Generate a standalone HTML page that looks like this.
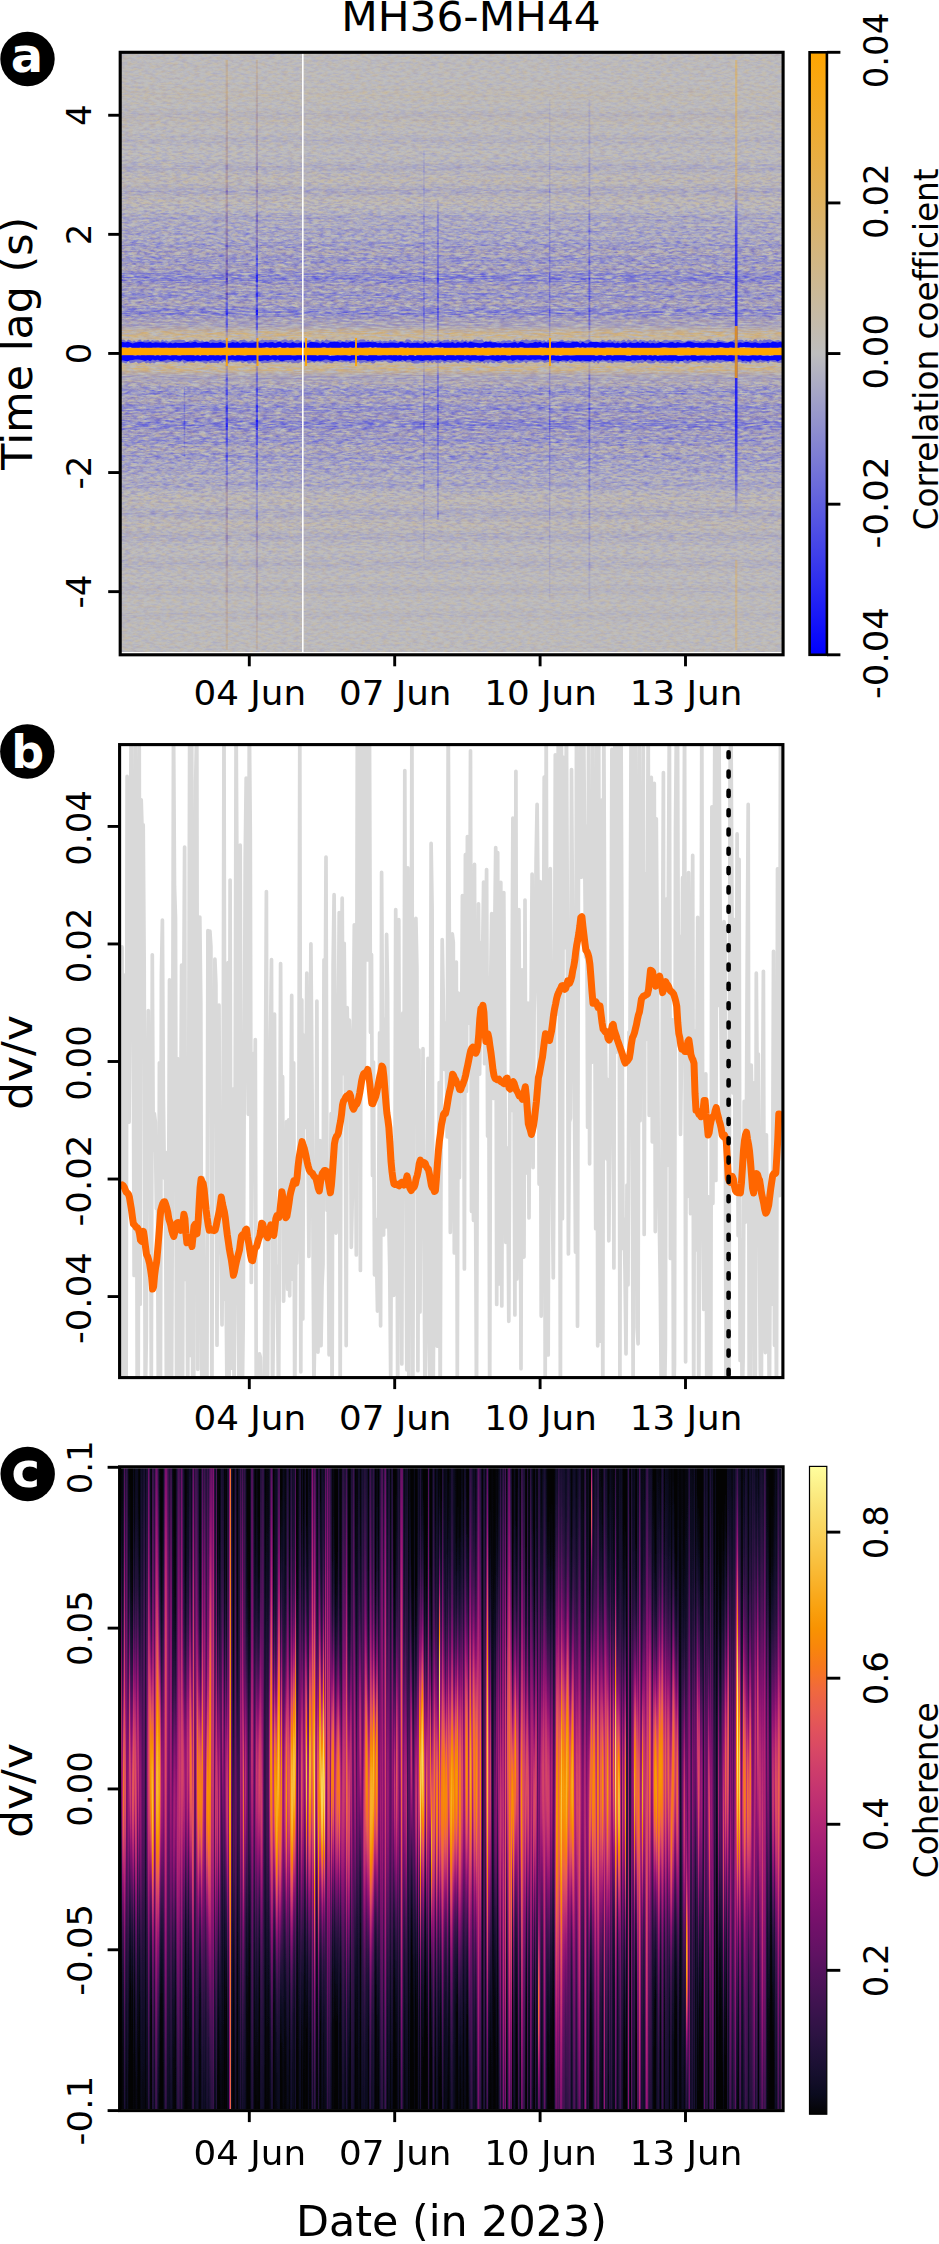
<!DOCTYPE html>
<html><head><meta charset="utf-8"><title>MH36-MH44</title>
<style>html,body{margin:0;padding:0;background:#fff;} svg{display:block;}</style>
</head><body>
<svg width="939" height="2244" viewBox="0 0 939 2244" font-family="'DejaVu Sans', Verdana, 'Liberation Sans', sans-serif" style="font-variant-ligatures:none">
<defs><linearGradient id="gRowA" x1="0" y1="52.3" x2="0" y2="652.2" gradientUnits="userSpaceOnUse"><stop offset="0.0000" stop-color="#fff" stop-opacity="0.250"/><stop offset="0.0033" stop-color="#fff" stop-opacity="0.250"/><stop offset="0.0067" stop-color="#fff" stop-opacity="0.250"/><stop offset="0.0100" stop-color="#fff" stop-opacity="0.250"/><stop offset="0.0133" stop-color="#fff" stop-opacity="0.250"/><stop offset="0.0167" stop-color="#fff" stop-opacity="0.250"/><stop offset="0.0200" stop-color="#fff" stop-opacity="0.250"/><stop offset="0.0233" stop-color="#fff" stop-opacity="0.250"/><stop offset="0.0267" stop-color="#fff" stop-opacity="0.250"/><stop offset="0.0300" stop-color="#fff" stop-opacity="0.250"/><stop offset="0.0333" stop-color="#fff" stop-opacity="0.250"/><stop offset="0.0367" stop-color="#fff" stop-opacity="0.250"/><stop offset="0.0400" stop-color="#fff" stop-opacity="0.250"/><stop offset="0.0433" stop-color="#fff" stop-opacity="0.250"/><stop offset="0.0467" stop-color="#fff" stop-opacity="0.250"/><stop offset="0.0500" stop-color="#fff" stop-opacity="0.250"/><stop offset="0.0533" stop-color="#fff" stop-opacity="0.250"/><stop offset="0.0567" stop-color="#fff" stop-opacity="0.250"/><stop offset="0.0600" stop-color="#fff" stop-opacity="0.250"/><stop offset="0.0633" stop-color="#fff" stop-opacity="0.250"/><stop offset="0.0667" stop-color="#fff" stop-opacity="0.250"/><stop offset="0.0700" stop-color="#fff" stop-opacity="0.250"/><stop offset="0.0733" stop-color="#fff" stop-opacity="0.250"/><stop offset="0.0767" stop-color="#fff" stop-opacity="0.250"/><stop offset="0.0800" stop-color="#fff" stop-opacity="0.250"/><stop offset="0.0833" stop-color="#fff" stop-opacity="0.252"/><stop offset="0.0867" stop-color="#fff" stop-opacity="0.257"/><stop offset="0.0900" stop-color="#fff" stop-opacity="0.262"/><stop offset="0.0933" stop-color="#fff" stop-opacity="0.267"/><stop offset="0.0967" stop-color="#fff" stop-opacity="0.272"/><stop offset="0.1000" stop-color="#fff" stop-opacity="0.277"/><stop offset="0.1033" stop-color="#fff" stop-opacity="0.282"/><stop offset="0.1067" stop-color="#fff" stop-opacity="0.287"/><stop offset="0.1100" stop-color="#fff" stop-opacity="0.292"/><stop offset="0.1133" stop-color="#fff" stop-opacity="0.297"/><stop offset="0.1167" stop-color="#fff" stop-opacity="0.302"/><stop offset="0.1200" stop-color="#fff" stop-opacity="0.307"/><stop offset="0.1233" stop-color="#fff" stop-opacity="0.312"/><stop offset="0.1267" stop-color="#fff" stop-opacity="0.317"/><stop offset="0.1300" stop-color="#fff" stop-opacity="0.322"/><stop offset="0.1333" stop-color="#fff" stop-opacity="0.327"/><stop offset="0.1367" stop-color="#fff" stop-opacity="0.332"/><stop offset="0.1400" stop-color="#fff" stop-opacity="0.337"/><stop offset="0.1433" stop-color="#fff" stop-opacity="0.342"/><stop offset="0.1467" stop-color="#fff" stop-opacity="0.347"/><stop offset="0.1500" stop-color="#fff" stop-opacity="0.352"/><stop offset="0.1533" stop-color="#fff" stop-opacity="0.357"/><stop offset="0.1567" stop-color="#fff" stop-opacity="0.362"/><stop offset="0.1600" stop-color="#fff" stop-opacity="0.367"/><stop offset="0.1633" stop-color="#fff" stop-opacity="0.372"/><stop offset="0.1667" stop-color="#fff" stop-opacity="0.377"/><stop offset="0.1700" stop-color="#fff" stop-opacity="0.382"/><stop offset="0.1733" stop-color="#fff" stop-opacity="0.387"/><stop offset="0.1767" stop-color="#fff" stop-opacity="0.392"/><stop offset="0.1800" stop-color="#fff" stop-opacity="0.397"/><stop offset="0.1833" stop-color="#fff" stop-opacity="0.402"/><stop offset="0.1867" stop-color="#fff" stop-opacity="0.407"/><stop offset="0.1900" stop-color="#fff" stop-opacity="0.412"/><stop offset="0.1933" stop-color="#fff" stop-opacity="0.417"/><stop offset="0.1967" stop-color="#fff" stop-opacity="0.422"/><stop offset="0.2000" stop-color="#fff" stop-opacity="0.427"/><stop offset="0.2033" stop-color="#fff" stop-opacity="0.432"/><stop offset="0.2067" stop-color="#fff" stop-opacity="0.437"/><stop offset="0.2100" stop-color="#fff" stop-opacity="0.442"/><stop offset="0.2133" stop-color="#fff" stop-opacity="0.447"/><stop offset="0.2167" stop-color="#fff" stop-opacity="0.452"/><stop offset="0.2200" stop-color="#fff" stop-opacity="0.457"/><stop offset="0.2233" stop-color="#fff" stop-opacity="0.462"/><stop offset="0.2267" stop-color="#fff" stop-opacity="0.467"/><stop offset="0.2300" stop-color="#fff" stop-opacity="0.472"/><stop offset="0.2333" stop-color="#fff" stop-opacity="0.477"/><stop offset="0.2367" stop-color="#fff" stop-opacity="0.482"/><stop offset="0.2400" stop-color="#fff" stop-opacity="0.487"/><stop offset="0.2433" stop-color="#fff" stop-opacity="0.492"/><stop offset="0.2467" stop-color="#fff" stop-opacity="0.497"/><stop offset="0.2500" stop-color="#fff" stop-opacity="0.508"/><stop offset="0.2533" stop-color="#fff" stop-opacity="0.528"/><stop offset="0.2567" stop-color="#fff" stop-opacity="0.548"/><stop offset="0.2600" stop-color="#fff" stop-opacity="0.568"/><stop offset="0.2633" stop-color="#fff" stop-opacity="0.588"/><stop offset="0.2667" stop-color="#fff" stop-opacity="0.608"/><stop offset="0.2700" stop-color="#fff" stop-opacity="0.628"/><stop offset="0.2733" stop-color="#fff" stop-opacity="0.648"/><stop offset="0.2767" stop-color="#fff" stop-opacity="0.668"/><stop offset="0.2800" stop-color="#fff" stop-opacity="0.688"/><stop offset="0.2833" stop-color="#fff" stop-opacity="0.708"/><stop offset="0.2867" stop-color="#fff" stop-opacity="0.728"/><stop offset="0.2900" stop-color="#fff" stop-opacity="0.748"/><stop offset="0.2933" stop-color="#fff" stop-opacity="0.768"/><stop offset="0.2967" stop-color="#fff" stop-opacity="0.788"/><stop offset="0.3000" stop-color="#fff" stop-opacity="0.808"/><stop offset="0.3033" stop-color="#fff" stop-opacity="0.828"/><stop offset="0.3067" stop-color="#fff" stop-opacity="0.848"/><stop offset="0.3100" stop-color="#fff" stop-opacity="0.868"/><stop offset="0.3133" stop-color="#fff" stop-opacity="0.888"/><stop offset="0.3167" stop-color="#fff" stop-opacity="0.908"/><stop offset="0.3200" stop-color="#fff" stop-opacity="0.928"/><stop offset="0.3233" stop-color="#fff" stop-opacity="0.948"/><stop offset="0.3267" stop-color="#fff" stop-opacity="0.968"/><stop offset="0.3300" stop-color="#fff" stop-opacity="0.988"/><stop offset="0.3333" stop-color="#fff" stop-opacity="1.000"/><stop offset="0.3367" stop-color="#fff" stop-opacity="1.000"/><stop offset="0.3400" stop-color="#fff" stop-opacity="1.000"/><stop offset="0.3433" stop-color="#fff" stop-opacity="1.000"/><stop offset="0.3467" stop-color="#fff" stop-opacity="1.000"/><stop offset="0.3500" stop-color="#fff" stop-opacity="1.000"/><stop offset="0.3533" stop-color="#fff" stop-opacity="1.000"/><stop offset="0.3567" stop-color="#fff" stop-opacity="1.000"/><stop offset="0.3600" stop-color="#fff" stop-opacity="1.000"/><stop offset="0.3633" stop-color="#fff" stop-opacity="1.000"/><stop offset="0.3667" stop-color="#fff" stop-opacity="1.000"/><stop offset="0.3700" stop-color="#fff" stop-opacity="1.000"/><stop offset="0.3733" stop-color="#fff" stop-opacity="1.000"/><stop offset="0.3767" stop-color="#fff" stop-opacity="1.000"/><stop offset="0.3800" stop-color="#fff" stop-opacity="1.000"/><stop offset="0.3833" stop-color="#fff" stop-opacity="1.000"/><stop offset="0.3867" stop-color="#fff" stop-opacity="1.000"/><stop offset="0.3900" stop-color="#fff" stop-opacity="1.000"/><stop offset="0.3933" stop-color="#fff" stop-opacity="1.000"/><stop offset="0.3967" stop-color="#fff" stop-opacity="1.000"/><stop offset="0.4000" stop-color="#fff" stop-opacity="1.000"/><stop offset="0.4033" stop-color="#fff" stop-opacity="1.000"/><stop offset="0.4067" stop-color="#fff" stop-opacity="1.000"/><stop offset="0.4100" stop-color="#fff" stop-opacity="1.000"/><stop offset="0.4133" stop-color="#fff" stop-opacity="1.000"/><stop offset="0.4167" stop-color="#fff" stop-opacity="1.000"/><stop offset="0.4200" stop-color="#fff" stop-opacity="1.000"/><stop offset="0.4233" stop-color="#fff" stop-opacity="1.000"/><stop offset="0.4267" stop-color="#fff" stop-opacity="1.000"/><stop offset="0.4300" stop-color="#fff" stop-opacity="1.000"/><stop offset="0.4333" stop-color="#fff" stop-opacity="1.000"/><stop offset="0.4367" stop-color="#fff" stop-opacity="1.000"/><stop offset="0.4400" stop-color="#fff" stop-opacity="0.952"/><stop offset="0.4433" stop-color="#fff" stop-opacity="0.825"/><stop offset="0.4467" stop-color="#fff" stop-opacity="0.697"/><stop offset="0.4500" stop-color="#fff" stop-opacity="0.570"/><stop offset="0.4533" stop-color="#fff" stop-opacity="0.443"/><stop offset="0.4567" stop-color="#fff" stop-opacity="0.316"/><stop offset="0.4600" stop-color="#fff" stop-opacity="0.300"/><stop offset="0.4633" stop-color="#fff" stop-opacity="0.300"/><stop offset="0.4667" stop-color="#fff" stop-opacity="0.300"/><stop offset="0.4700" stop-color="#fff" stop-opacity="0.300"/><stop offset="0.4733" stop-color="#fff" stop-opacity="0.300"/><stop offset="0.4767" stop-color="#fff" stop-opacity="0.300"/><stop offset="0.4800" stop-color="#fff" stop-opacity="0.300"/><stop offset="0.4833" stop-color="#fff" stop-opacity="0.300"/><stop offset="0.4867" stop-color="#fff" stop-opacity="0.300"/><stop offset="0.4900" stop-color="#fff" stop-opacity="0.300"/><stop offset="0.4933" stop-color="#fff" stop-opacity="0.300"/><stop offset="0.4967" stop-color="#fff" stop-opacity="0.300"/><stop offset="0.5000" stop-color="#fff" stop-opacity="0.300"/><stop offset="0.5033" stop-color="#fff" stop-opacity="0.300"/><stop offset="0.5067" stop-color="#fff" stop-opacity="0.300"/><stop offset="0.5100" stop-color="#fff" stop-opacity="0.300"/><stop offset="0.5133" stop-color="#fff" stop-opacity="0.300"/><stop offset="0.5167" stop-color="#fff" stop-opacity="0.300"/><stop offset="0.5200" stop-color="#fff" stop-opacity="0.300"/><stop offset="0.5233" stop-color="#fff" stop-opacity="0.300"/><stop offset="0.5267" stop-color="#fff" stop-opacity="0.300"/><stop offset="0.5300" stop-color="#fff" stop-opacity="0.300"/><stop offset="0.5333" stop-color="#fff" stop-opacity="0.300"/><stop offset="0.5367" stop-color="#fff" stop-opacity="0.300"/><stop offset="0.5400" stop-color="#fff" stop-opacity="0.300"/><stop offset="0.5433" stop-color="#fff" stop-opacity="0.411"/><stop offset="0.5467" stop-color="#fff" stop-opacity="0.538"/><stop offset="0.5500" stop-color="#fff" stop-opacity="0.666"/><stop offset="0.5533" stop-color="#fff" stop-opacity="0.793"/><stop offset="0.5567" stop-color="#fff" stop-opacity="0.920"/><stop offset="0.5600" stop-color="#fff" stop-opacity="1.000"/><stop offset="0.5633" stop-color="#fff" stop-opacity="1.000"/><stop offset="0.5667" stop-color="#fff" stop-opacity="1.000"/><stop offset="0.5700" stop-color="#fff" stop-opacity="1.000"/><stop offset="0.5733" stop-color="#fff" stop-opacity="1.000"/><stop offset="0.5767" stop-color="#fff" stop-opacity="1.000"/><stop offset="0.5800" stop-color="#fff" stop-opacity="1.000"/><stop offset="0.5833" stop-color="#fff" stop-opacity="1.000"/><stop offset="0.5867" stop-color="#fff" stop-opacity="1.000"/><stop offset="0.5900" stop-color="#fff" stop-opacity="1.000"/><stop offset="0.5933" stop-color="#fff" stop-opacity="1.000"/><stop offset="0.5967" stop-color="#fff" stop-opacity="1.000"/><stop offset="0.6000" stop-color="#fff" stop-opacity="1.000"/><stop offset="0.6033" stop-color="#fff" stop-opacity="1.000"/><stop offset="0.6067" stop-color="#fff" stop-opacity="1.000"/><stop offset="0.6100" stop-color="#fff" stop-opacity="1.000"/><stop offset="0.6133" stop-color="#fff" stop-opacity="1.000"/><stop offset="0.6167" stop-color="#fff" stop-opacity="1.000"/><stop offset="0.6200" stop-color="#fff" stop-opacity="1.000"/><stop offset="0.6233" stop-color="#fff" stop-opacity="1.000"/><stop offset="0.6267" stop-color="#fff" stop-opacity="1.000"/><stop offset="0.6300" stop-color="#fff" stop-opacity="1.000"/><stop offset="0.6333" stop-color="#fff" stop-opacity="1.000"/><stop offset="0.6367" stop-color="#fff" stop-opacity="1.000"/><stop offset="0.6400" stop-color="#fff" stop-opacity="1.000"/><stop offset="0.6433" stop-color="#fff" stop-opacity="1.000"/><stop offset="0.6467" stop-color="#fff" stop-opacity="1.000"/><stop offset="0.6500" stop-color="#fff" stop-opacity="1.000"/><stop offset="0.6533" stop-color="#fff" stop-opacity="1.000"/><stop offset="0.6567" stop-color="#fff" stop-opacity="1.000"/><stop offset="0.6600" stop-color="#fff" stop-opacity="1.000"/><stop offset="0.6633" stop-color="#fff" stop-opacity="1.000"/><stop offset="0.6667" stop-color="#fff" stop-opacity="0.993"/><stop offset="0.6700" stop-color="#fff" stop-opacity="0.973"/><stop offset="0.6733" stop-color="#fff" stop-opacity="0.953"/><stop offset="0.6767" stop-color="#fff" stop-opacity="0.933"/><stop offset="0.6800" stop-color="#fff" stop-opacity="0.913"/><stop offset="0.6833" stop-color="#fff" stop-opacity="0.893"/><stop offset="0.6867" stop-color="#fff" stop-opacity="0.873"/><stop offset="0.6900" stop-color="#fff" stop-opacity="0.853"/><stop offset="0.6933" stop-color="#fff" stop-opacity="0.833"/><stop offset="0.6967" stop-color="#fff" stop-opacity="0.813"/><stop offset="0.7000" stop-color="#fff" stop-opacity="0.793"/><stop offset="0.7033" stop-color="#fff" stop-opacity="0.773"/><stop offset="0.7067" stop-color="#fff" stop-opacity="0.753"/><stop offset="0.7100" stop-color="#fff" stop-opacity="0.733"/><stop offset="0.7133" stop-color="#fff" stop-opacity="0.713"/><stop offset="0.7167" stop-color="#fff" stop-opacity="0.693"/><stop offset="0.7200" stop-color="#fff" stop-opacity="0.673"/><stop offset="0.7233" stop-color="#fff" stop-opacity="0.653"/><stop offset="0.7267" stop-color="#fff" stop-opacity="0.633"/><stop offset="0.7300" stop-color="#fff" stop-opacity="0.613"/><stop offset="0.7333" stop-color="#fff" stop-opacity="0.593"/><stop offset="0.7367" stop-color="#fff" stop-opacity="0.573"/><stop offset="0.7400" stop-color="#fff" stop-opacity="0.553"/><stop offset="0.7433" stop-color="#fff" stop-opacity="0.533"/><stop offset="0.7467" stop-color="#fff" stop-opacity="0.513"/><stop offset="0.7500" stop-color="#fff" stop-opacity="0.498"/><stop offset="0.7533" stop-color="#fff" stop-opacity="0.493"/><stop offset="0.7567" stop-color="#fff" stop-opacity="0.488"/><stop offset="0.7600" stop-color="#fff" stop-opacity="0.483"/><stop offset="0.7633" stop-color="#fff" stop-opacity="0.478"/><stop offset="0.7667" stop-color="#fff" stop-opacity="0.473"/><stop offset="0.7700" stop-color="#fff" stop-opacity="0.468"/><stop offset="0.7733" stop-color="#fff" stop-opacity="0.463"/><stop offset="0.7767" stop-color="#fff" stop-opacity="0.458"/><stop offset="0.7800" stop-color="#fff" stop-opacity="0.453"/><stop offset="0.7833" stop-color="#fff" stop-opacity="0.448"/><stop offset="0.7867" stop-color="#fff" stop-opacity="0.443"/><stop offset="0.7900" stop-color="#fff" stop-opacity="0.438"/><stop offset="0.7933" stop-color="#fff" stop-opacity="0.433"/><stop offset="0.7967" stop-color="#fff" stop-opacity="0.428"/><stop offset="0.8000" stop-color="#fff" stop-opacity="0.423"/><stop offset="0.8033" stop-color="#fff" stop-opacity="0.418"/><stop offset="0.8067" stop-color="#fff" stop-opacity="0.413"/><stop offset="0.8100" stop-color="#fff" stop-opacity="0.408"/><stop offset="0.8133" stop-color="#fff" stop-opacity="0.403"/><stop offset="0.8167" stop-color="#fff" stop-opacity="0.398"/><stop offset="0.8200" stop-color="#fff" stop-opacity="0.393"/><stop offset="0.8233" stop-color="#fff" stop-opacity="0.388"/><stop offset="0.8267" stop-color="#fff" stop-opacity="0.383"/><stop offset="0.8300" stop-color="#fff" stop-opacity="0.378"/><stop offset="0.8333" stop-color="#fff" stop-opacity="0.373"/><stop offset="0.8367" stop-color="#fff" stop-opacity="0.368"/><stop offset="0.8400" stop-color="#fff" stop-opacity="0.363"/><stop offset="0.8433" stop-color="#fff" stop-opacity="0.358"/><stop offset="0.8467" stop-color="#fff" stop-opacity="0.353"/><stop offset="0.8500" stop-color="#fff" stop-opacity="0.348"/><stop offset="0.8533" stop-color="#fff" stop-opacity="0.343"/><stop offset="0.8567" stop-color="#fff" stop-opacity="0.338"/><stop offset="0.8600" stop-color="#fff" stop-opacity="0.333"/><stop offset="0.8633" stop-color="#fff" stop-opacity="0.328"/><stop offset="0.8667" stop-color="#fff" stop-opacity="0.323"/><stop offset="0.8700" stop-color="#fff" stop-opacity="0.318"/><stop offset="0.8733" stop-color="#fff" stop-opacity="0.313"/><stop offset="0.8767" stop-color="#fff" stop-opacity="0.308"/><stop offset="0.8800" stop-color="#fff" stop-opacity="0.303"/><stop offset="0.8833" stop-color="#fff" stop-opacity="0.298"/><stop offset="0.8867" stop-color="#fff" stop-opacity="0.293"/><stop offset="0.8900" stop-color="#fff" stop-opacity="0.288"/><stop offset="0.8933" stop-color="#fff" stop-opacity="0.283"/><stop offset="0.8967" stop-color="#fff" stop-opacity="0.278"/><stop offset="0.9000" stop-color="#fff" stop-opacity="0.273"/><stop offset="0.9033" stop-color="#fff" stop-opacity="0.268"/><stop offset="0.9067" stop-color="#fff" stop-opacity="0.263"/><stop offset="0.9100" stop-color="#fff" stop-opacity="0.258"/><stop offset="0.9133" stop-color="#fff" stop-opacity="0.253"/><stop offset="0.9167" stop-color="#fff" stop-opacity="0.250"/><stop offset="0.9200" stop-color="#fff" stop-opacity="0.250"/><stop offset="0.9233" stop-color="#fff" stop-opacity="0.250"/><stop offset="0.9267" stop-color="#fff" stop-opacity="0.250"/><stop offset="0.9300" stop-color="#fff" stop-opacity="0.250"/><stop offset="0.9333" stop-color="#fff" stop-opacity="0.250"/><stop offset="0.9367" stop-color="#fff" stop-opacity="0.250"/><stop offset="0.9400" stop-color="#fff" stop-opacity="0.250"/><stop offset="0.9433" stop-color="#fff" stop-opacity="0.250"/><stop offset="0.9467" stop-color="#fff" stop-opacity="0.250"/><stop offset="0.9500" stop-color="#fff" stop-opacity="0.250"/><stop offset="0.9533" stop-color="#fff" stop-opacity="0.250"/><stop offset="0.9567" stop-color="#fff" stop-opacity="0.250"/><stop offset="0.9600" stop-color="#fff" stop-opacity="0.250"/><stop offset="0.9633" stop-color="#fff" stop-opacity="0.250"/><stop offset="0.9667" stop-color="#fff" stop-opacity="0.250"/><stop offset="0.9700" stop-color="#fff" stop-opacity="0.250"/><stop offset="0.9733" stop-color="#fff" stop-opacity="0.250"/><stop offset="0.9767" stop-color="#fff" stop-opacity="0.250"/><stop offset="0.9800" stop-color="#fff" stop-opacity="0.250"/><stop offset="0.9833" stop-color="#fff" stop-opacity="0.250"/><stop offset="0.9867" stop-color="#fff" stop-opacity="0.250"/><stop offset="0.9900" stop-color="#fff" stop-opacity="0.250"/><stop offset="0.9933" stop-color="#fff" stop-opacity="0.250"/><stop offset="0.9967" stop-color="#fff" stop-opacity="0.250"/><stop offset="1.0000" stop-color="#fff" stop-opacity="0.250"/></linearGradient>
<linearGradient id="gBandB" x1="0" y1="52.3" x2="0" y2="652.2" gradientUnits="userSpaceOnUse"><stop offset="0.0000" stop-color="#0000ff" stop-opacity="0.000"/><stop offset="0.0033" stop-color="#0000ff" stop-opacity="0.000"/><stop offset="0.0067" stop-color="#0000ff" stop-opacity="0.000"/><stop offset="0.0100" stop-color="#0000ff" stop-opacity="0.000"/><stop offset="0.0133" stop-color="#0000ff" stop-opacity="0.000"/><stop offset="0.0167" stop-color="#0000ff" stop-opacity="0.000"/><stop offset="0.0200" stop-color="#0000ff" stop-opacity="0.000"/><stop offset="0.0233" stop-color="#0000ff" stop-opacity="0.000"/><stop offset="0.0267" stop-color="#0000ff" stop-opacity="0.000"/><stop offset="0.0300" stop-color="#0000ff" stop-opacity="0.000"/><stop offset="0.0333" stop-color="#0000ff" stop-opacity="0.000"/><stop offset="0.0367" stop-color="#0000ff" stop-opacity="0.000"/><stop offset="0.0400" stop-color="#0000ff" stop-opacity="0.000"/><stop offset="0.0433" stop-color="#0000ff" stop-opacity="0.000"/><stop offset="0.0467" stop-color="#0000ff" stop-opacity="0.000"/><stop offset="0.0500" stop-color="#0000ff" stop-opacity="0.000"/><stop offset="0.0533" stop-color="#0000ff" stop-opacity="0.000"/><stop offset="0.0567" stop-color="#0000ff" stop-opacity="0.000"/><stop offset="0.0600" stop-color="#0000ff" stop-opacity="0.000"/><stop offset="0.0633" stop-color="#0000ff" stop-opacity="0.000"/><stop offset="0.0667" stop-color="#0000ff" stop-opacity="0.000"/><stop offset="0.0700" stop-color="#0000ff" stop-opacity="0.000"/><stop offset="0.0733" stop-color="#0000ff" stop-opacity="0.000"/><stop offset="0.0767" stop-color="#0000ff" stop-opacity="0.000"/><stop offset="0.0800" stop-color="#0000ff" stop-opacity="0.000"/><stop offset="0.0833" stop-color="#0000ff" stop-opacity="0.000"/><stop offset="0.0867" stop-color="#0000ff" stop-opacity="0.000"/><stop offset="0.0900" stop-color="#0000ff" stop-opacity="0.001"/><stop offset="0.0933" stop-color="#0000ff" stop-opacity="0.004"/><stop offset="0.0967" stop-color="#0000ff" stop-opacity="0.015"/><stop offset="0.1000" stop-color="#0000ff" stop-opacity="0.033"/><stop offset="0.1033" stop-color="#0000ff" stop-opacity="0.049"/><stop offset="0.1067" stop-color="#0000ff" stop-opacity="0.046"/><stop offset="0.1100" stop-color="#0000ff" stop-opacity="0.027"/><stop offset="0.1133" stop-color="#0000ff" stop-opacity="0.011"/><stop offset="0.1167" stop-color="#0000ff" stop-opacity="0.003"/><stop offset="0.1200" stop-color="#0000ff" stop-opacity="0.000"/><stop offset="0.1233" stop-color="#0000ff" stop-opacity="0.000"/><stop offset="0.1267" stop-color="#0000ff" stop-opacity="0.000"/><stop offset="0.1300" stop-color="#0000ff" stop-opacity="0.000"/><stop offset="0.1333" stop-color="#0000ff" stop-opacity="0.002"/><stop offset="0.1367" stop-color="#0000ff" stop-opacity="0.010"/><stop offset="0.1400" stop-color="#0000ff" stop-opacity="0.028"/><stop offset="0.1433" stop-color="#0000ff" stop-opacity="0.051"/><stop offset="0.1467" stop-color="#0000ff" stop-opacity="0.060"/><stop offset="0.1500" stop-color="#0000ff" stop-opacity="0.045"/><stop offset="0.1533" stop-color="#0000ff" stop-opacity="0.022"/><stop offset="0.1567" stop-color="#0000ff" stop-opacity="0.007"/><stop offset="0.1600" stop-color="#0000ff" stop-opacity="0.001"/><stop offset="0.1633" stop-color="#0000ff" stop-opacity="0.000"/><stop offset="0.1667" stop-color="#0000ff" stop-opacity="0.000"/><stop offset="0.1700" stop-color="#0000ff" stop-opacity="0.000"/><stop offset="0.1733" stop-color="#0000ff" stop-opacity="0.000"/><stop offset="0.1767" stop-color="#0000ff" stop-opacity="0.001"/><stop offset="0.1800" stop-color="#0000ff" stop-opacity="0.005"/><stop offset="0.1833" stop-color="#0000ff" stop-opacity="0.020"/><stop offset="0.1867" stop-color="#0000ff" stop-opacity="0.052"/><stop offset="0.1900" stop-color="#0000ff" stop-opacity="0.089"/><stop offset="0.1933" stop-color="#0000ff" stop-opacity="0.098"/><stop offset="0.1967" stop-color="#0000ff" stop-opacity="0.069"/><stop offset="0.2000" stop-color="#0000ff" stop-opacity="0.031"/><stop offset="0.2033" stop-color="#0000ff" stop-opacity="0.009"/><stop offset="0.2067" stop-color="#0000ff" stop-opacity="0.002"/><stop offset="0.2100" stop-color="#0000ff" stop-opacity="0.000"/><stop offset="0.2133" stop-color="#0000ff" stop-opacity="0.000"/><stop offset="0.2167" stop-color="#0000ff" stop-opacity="0.002"/><stop offset="0.2200" stop-color="#0000ff" stop-opacity="0.010"/><stop offset="0.2233" stop-color="#0000ff" stop-opacity="0.035"/><stop offset="0.2267" stop-color="#0000ff" stop-opacity="0.079"/><stop offset="0.2300" stop-color="#0000ff" stop-opacity="0.117"/><stop offset="0.2333" stop-color="#0000ff" stop-opacity="0.110"/><stop offset="0.2367" stop-color="#0000ff" stop-opacity="0.066"/><stop offset="0.2400" stop-color="#0000ff" stop-opacity="0.026"/><stop offset="0.2433" stop-color="#0000ff" stop-opacity="0.006"/><stop offset="0.2467" stop-color="#0000ff" stop-opacity="0.001"/><stop offset="0.2500" stop-color="#0000ff" stop-opacity="0.000"/><stop offset="0.2533" stop-color="#0000ff" stop-opacity="0.000"/><stop offset="0.2567" stop-color="#0000ff" stop-opacity="0.000"/><stop offset="0.2600" stop-color="#0000ff" stop-opacity="0.002"/><stop offset="0.2633" stop-color="#0000ff" stop-opacity="0.009"/><stop offset="0.2667" stop-color="#0000ff" stop-opacity="0.028"/><stop offset="0.2700" stop-color="#0000ff" stop-opacity="0.065"/><stop offset="0.2733" stop-color="#0000ff" stop-opacity="0.108"/><stop offset="0.2767" stop-color="#0000ff" stop-opacity="0.130"/><stop offset="0.2800" stop-color="#0000ff" stop-opacity="0.114"/><stop offset="0.2833" stop-color="#0000ff" stop-opacity="0.077"/><stop offset="0.2867" stop-color="#0000ff" stop-opacity="0.053"/><stop offset="0.2900" stop-color="#0000ff" stop-opacity="0.063"/><stop offset="0.2933" stop-color="#0000ff" stop-opacity="0.099"/><stop offset="0.2967" stop-color="#0000ff" stop-opacity="0.129"/><stop offset="0.3000" stop-color="#0000ff" stop-opacity="0.124"/><stop offset="0.3033" stop-color="#0000ff" stop-opacity="0.089"/><stop offset="0.3067" stop-color="#0000ff" stop-opacity="0.056"/><stop offset="0.3100" stop-color="#0000ff" stop-opacity="0.051"/><stop offset="0.3133" stop-color="#0000ff" stop-opacity="0.080"/><stop offset="0.3167" stop-color="#0000ff" stop-opacity="0.128"/><stop offset="0.3200" stop-color="#0000ff" stop-opacity="0.168"/><stop offset="0.3233" stop-color="#0000ff" stop-opacity="0.175"/><stop offset="0.3267" stop-color="#0000ff" stop-opacity="0.146"/><stop offset="0.3300" stop-color="#0000ff" stop-opacity="0.104"/><stop offset="0.3333" stop-color="#0000ff" stop-opacity="0.082"/><stop offset="0.3367" stop-color="#0000ff" stop-opacity="0.097"/><stop offset="0.3400" stop-color="#0000ff" stop-opacity="0.141"/><stop offset="0.3433" stop-color="#0000ff" stop-opacity="0.188"/><stop offset="0.3467" stop-color="#0000ff" stop-opacity="0.207"/><stop offset="0.3500" stop-color="#0000ff" stop-opacity="0.186"/><stop offset="0.3533" stop-color="#0000ff" stop-opacity="0.144"/><stop offset="0.3567" stop-color="#0000ff" stop-opacity="0.111"/><stop offset="0.3600" stop-color="#0000ff" stop-opacity="0.109"/><stop offset="0.3633" stop-color="#0000ff" stop-opacity="0.144"/><stop offset="0.3667" stop-color="#0000ff" stop-opacity="0.207"/><stop offset="0.3700" stop-color="#0000ff" stop-opacity="0.281"/><stop offset="0.3733" stop-color="#0000ff" stop-opacity="0.338"/><stop offset="0.3767" stop-color="#0000ff" stop-opacity="0.358"/><stop offset="0.3800" stop-color="#0000ff" stop-opacity="0.330"/><stop offset="0.3833" stop-color="#0000ff" stop-opacity="0.269"/><stop offset="0.3867" stop-color="#0000ff" stop-opacity="0.200"/><stop offset="0.3900" stop-color="#0000ff" stop-opacity="0.146"/><stop offset="0.3933" stop-color="#0000ff" stop-opacity="0.125"/><stop offset="0.3967" stop-color="#0000ff" stop-opacity="0.142"/><stop offset="0.4000" stop-color="#0000ff" stop-opacity="0.187"/><stop offset="0.4033" stop-color="#0000ff" stop-opacity="0.233"/><stop offset="0.4067" stop-color="#0000ff" stop-opacity="0.246"/><stop offset="0.4100" stop-color="#0000ff" stop-opacity="0.215"/><stop offset="0.4133" stop-color="#0000ff" stop-opacity="0.159"/><stop offset="0.4167" stop-color="#0000ff" stop-opacity="0.117"/><stop offset="0.4200" stop-color="#0000ff" stop-opacity="0.113"/><stop offset="0.4233" stop-color="#0000ff" stop-opacity="0.156"/><stop offset="0.4267" stop-color="#0000ff" stop-opacity="0.229"/><stop offset="0.4300" stop-color="#0000ff" stop-opacity="0.302"/><stop offset="0.4333" stop-color="#0000ff" stop-opacity="0.336"/><stop offset="0.4367" stop-color="#0000ff" stop-opacity="0.311"/><stop offset="0.4400" stop-color="#0000ff" stop-opacity="0.245"/><stop offset="0.4433" stop-color="#0000ff" stop-opacity="0.178"/><stop offset="0.4467" stop-color="#0000ff" stop-opacity="0.151"/><stop offset="0.4500" stop-color="#0000ff" stop-opacity="0.168"/><stop offset="0.4533" stop-color="#0000ff" stop-opacity="0.191"/><stop offset="0.4567" stop-color="#0000ff" stop-opacity="0.175"/><stop offset="0.4600" stop-color="#0000ff" stop-opacity="0.120"/><stop offset="0.4633" stop-color="#0000ff" stop-opacity="0.060"/><stop offset="0.4667" stop-color="#0000ff" stop-opacity="0.022"/><stop offset="0.4700" stop-color="#0000ff" stop-opacity="0.007"/><stop offset="0.4733" stop-color="#0000ff" stop-opacity="0.002"/><stop offset="0.4767" stop-color="#0000ff" stop-opacity="0.001"/><stop offset="0.4800" stop-color="#0000ff" stop-opacity="0.000"/><stop offset="0.4833" stop-color="#0000ff" stop-opacity="0.000"/><stop offset="0.4867" stop-color="#0000ff" stop-opacity="0.000"/><stop offset="0.4900" stop-color="#0000ff" stop-opacity="0.000"/><stop offset="0.4933" stop-color="#0000ff" stop-opacity="0.000"/><stop offset="0.4967" stop-color="#0000ff" stop-opacity="0.000"/><stop offset="0.5000" stop-color="#0000ff" stop-opacity="0.000"/><stop offset="0.5033" stop-color="#0000ff" stop-opacity="0.000"/><stop offset="0.5067" stop-color="#0000ff" stop-opacity="0.000"/><stop offset="0.5100" stop-color="#0000ff" stop-opacity="0.000"/><stop offset="0.5133" stop-color="#0000ff" stop-opacity="0.000"/><stop offset="0.5167" stop-color="#0000ff" stop-opacity="0.000"/><stop offset="0.5200" stop-color="#0000ff" stop-opacity="0.000"/><stop offset="0.5233" stop-color="#0000ff" stop-opacity="0.001"/><stop offset="0.5267" stop-color="#0000ff" stop-opacity="0.005"/><stop offset="0.5300" stop-color="#0000ff" stop-opacity="0.019"/><stop offset="0.5333" stop-color="#0000ff" stop-opacity="0.054"/><stop offset="0.5367" stop-color="#0000ff" stop-opacity="0.112"/><stop offset="0.5400" stop-color="#0000ff" stop-opacity="0.167"/><stop offset="0.5433" stop-color="#0000ff" stop-opacity="0.181"/><stop offset="0.5467" stop-color="#0000ff" stop-opacity="0.145"/><stop offset="0.5500" stop-color="#0000ff" stop-opacity="0.094"/><stop offset="0.5533" stop-color="#0000ff" stop-opacity="0.071"/><stop offset="0.5567" stop-color="#0000ff" stop-opacity="0.096"/><stop offset="0.5600" stop-color="#0000ff" stop-opacity="0.154"/><stop offset="0.5633" stop-color="#0000ff" stop-opacity="0.213"/><stop offset="0.5667" stop-color="#0000ff" stop-opacity="0.236"/><stop offset="0.5700" stop-color="#0000ff" stop-opacity="0.208"/><stop offset="0.5733" stop-color="#0000ff" stop-opacity="0.151"/><stop offset="0.5767" stop-color="#0000ff" stop-opacity="0.102"/><stop offset="0.5800" stop-color="#0000ff" stop-opacity="0.086"/><stop offset="0.5833" stop-color="#0000ff" stop-opacity="0.113"/><stop offset="0.5867" stop-color="#0000ff" stop-opacity="0.172"/><stop offset="0.5900" stop-color="#0000ff" stop-opacity="0.237"/><stop offset="0.5933" stop-color="#0000ff" stop-opacity="0.271"/><stop offset="0.5967" stop-color="#0000ff" stop-opacity="0.256"/><stop offset="0.6000" stop-color="#0000ff" stop-opacity="0.208"/><stop offset="0.6033" stop-color="#0000ff" stop-opacity="0.168"/><stop offset="0.6067" stop-color="#0000ff" stop-opacity="0.164"/><stop offset="0.6100" stop-color="#0000ff" stop-opacity="0.201"/><stop offset="0.6133" stop-color="#0000ff" stop-opacity="0.264"/><stop offset="0.6167" stop-color="#0000ff" stop-opacity="0.324"/><stop offset="0.6200" stop-color="#0000ff" stop-opacity="0.354"/><stop offset="0.6233" stop-color="#0000ff" stop-opacity="0.339"/><stop offset="0.6267" stop-color="#0000ff" stop-opacity="0.284"/><stop offset="0.6300" stop-color="#0000ff" stop-opacity="0.213"/><stop offset="0.6333" stop-color="#0000ff" stop-opacity="0.155"/><stop offset="0.6367" stop-color="#0000ff" stop-opacity="0.132"/><stop offset="0.6400" stop-color="#0000ff" stop-opacity="0.151"/><stop offset="0.6433" stop-color="#0000ff" stop-opacity="0.192"/><stop offset="0.6467" stop-color="#0000ff" stop-opacity="0.222"/><stop offset="0.6500" stop-color="#0000ff" stop-opacity="0.211"/><stop offset="0.6533" stop-color="#0000ff" stop-opacity="0.161"/><stop offset="0.6567" stop-color="#0000ff" stop-opacity="0.102"/><stop offset="0.6600" stop-color="#0000ff" stop-opacity="0.063"/><stop offset="0.6633" stop-color="#0000ff" stop-opacity="0.060"/><stop offset="0.6667" stop-color="#0000ff" stop-opacity="0.091"/><stop offset="0.6700" stop-color="#0000ff" stop-opacity="0.140"/><stop offset="0.6733" stop-color="#0000ff" stop-opacity="0.177"/><stop offset="0.6767" stop-color="#0000ff" stop-opacity="0.178"/><stop offset="0.6800" stop-color="#0000ff" stop-opacity="0.142"/><stop offset="0.6833" stop-color="#0000ff" stop-opacity="0.097"/><stop offset="0.6867" stop-color="#0000ff" stop-opacity="0.077"/><stop offset="0.6900" stop-color="#0000ff" stop-opacity="0.094"/><stop offset="0.6933" stop-color="#0000ff" stop-opacity="0.128"/><stop offset="0.6967" stop-color="#0000ff" stop-opacity="0.141"/><stop offset="0.7000" stop-color="#0000ff" stop-opacity="0.115"/><stop offset="0.7033" stop-color="#0000ff" stop-opacity="0.069"/><stop offset="0.7067" stop-color="#0000ff" stop-opacity="0.037"/><stop offset="0.7100" stop-color="#0000ff" stop-opacity="0.037"/><stop offset="0.7133" stop-color="#0000ff" stop-opacity="0.068"/><stop offset="0.7167" stop-color="#0000ff" stop-opacity="0.114"/><stop offset="0.7200" stop-color="#0000ff" stop-opacity="0.140"/><stop offset="0.7233" stop-color="#0000ff" stop-opacity="0.124"/><stop offset="0.7267" stop-color="#0000ff" stop-opacity="0.079"/><stop offset="0.7300" stop-color="#0000ff" stop-opacity="0.037"/><stop offset="0.7333" stop-color="#0000ff" stop-opacity="0.012"/><stop offset="0.7367" stop-color="#0000ff" stop-opacity="0.003"/><stop offset="0.7400" stop-color="#0000ff" stop-opacity="0.001"/><stop offset="0.7433" stop-color="#0000ff" stop-opacity="0.000"/><stop offset="0.7467" stop-color="#0000ff" stop-opacity="0.000"/><stop offset="0.7500" stop-color="#0000ff" stop-opacity="0.001"/><stop offset="0.7533" stop-color="#0000ff" stop-opacity="0.004"/><stop offset="0.7567" stop-color="#0000ff" stop-opacity="0.013"/><stop offset="0.7600" stop-color="#0000ff" stop-opacity="0.037"/><stop offset="0.7633" stop-color="#0000ff" stop-opacity="0.073"/><stop offset="0.7667" stop-color="#0000ff" stop-opacity="0.104"/><stop offset="0.7700" stop-color="#0000ff" stop-opacity="0.107"/><stop offset="0.7733" stop-color="#0000ff" stop-opacity="0.079"/><stop offset="0.7767" stop-color="#0000ff" stop-opacity="0.043"/><stop offset="0.7800" stop-color="#0000ff" stop-opacity="0.016"/><stop offset="0.7833" stop-color="#0000ff" stop-opacity="0.005"/><stop offset="0.7867" stop-color="#0000ff" stop-opacity="0.001"/><stop offset="0.7900" stop-color="#0000ff" stop-opacity="0.001"/><stop offset="0.7933" stop-color="#0000ff" stop-opacity="0.004"/><stop offset="0.7967" stop-color="#0000ff" stop-opacity="0.014"/><stop offset="0.8000" stop-color="#0000ff" stop-opacity="0.035"/><stop offset="0.8033" stop-color="#0000ff" stop-opacity="0.066"/><stop offset="0.8067" stop-color="#0000ff" stop-opacity="0.088"/><stop offset="0.8100" stop-color="#0000ff" stop-opacity="0.085"/><stop offset="0.8133" stop-color="#0000ff" stop-opacity="0.059"/><stop offset="0.8167" stop-color="#0000ff" stop-opacity="0.030"/><stop offset="0.8200" stop-color="#0000ff" stop-opacity="0.011"/><stop offset="0.8233" stop-color="#0000ff" stop-opacity="0.003"/><stop offset="0.8267" stop-color="#0000ff" stop-opacity="0.001"/><stop offset="0.8300" stop-color="#0000ff" stop-opacity="0.000"/><stop offset="0.8333" stop-color="#0000ff" stop-opacity="0.000"/><stop offset="0.8367" stop-color="#0000ff" stop-opacity="0.001"/><stop offset="0.8400" stop-color="#0000ff" stop-opacity="0.006"/><stop offset="0.8433" stop-color="#0000ff" stop-opacity="0.018"/><stop offset="0.8467" stop-color="#0000ff" stop-opacity="0.039"/><stop offset="0.8500" stop-color="#0000ff" stop-opacity="0.061"/><stop offset="0.8533" stop-color="#0000ff" stop-opacity="0.070"/><stop offset="0.8567" stop-color="#0000ff" stop-opacity="0.057"/><stop offset="0.8600" stop-color="#0000ff" stop-opacity="0.034"/><stop offset="0.8633" stop-color="#0000ff" stop-opacity="0.014"/><stop offset="0.8667" stop-color="#0000ff" stop-opacity="0.004"/><stop offset="0.8700" stop-color="#0000ff" stop-opacity="0.001"/><stop offset="0.8733" stop-color="#0000ff" stop-opacity="0.000"/><stop offset="0.8767" stop-color="#0000ff" stop-opacity="0.000"/><stop offset="0.8800" stop-color="#0000ff" stop-opacity="0.000"/><stop offset="0.8833" stop-color="#0000ff" stop-opacity="0.002"/><stop offset="0.8867" stop-color="#0000ff" stop-opacity="0.008"/><stop offset="0.8900" stop-color="#0000ff" stop-opacity="0.023"/><stop offset="0.8933" stop-color="#0000ff" stop-opacity="0.042"/><stop offset="0.8967" stop-color="#0000ff" stop-opacity="0.050"/><stop offset="0.9000" stop-color="#0000ff" stop-opacity="0.038"/><stop offset="0.9033" stop-color="#0000ff" stop-opacity="0.019"/><stop offset="0.9067" stop-color="#0000ff" stop-opacity="0.006"/><stop offset="0.9100" stop-color="#0000ff" stop-opacity="0.001"/><stop offset="0.9133" stop-color="#0000ff" stop-opacity="0.000"/><stop offset="0.9167" stop-color="#0000ff" stop-opacity="0.000"/><stop offset="0.9200" stop-color="#0000ff" stop-opacity="0.000"/><stop offset="0.9233" stop-color="#0000ff" stop-opacity="0.001"/><stop offset="0.9267" stop-color="#0000ff" stop-opacity="0.003"/><stop offset="0.9300" stop-color="#0000ff" stop-opacity="0.011"/><stop offset="0.9333" stop-color="#0000ff" stop-opacity="0.026"/><stop offset="0.9367" stop-color="#0000ff" stop-opacity="0.039"/><stop offset="0.9400" stop-color="#0000ff" stop-opacity="0.037"/><stop offset="0.9433" stop-color="#0000ff" stop-opacity="0.023"/><stop offset="0.9467" stop-color="#0000ff" stop-opacity="0.009"/><stop offset="0.9500" stop-color="#0000ff" stop-opacity="0.002"/><stop offset="0.9533" stop-color="#0000ff" stop-opacity="0.000"/><stop offset="0.9567" stop-color="#0000ff" stop-opacity="0.000"/><stop offset="0.9600" stop-color="#0000ff" stop-opacity="0.000"/><stop offset="0.9633" stop-color="#0000ff" stop-opacity="0.000"/><stop offset="0.9667" stop-color="#0000ff" stop-opacity="0.000"/><stop offset="0.9700" stop-color="#0000ff" stop-opacity="0.000"/><stop offset="0.9733" stop-color="#0000ff" stop-opacity="0.000"/><stop offset="0.9767" stop-color="#0000ff" stop-opacity="0.000"/><stop offset="0.9800" stop-color="#0000ff" stop-opacity="0.000"/><stop offset="0.9833" stop-color="#0000ff" stop-opacity="0.000"/><stop offset="0.9867" stop-color="#0000ff" stop-opacity="0.000"/><stop offset="0.9900" stop-color="#0000ff" stop-opacity="0.000"/><stop offset="0.9933" stop-color="#0000ff" stop-opacity="0.000"/><stop offset="0.9967" stop-color="#0000ff" stop-opacity="0.000"/><stop offset="1.0000" stop-color="#0000ff" stop-opacity="0.000"/></linearGradient>
<linearGradient id="gBandO" x1="0" y1="52.3" x2="0" y2="652.2" gradientUnits="userSpaceOnUse"><stop offset="0.0000" stop-color="#ffa500" stop-opacity="0.000"/><stop offset="0.0033" stop-color="#ffa500" stop-opacity="0.000"/><stop offset="0.0067" stop-color="#ffa500" stop-opacity="0.000"/><stop offset="0.0100" stop-color="#ffa500" stop-opacity="0.000"/><stop offset="0.0133" stop-color="#ffa500" stop-opacity="0.000"/><stop offset="0.0167" stop-color="#ffa500" stop-opacity="0.000"/><stop offset="0.0200" stop-color="#ffa500" stop-opacity="0.000"/><stop offset="0.0233" stop-color="#ffa500" stop-opacity="0.000"/><stop offset="0.0267" stop-color="#ffa500" stop-opacity="0.000"/><stop offset="0.0300" stop-color="#ffa500" stop-opacity="0.000"/><stop offset="0.0333" stop-color="#ffa500" stop-opacity="0.000"/><stop offset="0.0367" stop-color="#ffa500" stop-opacity="0.000"/><stop offset="0.0400" stop-color="#ffa500" stop-opacity="0.000"/><stop offset="0.0433" stop-color="#ffa500" stop-opacity="0.000"/><stop offset="0.0467" stop-color="#ffa500" stop-opacity="0.000"/><stop offset="0.0500" stop-color="#ffa500" stop-opacity="0.000"/><stop offset="0.0533" stop-color="#ffa500" stop-opacity="0.002"/><stop offset="0.0567" stop-color="#ffa500" stop-opacity="0.006"/><stop offset="0.0600" stop-color="#ffa500" stop-opacity="0.015"/><stop offset="0.0633" stop-color="#ffa500" stop-opacity="0.030"/><stop offset="0.0667" stop-color="#ffa500" stop-opacity="0.048"/><stop offset="0.0700" stop-color="#ffa500" stop-opacity="0.059"/><stop offset="0.0733" stop-color="#ffa500" stop-opacity="0.057"/><stop offset="0.0767" stop-color="#ffa500" stop-opacity="0.043"/><stop offset="0.0800" stop-color="#ffa500" stop-opacity="0.025"/><stop offset="0.0833" stop-color="#ffa500" stop-opacity="0.011"/><stop offset="0.0867" stop-color="#ffa500" stop-opacity="0.004"/><stop offset="0.0900" stop-color="#ffa500" stop-opacity="0.001"/><stop offset="0.0933" stop-color="#ffa500" stop-opacity="0.001"/><stop offset="0.0967" stop-color="#ffa500" stop-opacity="0.003"/><stop offset="0.1000" stop-color="#ffa500" stop-opacity="0.008"/><stop offset="0.1033" stop-color="#ffa500" stop-opacity="0.018"/><stop offset="0.1067" stop-color="#ffa500" stop-opacity="0.033"/><stop offset="0.1100" stop-color="#ffa500" stop-opacity="0.046"/><stop offset="0.1133" stop-color="#ffa500" stop-opacity="0.050"/><stop offset="0.1167" stop-color="#ffa500" stop-opacity="0.042"/><stop offset="0.1200" stop-color="#ffa500" stop-opacity="0.028"/><stop offset="0.1233" stop-color="#ffa500" stop-opacity="0.015"/><stop offset="0.1267" stop-color="#ffa500" stop-opacity="0.006"/><stop offset="0.1300" stop-color="#ffa500" stop-opacity="0.002"/><stop offset="0.1333" stop-color="#ffa500" stop-opacity="0.000"/><stop offset="0.1367" stop-color="#ffa500" stop-opacity="0.000"/><stop offset="0.1400" stop-color="#ffa500" stop-opacity="0.000"/><stop offset="0.1433" stop-color="#ffa500" stop-opacity="0.000"/><stop offset="0.1467" stop-color="#ffa500" stop-opacity="0.000"/><stop offset="0.1500" stop-color="#ffa500" stop-opacity="0.000"/><stop offset="0.1533" stop-color="#ffa500" stop-opacity="0.000"/><stop offset="0.1567" stop-color="#ffa500" stop-opacity="0.000"/><stop offset="0.1600" stop-color="#ffa500" stop-opacity="0.000"/><stop offset="0.1633" stop-color="#ffa500" stop-opacity="0.000"/><stop offset="0.1667" stop-color="#ffa500" stop-opacity="0.000"/><stop offset="0.1700" stop-color="#ffa500" stop-opacity="0.000"/><stop offset="0.1733" stop-color="#ffa500" stop-opacity="0.000"/><stop offset="0.1767" stop-color="#ffa500" stop-opacity="0.000"/><stop offset="0.1800" stop-color="#ffa500" stop-opacity="0.000"/><stop offset="0.1833" stop-color="#ffa500" stop-opacity="0.000"/><stop offset="0.1867" stop-color="#ffa500" stop-opacity="0.000"/><stop offset="0.1900" stop-color="#ffa500" stop-opacity="0.000"/><stop offset="0.1933" stop-color="#ffa500" stop-opacity="0.001"/><stop offset="0.1967" stop-color="#ffa500" stop-opacity="0.003"/><stop offset="0.2000" stop-color="#ffa500" stop-opacity="0.009"/><stop offset="0.2033" stop-color="#ffa500" stop-opacity="0.022"/><stop offset="0.2067" stop-color="#ffa500" stop-opacity="0.039"/><stop offset="0.2100" stop-color="#ffa500" stop-opacity="0.055"/><stop offset="0.2133" stop-color="#ffa500" stop-opacity="0.060"/><stop offset="0.2167" stop-color="#ffa500" stop-opacity="0.051"/><stop offset="0.2200" stop-color="#ffa500" stop-opacity="0.034"/><stop offset="0.2233" stop-color="#ffa500" stop-opacity="0.018"/><stop offset="0.2267" stop-color="#ffa500" stop-opacity="0.008"/><stop offset="0.2300" stop-color="#ffa500" stop-opacity="0.005"/><stop offset="0.2333" stop-color="#ffa500" stop-opacity="0.010"/><stop offset="0.2367" stop-color="#ffa500" stop-opacity="0.022"/><stop offset="0.2400" stop-color="#ffa500" stop-opacity="0.039"/><stop offset="0.2433" stop-color="#ffa500" stop-opacity="0.055"/><stop offset="0.2467" stop-color="#ffa500" stop-opacity="0.060"/><stop offset="0.2500" stop-color="#ffa500" stop-opacity="0.051"/><stop offset="0.2533" stop-color="#ffa500" stop-opacity="0.034"/><stop offset="0.2567" stop-color="#ffa500" stop-opacity="0.018"/><stop offset="0.2600" stop-color="#ffa500" stop-opacity="0.007"/><stop offset="0.2633" stop-color="#ffa500" stop-opacity="0.002"/><stop offset="0.2667" stop-color="#ffa500" stop-opacity="0.001"/><stop offset="0.2700" stop-color="#ffa500" stop-opacity="0.000"/><stop offset="0.2733" stop-color="#ffa500" stop-opacity="0.000"/><stop offset="0.2767" stop-color="#ffa500" stop-opacity="0.000"/><stop offset="0.2800" stop-color="#ffa500" stop-opacity="0.000"/><stop offset="0.2833" stop-color="#ffa500" stop-opacity="0.000"/><stop offset="0.2867" stop-color="#ffa500" stop-opacity="0.000"/><stop offset="0.2900" stop-color="#ffa500" stop-opacity="0.000"/><stop offset="0.2933" stop-color="#ffa500" stop-opacity="0.000"/><stop offset="0.2967" stop-color="#ffa500" stop-opacity="0.000"/><stop offset="0.3000" stop-color="#ffa500" stop-opacity="0.000"/><stop offset="0.3033" stop-color="#ffa500" stop-opacity="0.000"/><stop offset="0.3067" stop-color="#ffa500" stop-opacity="0.000"/><stop offset="0.3100" stop-color="#ffa500" stop-opacity="0.000"/><stop offset="0.3133" stop-color="#ffa500" stop-opacity="0.000"/><stop offset="0.3167" stop-color="#ffa500" stop-opacity="0.000"/><stop offset="0.3200" stop-color="#ffa500" stop-opacity="0.003"/><stop offset="0.3233" stop-color="#ffa500" stop-opacity="0.013"/><stop offset="0.3267" stop-color="#ffa500" stop-opacity="0.037"/><stop offset="0.3300" stop-color="#ffa500" stop-opacity="0.068"/><stop offset="0.3333" stop-color="#ffa500" stop-opacity="0.080"/><stop offset="0.3367" stop-color="#ffa500" stop-opacity="0.060"/><stop offset="0.3400" stop-color="#ffa500" stop-opacity="0.029"/><stop offset="0.3433" stop-color="#ffa500" stop-opacity="0.009"/><stop offset="0.3467" stop-color="#ffa500" stop-opacity="0.005"/><stop offset="0.3500" stop-color="#ffa500" stop-opacity="0.013"/><stop offset="0.3533" stop-color="#ffa500" stop-opacity="0.037"/><stop offset="0.3567" stop-color="#ffa500" stop-opacity="0.068"/><stop offset="0.3600" stop-color="#ffa500" stop-opacity="0.080"/><stop offset="0.3633" stop-color="#ffa500" stop-opacity="0.060"/><stop offset="0.3667" stop-color="#ffa500" stop-opacity="0.029"/><stop offset="0.3700" stop-color="#ffa500" stop-opacity="0.009"/><stop offset="0.3733" stop-color="#ffa500" stop-opacity="0.002"/><stop offset="0.3767" stop-color="#ffa500" stop-opacity="0.002"/><stop offset="0.3800" stop-color="#ffa500" stop-opacity="0.008"/><stop offset="0.3833" stop-color="#ffa500" stop-opacity="0.029"/><stop offset="0.3867" stop-color="#ffa500" stop-opacity="0.066"/><stop offset="0.3900" stop-color="#ffa500" stop-opacity="0.097"/><stop offset="0.3933" stop-color="#ffa500" stop-opacity="0.092"/><stop offset="0.3967" stop-color="#ffa500" stop-opacity="0.055"/><stop offset="0.4000" stop-color="#ffa500" stop-opacity="0.022"/><stop offset="0.4033" stop-color="#ffa500" stop-opacity="0.007"/><stop offset="0.4067" stop-color="#ffa500" stop-opacity="0.009"/><stop offset="0.4100" stop-color="#ffa500" stop-opacity="0.029"/><stop offset="0.4133" stop-color="#ffa500" stop-opacity="0.066"/><stop offset="0.4167" stop-color="#ffa500" stop-opacity="0.097"/><stop offset="0.4200" stop-color="#ffa500" stop-opacity="0.092"/><stop offset="0.4233" stop-color="#ffa500" stop-opacity="0.055"/><stop offset="0.4267" stop-color="#ffa500" stop-opacity="0.022"/><stop offset="0.4300" stop-color="#ffa500" stop-opacity="0.006"/><stop offset="0.4333" stop-color="#ffa500" stop-opacity="0.004"/><stop offset="0.4367" stop-color="#ffa500" stop-opacity="0.016"/><stop offset="0.4400" stop-color="#ffa500" stop-opacity="0.046"/><stop offset="0.4433" stop-color="#ffa500" stop-opacity="0.085"/><stop offset="0.4467" stop-color="#ffa500" stop-opacity="0.103"/><stop offset="0.4500" stop-color="#ffa500" stop-opacity="0.087"/><stop offset="0.4533" stop-color="#ffa500" stop-opacity="0.070"/><stop offset="0.4567" stop-color="#ffa500" stop-opacity="0.091"/><stop offset="0.4600" stop-color="#ffa500" stop-opacity="0.157"/><stop offset="0.4633" stop-color="#ffa500" stop-opacity="0.248"/><stop offset="0.4667" stop-color="#ffa500" stop-opacity="0.325"/><stop offset="0.4700" stop-color="#ffa500" stop-opacity="0.349"/><stop offset="0.4733" stop-color="#ffa500" stop-opacity="0.309"/><stop offset="0.4767" stop-color="#ffa500" stop-opacity="0.224"/><stop offset="0.4800" stop-color="#ffa500" stop-opacity="0.133"/><stop offset="0.4833" stop-color="#ffa500" stop-opacity="0.065"/><stop offset="0.4867" stop-color="#ffa500" stop-opacity="0.026"/><stop offset="0.4900" stop-color="#ffa500" stop-opacity="0.009"/><stop offset="0.4933" stop-color="#ffa500" stop-opacity="0.002"/><stop offset="0.4967" stop-color="#ffa500" stop-opacity="0.001"/><stop offset="0.5000" stop-color="#ffa500" stop-opacity="0.001"/><stop offset="0.5033" stop-color="#ffa500" stop-opacity="0.002"/><stop offset="0.5067" stop-color="#ffa500" stop-opacity="0.009"/><stop offset="0.5100" stop-color="#ffa500" stop-opacity="0.026"/><stop offset="0.5133" stop-color="#ffa500" stop-opacity="0.065"/><stop offset="0.5167" stop-color="#ffa500" stop-opacity="0.133"/><stop offset="0.5200" stop-color="#ffa500" stop-opacity="0.224"/><stop offset="0.5233" stop-color="#ffa500" stop-opacity="0.309"/><stop offset="0.5267" stop-color="#ffa500" stop-opacity="0.349"/><stop offset="0.5300" stop-color="#ffa500" stop-opacity="0.325"/><stop offset="0.5333" stop-color="#ffa500" stop-opacity="0.248"/><stop offset="0.5367" stop-color="#ffa500" stop-opacity="0.156"/><stop offset="0.5400" stop-color="#ffa500" stop-opacity="0.087"/><stop offset="0.5433" stop-color="#ffa500" stop-opacity="0.062"/><stop offset="0.5467" stop-color="#ffa500" stop-opacity="0.077"/><stop offset="0.5500" stop-color="#ffa500" stop-opacity="0.100"/><stop offset="0.5533" stop-color="#ffa500" stop-opacity="0.093"/><stop offset="0.5567" stop-color="#ffa500" stop-opacity="0.056"/><stop offset="0.5600" stop-color="#ffa500" stop-opacity="0.022"/><stop offset="0.5633" stop-color="#ffa500" stop-opacity="0.006"/><stop offset="0.5667" stop-color="#ffa500" stop-opacity="0.004"/><stop offset="0.5700" stop-color="#ffa500" stop-opacity="0.016"/><stop offset="0.5733" stop-color="#ffa500" stop-opacity="0.046"/><stop offset="0.5767" stop-color="#ffa500" stop-opacity="0.084"/><stop offset="0.5800" stop-color="#ffa500" stop-opacity="0.100"/><stop offset="0.5833" stop-color="#ffa500" stop-opacity="0.076"/><stop offset="0.5867" stop-color="#ffa500" stop-opacity="0.037"/><stop offset="0.5900" stop-color="#ffa500" stop-opacity="0.012"/><stop offset="0.5933" stop-color="#ffa500" stop-opacity="0.006"/><stop offset="0.5967" stop-color="#ffa500" stop-opacity="0.016"/><stop offset="0.6000" stop-color="#ffa500" stop-opacity="0.046"/><stop offset="0.6033" stop-color="#ffa500" stop-opacity="0.084"/><stop offset="0.6067" stop-color="#ffa500" stop-opacity="0.100"/><stop offset="0.6100" stop-color="#ffa500" stop-opacity="0.076"/><stop offset="0.6133" stop-color="#ffa500" stop-opacity="0.037"/><stop offset="0.6167" stop-color="#ffa500" stop-opacity="0.012"/><stop offset="0.6200" stop-color="#ffa500" stop-opacity="0.003"/><stop offset="0.6233" stop-color="#ffa500" stop-opacity="0.007"/><stop offset="0.6267" stop-color="#ffa500" stop-opacity="0.023"/><stop offset="0.6300" stop-color="#ffa500" stop-opacity="0.052"/><stop offset="0.6333" stop-color="#ffa500" stop-opacity="0.077"/><stop offset="0.6367" stop-color="#ffa500" stop-opacity="0.073"/><stop offset="0.6400" stop-color="#ffa500" stop-opacity="0.045"/><stop offset="0.6433" stop-color="#ffa500" stop-opacity="0.018"/><stop offset="0.6467" stop-color="#ffa500" stop-opacity="0.005"/><stop offset="0.6500" stop-color="#ffa500" stop-opacity="0.007"/><stop offset="0.6533" stop-color="#ffa500" stop-opacity="0.023"/><stop offset="0.6567" stop-color="#ffa500" stop-opacity="0.052"/><stop offset="0.6600" stop-color="#ffa500" stop-opacity="0.077"/><stop offset="0.6633" stop-color="#ffa500" stop-opacity="0.074"/><stop offset="0.6667" stop-color="#ffa500" stop-opacity="0.045"/><stop offset="0.6700" stop-color="#ffa500" stop-opacity="0.017"/><stop offset="0.6733" stop-color="#ffa500" stop-opacity="0.004"/><stop offset="0.6767" stop-color="#ffa500" stop-opacity="0.001"/><stop offset="0.6800" stop-color="#ffa500" stop-opacity="0.000"/><stop offset="0.6833" stop-color="#ffa500" stop-opacity="0.000"/><stop offset="0.6867" stop-color="#ffa500" stop-opacity="0.000"/><stop offset="0.6900" stop-color="#ffa500" stop-opacity="0.000"/><stop offset="0.6933" stop-color="#ffa500" stop-opacity="0.000"/><stop offset="0.6967" stop-color="#ffa500" stop-opacity="0.000"/><stop offset="0.7000" stop-color="#ffa500" stop-opacity="0.000"/><stop offset="0.7033" stop-color="#ffa500" stop-opacity="0.000"/><stop offset="0.7067" stop-color="#ffa500" stop-opacity="0.000"/><stop offset="0.7100" stop-color="#ffa500" stop-opacity="0.000"/><stop offset="0.7133" stop-color="#ffa500" stop-opacity="0.000"/><stop offset="0.7167" stop-color="#ffa500" stop-opacity="0.000"/><stop offset="0.7200" stop-color="#ffa500" stop-opacity="0.000"/><stop offset="0.7233" stop-color="#ffa500" stop-opacity="0.000"/><stop offset="0.7267" stop-color="#ffa500" stop-opacity="0.001"/><stop offset="0.7300" stop-color="#ffa500" stop-opacity="0.003"/><stop offset="0.7333" stop-color="#ffa500" stop-opacity="0.009"/><stop offset="0.7367" stop-color="#ffa500" stop-opacity="0.021"/><stop offset="0.7400" stop-color="#ffa500" stop-opacity="0.038"/><stop offset="0.7433" stop-color="#ffa500" stop-opacity="0.054"/><stop offset="0.7467" stop-color="#ffa500" stop-opacity="0.060"/><stop offset="0.7500" stop-color="#ffa500" stop-opacity="0.051"/><stop offset="0.7533" stop-color="#ffa500" stop-opacity="0.034"/><stop offset="0.7567" stop-color="#ffa500" stop-opacity="0.018"/><stop offset="0.7600" stop-color="#ffa500" stop-opacity="0.007"/><stop offset="0.7633" stop-color="#ffa500" stop-opacity="0.002"/><stop offset="0.7667" stop-color="#ffa500" stop-opacity="0.001"/><stop offset="0.7700" stop-color="#ffa500" stop-opacity="0.002"/><stop offset="0.7733" stop-color="#ffa500" stop-opacity="0.005"/><stop offset="0.7767" stop-color="#ffa500" stop-opacity="0.014"/><stop offset="0.7800" stop-color="#ffa500" stop-opacity="0.029"/><stop offset="0.7833" stop-color="#ffa500" stop-opacity="0.047"/><stop offset="0.7867" stop-color="#ffa500" stop-opacity="0.059"/><stop offset="0.7900" stop-color="#ffa500" stop-opacity="0.057"/><stop offset="0.7933" stop-color="#ffa500" stop-opacity="0.043"/><stop offset="0.7967" stop-color="#ffa500" stop-opacity="0.026"/><stop offset="0.8000" stop-color="#ffa500" stop-opacity="0.012"/><stop offset="0.8033" stop-color="#ffa500" stop-opacity="0.004"/><stop offset="0.8067" stop-color="#ffa500" stop-opacity="0.001"/><stop offset="0.8100" stop-color="#ffa500" stop-opacity="0.000"/><stop offset="0.8133" stop-color="#ffa500" stop-opacity="0.000"/><stop offset="0.8167" stop-color="#ffa500" stop-opacity="0.000"/><stop offset="0.8200" stop-color="#ffa500" stop-opacity="0.000"/><stop offset="0.8233" stop-color="#ffa500" stop-opacity="0.000"/><stop offset="0.8267" stop-color="#ffa500" stop-opacity="0.000"/><stop offset="0.8300" stop-color="#ffa500" stop-opacity="0.000"/><stop offset="0.8333" stop-color="#ffa500" stop-opacity="0.000"/><stop offset="0.8367" stop-color="#ffa500" stop-opacity="0.000"/><stop offset="0.8400" stop-color="#ffa500" stop-opacity="0.000"/><stop offset="0.8433" stop-color="#ffa500" stop-opacity="0.000"/><stop offset="0.8467" stop-color="#ffa500" stop-opacity="0.000"/><stop offset="0.8500" stop-color="#ffa500" stop-opacity="0.000"/><stop offset="0.8533" stop-color="#ffa500" stop-opacity="0.000"/><stop offset="0.8567" stop-color="#ffa500" stop-opacity="0.000"/><stop offset="0.8600" stop-color="#ffa500" stop-opacity="0.000"/><stop offset="0.8633" stop-color="#ffa500" stop-opacity="0.000"/><stop offset="0.8667" stop-color="#ffa500" stop-opacity="0.000"/><stop offset="0.8700" stop-color="#ffa500" stop-opacity="0.000"/><stop offset="0.8733" stop-color="#ffa500" stop-opacity="0.000"/><stop offset="0.8767" stop-color="#ffa500" stop-opacity="0.000"/><stop offset="0.8800" stop-color="#ffa500" stop-opacity="0.000"/><stop offset="0.8833" stop-color="#ffa500" stop-opacity="0.000"/><stop offset="0.8867" stop-color="#ffa500" stop-opacity="0.000"/><stop offset="0.8900" stop-color="#ffa500" stop-opacity="0.000"/><stop offset="0.8933" stop-color="#ffa500" stop-opacity="0.000"/><stop offset="0.8967" stop-color="#ffa500" stop-opacity="0.000"/><stop offset="0.9000" stop-color="#ffa500" stop-opacity="0.000"/><stop offset="0.9033" stop-color="#ffa500" stop-opacity="0.000"/><stop offset="0.9067" stop-color="#ffa500" stop-opacity="0.000"/><stop offset="0.9100" stop-color="#ffa500" stop-opacity="0.000"/><stop offset="0.9133" stop-color="#ffa500" stop-opacity="0.000"/><stop offset="0.9167" stop-color="#ffa500" stop-opacity="0.000"/><stop offset="0.9200" stop-color="#ffa500" stop-opacity="0.000"/><stop offset="0.9233" stop-color="#ffa500" stop-opacity="0.000"/><stop offset="0.9267" stop-color="#ffa500" stop-opacity="0.000"/><stop offset="0.9300" stop-color="#ffa500" stop-opacity="0.000"/><stop offset="0.9333" stop-color="#ffa500" stop-opacity="0.000"/><stop offset="0.9367" stop-color="#ffa500" stop-opacity="0.000"/><stop offset="0.9400" stop-color="#ffa500" stop-opacity="0.000"/><stop offset="0.9433" stop-color="#ffa500" stop-opacity="0.000"/><stop offset="0.9467" stop-color="#ffa500" stop-opacity="0.000"/><stop offset="0.9500" stop-color="#ffa500" stop-opacity="0.000"/><stop offset="0.9533" stop-color="#ffa500" stop-opacity="0.000"/><stop offset="0.9567" stop-color="#ffa500" stop-opacity="0.000"/><stop offset="0.9600" stop-color="#ffa500" stop-opacity="0.000"/><stop offset="0.9633" stop-color="#ffa500" stop-opacity="0.000"/><stop offset="0.9667" stop-color="#ffa500" stop-opacity="0.000"/><stop offset="0.9700" stop-color="#ffa500" stop-opacity="0.000"/><stop offset="0.9733" stop-color="#ffa500" stop-opacity="0.000"/><stop offset="0.9767" stop-color="#ffa500" stop-opacity="0.000"/><stop offset="0.9800" stop-color="#ffa500" stop-opacity="0.000"/><stop offset="0.9833" stop-color="#ffa500" stop-opacity="0.000"/><stop offset="0.9867" stop-color="#ffa500" stop-opacity="0.000"/><stop offset="0.9900" stop-color="#ffa500" stop-opacity="0.000"/><stop offset="0.9933" stop-color="#ffa500" stop-opacity="0.000"/><stop offset="0.9967" stop-color="#ffa500" stop-opacity="0.000"/><stop offset="1.0000" stop-color="#ffa500" stop-opacity="0.000"/></linearGradient>
<mask id="mRowA" maskUnits="userSpaceOnUse" x="120.2" y="52.3" width="662.9" height="599.9000000000001"><rect x="120.2" y="52.3" width="662.9" height="599.9000000000001" fill="url(#gRowA)"/></mask>
<filter id="fBandN" x="0" y="0" width="1" height="1" color-interpolation-filters="sRGB"><feTurbulence type="fractalNoise" baseFrequency="0.08 0.6" numOctaves="2" seed="3" result="n"/><feColorMatrix in="n" type="matrix" values="0 0 0 0 1  0 0 0 0 1  0 0 0 0 1  2.6 0 0 0 -0.75" result="m"/><feComposite in="SourceGraphic" in2="m" operator="in"/></filter>
<filter id="fBlue" x="0" y="0" width="1" height="1" color-interpolation-filters="sRGB"><feTurbulence type="fractalNoise" baseFrequency="0.16 0.45" numOctaves="3" seed="7" result="n"/><feColorMatrix in="n" type="matrix" values="0 0 0 0 0  0 0 0 0 0  0 0 0 0 1  1.7 0 0 0 -0.64"/></filter>
<filter id="fOrg" x="0" y="0" width="1" height="1" color-interpolation-filters="sRGB"><feTurbulence type="fractalNoise" baseFrequency="0.18 0.35" numOctaves="3" seed="23" result="n"/><feColorMatrix in="n" type="matrix" values="0 0 0 0 1  0 0 0 0 0.647  0 0 0 0 0  0 1.6 0 0 -0.62"/></filter>
<linearGradient id="gVL" x1="0" y1="0" x2="0" y2="1"><stop offset="0" stop-color="#0000ff" stop-opacity="0"/><stop offset="0.12" stop-color="#0000ff" stop-opacity="0.55"/><stop offset="0.3" stop-color="#0000ff" stop-opacity="0.75"/><stop offset="0.7" stop-color="#0000ff" stop-opacity="0.75"/><stop offset="0.88" stop-color="#0000ff" stop-opacity="0.55"/><stop offset="1" stop-color="#0000ff" stop-opacity="0"/></linearGradient>
<linearGradient id="gCbA" x1="0" y1="52.3" x2="0" y2="654.8" gradientUnits="userSpaceOnUse"><stop offset="0" stop-color="#ffa500"/><stop offset="0.5" stop-color="#bebebe"/><stop offset="1" stop-color="#0000ff"/></linearGradient>
<clipPath id="clipB"><rect x="119.6" y="744.6" width="663.30" height="633.00"/></clipPath>
<filter id="fInf" x="0" y="0" width="1" height="1" color-interpolation-filters="sRGB">
<feComponentTransfer><feFuncR type="table" tableValues="0.014 0.043 0.086 0.129 0.176 0.225 0.275 0.327 0.379 0.431 0.483 0.534 0.584 0.633 0.679 0.724 0.767 0.807 0.845 0.881 0.913 0.943 0.967 0.971 0.973 0.975 0.976 0.976 0.977 0.979 0.982 0.988 1.000"/><feFuncG type="table" tableValues="0.014 0.044 0.060 0.068 0.073 0.075 0.074 0.072 0.069 0.067 0.068 0.075 0.089 0.110 0.136 0.168 0.203 0.241 0.281 0.323 0.368 0.414 0.462 0.521 0.577 0.632 0.684 0.736 0.787 0.837 0.888 0.940 0.997"/><feFuncB type="table" tableValues="0.014 0.122 0.181 0.223 0.261 0.297 0.330 0.360 0.386 0.409 0.428 0.442 0.452 0.457 0.457 0.451 0.440 0.421 0.395 0.359 0.309 0.238 0.120 0.048 0.007 0.058 0.140 0.220 0.299 0.378 0.457 0.536 0.619"/></feComponentTransfer></filter>
<linearGradient id="gG" x1="0" y1="0" x2="0" y2="1"><stop offset="0.0000" stop-color="#fff" stop-opacity="0.0111"/><stop offset="0.0417" stop-color="#fff" stop-opacity="0.0228"/><stop offset="0.0833" stop-color="#fff" stop-opacity="0.0439"/><stop offset="0.1250" stop-color="#fff" stop-opacity="0.0796"/><stop offset="0.1667" stop-color="#fff" stop-opacity="0.1353"/><stop offset="0.2083" stop-color="#fff" stop-opacity="0.2163"/><stop offset="0.2500" stop-color="#fff" stop-opacity="0.3247"/><stop offset="0.2917" stop-color="#fff" stop-opacity="0.4578"/><stop offset="0.3333" stop-color="#fff" stop-opacity="0.6065"/><stop offset="0.3750" stop-color="#fff" stop-opacity="0.7548"/><stop offset="0.4167" stop-color="#fff" stop-opacity="0.8825"/><stop offset="0.4583" stop-color="#fff" stop-opacity="0.9692"/><stop offset="0.5000" stop-color="#fff" stop-opacity="1.0000"/><stop offset="0.5417" stop-color="#fff" stop-opacity="0.9692"/><stop offset="0.5833" stop-color="#fff" stop-opacity="0.8825"/><stop offset="0.6250" stop-color="#fff" stop-opacity="0.7548"/><stop offset="0.6667" stop-color="#fff" stop-opacity="0.6065"/><stop offset="0.7083" stop-color="#fff" stop-opacity="0.4578"/><stop offset="0.7500" stop-color="#fff" stop-opacity="0.3247"/><stop offset="0.7917" stop-color="#fff" stop-opacity="0.2163"/><stop offset="0.8333" stop-color="#fff" stop-opacity="0.1353"/><stop offset="0.8750" stop-color="#fff" stop-opacity="0.0796"/><stop offset="0.9167" stop-color="#fff" stop-opacity="0.0439"/><stop offset="0.9583" stop-color="#fff" stop-opacity="0.0228"/><stop offset="1.0000" stop-color="#fff" stop-opacity="0.0111"/></linearGradient>
<linearGradient id="gL" x1="0" y1="0" x2="0" y2="1"><stop offset="0.0000" stop-color="#fff" stop-opacity="0.0183"/><stop offset="0.0312" stop-color="#fff" stop-opacity="0.0235"/><stop offset="0.0625" stop-color="#fff" stop-opacity="0.0302"/><stop offset="0.0938" stop-color="#fff" stop-opacity="0.0388"/><stop offset="0.1250" stop-color="#fff" stop-opacity="0.0498"/><stop offset="0.1562" stop-color="#fff" stop-opacity="0.0639"/><stop offset="0.1875" stop-color="#fff" stop-opacity="0.0821"/><stop offset="0.2188" stop-color="#fff" stop-opacity="0.1054"/><stop offset="0.2500" stop-color="#fff" stop-opacity="0.1353"/><stop offset="0.2812" stop-color="#fff" stop-opacity="0.1738"/><stop offset="0.3125" stop-color="#fff" stop-opacity="0.2231"/><stop offset="0.3438" stop-color="#fff" stop-opacity="0.2865"/><stop offset="0.3750" stop-color="#fff" stop-opacity="0.3679"/><stop offset="0.4062" stop-color="#fff" stop-opacity="0.4724"/><stop offset="0.4375" stop-color="#fff" stop-opacity="0.6065"/><stop offset="0.4688" stop-color="#fff" stop-opacity="0.7788"/><stop offset="0.5000" stop-color="#fff" stop-opacity="1.0000"/><stop offset="0.5312" stop-color="#fff" stop-opacity="0.7788"/><stop offset="0.5625" stop-color="#fff" stop-opacity="0.6065"/><stop offset="0.5938" stop-color="#fff" stop-opacity="0.4724"/><stop offset="0.6250" stop-color="#fff" stop-opacity="0.3679"/><stop offset="0.6562" stop-color="#fff" stop-opacity="0.2865"/><stop offset="0.6875" stop-color="#fff" stop-opacity="0.2231"/><stop offset="0.7188" stop-color="#fff" stop-opacity="0.1738"/><stop offset="0.7500" stop-color="#fff" stop-opacity="0.1353"/><stop offset="0.7812" stop-color="#fff" stop-opacity="0.1054"/><stop offset="0.8125" stop-color="#fff" stop-opacity="0.0821"/><stop offset="0.8438" stop-color="#fff" stop-opacity="0.0639"/><stop offset="0.8750" stop-color="#fff" stop-opacity="0.0498"/><stop offset="0.9062" stop-color="#fff" stop-opacity="0.0388"/><stop offset="0.9375" stop-color="#fff" stop-opacity="0.0302"/><stop offset="0.9688" stop-color="#fff" stop-opacity="0.0235"/><stop offset="1.0000" stop-color="#fff" stop-opacity="0.0183"/></linearGradient>
<clipPath id="clipC"><rect x="121.0" y="1468.3" width="660.6" height="640.9"/></clipPath>
<linearGradient id="gCbC" x1="0" y1="1466.4" x2="0" y2="2114.2" gradientUnits="userSpaceOnUse"><stop offset="0.0000" stop-color="#fffe9e"/><stop offset="0.0312" stop-color="#fcf089"/><stop offset="0.0625" stop-color="#fae274"/><stop offset="0.0938" stop-color="#fad660"/><stop offset="0.1250" stop-color="#f9c94c"/><stop offset="0.1562" stop-color="#f9bc38"/><stop offset="0.1875" stop-color="#f9ae24"/><stop offset="0.2188" stop-color="#f9a10f"/><stop offset="0.2500" stop-color="#f89302"/><stop offset="0.2812" stop-color="#f8850c"/><stop offset="0.3125" stop-color="#f7761f"/><stop offset="0.3438" stop-color="#f0693d"/><stop offset="0.3750" stop-color="#e95e4f"/><stop offset="0.4062" stop-color="#e1525c"/><stop offset="0.4375" stop-color="#d84865"/><stop offset="0.4688" stop-color="#ce3d6b"/><stop offset="0.5000" stop-color="#c43470"/><stop offset="0.5312" stop-color="#b92b73"/><stop offset="0.5625" stop-color="#ad2375"/><stop offset="0.5938" stop-color="#a11c75"/><stop offset="0.6250" stop-color="#951773"/><stop offset="0.6562" stop-color="#881371"/><stop offset="0.6875" stop-color="#7b116d"/><stop offset="0.7188" stop-color="#6e1168"/><stop offset="0.7500" stop-color="#611263"/><stop offset="0.7812" stop-color="#53125c"/><stop offset="0.8125" stop-color="#461354"/><stop offset="0.8438" stop-color="#39134c"/><stop offset="0.8750" stop-color="#2d1343"/><stop offset="0.9062" stop-color="#211139"/><stop offset="0.9375" stop-color="#160f2e"/><stop offset="0.9688" stop-color="#0b0b1f"/><stop offset="1.0000" stop-color="#040404"/></linearGradient></defs>
<rect width="939" height="2244" fill="#fff"/>
<text x="471.00" y="31.10" font-size="41" text-anchor="middle" textLength="259.5" lengthAdjust="spacingAndGlyphs">MH36-MH44</text>
<rect x="120.2" y="52.3" width="662.90" height="599.90" fill="#bebebe"/>
<g opacity="0.16"><rect x="120.2" y="52.3" width="662.90" height="599.90" fill="#000" filter="url(#fOrg)"/></g>
<g mask="url(#mRowA)" opacity="0.42"><rect x="120.2" y="52.3" width="662.90" height="599.90" fill="#000" filter="url(#fBlue)"/></g>
<rect x="120.2" y="52.3" width="662.90" height="599.90" fill="url(#gBandO)" filter="url(#fBandN)"/>
<rect x="120.2" y="52.3" width="662.90" height="599.90" fill="url(#gBandB)" filter="url(#fBandN)"/>
<rect x="183.7" y="387.0" width="1.5" height="2.5" fill="#0000ff" opacity="0.17"/>
<rect x="183.7" y="389.5" width="1.5" height="2.5" fill="#0000ff" opacity="0.22"/>
<rect x="183.7" y="392.0" width="1.5" height="2.5" fill="#0000ff" opacity="0.27"/>
<rect x="183.7" y="394.5" width="1.5" height="2.5" fill="#0000ff" opacity="0.18"/>
<rect x="183.7" y="397.0" width="1.5" height="2.5" fill="#0000ff" opacity="0.14"/>
<rect x="183.7" y="399.5" width="1.5" height="2.5" fill="#0000ff" opacity="0.14"/>
<rect x="183.7" y="402.0" width="1.5" height="2.5" fill="#0000ff" opacity="0.13"/>
<rect x="183.7" y="404.5" width="1.5" height="2.5" fill="#0000ff" opacity="0.22"/>
<rect x="183.7" y="407.0" width="1.5" height="2.5" fill="#0000ff" opacity="0.27"/>
<rect x="183.7" y="409.5" width="1.5" height="2.5" fill="#0000ff" opacity="0.27"/>
<rect x="183.7" y="412.0" width="1.5" height="2.5" fill="#0000ff" opacity="0.15"/>
<rect x="183.7" y="414.5" width="1.5" height="2.5" fill="#0000ff" opacity="0.16"/>
<rect x="183.7" y="417.0" width="1.5" height="2.5" fill="#0000ff" opacity="0.15"/>
<rect x="183.7" y="419.5" width="1.5" height="2.5" fill="#0000ff" opacity="0.30"/>
<rect x="183.7" y="422.0" width="1.5" height="2.5" fill="#0000ff" opacity="0.33"/>
<rect x="183.7" y="424.5" width="1.5" height="2.5" fill="#0000ff" opacity="0.22"/>
<rect x="183.7" y="427.0" width="1.5" height="2.5" fill="#0000ff" opacity="0.33"/>
<rect x="183.7" y="429.5" width="1.5" height="2.5" fill="#0000ff" opacity="0.25"/>
<rect x="183.7" y="432.0" width="1.5" height="2.5" fill="#0000ff" opacity="0.18"/>
<rect x="183.7" y="434.5" width="1.5" height="2.5" fill="#0000ff" opacity="0.18"/>
<rect x="183.7" y="437.0" width="1.5" height="2.5" fill="#0000ff" opacity="0.16"/>
<rect x="183.7" y="439.5" width="1.5" height="2.5" fill="#0000ff" opacity="0.15"/>
<rect x="183.7" y="442.0" width="1.5" height="2.5" fill="#0000ff" opacity="0.20"/>
<rect x="183.7" y="444.5" width="1.5" height="2.5" fill="#0000ff" opacity="0.11"/>
<rect x="183.7" y="447.0" width="1.5" height="2.5" fill="#0000ff" opacity="0.09"/>
<rect x="183.7" y="449.5" width="1.5" height="2.5" fill="#0000ff" opacity="0.10"/>
<rect x="183.7" y="452.0" width="1.5" height="2.5" fill="#0000ff" opacity="0.11"/>
<rect x="183.7" y="454.5" width="1.5" height="2.5" fill="#0000ff" opacity="0.18"/>
<rect x="225.7" y="60.0" width="2.2" height="2.5" fill="#0000ff" opacity="0.05"/>
<rect x="225.7" y="62.5" width="2.2" height="2.5" fill="#0000ff" opacity="0.06"/>
<rect x="225.7" y="65.0" width="2.2" height="2.5" fill="#0000ff" opacity="0.05"/>
<rect x="225.7" y="67.5" width="2.2" height="2.5" fill="#0000ff" opacity="0.06"/>
<rect x="225.7" y="70.0" width="2.2" height="2.5" fill="#0000ff" opacity="0.06"/>
<rect x="225.7" y="72.5" width="2.2" height="2.5" fill="#0000ff" opacity="0.06"/>
<rect x="225.7" y="75.0" width="2.2" height="2.5" fill="#0000ff" opacity="0.06"/>
<rect x="225.7" y="77.5" width="2.2" height="2.5" fill="#0000ff" opacity="0.05"/>
<rect x="225.7" y="80.0" width="2.2" height="2.5" fill="#0000ff" opacity="0.08"/>
<rect x="225.7" y="82.5" width="2.2" height="2.5" fill="#0000ff" opacity="0.09"/>
<rect x="225.7" y="85.0" width="2.2" height="2.5" fill="#0000ff" opacity="0.08"/>
<rect x="225.7" y="87.5" width="2.2" height="2.5" fill="#0000ff" opacity="0.08"/>
<rect x="225.7" y="90.0" width="2.2" height="2.5" fill="#0000ff" opacity="0.06"/>
<rect x="225.7" y="92.5" width="2.2" height="2.5" fill="#0000ff" opacity="0.06"/>
<rect x="225.7" y="95.0" width="2.2" height="2.5" fill="#0000ff" opacity="0.07"/>
<rect x="225.7" y="97.5" width="2.2" height="2.5" fill="#0000ff" opacity="0.06"/>
<rect x="225.7" y="100.0" width="2.2" height="2.5" fill="#0000ff" opacity="0.09"/>
<rect x="225.7" y="102.5" width="2.2" height="2.5" fill="#0000ff" opacity="0.08"/>
<rect x="225.7" y="105.0" width="2.2" height="2.5" fill="#0000ff" opacity="0.10"/>
<rect x="225.7" y="107.5" width="2.2" height="2.5" fill="#0000ff" opacity="0.08"/>
<rect x="225.7" y="110.0" width="2.2" height="2.5" fill="#0000ff" opacity="0.13"/>
<rect x="225.7" y="112.5" width="2.2" height="2.5" fill="#0000ff" opacity="0.15"/>
<rect x="225.7" y="115.0" width="2.2" height="2.5" fill="#0000ff" opacity="0.09"/>
<rect x="225.7" y="117.5" width="2.2" height="2.5" fill="#0000ff" opacity="0.09"/>
<rect x="225.7" y="120.0" width="2.2" height="2.5" fill="#0000ff" opacity="0.13"/>
<rect x="225.7" y="122.5" width="2.2" height="2.5" fill="#0000ff" opacity="0.10"/>
<rect x="225.7" y="125.0" width="2.2" height="2.5" fill="#0000ff" opacity="0.13"/>
<rect x="225.7" y="127.5" width="2.2" height="2.5" fill="#0000ff" opacity="0.10"/>
<rect x="225.7" y="130.0" width="2.2" height="2.5" fill="#0000ff" opacity="0.08"/>
<rect x="225.7" y="132.5" width="2.2" height="2.5" fill="#0000ff" opacity="0.12"/>
<rect x="225.7" y="135.0" width="2.2" height="2.5" fill="#0000ff" opacity="0.16"/>
<rect x="225.7" y="137.5" width="2.2" height="2.5" fill="#0000ff" opacity="0.14"/>
<rect x="225.7" y="140.0" width="2.2" height="2.5" fill="#0000ff" opacity="0.13"/>
<rect x="225.7" y="142.5" width="2.2" height="2.5" fill="#0000ff" opacity="0.13"/>
<rect x="225.7" y="145.0" width="2.2" height="2.5" fill="#0000ff" opacity="0.16"/>
<rect x="225.7" y="147.5" width="2.2" height="2.5" fill="#0000ff" opacity="0.14"/>
<rect x="225.7" y="150.0" width="2.2" height="2.5" fill="#0000ff" opacity="0.09"/>
<rect x="225.7" y="152.5" width="2.2" height="2.5" fill="#0000ff" opacity="0.11"/>
<rect x="225.7" y="155.0" width="2.2" height="2.5" fill="#0000ff" opacity="0.10"/>
<rect x="225.7" y="157.5" width="2.2" height="2.5" fill="#0000ff" opacity="0.10"/>
<rect x="225.7" y="160.0" width="2.2" height="2.5" fill="#0000ff" opacity="0.17"/>
<rect x="225.7" y="162.5" width="2.2" height="2.5" fill="#0000ff" opacity="0.15"/>
<rect x="225.7" y="165.0" width="2.2" height="2.5" fill="#0000ff" opacity="0.24"/>
<rect x="225.7" y="167.5" width="2.2" height="2.5" fill="#0000ff" opacity="0.24"/>
<rect x="225.7" y="170.0" width="2.2" height="2.5" fill="#0000ff" opacity="0.16"/>
<rect x="225.7" y="172.5" width="2.2" height="2.5" fill="#0000ff" opacity="0.18"/>
<rect x="225.7" y="175.0" width="2.2" height="2.5" fill="#0000ff" opacity="0.11"/>
<rect x="225.7" y="177.5" width="2.2" height="2.5" fill="#0000ff" opacity="0.16"/>
<rect x="225.7" y="180.0" width="2.2" height="2.5" fill="#0000ff" opacity="0.11"/>
<rect x="225.7" y="182.5" width="2.2" height="2.5" fill="#0000ff" opacity="0.15"/>
<rect x="225.7" y="185.0" width="2.2" height="2.5" fill="#0000ff" opacity="0.16"/>
<rect x="225.7" y="187.5" width="2.2" height="2.5" fill="#0000ff" opacity="0.23"/>
<rect x="225.7" y="190.0" width="2.2" height="2.5" fill="#0000ff" opacity="0.40"/>
<rect x="225.7" y="192.5" width="2.2" height="2.5" fill="#0000ff" opacity="0.31"/>
<rect x="225.7" y="195.0" width="2.2" height="2.5" fill="#0000ff" opacity="0.17"/>
<rect x="225.7" y="197.5" width="2.2" height="2.5" fill="#0000ff" opacity="0.20"/>
<rect x="225.7" y="200.0" width="2.2" height="2.5" fill="#0000ff" opacity="0.14"/>
<rect x="225.7" y="202.5" width="2.2" height="2.5" fill="#0000ff" opacity="0.15"/>
<rect x="225.7" y="205.0" width="2.2" height="2.5" fill="#0000ff" opacity="0.20"/>
<rect x="225.7" y="207.5" width="2.2" height="2.5" fill="#0000ff" opacity="0.18"/>
<rect x="225.7" y="210.0" width="2.2" height="2.5" fill="#0000ff" opacity="0.14"/>
<rect x="225.7" y="212.5" width="2.2" height="2.5" fill="#0000ff" opacity="0.31"/>
<rect x="225.7" y="215.0" width="2.2" height="2.5" fill="#0000ff" opacity="0.26"/>
<rect x="225.7" y="217.5" width="2.2" height="2.5" fill="#0000ff" opacity="0.30"/>
<rect x="225.7" y="220.0" width="2.2" height="2.5" fill="#0000ff" opacity="0.35"/>
<rect x="225.7" y="222.5" width="2.2" height="2.5" fill="#0000ff" opacity="0.22"/>
<rect x="225.7" y="225.0" width="2.2" height="2.5" fill="#0000ff" opacity="0.22"/>
<rect x="225.7" y="227.5" width="2.2" height="2.5" fill="#0000ff" opacity="0.24"/>
<rect x="225.7" y="230.0" width="2.2" height="2.5" fill="#0000ff" opacity="0.26"/>
<rect x="225.7" y="232.5" width="2.2" height="2.5" fill="#0000ff" opacity="0.32"/>
<rect x="225.7" y="235.0" width="2.2" height="2.5" fill="#0000ff" opacity="0.21"/>
<rect x="225.7" y="237.5" width="2.2" height="2.5" fill="#0000ff" opacity="0.26"/>
<rect x="225.7" y="240.0" width="2.2" height="2.5" fill="#0000ff" opacity="0.28"/>
<rect x="225.7" y="242.5" width="2.2" height="2.5" fill="#0000ff" opacity="0.38"/>
<rect x="225.7" y="245.0" width="2.2" height="2.5" fill="#0000ff" opacity="0.52"/>
<rect x="225.7" y="247.5" width="2.2" height="2.5" fill="#0000ff" opacity="0.35"/>
<rect x="225.7" y="250.0" width="2.2" height="2.5" fill="#0000ff" opacity="0.30"/>
<rect x="225.7" y="252.5" width="2.2" height="2.5" fill="#0000ff" opacity="0.35"/>
<rect x="225.7" y="255.0" width="2.2" height="2.5" fill="#0000ff" opacity="0.29"/>
<rect x="225.7" y="257.5" width="2.2" height="2.5" fill="#0000ff" opacity="0.35"/>
<rect x="225.7" y="260.0" width="2.2" height="2.5" fill="#0000ff" opacity="0.55"/>
<rect x="225.7" y="262.5" width="2.2" height="2.5" fill="#0000ff" opacity="0.45"/>
<rect x="225.7" y="265.0" width="2.2" height="2.5" fill="#0000ff" opacity="0.27"/>
<rect x="225.7" y="267.5" width="2.2" height="2.5" fill="#0000ff" opacity="0.27"/>
<rect x="225.7" y="270.0" width="2.2" height="2.5" fill="#0000ff" opacity="0.46"/>
<rect x="225.7" y="272.5" width="2.2" height="2.5" fill="#0000ff" opacity="0.67"/>
<rect x="225.7" y="275.0" width="2.2" height="2.5" fill="#0000ff" opacity="0.52"/>
<rect x="225.7" y="277.5" width="2.2" height="2.5" fill="#0000ff" opacity="0.84"/>
<rect x="225.7" y="280.0" width="2.2" height="2.5" fill="#0000ff" opacity="0.72"/>
<rect x="225.7" y="282.5" width="2.2" height="2.5" fill="#0000ff" opacity="0.50"/>
<rect x="225.7" y="285.0" width="2.2" height="2.5" fill="#0000ff" opacity="0.35"/>
<rect x="225.7" y="287.5" width="2.2" height="2.5" fill="#0000ff" opacity="0.26"/>
<rect x="225.7" y="290.0" width="2.2" height="2.5" fill="#0000ff" opacity="0.28"/>
<rect x="225.7" y="292.5" width="2.2" height="2.5" fill="#0000ff" opacity="0.61"/>
<rect x="225.7" y="295.0" width="2.2" height="2.5" fill="#0000ff" opacity="0.43"/>
<rect x="225.7" y="297.5" width="2.2" height="2.5" fill="#0000ff" opacity="0.50"/>
<rect x="225.7" y="300.0" width="2.2" height="2.5" fill="#0000ff" opacity="0.30"/>
<rect x="225.7" y="302.5" width="2.2" height="2.5" fill="#0000ff" opacity="0.38"/>
<rect x="225.7" y="305.0" width="2.2" height="2.5" fill="#0000ff" opacity="0.40"/>
<rect x="225.7" y="307.5" width="2.2" height="2.5" fill="#0000ff" opacity="0.45"/>
<rect x="225.7" y="310.0" width="2.2" height="2.5" fill="#0000ff" opacity="0.50"/>
<rect x="225.7" y="312.5" width="2.2" height="2.5" fill="#0000ff" opacity="0.70"/>
<rect x="225.7" y="315.0" width="2.2" height="2.5" fill="#0000ff" opacity="0.38"/>
<rect x="225.7" y="317.5" width="2.2" height="2.5" fill="#0000ff" opacity="0.33"/>
<rect x="225.7" y="320.0" width="2.2" height="2.5" fill="#0000ff" opacity="0.40"/>
<rect x="225.7" y="322.5" width="2.2" height="2.5" fill="#0000ff" opacity="0.52"/>
<rect x="225.7" y="325.0" width="2.2" height="2.5" fill="#0000ff" opacity="0.44"/>
<rect x="225.7" y="327.5" width="2.2" height="2.5" fill="#0000ff" opacity="0.27"/>
<rect x="225.7" y="330.0" width="2.2" height="2.5" fill="#0000ff" opacity="0.27"/>
<rect x="225.7" y="332.5" width="2.2" height="2.5" fill="#0000ff" opacity="0.15"/>
<rect x="225.7" y="335.0" width="2.2" height="2.5" fill="#0000ff" opacity="0.12"/>
<rect x="225.7" y="337.5" width="2.2" height="2.5" fill="#0000ff" opacity="0.14"/>
<rect x="225.7" y="340.0" width="2.2" height="2.5" fill="#0000ff" opacity="0.16"/>
<rect x="225.7" y="342.5" width="2.2" height="2.5" fill="#0000ff" opacity="0.12"/>
<rect x="225.7" y="345.0" width="2.2" height="2.5" fill="#0000ff" opacity="0.13"/>
<rect x="225.7" y="347.5" width="2.2" height="2.5" fill="#0000ff" opacity="0.15"/>
<rect x="225.7" y="350.0" width="2.2" height="2.5" fill="#0000ff" opacity="0.17"/>
<rect x="225.7" y="352.5" width="2.2" height="2.5" fill="#0000ff" opacity="0.13"/>
<rect x="225.7" y="355.0" width="2.2" height="2.5" fill="#0000ff" opacity="0.15"/>
<rect x="225.7" y="357.5" width="2.2" height="2.5" fill="#0000ff" opacity="0.20"/>
<rect x="225.7" y="360.0" width="2.2" height="2.5" fill="#0000ff" opacity="0.21"/>
<rect x="225.7" y="362.5" width="2.2" height="2.5" fill="#0000ff" opacity="0.18"/>
<rect x="225.7" y="365.0" width="2.2" height="2.5" fill="#0000ff" opacity="0.18"/>
<rect x="225.7" y="367.5" width="2.2" height="2.5" fill="#0000ff" opacity="0.18"/>
<rect x="225.7" y="370.0" width="2.2" height="2.5" fill="#0000ff" opacity="0.17"/>
<rect x="225.7" y="372.5" width="2.2" height="2.5" fill="#0000ff" opacity="0.22"/>
<rect x="225.7" y="375.0" width="2.2" height="2.5" fill="#0000ff" opacity="0.29"/>
<rect x="225.7" y="377.5" width="2.2" height="2.5" fill="#0000ff" opacity="0.51"/>
<rect x="225.7" y="380.0" width="2.2" height="2.5" fill="#0000ff" opacity="0.37"/>
<rect x="225.7" y="382.5" width="2.2" height="2.5" fill="#0000ff" opacity="0.34"/>
<rect x="225.7" y="385.0" width="2.2" height="2.5" fill="#0000ff" opacity="0.21"/>
<rect x="225.7" y="387.5" width="2.2" height="2.5" fill="#0000ff" opacity="0.44"/>
<rect x="225.7" y="390.0" width="2.2" height="2.5" fill="#0000ff" opacity="0.48"/>
<rect x="225.7" y="392.5" width="2.2" height="2.5" fill="#0000ff" opacity="0.53"/>
<rect x="225.7" y="395.0" width="2.2" height="2.5" fill="#0000ff" opacity="0.34"/>
<rect x="225.7" y="397.5" width="2.2" height="2.5" fill="#0000ff" opacity="0.38"/>
<rect x="225.7" y="400.0" width="2.2" height="2.5" fill="#0000ff" opacity="0.22"/>
<rect x="225.7" y="402.5" width="2.2" height="2.5" fill="#0000ff" opacity="0.39"/>
<rect x="225.7" y="405.0" width="2.2" height="2.5" fill="#0000ff" opacity="0.57"/>
<rect x="225.7" y="407.5" width="2.2" height="2.5" fill="#0000ff" opacity="0.67"/>
<rect x="225.7" y="410.0" width="2.2" height="2.5" fill="#0000ff" opacity="0.56"/>
<rect x="225.7" y="412.5" width="2.2" height="2.5" fill="#0000ff" opacity="0.46"/>
<rect x="225.7" y="415.0" width="2.2" height="2.5" fill="#0000ff" opacity="0.46"/>
<rect x="225.7" y="417.5" width="2.2" height="2.5" fill="#0000ff" opacity="0.58"/>
<rect x="225.7" y="420.0" width="2.2" height="2.5" fill="#0000ff" opacity="0.53"/>
<rect x="225.7" y="422.5" width="2.2" height="2.5" fill="#0000ff" opacity="0.73"/>
<rect x="225.7" y="425.0" width="2.2" height="2.5" fill="#0000ff" opacity="0.79"/>
<rect x="225.7" y="427.5" width="2.2" height="2.5" fill="#0000ff" opacity="0.65"/>
<rect x="225.7" y="430.0" width="2.2" height="2.5" fill="#0000ff" opacity="0.40"/>
<rect x="225.7" y="432.5" width="2.2" height="2.5" fill="#0000ff" opacity="0.41"/>
<rect x="225.7" y="435.0" width="2.2" height="2.5" fill="#0000ff" opacity="0.46"/>
<rect x="225.7" y="437.5" width="2.2" height="2.5" fill="#0000ff" opacity="0.47"/>
<rect x="225.7" y="440.0" width="2.2" height="2.5" fill="#0000ff" opacity="0.51"/>
<rect x="225.7" y="442.5" width="2.2" height="2.5" fill="#0000ff" opacity="0.38"/>
<rect x="225.7" y="445.0" width="2.2" height="2.5" fill="#0000ff" opacity="0.32"/>
<rect x="225.7" y="447.5" width="2.2" height="2.5" fill="#0000ff" opacity="0.26"/>
<rect x="225.7" y="450.0" width="2.2" height="2.5" fill="#0000ff" opacity="0.20"/>
<rect x="225.7" y="452.5" width="2.2" height="2.5" fill="#0000ff" opacity="0.37"/>
<rect x="225.7" y="455.0" width="2.2" height="2.5" fill="#0000ff" opacity="0.53"/>
<rect x="225.7" y="457.5" width="2.2" height="2.5" fill="#0000ff" opacity="0.49"/>
<rect x="225.7" y="460.0" width="2.2" height="2.5" fill="#0000ff" opacity="0.37"/>
<rect x="225.7" y="462.5" width="2.2" height="2.5" fill="#0000ff" opacity="0.26"/>
<rect x="225.7" y="465.0" width="2.2" height="2.5" fill="#0000ff" opacity="0.34"/>
<rect x="225.7" y="467.5" width="2.2" height="2.5" fill="#0000ff" opacity="0.37"/>
<rect x="225.7" y="470.0" width="2.2" height="2.5" fill="#0000ff" opacity="0.34"/>
<rect x="225.7" y="472.5" width="2.2" height="2.5" fill="#0000ff" opacity="0.33"/>
<rect x="225.7" y="475.0" width="2.2" height="2.5" fill="#0000ff" opacity="0.16"/>
<rect x="225.7" y="477.5" width="2.2" height="2.5" fill="#0000ff" opacity="0.26"/>
<rect x="225.7" y="480.0" width="2.2" height="2.5" fill="#0000ff" opacity="0.21"/>
<rect x="225.7" y="482.5" width="2.2" height="2.5" fill="#0000ff" opacity="0.38"/>
<rect x="225.7" y="485.0" width="2.2" height="2.5" fill="#0000ff" opacity="0.33"/>
<rect x="225.7" y="487.5" width="2.2" height="2.5" fill="#0000ff" opacity="0.22"/>
<rect x="225.7" y="490.0" width="2.2" height="2.5" fill="#0000ff" opacity="0.22"/>
<rect x="225.7" y="492.5" width="2.2" height="2.5" fill="#0000ff" opacity="0.17"/>
<rect x="225.7" y="495.0" width="2.2" height="2.5" fill="#0000ff" opacity="0.18"/>
<rect x="225.7" y="497.5" width="2.2" height="2.5" fill="#0000ff" opacity="0.20"/>
<rect x="225.7" y="500.0" width="2.2" height="2.5" fill="#0000ff" opacity="0.14"/>
<rect x="225.7" y="502.5" width="2.2" height="2.5" fill="#0000ff" opacity="0.12"/>
<rect x="225.7" y="505.0" width="2.2" height="2.5" fill="#0000ff" opacity="0.16"/>
<rect x="225.7" y="507.5" width="2.2" height="2.5" fill="#0000ff" opacity="0.24"/>
<rect x="225.7" y="510.0" width="2.2" height="2.5" fill="#0000ff" opacity="0.23"/>
<rect x="225.7" y="512.5" width="2.2" height="2.5" fill="#0000ff" opacity="0.24"/>
<rect x="225.7" y="515.0" width="2.2" height="2.5" fill="#0000ff" opacity="0.32"/>
<rect x="225.7" y="517.5" width="2.2" height="2.5" fill="#0000ff" opacity="0.21"/>
<rect x="225.7" y="520.0" width="2.2" height="2.5" fill="#0000ff" opacity="0.15"/>
<rect x="225.7" y="522.5" width="2.2" height="2.5" fill="#0000ff" opacity="0.18"/>
<rect x="225.7" y="525.0" width="2.2" height="2.5" fill="#0000ff" opacity="0.13"/>
<rect x="225.7" y="527.5" width="2.2" height="2.5" fill="#0000ff" opacity="0.16"/>
<rect x="225.7" y="530.0" width="2.2" height="2.5" fill="#0000ff" opacity="0.14"/>
<rect x="225.7" y="532.5" width="2.2" height="2.5" fill="#0000ff" opacity="0.20"/>
<rect x="225.7" y="535.0" width="2.2" height="2.5" fill="#0000ff" opacity="0.28"/>
<rect x="225.7" y="537.5" width="2.2" height="2.5" fill="#0000ff" opacity="0.28"/>
<rect x="225.7" y="540.0" width="2.2" height="2.5" fill="#0000ff" opacity="0.22"/>
<rect x="225.7" y="542.5" width="2.2" height="2.5" fill="#0000ff" opacity="0.14"/>
<rect x="225.7" y="545.0" width="2.2" height="2.5" fill="#0000ff" opacity="0.14"/>
<rect x="225.7" y="547.5" width="2.2" height="2.5" fill="#0000ff" opacity="0.11"/>
<rect x="225.7" y="550.0" width="2.2" height="2.5" fill="#0000ff" opacity="0.10"/>
<rect x="225.7" y="552.5" width="2.2" height="2.5" fill="#0000ff" opacity="0.12"/>
<rect x="225.7" y="555.0" width="2.2" height="2.5" fill="#0000ff" opacity="0.15"/>
<rect x="225.7" y="557.5" width="2.2" height="2.5" fill="#0000ff" opacity="0.17"/>
<rect x="225.7" y="560.0" width="2.2" height="2.5" fill="#0000ff" opacity="0.19"/>
<rect x="225.7" y="562.5" width="2.2" height="2.5" fill="#0000ff" opacity="0.23"/>
<rect x="225.7" y="565.0" width="2.2" height="2.5" fill="#0000ff" opacity="0.14"/>
<rect x="225.7" y="567.5" width="2.2" height="2.5" fill="#0000ff" opacity="0.11"/>
<rect x="225.7" y="570.0" width="2.2" height="2.5" fill="#0000ff" opacity="0.11"/>
<rect x="225.7" y="572.5" width="2.2" height="2.5" fill="#0000ff" opacity="0.09"/>
<rect x="225.7" y="575.0" width="2.2" height="2.5" fill="#0000ff" opacity="0.09"/>
<rect x="225.7" y="577.5" width="2.2" height="2.5" fill="#0000ff" opacity="0.10"/>
<rect x="225.7" y="580.0" width="2.2" height="2.5" fill="#0000ff" opacity="0.11"/>
<rect x="225.7" y="582.5" width="2.2" height="2.5" fill="#0000ff" opacity="0.10"/>
<rect x="225.7" y="585.0" width="2.2" height="2.5" fill="#0000ff" opacity="0.10"/>
<rect x="225.7" y="587.5" width="2.2" height="2.5" fill="#0000ff" opacity="0.16"/>
<rect x="225.7" y="590.0" width="2.2" height="2.5" fill="#0000ff" opacity="0.16"/>
<rect x="225.7" y="592.5" width="2.2" height="2.5" fill="#0000ff" opacity="0.10"/>
<rect x="225.7" y="595.0" width="2.2" height="2.5" fill="#0000ff" opacity="0.07"/>
<rect x="225.7" y="597.5" width="2.2" height="2.5" fill="#0000ff" opacity="0.06"/>
<rect x="225.7" y="600.0" width="2.2" height="2.5" fill="#0000ff" opacity="0.10"/>
<rect x="225.7" y="602.5" width="2.2" height="2.5" fill="#0000ff" opacity="0.06"/>
<rect x="225.7" y="605.0" width="2.2" height="2.5" fill="#0000ff" opacity="0.09"/>
<rect x="225.7" y="607.5" width="2.2" height="2.5" fill="#0000ff" opacity="0.08"/>
<rect x="225.7" y="610.0" width="2.2" height="2.5" fill="#0000ff" opacity="0.08"/>
<rect x="225.7" y="612.5" width="2.2" height="2.5" fill="#0000ff" opacity="0.11"/>
<rect x="225.7" y="615.0" width="2.2" height="2.5" fill="#0000ff" opacity="0.07"/>
<rect x="225.7" y="617.5" width="2.2" height="2.5" fill="#0000ff" opacity="0.06"/>
<rect x="225.7" y="620.0" width="2.2" height="2.5" fill="#0000ff" opacity="0.07"/>
<rect x="225.7" y="622.5" width="2.2" height="2.5" fill="#0000ff" opacity="0.05"/>
<rect x="225.7" y="625.0" width="2.2" height="2.5" fill="#0000ff" opacity="0.07"/>
<rect x="225.7" y="627.5" width="2.2" height="2.5" fill="#0000ff" opacity="0.05"/>
<rect x="225.7" y="630.0" width="2.2" height="2.5" fill="#0000ff" opacity="0.05"/>
<rect x="225.7" y="632.5" width="2.2" height="2.5" fill="#0000ff" opacity="0.04"/>
<rect x="225.7" y="635.0" width="2.2" height="2.5" fill="#0000ff" opacity="0.06"/>
<rect x="225.7" y="637.5" width="2.2" height="2.5" fill="#0000ff" opacity="0.05"/>
<rect x="225.7" y="640.0" width="2.2" height="2.5" fill="#0000ff" opacity="0.05"/>
<rect x="225.7" y="642.5" width="2.2" height="2.5" fill="#0000ff" opacity="0.05"/>
<rect x="225.7" y="645.0" width="2.2" height="2.5" fill="#0000ff" opacity="0.05"/>
<rect x="225.7" y="647.5" width="2.2" height="2.5" fill="#0000ff" opacity="0.06"/>
<rect x="255.8" y="60.0" width="2.2" height="2.5" fill="#0000ff" opacity="0.06"/>
<rect x="255.8" y="62.5" width="2.2" height="2.5" fill="#0000ff" opacity="0.04"/>
<rect x="255.8" y="65.0" width="2.2" height="2.5" fill="#0000ff" opacity="0.06"/>
<rect x="255.8" y="67.5" width="2.2" height="2.5" fill="#0000ff" opacity="0.05"/>
<rect x="255.8" y="70.0" width="2.2" height="2.5" fill="#0000ff" opacity="0.04"/>
<rect x="255.8" y="72.5" width="2.2" height="2.5" fill="#0000ff" opacity="0.06"/>
<rect x="255.8" y="75.0" width="2.2" height="2.5" fill="#0000ff" opacity="0.07"/>
<rect x="255.8" y="77.5" width="2.2" height="2.5" fill="#0000ff" opacity="0.06"/>
<rect x="255.8" y="80.0" width="2.2" height="2.5" fill="#0000ff" opacity="0.06"/>
<rect x="255.8" y="82.5" width="2.2" height="2.5" fill="#0000ff" opacity="0.07"/>
<rect x="255.8" y="85.0" width="2.2" height="2.5" fill="#0000ff" opacity="0.08"/>
<rect x="255.8" y="87.5" width="2.2" height="2.5" fill="#0000ff" opacity="0.08"/>
<rect x="255.8" y="90.0" width="2.2" height="2.5" fill="#0000ff" opacity="0.08"/>
<rect x="255.8" y="92.5" width="2.2" height="2.5" fill="#0000ff" opacity="0.09"/>
<rect x="255.8" y="95.0" width="2.2" height="2.5" fill="#0000ff" opacity="0.08"/>
<rect x="255.8" y="97.5" width="2.2" height="2.5" fill="#0000ff" opacity="0.10"/>
<rect x="255.8" y="100.0" width="2.2" height="2.5" fill="#0000ff" opacity="0.11"/>
<rect x="255.8" y="102.5" width="2.2" height="2.5" fill="#0000ff" opacity="0.07"/>
<rect x="255.8" y="105.0" width="2.2" height="2.5" fill="#0000ff" opacity="0.12"/>
<rect x="255.8" y="107.5" width="2.2" height="2.5" fill="#0000ff" opacity="0.11"/>
<rect x="255.8" y="110.0" width="2.2" height="2.5" fill="#0000ff" opacity="0.09"/>
<rect x="255.8" y="112.5" width="2.2" height="2.5" fill="#0000ff" opacity="0.13"/>
<rect x="255.8" y="115.0" width="2.2" height="2.5" fill="#0000ff" opacity="0.15"/>
<rect x="255.8" y="117.5" width="2.2" height="2.5" fill="#0000ff" opacity="0.15"/>
<rect x="255.8" y="120.0" width="2.2" height="2.5" fill="#0000ff" opacity="0.10"/>
<rect x="255.8" y="122.5" width="2.2" height="2.5" fill="#0000ff" opacity="0.11"/>
<rect x="255.8" y="125.0" width="2.2" height="2.5" fill="#0000ff" opacity="0.13"/>
<rect x="255.8" y="127.5" width="2.2" height="2.5" fill="#0000ff" opacity="0.13"/>
<rect x="255.8" y="130.0" width="2.2" height="2.5" fill="#0000ff" opacity="0.15"/>
<rect x="255.8" y="132.5" width="2.2" height="2.5" fill="#0000ff" opacity="0.12"/>
<rect x="255.8" y="135.0" width="2.2" height="2.5" fill="#0000ff" opacity="0.16"/>
<rect x="255.8" y="137.5" width="2.2" height="2.5" fill="#0000ff" opacity="0.15"/>
<rect x="255.8" y="140.0" width="2.2" height="2.5" fill="#0000ff" opacity="0.21"/>
<rect x="255.8" y="142.5" width="2.2" height="2.5" fill="#0000ff" opacity="0.18"/>
<rect x="255.8" y="145.0" width="2.2" height="2.5" fill="#0000ff" opacity="0.15"/>
<rect x="255.8" y="147.5" width="2.2" height="2.5" fill="#0000ff" opacity="0.15"/>
<rect x="255.8" y="150.0" width="2.2" height="2.5" fill="#0000ff" opacity="0.11"/>
<rect x="255.8" y="152.5" width="2.2" height="2.5" fill="#0000ff" opacity="0.17"/>
<rect x="255.8" y="155.0" width="2.2" height="2.5" fill="#0000ff" opacity="0.18"/>
<rect x="255.8" y="157.5" width="2.2" height="2.5" fill="#0000ff" opacity="0.18"/>
<rect x="255.8" y="160.0" width="2.2" height="2.5" fill="#0000ff" opacity="0.16"/>
<rect x="255.8" y="162.5" width="2.2" height="2.5" fill="#0000ff" opacity="0.23"/>
<rect x="255.8" y="165.0" width="2.2" height="2.5" fill="#0000ff" opacity="0.23"/>
<rect x="255.8" y="167.5" width="2.2" height="2.5" fill="#0000ff" opacity="0.33"/>
<rect x="255.8" y="170.0" width="2.2" height="2.5" fill="#0000ff" opacity="0.26"/>
<rect x="255.8" y="172.5" width="2.2" height="2.5" fill="#0000ff" opacity="0.15"/>
<rect x="255.8" y="175.0" width="2.2" height="2.5" fill="#0000ff" opacity="0.12"/>
<rect x="255.8" y="177.5" width="2.2" height="2.5" fill="#0000ff" opacity="0.15"/>
<rect x="255.8" y="180.0" width="2.2" height="2.5" fill="#0000ff" opacity="0.16"/>
<rect x="255.8" y="182.5" width="2.2" height="2.5" fill="#0000ff" opacity="0.20"/>
<rect x="255.8" y="185.0" width="2.2" height="2.5" fill="#0000ff" opacity="0.21"/>
<rect x="255.8" y="187.5" width="2.2" height="2.5" fill="#0000ff" opacity="0.21"/>
<rect x="255.8" y="190.0" width="2.2" height="2.5" fill="#0000ff" opacity="0.40"/>
<rect x="255.8" y="192.5" width="2.2" height="2.5" fill="#0000ff" opacity="0.21"/>
<rect x="255.8" y="195.0" width="2.2" height="2.5" fill="#0000ff" opacity="0.25"/>
<rect x="255.8" y="197.5" width="2.2" height="2.5" fill="#0000ff" opacity="0.15"/>
<rect x="255.8" y="200.0" width="2.2" height="2.5" fill="#0000ff" opacity="0.16"/>
<rect x="255.8" y="202.5" width="2.2" height="2.5" fill="#0000ff" opacity="0.21"/>
<rect x="255.8" y="205.0" width="2.2" height="2.5" fill="#0000ff" opacity="0.14"/>
<rect x="255.8" y="207.5" width="2.2" height="2.5" fill="#0000ff" opacity="0.15"/>
<rect x="255.8" y="210.0" width="2.2" height="2.5" fill="#0000ff" opacity="0.21"/>
<rect x="255.8" y="212.5" width="2.2" height="2.5" fill="#0000ff" opacity="0.30"/>
<rect x="255.8" y="215.0" width="2.2" height="2.5" fill="#0000ff" opacity="0.41"/>
<rect x="255.8" y="217.5" width="2.2" height="2.5" fill="#0000ff" opacity="0.42"/>
<rect x="255.8" y="220.0" width="2.2" height="2.5" fill="#0000ff" opacity="0.41"/>
<rect x="255.8" y="222.5" width="2.2" height="2.5" fill="#0000ff" opacity="0.26"/>
<rect x="255.8" y="225.0" width="2.2" height="2.5" fill="#0000ff" opacity="0.35"/>
<rect x="255.8" y="227.5" width="2.2" height="2.5" fill="#0000ff" opacity="0.26"/>
<rect x="255.8" y="230.0" width="2.2" height="2.5" fill="#0000ff" opacity="0.32"/>
<rect x="255.8" y="232.5" width="2.2" height="2.5" fill="#0000ff" opacity="0.34"/>
<rect x="255.8" y="235.0" width="2.2" height="2.5" fill="#0000ff" opacity="0.23"/>
<rect x="255.8" y="237.5" width="2.2" height="2.5" fill="#0000ff" opacity="0.30"/>
<rect x="255.8" y="240.0" width="2.2" height="2.5" fill="#0000ff" opacity="0.36"/>
<rect x="255.8" y="242.5" width="2.2" height="2.5" fill="#0000ff" opacity="0.43"/>
<rect x="255.8" y="245.0" width="2.2" height="2.5" fill="#0000ff" opacity="0.54"/>
<rect x="255.8" y="247.5" width="2.2" height="2.5" fill="#0000ff" opacity="0.40"/>
<rect x="255.8" y="250.0" width="2.2" height="2.5" fill="#0000ff" opacity="0.28"/>
<rect x="255.8" y="252.5" width="2.2" height="2.5" fill="#0000ff" opacity="0.29"/>
<rect x="255.8" y="255.0" width="2.2" height="2.5" fill="#0000ff" opacity="0.47"/>
<rect x="255.8" y="257.5" width="2.2" height="2.5" fill="#0000ff" opacity="0.59"/>
<rect x="255.8" y="260.0" width="2.2" height="2.5" fill="#0000ff" opacity="0.40"/>
<rect x="255.8" y="262.5" width="2.2" height="2.5" fill="#0000ff" opacity="0.50"/>
<rect x="255.8" y="265.0" width="2.2" height="2.5" fill="#0000ff" opacity="0.44"/>
<rect x="255.8" y="267.5" width="2.2" height="2.5" fill="#0000ff" opacity="0.36"/>
<rect x="255.8" y="270.0" width="2.2" height="2.5" fill="#0000ff" opacity="0.46"/>
<rect x="255.8" y="272.5" width="2.2" height="2.5" fill="#0000ff" opacity="0.48"/>
<rect x="255.8" y="275.0" width="2.2" height="2.5" fill="#0000ff" opacity="0.71"/>
<rect x="255.8" y="277.5" width="2.2" height="2.5" fill="#0000ff" opacity="0.72"/>
<rect x="255.8" y="280.0" width="2.2" height="2.5" fill="#0000ff" opacity="0.68"/>
<rect x="255.8" y="282.5" width="2.2" height="2.5" fill="#0000ff" opacity="0.37"/>
<rect x="255.8" y="285.0" width="2.2" height="2.5" fill="#0000ff" opacity="0.51"/>
<rect x="255.8" y="287.5" width="2.2" height="2.5" fill="#0000ff" opacity="0.37"/>
<rect x="255.8" y="290.0" width="2.2" height="2.5" fill="#0000ff" opacity="0.40"/>
<rect x="255.8" y="292.5" width="2.2" height="2.5" fill="#0000ff" opacity="0.61"/>
<rect x="255.8" y="295.0" width="2.2" height="2.5" fill="#0000ff" opacity="0.58"/>
<rect x="255.8" y="297.5" width="2.2" height="2.5" fill="#0000ff" opacity="0.48"/>
<rect x="255.8" y="300.0" width="2.2" height="2.5" fill="#0000ff" opacity="0.43"/>
<rect x="255.8" y="302.5" width="2.2" height="2.5" fill="#0000ff" opacity="0.26"/>
<rect x="255.8" y="305.0" width="2.2" height="2.5" fill="#0000ff" opacity="0.43"/>
<rect x="255.8" y="307.5" width="2.2" height="2.5" fill="#0000ff" opacity="0.53"/>
<rect x="255.8" y="310.0" width="2.2" height="2.5" fill="#0000ff" opacity="0.86"/>
<rect x="255.8" y="312.5" width="2.2" height="2.5" fill="#0000ff" opacity="0.84"/>
<rect x="255.8" y="315.0" width="2.2" height="2.5" fill="#0000ff" opacity="0.48"/>
<rect x="255.8" y="317.5" width="2.2" height="2.5" fill="#0000ff" opacity="0.43"/>
<rect x="255.8" y="320.0" width="2.2" height="2.5" fill="#0000ff" opacity="0.33"/>
<rect x="255.8" y="322.5" width="2.2" height="2.5" fill="#0000ff" opacity="0.45"/>
<rect x="255.8" y="325.0" width="2.2" height="2.5" fill="#0000ff" opacity="0.53"/>
<rect x="255.8" y="327.5" width="2.2" height="2.5" fill="#0000ff" opacity="0.42"/>
<rect x="255.8" y="330.0" width="2.2" height="2.5" fill="#0000ff" opacity="0.23"/>
<rect x="255.8" y="332.5" width="2.2" height="2.5" fill="#0000ff" opacity="0.17"/>
<rect x="255.8" y="335.0" width="2.2" height="2.5" fill="#0000ff" opacity="0.15"/>
<rect x="255.8" y="337.5" width="2.2" height="2.5" fill="#0000ff" opacity="0.19"/>
<rect x="255.8" y="340.0" width="2.2" height="2.5" fill="#0000ff" opacity="0.22"/>
<rect x="255.8" y="342.5" width="2.2" height="2.5" fill="#0000ff" opacity="0.14"/>
<rect x="255.8" y="345.0" width="2.2" height="2.5" fill="#0000ff" opacity="0.21"/>
<rect x="255.8" y="347.5" width="2.2" height="2.5" fill="#0000ff" opacity="0.13"/>
<rect x="255.8" y="350.0" width="2.2" height="2.5" fill="#0000ff" opacity="0.15"/>
<rect x="255.8" y="352.5" width="2.2" height="2.5" fill="#0000ff" opacity="0.15"/>
<rect x="255.8" y="355.0" width="2.2" height="2.5" fill="#0000ff" opacity="0.20"/>
<rect x="255.8" y="357.5" width="2.2" height="2.5" fill="#0000ff" opacity="0.16"/>
<rect x="255.8" y="360.0" width="2.2" height="2.5" fill="#0000ff" opacity="0.16"/>
<rect x="255.8" y="362.5" width="2.2" height="2.5" fill="#0000ff" opacity="0.19"/>
<rect x="255.8" y="365.0" width="2.2" height="2.5" fill="#0000ff" opacity="0.14"/>
<rect x="255.8" y="367.5" width="2.2" height="2.5" fill="#0000ff" opacity="0.22"/>
<rect x="255.8" y="370.0" width="2.2" height="2.5" fill="#0000ff" opacity="0.18"/>
<rect x="255.8" y="372.5" width="2.2" height="2.5" fill="#0000ff" opacity="0.33"/>
<rect x="255.8" y="375.0" width="2.2" height="2.5" fill="#0000ff" opacity="0.37"/>
<rect x="255.8" y="377.5" width="2.2" height="2.5" fill="#0000ff" opacity="0.37"/>
<rect x="255.8" y="380.0" width="2.2" height="2.5" fill="#0000ff" opacity="0.37"/>
<rect x="255.8" y="382.5" width="2.2" height="2.5" fill="#0000ff" opacity="0.28"/>
<rect x="255.8" y="385.0" width="2.2" height="2.5" fill="#0000ff" opacity="0.30"/>
<rect x="255.8" y="387.5" width="2.2" height="2.5" fill="#0000ff" opacity="0.42"/>
<rect x="255.8" y="390.0" width="2.2" height="2.5" fill="#0000ff" opacity="0.54"/>
<rect x="255.8" y="392.5" width="2.2" height="2.5" fill="#0000ff" opacity="0.41"/>
<rect x="255.8" y="395.0" width="2.2" height="2.5" fill="#0000ff" opacity="0.34"/>
<rect x="255.8" y="397.5" width="2.2" height="2.5" fill="#0000ff" opacity="0.35"/>
<rect x="255.8" y="400.0" width="2.2" height="2.5" fill="#0000ff" opacity="0.35"/>
<rect x="255.8" y="402.5" width="2.2" height="2.5" fill="#0000ff" opacity="0.42"/>
<rect x="255.8" y="405.0" width="2.2" height="2.5" fill="#0000ff" opacity="0.65"/>
<rect x="255.8" y="407.5" width="2.2" height="2.5" fill="#0000ff" opacity="0.63"/>
<rect x="255.8" y="410.0" width="2.2" height="2.5" fill="#0000ff" opacity="0.65"/>
<rect x="255.8" y="412.5" width="2.2" height="2.5" fill="#0000ff" opacity="0.38"/>
<rect x="255.8" y="415.0" width="2.2" height="2.5" fill="#0000ff" opacity="0.49"/>
<rect x="255.8" y="417.5" width="2.2" height="2.5" fill="#0000ff" opacity="0.60"/>
<rect x="255.8" y="420.0" width="2.2" height="2.5" fill="#0000ff" opacity="0.78"/>
<rect x="255.8" y="422.5" width="2.2" height="2.5" fill="#0000ff" opacity="0.64"/>
<rect x="255.8" y="425.0" width="2.2" height="2.5" fill="#0000ff" opacity="0.62"/>
<rect x="255.8" y="427.5" width="2.2" height="2.5" fill="#0000ff" opacity="0.73"/>
<rect x="255.8" y="430.0" width="2.2" height="2.5" fill="#0000ff" opacity="0.38"/>
<rect x="255.8" y="432.5" width="2.2" height="2.5" fill="#0000ff" opacity="0.50"/>
<rect x="255.8" y="435.0" width="2.2" height="2.5" fill="#0000ff" opacity="0.50"/>
<rect x="255.8" y="437.5" width="2.2" height="2.5" fill="#0000ff" opacity="0.38"/>
<rect x="255.8" y="440.0" width="2.2" height="2.5" fill="#0000ff" opacity="0.44"/>
<rect x="255.8" y="442.5" width="2.2" height="2.5" fill="#0000ff" opacity="0.51"/>
<rect x="255.8" y="445.0" width="2.2" height="2.5" fill="#0000ff" opacity="0.29"/>
<rect x="255.8" y="447.5" width="2.2" height="2.5" fill="#0000ff" opacity="0.20"/>
<rect x="255.8" y="450.0" width="2.2" height="2.5" fill="#0000ff" opacity="0.34"/>
<rect x="255.8" y="452.5" width="2.2" height="2.5" fill="#0000ff" opacity="0.36"/>
<rect x="255.8" y="455.0" width="2.2" height="2.5" fill="#0000ff" opacity="0.53"/>
<rect x="255.8" y="457.5" width="2.2" height="2.5" fill="#0000ff" opacity="0.34"/>
<rect x="255.8" y="460.0" width="2.2" height="2.5" fill="#0000ff" opacity="0.34"/>
<rect x="255.8" y="462.5" width="2.2" height="2.5" fill="#0000ff" opacity="0.33"/>
<rect x="255.8" y="465.0" width="2.2" height="2.5" fill="#0000ff" opacity="0.23"/>
<rect x="255.8" y="467.5" width="2.2" height="2.5" fill="#0000ff" opacity="0.32"/>
<rect x="255.8" y="470.0" width="2.2" height="2.5" fill="#0000ff" opacity="0.42"/>
<rect x="255.8" y="472.5" width="2.2" height="2.5" fill="#0000ff" opacity="0.37"/>
<rect x="255.8" y="475.0" width="2.2" height="2.5" fill="#0000ff" opacity="0.30"/>
<rect x="255.8" y="477.5" width="2.2" height="2.5" fill="#0000ff" opacity="0.19"/>
<rect x="255.8" y="480.0" width="2.2" height="2.5" fill="#0000ff" opacity="0.32"/>
<rect x="255.8" y="482.5" width="2.2" height="2.5" fill="#0000ff" opacity="0.45"/>
<rect x="255.8" y="485.0" width="2.2" height="2.5" fill="#0000ff" opacity="0.37"/>
<rect x="255.8" y="487.5" width="2.2" height="2.5" fill="#0000ff" opacity="0.31"/>
<rect x="255.8" y="490.0" width="2.2" height="2.5" fill="#0000ff" opacity="0.17"/>
<rect x="255.8" y="492.5" width="2.2" height="2.5" fill="#0000ff" opacity="0.14"/>
<rect x="255.8" y="495.0" width="2.2" height="2.5" fill="#0000ff" opacity="0.14"/>
<rect x="255.8" y="497.5" width="2.2" height="2.5" fill="#0000ff" opacity="0.13"/>
<rect x="255.8" y="500.0" width="2.2" height="2.5" fill="#0000ff" opacity="0.18"/>
<rect x="255.8" y="502.5" width="2.2" height="2.5" fill="#0000ff" opacity="0.18"/>
<rect x="255.8" y="505.0" width="2.2" height="2.5" fill="#0000ff" opacity="0.20"/>
<rect x="255.8" y="507.5" width="2.2" height="2.5" fill="#0000ff" opacity="0.19"/>
<rect x="255.8" y="510.0" width="2.2" height="2.5" fill="#0000ff" opacity="0.25"/>
<rect x="255.8" y="512.5" width="2.2" height="2.5" fill="#0000ff" opacity="0.27"/>
<rect x="255.8" y="515.0" width="2.2" height="2.5" fill="#0000ff" opacity="0.33"/>
<rect x="255.8" y="517.5" width="2.2" height="2.5" fill="#0000ff" opacity="0.27"/>
<rect x="255.8" y="520.0" width="2.2" height="2.5" fill="#0000ff" opacity="0.22"/>
<rect x="255.8" y="522.5" width="2.2" height="2.5" fill="#0000ff" opacity="0.12"/>
<rect x="255.8" y="525.0" width="2.2" height="2.5" fill="#0000ff" opacity="0.12"/>
<rect x="255.8" y="527.5" width="2.2" height="2.5" fill="#0000ff" opacity="0.21"/>
<rect x="255.8" y="530.0" width="2.2" height="2.5" fill="#0000ff" opacity="0.18"/>
<rect x="255.8" y="532.5" width="2.2" height="2.5" fill="#0000ff" opacity="0.26"/>
<rect x="255.8" y="535.0" width="2.2" height="2.5" fill="#0000ff" opacity="0.23"/>
<rect x="255.8" y="537.5" width="2.2" height="2.5" fill="#0000ff" opacity="0.24"/>
<rect x="255.8" y="540.0" width="2.2" height="2.5" fill="#0000ff" opacity="0.20"/>
<rect x="255.8" y="542.5" width="2.2" height="2.5" fill="#0000ff" opacity="0.15"/>
<rect x="255.8" y="545.0" width="2.2" height="2.5" fill="#0000ff" opacity="0.15"/>
<rect x="255.8" y="547.5" width="2.2" height="2.5" fill="#0000ff" opacity="0.10"/>
<rect x="255.8" y="550.0" width="2.2" height="2.5" fill="#0000ff" opacity="0.15"/>
<rect x="255.8" y="552.5" width="2.2" height="2.5" fill="#0000ff" opacity="0.16"/>
<rect x="255.8" y="555.0" width="2.2" height="2.5" fill="#0000ff" opacity="0.11"/>
<rect x="255.8" y="557.5" width="2.2" height="2.5" fill="#0000ff" opacity="0.15"/>
<rect x="255.8" y="560.0" width="2.2" height="2.5" fill="#0000ff" opacity="0.21"/>
<rect x="255.8" y="562.5" width="2.2" height="2.5" fill="#0000ff" opacity="0.19"/>
<rect x="255.8" y="565.0" width="2.2" height="2.5" fill="#0000ff" opacity="0.15"/>
<rect x="255.8" y="567.5" width="2.2" height="2.5" fill="#0000ff" opacity="0.12"/>
<rect x="255.8" y="570.0" width="2.2" height="2.5" fill="#0000ff" opacity="0.13"/>
<rect x="255.8" y="572.5" width="2.2" height="2.5" fill="#0000ff" opacity="0.08"/>
<rect x="255.8" y="575.0" width="2.2" height="2.5" fill="#0000ff" opacity="0.14"/>
<rect x="255.8" y="577.5" width="2.2" height="2.5" fill="#0000ff" opacity="0.13"/>
<rect x="255.8" y="580.0" width="2.2" height="2.5" fill="#0000ff" opacity="0.12"/>
<rect x="255.8" y="582.5" width="2.2" height="2.5" fill="#0000ff" opacity="0.14"/>
<rect x="255.8" y="585.0" width="2.2" height="2.5" fill="#0000ff" opacity="0.13"/>
<rect x="255.8" y="587.5" width="2.2" height="2.5" fill="#0000ff" opacity="0.13"/>
<rect x="255.8" y="590.0" width="2.2" height="2.5" fill="#0000ff" opacity="0.15"/>
<rect x="255.8" y="592.5" width="2.2" height="2.5" fill="#0000ff" opacity="0.12"/>
<rect x="255.8" y="595.0" width="2.2" height="2.5" fill="#0000ff" opacity="0.13"/>
<rect x="255.8" y="597.5" width="2.2" height="2.5" fill="#0000ff" opacity="0.11"/>
<rect x="255.8" y="600.0" width="2.2" height="2.5" fill="#0000ff" opacity="0.08"/>
<rect x="255.8" y="602.5" width="2.2" height="2.5" fill="#0000ff" opacity="0.11"/>
<rect x="255.8" y="605.0" width="2.2" height="2.5" fill="#0000ff" opacity="0.10"/>
<rect x="255.8" y="607.5" width="2.2" height="2.5" fill="#0000ff" opacity="0.10"/>
<rect x="255.8" y="610.0" width="2.2" height="2.5" fill="#0000ff" opacity="0.11"/>
<rect x="255.8" y="612.5" width="2.2" height="2.5" fill="#0000ff" opacity="0.10"/>
<rect x="255.8" y="615.0" width="2.2" height="2.5" fill="#0000ff" opacity="0.13"/>
<rect x="255.8" y="617.5" width="2.2" height="2.5" fill="#0000ff" opacity="0.11"/>
<rect x="255.8" y="620.0" width="2.2" height="2.5" fill="#0000ff" opacity="0.08"/>
<rect x="255.8" y="622.5" width="2.2" height="2.5" fill="#0000ff" opacity="0.08"/>
<rect x="255.8" y="625.0" width="2.2" height="2.5" fill="#0000ff" opacity="0.08"/>
<rect x="255.8" y="627.5" width="2.2" height="2.5" fill="#0000ff" opacity="0.06"/>
<rect x="255.8" y="630.0" width="2.2" height="2.5" fill="#0000ff" opacity="0.07"/>
<rect x="255.8" y="632.5" width="2.2" height="2.5" fill="#0000ff" opacity="0.05"/>
<rect x="255.8" y="635.0" width="2.2" height="2.5" fill="#0000ff" opacity="0.05"/>
<rect x="255.8" y="637.5" width="2.2" height="2.5" fill="#0000ff" opacity="0.06"/>
<rect x="255.8" y="640.0" width="2.2" height="2.5" fill="#0000ff" opacity="0.04"/>
<rect x="255.8" y="642.5" width="2.2" height="2.5" fill="#0000ff" opacity="0.05"/>
<rect x="255.8" y="645.0" width="2.2" height="2.5" fill="#0000ff" opacity="0.05"/>
<rect x="255.8" y="647.5" width="2.2" height="2.5" fill="#0000ff" opacity="0.05"/>
<rect x="423.2" y="150.0" width="1.5" height="2.5" fill="#0000ff" opacity="0.06"/>
<rect x="423.2" y="152.5" width="1.5" height="2.5" fill="#0000ff" opacity="0.09"/>
<rect x="423.2" y="155.0" width="1.5" height="2.5" fill="#0000ff" opacity="0.08"/>
<rect x="423.2" y="157.5" width="1.5" height="2.5" fill="#0000ff" opacity="0.06"/>
<rect x="423.2" y="160.0" width="1.5" height="2.5" fill="#0000ff" opacity="0.08"/>
<rect x="423.2" y="162.5" width="1.5" height="2.5" fill="#0000ff" opacity="0.10"/>
<rect x="423.2" y="165.0" width="1.5" height="2.5" fill="#0000ff" opacity="0.13"/>
<rect x="423.2" y="167.5" width="1.5" height="2.5" fill="#0000ff" opacity="0.13"/>
<rect x="423.2" y="170.0" width="1.5" height="2.5" fill="#0000ff" opacity="0.14"/>
<rect x="423.2" y="172.5" width="1.5" height="2.5" fill="#0000ff" opacity="0.09"/>
<rect x="423.2" y="175.0" width="1.5" height="2.5" fill="#0000ff" opacity="0.09"/>
<rect x="423.2" y="177.5" width="1.5" height="2.5" fill="#0000ff" opacity="0.09"/>
<rect x="423.2" y="180.0" width="1.5" height="2.5" fill="#0000ff" opacity="0.10"/>
<rect x="423.2" y="182.5" width="1.5" height="2.5" fill="#0000ff" opacity="0.06"/>
<rect x="423.2" y="185.0" width="1.5" height="2.5" fill="#0000ff" opacity="0.11"/>
<rect x="423.2" y="187.5" width="1.5" height="2.5" fill="#0000ff" opacity="0.17"/>
<rect x="423.2" y="190.0" width="1.5" height="2.5" fill="#0000ff" opacity="0.15"/>
<rect x="423.2" y="192.5" width="1.5" height="2.5" fill="#0000ff" opacity="0.13"/>
<rect x="423.2" y="195.0" width="1.5" height="2.5" fill="#0000ff" opacity="0.08"/>
<rect x="423.2" y="197.5" width="1.5" height="2.5" fill="#0000ff" opacity="0.07"/>
<rect x="423.2" y="200.0" width="1.5" height="2.5" fill="#0000ff" opacity="0.08"/>
<rect x="423.2" y="202.5" width="1.5" height="2.5" fill="#0000ff" opacity="0.07"/>
<rect x="423.2" y="205.0" width="1.5" height="2.5" fill="#0000ff" opacity="0.08"/>
<rect x="423.2" y="207.5" width="1.5" height="2.5" fill="#0000ff" opacity="0.11"/>
<rect x="423.2" y="210.0" width="1.5" height="2.5" fill="#0000ff" opacity="0.10"/>
<rect x="423.2" y="212.5" width="1.5" height="2.5" fill="#0000ff" opacity="0.13"/>
<rect x="423.2" y="215.0" width="1.5" height="2.5" fill="#0000ff" opacity="0.22"/>
<rect x="423.2" y="217.5" width="1.5" height="2.5" fill="#0000ff" opacity="0.20"/>
<rect x="423.2" y="220.0" width="1.5" height="2.5" fill="#0000ff" opacity="0.21"/>
<rect x="423.2" y="222.5" width="1.5" height="2.5" fill="#0000ff" opacity="0.14"/>
<rect x="423.2" y="225.0" width="1.5" height="2.5" fill="#0000ff" opacity="0.16"/>
<rect x="423.2" y="227.5" width="1.5" height="2.5" fill="#0000ff" opacity="0.13"/>
<rect x="423.2" y="230.0" width="1.5" height="2.5" fill="#0000ff" opacity="0.20"/>
<rect x="423.2" y="232.5" width="1.5" height="2.5" fill="#0000ff" opacity="0.19"/>
<rect x="423.2" y="235.0" width="1.5" height="2.5" fill="#0000ff" opacity="0.10"/>
<rect x="423.2" y="237.5" width="1.5" height="2.5" fill="#0000ff" opacity="0.16"/>
<rect x="423.2" y="240.0" width="1.5" height="2.5" fill="#0000ff" opacity="0.13"/>
<rect x="423.2" y="242.5" width="1.5" height="2.5" fill="#0000ff" opacity="0.21"/>
<rect x="423.2" y="245.0" width="1.5" height="2.5" fill="#0000ff" opacity="0.18"/>
<rect x="423.2" y="247.5" width="1.5" height="2.5" fill="#0000ff" opacity="0.19"/>
<rect x="423.2" y="250.0" width="1.5" height="2.5" fill="#0000ff" opacity="0.17"/>
<rect x="423.2" y="252.5" width="1.5" height="2.5" fill="#0000ff" opacity="0.12"/>
<rect x="423.2" y="255.0" width="1.5" height="2.5" fill="#0000ff" opacity="0.25"/>
<rect x="423.2" y="257.5" width="1.5" height="2.5" fill="#0000ff" opacity="0.23"/>
<rect x="423.2" y="260.0" width="1.5" height="2.5" fill="#0000ff" opacity="0.25"/>
<rect x="423.2" y="262.5" width="1.5" height="2.5" fill="#0000ff" opacity="0.22"/>
<rect x="423.2" y="265.0" width="1.5" height="2.5" fill="#0000ff" opacity="0.16"/>
<rect x="423.2" y="267.5" width="1.5" height="2.5" fill="#0000ff" opacity="0.15"/>
<rect x="423.2" y="270.0" width="1.5" height="2.5" fill="#0000ff" opacity="0.24"/>
<rect x="423.2" y="272.5" width="1.5" height="2.5" fill="#0000ff" opacity="0.30"/>
<rect x="423.2" y="275.0" width="1.5" height="2.5" fill="#0000ff" opacity="0.30"/>
<rect x="423.2" y="277.5" width="1.5" height="2.5" fill="#0000ff" opacity="0.41"/>
<rect x="423.2" y="280.0" width="1.5" height="2.5" fill="#0000ff" opacity="0.28"/>
<rect x="423.2" y="282.5" width="1.5" height="2.5" fill="#0000ff" opacity="0.18"/>
<rect x="423.2" y="285.0" width="1.5" height="2.5" fill="#0000ff" opacity="0.17"/>
<rect x="423.2" y="287.5" width="1.5" height="2.5" fill="#0000ff" opacity="0.14"/>
<rect x="423.2" y="290.0" width="1.5" height="2.5" fill="#0000ff" opacity="0.17"/>
<rect x="423.2" y="292.5" width="1.5" height="2.5" fill="#0000ff" opacity="0.30"/>
<rect x="423.2" y="295.0" width="1.5" height="2.5" fill="#0000ff" opacity="0.26"/>
<rect x="423.2" y="297.5" width="1.5" height="2.5" fill="#0000ff" opacity="0.30"/>
<rect x="423.2" y="300.0" width="1.5" height="2.5" fill="#0000ff" opacity="0.22"/>
<rect x="423.2" y="302.5" width="1.5" height="2.5" fill="#0000ff" opacity="0.13"/>
<rect x="423.2" y="305.0" width="1.5" height="2.5" fill="#0000ff" opacity="0.27"/>
<rect x="423.2" y="307.5" width="1.5" height="2.5" fill="#0000ff" opacity="0.35"/>
<rect x="423.2" y="310.0" width="1.5" height="2.5" fill="#0000ff" opacity="0.25"/>
<rect x="423.2" y="312.5" width="1.5" height="2.5" fill="#0000ff" opacity="0.42"/>
<rect x="423.2" y="315.0" width="1.5" height="2.5" fill="#0000ff" opacity="0.27"/>
<rect x="423.2" y="317.5" width="1.5" height="2.5" fill="#0000ff" opacity="0.21"/>
<rect x="423.2" y="320.0" width="1.5" height="2.5" fill="#0000ff" opacity="0.27"/>
<rect x="423.2" y="322.5" width="1.5" height="2.5" fill="#0000ff" opacity="0.20"/>
<rect x="423.2" y="325.0" width="1.5" height="2.5" fill="#0000ff" opacity="0.23"/>
<rect x="423.2" y="327.5" width="1.5" height="2.5" fill="#0000ff" opacity="0.21"/>
<rect x="423.2" y="330.0" width="1.5" height="2.5" fill="#0000ff" opacity="0.13"/>
<rect x="423.2" y="332.5" width="1.5" height="2.5" fill="#0000ff" opacity="0.09"/>
<rect x="423.2" y="335.0" width="1.5" height="2.5" fill="#0000ff" opacity="0.12"/>
<rect x="423.2" y="337.5" width="1.5" height="2.5" fill="#0000ff" opacity="0.11"/>
<rect x="423.2" y="340.0" width="1.5" height="2.5" fill="#0000ff" opacity="0.09"/>
<rect x="423.2" y="342.5" width="1.5" height="2.5" fill="#0000ff" opacity="0.07"/>
<rect x="423.2" y="345.0" width="1.5" height="2.5" fill="#0000ff" opacity="0.10"/>
<rect x="423.2" y="347.5" width="1.5" height="2.5" fill="#0000ff" opacity="0.09"/>
<rect x="423.2" y="350.0" width="1.5" height="2.5" fill="#0000ff" opacity="0.07"/>
<rect x="423.2" y="352.5" width="1.5" height="2.5" fill="#0000ff" opacity="0.07"/>
<rect x="423.2" y="355.0" width="1.5" height="2.5" fill="#0000ff" opacity="0.09"/>
<rect x="423.2" y="357.5" width="1.5" height="2.5" fill="#0000ff" opacity="0.07"/>
<rect x="423.2" y="360.0" width="1.5" height="2.5" fill="#0000ff" opacity="0.09"/>
<rect x="423.2" y="362.5" width="1.5" height="2.5" fill="#0000ff" opacity="0.10"/>
<rect x="423.2" y="365.0" width="1.5" height="2.5" fill="#0000ff" opacity="0.09"/>
<rect x="423.2" y="367.5" width="1.5" height="2.5" fill="#0000ff" opacity="0.08"/>
<rect x="423.2" y="370.0" width="1.5" height="2.5" fill="#0000ff" opacity="0.12"/>
<rect x="423.2" y="372.5" width="1.5" height="2.5" fill="#0000ff" opacity="0.16"/>
<rect x="423.2" y="375.0" width="1.5" height="2.5" fill="#0000ff" opacity="0.25"/>
<rect x="423.2" y="377.5" width="1.5" height="2.5" fill="#0000ff" opacity="0.23"/>
<rect x="423.2" y="380.0" width="1.5" height="2.5" fill="#0000ff" opacity="0.23"/>
<rect x="423.2" y="382.5" width="1.5" height="2.5" fill="#0000ff" opacity="0.18"/>
<rect x="423.2" y="385.0" width="1.5" height="2.5" fill="#0000ff" opacity="0.18"/>
<rect x="423.2" y="387.5" width="1.5" height="2.5" fill="#0000ff" opacity="0.19"/>
<rect x="423.2" y="390.0" width="1.5" height="2.5" fill="#0000ff" opacity="0.21"/>
<rect x="423.2" y="392.5" width="1.5" height="2.5" fill="#0000ff" opacity="0.32"/>
<rect x="423.2" y="395.0" width="1.5" height="2.5" fill="#0000ff" opacity="0.24"/>
<rect x="423.2" y="397.5" width="1.5" height="2.5" fill="#0000ff" opacity="0.17"/>
<rect x="423.2" y="400.0" width="1.5" height="2.5" fill="#0000ff" opacity="0.15"/>
<rect x="423.2" y="402.5" width="1.5" height="2.5" fill="#0000ff" opacity="0.18"/>
<rect x="423.2" y="405.0" width="1.5" height="2.5" fill="#0000ff" opacity="0.30"/>
<rect x="423.2" y="407.5" width="1.5" height="2.5" fill="#0000ff" opacity="0.31"/>
<rect x="423.2" y="410.0" width="1.5" height="2.5" fill="#0000ff" opacity="0.28"/>
<rect x="423.2" y="412.5" width="1.5" height="2.5" fill="#0000ff" opacity="0.24"/>
<rect x="423.2" y="415.0" width="1.5" height="2.5" fill="#0000ff" opacity="0.25"/>
<rect x="423.2" y="417.5" width="1.5" height="2.5" fill="#0000ff" opacity="0.21"/>
<rect x="423.2" y="420.0" width="1.5" height="2.5" fill="#0000ff" opacity="0.27"/>
<rect x="423.2" y="422.5" width="1.5" height="2.5" fill="#0000ff" opacity="0.46"/>
<rect x="423.2" y="425.0" width="1.5" height="2.5" fill="#0000ff" opacity="0.43"/>
<rect x="423.2" y="427.5" width="1.5" height="2.5" fill="#0000ff" opacity="0.36"/>
<rect x="423.2" y="430.0" width="1.5" height="2.5" fill="#0000ff" opacity="0.17"/>
<rect x="423.2" y="432.5" width="1.5" height="2.5" fill="#0000ff" opacity="0.14"/>
<rect x="423.2" y="435.0" width="1.5" height="2.5" fill="#0000ff" opacity="0.18"/>
<rect x="423.2" y="437.5" width="1.5" height="2.5" fill="#0000ff" opacity="0.23"/>
<rect x="423.2" y="440.0" width="1.5" height="2.5" fill="#0000ff" opacity="0.28"/>
<rect x="423.2" y="442.5" width="1.5" height="2.5" fill="#0000ff" opacity="0.17"/>
<rect x="423.2" y="445.0" width="1.5" height="2.5" fill="#0000ff" opacity="0.17"/>
<rect x="423.2" y="447.5" width="1.5" height="2.5" fill="#0000ff" opacity="0.10"/>
<rect x="423.2" y="450.0" width="1.5" height="2.5" fill="#0000ff" opacity="0.11"/>
<rect x="423.2" y="452.5" width="1.5" height="2.5" fill="#0000ff" opacity="0.21"/>
<rect x="423.2" y="455.0" width="1.5" height="2.5" fill="#0000ff" opacity="0.23"/>
<rect x="423.2" y="457.5" width="1.5" height="2.5" fill="#0000ff" opacity="0.24"/>
<rect x="423.2" y="460.0" width="1.5" height="2.5" fill="#0000ff" opacity="0.17"/>
<rect x="423.2" y="462.5" width="1.5" height="2.5" fill="#0000ff" opacity="0.15"/>
<rect x="423.2" y="465.0" width="1.5" height="2.5" fill="#0000ff" opacity="0.13"/>
<rect x="423.2" y="467.5" width="1.5" height="2.5" fill="#0000ff" opacity="0.17"/>
<rect x="423.2" y="470.0" width="1.5" height="2.5" fill="#0000ff" opacity="0.22"/>
<rect x="423.2" y="472.5" width="1.5" height="2.5" fill="#0000ff" opacity="0.18"/>
<rect x="423.2" y="475.0" width="1.5" height="2.5" fill="#0000ff" opacity="0.09"/>
<rect x="423.2" y="477.5" width="1.5" height="2.5" fill="#0000ff" opacity="0.09"/>
<rect x="423.2" y="480.0" width="1.5" height="2.5" fill="#0000ff" opacity="0.19"/>
<rect x="423.2" y="482.5" width="1.5" height="2.5" fill="#0000ff" opacity="0.21"/>
<rect x="423.2" y="485.0" width="1.5" height="2.5" fill="#0000ff" opacity="0.21"/>
<rect x="423.2" y="487.5" width="1.5" height="2.5" fill="#0000ff" opacity="0.12"/>
<rect x="423.2" y="490.0" width="1.5" height="2.5" fill="#0000ff" opacity="0.10"/>
<rect x="423.2" y="492.5" width="1.5" height="2.5" fill="#0000ff" opacity="0.08"/>
<rect x="423.2" y="495.0" width="1.5" height="2.5" fill="#0000ff" opacity="0.11"/>
<rect x="423.2" y="497.5" width="1.5" height="2.5" fill="#0000ff" opacity="0.08"/>
<rect x="423.2" y="500.0" width="1.5" height="2.5" fill="#0000ff" opacity="0.10"/>
<rect x="423.2" y="502.5" width="1.5" height="2.5" fill="#0000ff" opacity="0.12"/>
<rect x="423.2" y="505.0" width="1.5" height="2.5" fill="#0000ff" opacity="0.09"/>
<rect x="423.2" y="507.5" width="1.5" height="2.5" fill="#0000ff" opacity="0.12"/>
<rect x="423.2" y="510.0" width="1.5" height="2.5" fill="#0000ff" opacity="0.17"/>
<rect x="423.2" y="512.5" width="1.5" height="2.5" fill="#0000ff" opacity="0.20"/>
<rect x="423.2" y="515.0" width="1.5" height="2.5" fill="#0000ff" opacity="0.13"/>
<rect x="423.2" y="517.5" width="1.5" height="2.5" fill="#0000ff" opacity="0.10"/>
<rect x="423.2" y="520.0" width="1.5" height="2.5" fill="#0000ff" opacity="0.07"/>
<rect x="423.2" y="522.5" width="1.5" height="2.5" fill="#0000ff" opacity="0.10"/>
<rect x="423.2" y="525.0" width="1.5" height="2.5" fill="#0000ff" opacity="0.06"/>
<rect x="423.2" y="527.5" width="1.5" height="2.5" fill="#0000ff" opacity="0.06"/>
<rect x="423.2" y="530.0" width="1.5" height="2.5" fill="#0000ff" opacity="0.10"/>
<rect x="423.2" y="532.5" width="1.5" height="2.5" fill="#0000ff" opacity="0.11"/>
<rect x="423.2" y="535.0" width="1.5" height="2.5" fill="#0000ff" opacity="0.14"/>
<rect x="423.2" y="537.5" width="1.5" height="2.5" fill="#0000ff" opacity="0.11"/>
<rect x="423.2" y="540.0" width="1.5" height="2.5" fill="#0000ff" opacity="0.11"/>
<rect x="423.2" y="542.5" width="1.5" height="2.5" fill="#0000ff" opacity="0.06"/>
<rect x="423.2" y="545.0" width="1.5" height="2.5" fill="#0000ff" opacity="0.06"/>
<rect x="423.2" y="547.5" width="1.5" height="2.5" fill="#0000ff" opacity="0.08"/>
<rect x="423.2" y="550.0" width="1.5" height="2.5" fill="#0000ff" opacity="0.05"/>
<rect x="423.2" y="552.5" width="1.5" height="2.5" fill="#0000ff" opacity="0.06"/>
<rect x="423.2" y="555.0" width="1.5" height="2.5" fill="#0000ff" opacity="0.08"/>
<rect x="423.2" y="557.5" width="1.5" height="2.5" fill="#0000ff" opacity="0.09"/>
<rect x="436.9" y="200.0" width="2" height="2.5" fill="#0000ff" opacity="0.10"/>
<rect x="436.9" y="202.5" width="2" height="2.5" fill="#0000ff" opacity="0.09"/>
<rect x="436.9" y="205.0" width="2" height="2.5" fill="#0000ff" opacity="0.11"/>
<rect x="436.9" y="207.5" width="2" height="2.5" fill="#0000ff" opacity="0.14"/>
<rect x="436.9" y="210.0" width="2" height="2.5" fill="#0000ff" opacity="0.12"/>
<rect x="436.9" y="212.5" width="2" height="2.5" fill="#0000ff" opacity="0.13"/>
<rect x="436.9" y="215.0" width="2" height="2.5" fill="#0000ff" opacity="0.26"/>
<rect x="436.9" y="217.5" width="2" height="2.5" fill="#0000ff" opacity="0.26"/>
<rect x="436.9" y="220.0" width="2" height="2.5" fill="#0000ff" opacity="0.27"/>
<rect x="436.9" y="222.5" width="2" height="2.5" fill="#0000ff" opacity="0.22"/>
<rect x="436.9" y="225.0" width="2" height="2.5" fill="#0000ff" opacity="0.23"/>
<rect x="436.9" y="227.5" width="2" height="2.5" fill="#0000ff" opacity="0.22"/>
<rect x="436.9" y="230.0" width="2" height="2.5" fill="#0000ff" opacity="0.30"/>
<rect x="436.9" y="232.5" width="2" height="2.5" fill="#0000ff" opacity="0.19"/>
<rect x="436.9" y="235.0" width="2" height="2.5" fill="#0000ff" opacity="0.16"/>
<rect x="436.9" y="237.5" width="2" height="2.5" fill="#0000ff" opacity="0.16"/>
<rect x="436.9" y="240.0" width="2" height="2.5" fill="#0000ff" opacity="0.28"/>
<rect x="436.9" y="242.5" width="2" height="2.5" fill="#0000ff" opacity="0.35"/>
<rect x="436.9" y="245.0" width="2" height="2.5" fill="#0000ff" opacity="0.25"/>
<rect x="436.9" y="247.5" width="2" height="2.5" fill="#0000ff" opacity="0.24"/>
<rect x="436.9" y="250.0" width="2" height="2.5" fill="#0000ff" opacity="0.19"/>
<rect x="436.9" y="252.5" width="2" height="2.5" fill="#0000ff" opacity="0.19"/>
<rect x="436.9" y="255.0" width="2" height="2.5" fill="#0000ff" opacity="0.25"/>
<rect x="436.9" y="257.5" width="2" height="2.5" fill="#0000ff" opacity="0.30"/>
<rect x="436.9" y="260.0" width="2" height="2.5" fill="#0000ff" opacity="0.27"/>
<rect x="436.9" y="262.5" width="2" height="2.5" fill="#0000ff" opacity="0.29"/>
<rect x="436.9" y="265.0" width="2" height="2.5" fill="#0000ff" opacity="0.27"/>
<rect x="436.9" y="267.5" width="2" height="2.5" fill="#0000ff" opacity="0.24"/>
<rect x="436.9" y="270.0" width="2" height="2.5" fill="#0000ff" opacity="0.35"/>
<rect x="436.9" y="272.5" width="2" height="2.5" fill="#0000ff" opacity="0.40"/>
<rect x="436.9" y="275.0" width="2" height="2.5" fill="#0000ff" opacity="0.38"/>
<rect x="436.9" y="277.5" width="2" height="2.5" fill="#0000ff" opacity="0.55"/>
<rect x="436.9" y="280.0" width="2" height="2.5" fill="#0000ff" opacity="0.52"/>
<rect x="436.9" y="282.5" width="2" height="2.5" fill="#0000ff" opacity="0.30"/>
<rect x="436.9" y="285.0" width="2" height="2.5" fill="#0000ff" opacity="0.19"/>
<rect x="436.9" y="287.5" width="2" height="2.5" fill="#0000ff" opacity="0.25"/>
<rect x="436.9" y="290.0" width="2" height="2.5" fill="#0000ff" opacity="0.29"/>
<rect x="436.9" y="292.5" width="2" height="2.5" fill="#0000ff" opacity="0.36"/>
<rect x="436.9" y="295.0" width="2" height="2.5" fill="#0000ff" opacity="0.47"/>
<rect x="436.9" y="297.5" width="2" height="2.5" fill="#0000ff" opacity="0.35"/>
<rect x="436.9" y="300.0" width="2" height="2.5" fill="#0000ff" opacity="0.30"/>
<rect x="436.9" y="302.5" width="2" height="2.5" fill="#0000ff" opacity="0.17"/>
<rect x="436.9" y="305.0" width="2" height="2.5" fill="#0000ff" opacity="0.29"/>
<rect x="436.9" y="307.5" width="2" height="2.5" fill="#0000ff" opacity="0.44"/>
<rect x="436.9" y="310.0" width="2" height="2.5" fill="#0000ff" opacity="0.34"/>
<rect x="436.9" y="312.5" width="2" height="2.5" fill="#0000ff" opacity="0.34"/>
<rect x="436.9" y="315.0" width="2" height="2.5" fill="#0000ff" opacity="0.42"/>
<rect x="436.9" y="317.5" width="2" height="2.5" fill="#0000ff" opacity="0.36"/>
<rect x="436.9" y="320.0" width="2" height="2.5" fill="#0000ff" opacity="0.21"/>
<rect x="436.9" y="322.5" width="2" height="2.5" fill="#0000ff" opacity="0.33"/>
<rect x="436.9" y="325.0" width="2" height="2.5" fill="#0000ff" opacity="0.24"/>
<rect x="436.9" y="327.5" width="2" height="2.5" fill="#0000ff" opacity="0.26"/>
<rect x="436.9" y="330.0" width="2" height="2.5" fill="#0000ff" opacity="0.17"/>
<rect x="436.9" y="332.5" width="2" height="2.5" fill="#0000ff" opacity="0.11"/>
<rect x="436.9" y="335.0" width="2" height="2.5" fill="#0000ff" opacity="0.10"/>
<rect x="436.9" y="337.5" width="2" height="2.5" fill="#0000ff" opacity="0.14"/>
<rect x="436.9" y="340.0" width="2" height="2.5" fill="#0000ff" opacity="0.12"/>
<rect x="436.9" y="342.5" width="2" height="2.5" fill="#0000ff" opacity="0.14"/>
<rect x="436.9" y="345.0" width="2" height="2.5" fill="#0000ff" opacity="0.11"/>
<rect x="436.9" y="347.5" width="2" height="2.5" fill="#0000ff" opacity="0.11"/>
<rect x="436.9" y="350.0" width="2" height="2.5" fill="#0000ff" opacity="0.15"/>
<rect x="436.9" y="352.5" width="2" height="2.5" fill="#0000ff" opacity="0.13"/>
<rect x="436.9" y="355.0" width="2" height="2.5" fill="#0000ff" opacity="0.12"/>
<rect x="436.9" y="357.5" width="2" height="2.5" fill="#0000ff" opacity="0.12"/>
<rect x="436.9" y="360.0" width="2" height="2.5" fill="#0000ff" opacity="0.13"/>
<rect x="436.9" y="362.5" width="2" height="2.5" fill="#0000ff" opacity="0.13"/>
<rect x="436.9" y="365.0" width="2" height="2.5" fill="#0000ff" opacity="0.15"/>
<rect x="436.9" y="367.5" width="2" height="2.5" fill="#0000ff" opacity="0.12"/>
<rect x="436.9" y="370.0" width="2" height="2.5" fill="#0000ff" opacity="0.18"/>
<rect x="436.9" y="372.5" width="2" height="2.5" fill="#0000ff" opacity="0.24"/>
<rect x="436.9" y="375.0" width="2" height="2.5" fill="#0000ff" opacity="0.35"/>
<rect x="436.9" y="377.5" width="2" height="2.5" fill="#0000ff" opacity="0.35"/>
<rect x="436.9" y="380.0" width="2" height="2.5" fill="#0000ff" opacity="0.29"/>
<rect x="436.9" y="382.5" width="2" height="2.5" fill="#0000ff" opacity="0.24"/>
<rect x="436.9" y="385.0" width="2" height="2.5" fill="#0000ff" opacity="0.28"/>
<rect x="436.9" y="387.5" width="2" height="2.5" fill="#0000ff" opacity="0.32"/>
<rect x="436.9" y="390.0" width="2" height="2.5" fill="#0000ff" opacity="0.36"/>
<rect x="436.9" y="392.5" width="2" height="2.5" fill="#0000ff" opacity="0.38"/>
<rect x="436.9" y="395.0" width="2" height="2.5" fill="#0000ff" opacity="0.32"/>
<rect x="436.9" y="397.5" width="2" height="2.5" fill="#0000ff" opacity="0.21"/>
<rect x="436.9" y="400.0" width="2" height="2.5" fill="#0000ff" opacity="0.21"/>
<rect x="436.9" y="402.5" width="2" height="2.5" fill="#0000ff" opacity="0.22"/>
<rect x="436.9" y="405.0" width="2" height="2.5" fill="#0000ff" opacity="0.41"/>
<rect x="436.9" y="407.5" width="2" height="2.5" fill="#0000ff" opacity="0.51"/>
<rect x="436.9" y="410.0" width="2" height="2.5" fill="#0000ff" opacity="0.33"/>
<rect x="436.9" y="412.5" width="2" height="2.5" fill="#0000ff" opacity="0.24"/>
<rect x="436.9" y="415.0" width="2" height="2.5" fill="#0000ff" opacity="0.24"/>
<rect x="436.9" y="417.5" width="2" height="2.5" fill="#0000ff" opacity="0.32"/>
<rect x="436.9" y="420.0" width="2" height="2.5" fill="#0000ff" opacity="0.37"/>
<rect x="436.9" y="422.5" width="2" height="2.5" fill="#0000ff" opacity="0.61"/>
<rect x="436.9" y="425.0" width="2" height="2.5" fill="#0000ff" opacity="0.34"/>
<rect x="436.9" y="427.5" width="2" height="2.5" fill="#0000ff" opacity="0.35"/>
<rect x="436.9" y="430.0" width="2" height="2.5" fill="#0000ff" opacity="0.23"/>
<rect x="436.9" y="432.5" width="2" height="2.5" fill="#0000ff" opacity="0.28"/>
<rect x="436.9" y="435.0" width="2" height="2.5" fill="#0000ff" opacity="0.32"/>
<rect x="436.9" y="437.5" width="2" height="2.5" fill="#0000ff" opacity="0.26"/>
<rect x="436.9" y="440.0" width="2" height="2.5" fill="#0000ff" opacity="0.26"/>
<rect x="436.9" y="442.5" width="2" height="2.5" fill="#0000ff" opacity="0.29"/>
<rect x="436.9" y="445.0" width="2" height="2.5" fill="#0000ff" opacity="0.23"/>
<rect x="436.9" y="447.5" width="2" height="2.5" fill="#0000ff" opacity="0.22"/>
<rect x="436.9" y="450.0" width="2" height="2.5" fill="#0000ff" opacity="0.14"/>
<rect x="436.9" y="452.5" width="2" height="2.5" fill="#0000ff" opacity="0.19"/>
<rect x="436.9" y="455.0" width="2" height="2.5" fill="#0000ff" opacity="0.24"/>
<rect x="436.9" y="457.5" width="2" height="2.5" fill="#0000ff" opacity="0.25"/>
<rect x="436.9" y="460.0" width="2" height="2.5" fill="#0000ff" opacity="0.20"/>
<rect x="436.9" y="462.5" width="2" height="2.5" fill="#0000ff" opacity="0.22"/>
<rect x="436.9" y="465.0" width="2" height="2.5" fill="#0000ff" opacity="0.23"/>
<rect x="436.9" y="467.5" width="2" height="2.5" fill="#0000ff" opacity="0.21"/>
<rect x="436.9" y="470.0" width="2" height="2.5" fill="#0000ff" opacity="0.21"/>
<rect x="436.9" y="472.5" width="2" height="2.5" fill="#0000ff" opacity="0.18"/>
<rect x="436.9" y="475.0" width="2" height="2.5" fill="#0000ff" opacity="0.13"/>
<rect x="436.9" y="477.5" width="2" height="2.5" fill="#0000ff" opacity="0.19"/>
<rect x="436.9" y="480.0" width="2" height="2.5" fill="#0000ff" opacity="0.19"/>
<rect x="436.9" y="482.5" width="2" height="2.5" fill="#0000ff" opacity="0.27"/>
<rect x="436.9" y="485.0" width="2" height="2.5" fill="#0000ff" opacity="0.29"/>
<rect x="436.9" y="487.5" width="2" height="2.5" fill="#0000ff" opacity="0.19"/>
<rect x="436.9" y="490.0" width="2" height="2.5" fill="#0000ff" opacity="0.12"/>
<rect x="436.9" y="492.5" width="2" height="2.5" fill="#0000ff" opacity="0.15"/>
<rect x="436.9" y="495.0" width="2" height="2.5" fill="#0000ff" opacity="0.15"/>
<rect x="436.9" y="497.5" width="2" height="2.5" fill="#0000ff" opacity="0.11"/>
<rect x="436.9" y="500.0" width="2" height="2.5" fill="#0000ff" opacity="0.12"/>
<rect x="436.9" y="502.5" width="2" height="2.5" fill="#0000ff" opacity="0.15"/>
<rect x="436.9" y="505.0" width="2" height="2.5" fill="#0000ff" opacity="0.13"/>
<rect x="436.9" y="507.5" width="2" height="2.5" fill="#0000ff" opacity="0.13"/>
<rect x="436.9" y="510.0" width="2" height="2.5" fill="#0000ff" opacity="0.15"/>
<rect x="436.9" y="512.5" width="2" height="2.5" fill="#0000ff" opacity="0.28"/>
<rect x="436.9" y="515.0" width="2" height="2.5" fill="#0000ff" opacity="0.22"/>
<rect x="436.9" y="517.5" width="2" height="2.5" fill="#0000ff" opacity="0.13"/>
<rect x="548.9" y="100.0" width="1.5" height="2.5" fill="#0000ff" opacity="0.04"/>
<rect x="548.9" y="102.5" width="1.5" height="2.5" fill="#0000ff" opacity="0.05"/>
<rect x="548.9" y="105.0" width="1.5" height="2.5" fill="#0000ff" opacity="0.04"/>
<rect x="548.9" y="107.5" width="1.5" height="2.5" fill="#0000ff" opacity="0.06"/>
<rect x="548.9" y="110.0" width="1.5" height="2.5" fill="#0000ff" opacity="0.06"/>
<rect x="548.9" y="112.5" width="1.5" height="2.5" fill="#0000ff" opacity="0.06"/>
<rect x="548.9" y="115.0" width="1.5" height="2.5" fill="#0000ff" opacity="0.05"/>
<rect x="548.9" y="117.5" width="1.5" height="2.5" fill="#0000ff" opacity="0.06"/>
<rect x="548.9" y="120.0" width="1.5" height="2.5" fill="#0000ff" opacity="0.05"/>
<rect x="548.9" y="122.5" width="1.5" height="2.5" fill="#0000ff" opacity="0.06"/>
<rect x="548.9" y="125.0" width="1.5" height="2.5" fill="#0000ff" opacity="0.06"/>
<rect x="548.9" y="127.5" width="1.5" height="2.5" fill="#0000ff" opacity="0.06"/>
<rect x="548.9" y="130.0" width="1.5" height="2.5" fill="#0000ff" opacity="0.05"/>
<rect x="548.9" y="132.5" width="1.5" height="2.5" fill="#0000ff" opacity="0.05"/>
<rect x="548.9" y="135.0" width="1.5" height="2.5" fill="#0000ff" opacity="0.07"/>
<rect x="548.9" y="137.5" width="1.5" height="2.5" fill="#0000ff" opacity="0.08"/>
<rect x="548.9" y="140.0" width="1.5" height="2.5" fill="#0000ff" opacity="0.11"/>
<rect x="548.9" y="142.5" width="1.5" height="2.5" fill="#0000ff" opacity="0.08"/>
<rect x="548.9" y="145.0" width="1.5" height="2.5" fill="#0000ff" opacity="0.07"/>
<rect x="548.9" y="147.5" width="1.5" height="2.5" fill="#0000ff" opacity="0.08"/>
<rect x="548.9" y="150.0" width="1.5" height="2.5" fill="#0000ff" opacity="0.06"/>
<rect x="548.9" y="152.5" width="1.5" height="2.5" fill="#0000ff" opacity="0.07"/>
<rect x="548.9" y="155.0" width="1.5" height="2.5" fill="#0000ff" opacity="0.05"/>
<rect x="548.9" y="157.5" width="1.5" height="2.5" fill="#0000ff" opacity="0.08"/>
<rect x="548.9" y="160.0" width="1.5" height="2.5" fill="#0000ff" opacity="0.05"/>
<rect x="548.9" y="162.5" width="1.5" height="2.5" fill="#0000ff" opacity="0.12"/>
<rect x="548.9" y="165.0" width="1.5" height="2.5" fill="#0000ff" opacity="0.15"/>
<rect x="548.9" y="167.5" width="1.5" height="2.5" fill="#0000ff" opacity="0.16"/>
<rect x="548.9" y="170.0" width="1.5" height="2.5" fill="#0000ff" opacity="0.08"/>
<rect x="548.9" y="172.5" width="1.5" height="2.5" fill="#0000ff" opacity="0.07"/>
<rect x="548.9" y="175.0" width="1.5" height="2.5" fill="#0000ff" opacity="0.09"/>
<rect x="548.9" y="177.5" width="1.5" height="2.5" fill="#0000ff" opacity="0.06"/>
<rect x="548.9" y="180.0" width="1.5" height="2.5" fill="#0000ff" opacity="0.08"/>
<rect x="548.9" y="182.5" width="1.5" height="2.5" fill="#0000ff" opacity="0.08"/>
<rect x="548.9" y="185.0" width="1.5" height="2.5" fill="#0000ff" opacity="0.13"/>
<rect x="548.9" y="187.5" width="1.5" height="2.5" fill="#0000ff" opacity="0.15"/>
<rect x="548.9" y="190.0" width="1.5" height="2.5" fill="#0000ff" opacity="0.21"/>
<rect x="548.9" y="192.5" width="1.5" height="2.5" fill="#0000ff" opacity="0.13"/>
<rect x="548.9" y="195.0" width="1.5" height="2.5" fill="#0000ff" opacity="0.12"/>
<rect x="548.9" y="197.5" width="1.5" height="2.5" fill="#0000ff" opacity="0.09"/>
<rect x="548.9" y="200.0" width="1.5" height="2.5" fill="#0000ff" opacity="0.11"/>
<rect x="548.9" y="202.5" width="1.5" height="2.5" fill="#0000ff" opacity="0.07"/>
<rect x="548.9" y="205.0" width="1.5" height="2.5" fill="#0000ff" opacity="0.11"/>
<rect x="548.9" y="207.5" width="1.5" height="2.5" fill="#0000ff" opacity="0.08"/>
<rect x="548.9" y="210.0" width="1.5" height="2.5" fill="#0000ff" opacity="0.10"/>
<rect x="548.9" y="212.5" width="1.5" height="2.5" fill="#0000ff" opacity="0.13"/>
<rect x="548.9" y="215.0" width="1.5" height="2.5" fill="#0000ff" opacity="0.14"/>
<rect x="548.9" y="217.5" width="1.5" height="2.5" fill="#0000ff" opacity="0.23"/>
<rect x="548.9" y="220.0" width="1.5" height="2.5" fill="#0000ff" opacity="0.14"/>
<rect x="548.9" y="222.5" width="1.5" height="2.5" fill="#0000ff" opacity="0.12"/>
<rect x="548.9" y="225.0" width="1.5" height="2.5" fill="#0000ff" opacity="0.10"/>
<rect x="548.9" y="227.5" width="1.5" height="2.5" fill="#0000ff" opacity="0.15"/>
<rect x="548.9" y="230.0" width="1.5" height="2.5" fill="#0000ff" opacity="0.19"/>
<rect x="548.9" y="232.5" width="1.5" height="2.5" fill="#0000ff" opacity="0.19"/>
<rect x="548.9" y="235.0" width="1.5" height="2.5" fill="#0000ff" opacity="0.12"/>
<rect x="548.9" y="237.5" width="1.5" height="2.5" fill="#0000ff" opacity="0.15"/>
<rect x="548.9" y="240.0" width="1.5" height="2.5" fill="#0000ff" opacity="0.13"/>
<rect x="548.9" y="242.5" width="1.5" height="2.5" fill="#0000ff" opacity="0.20"/>
<rect x="548.9" y="245.0" width="1.5" height="2.5" fill="#0000ff" opacity="0.22"/>
<rect x="548.9" y="247.5" width="1.5" height="2.5" fill="#0000ff" opacity="0.25"/>
<rect x="548.9" y="250.0" width="1.5" height="2.5" fill="#0000ff" opacity="0.19"/>
<rect x="548.9" y="252.5" width="1.5" height="2.5" fill="#0000ff" opacity="0.17"/>
<rect x="548.9" y="255.0" width="1.5" height="2.5" fill="#0000ff" opacity="0.14"/>
<rect x="548.9" y="257.5" width="1.5" height="2.5" fill="#0000ff" opacity="0.22"/>
<rect x="548.9" y="260.0" width="1.5" height="2.5" fill="#0000ff" opacity="0.27"/>
<rect x="548.9" y="262.5" width="1.5" height="2.5" fill="#0000ff" opacity="0.18"/>
<rect x="548.9" y="265.0" width="1.5" height="2.5" fill="#0000ff" opacity="0.18"/>
<rect x="548.9" y="267.5" width="1.5" height="2.5" fill="#0000ff" opacity="0.17"/>
<rect x="548.9" y="270.0" width="1.5" height="2.5" fill="#0000ff" opacity="0.16"/>
<rect x="548.9" y="272.5" width="1.5" height="2.5" fill="#0000ff" opacity="0.37"/>
<rect x="548.9" y="275.0" width="1.5" height="2.5" fill="#0000ff" opacity="0.41"/>
<rect x="548.9" y="277.5" width="1.5" height="2.5" fill="#0000ff" opacity="0.30"/>
<rect x="548.9" y="280.0" width="1.5" height="2.5" fill="#0000ff" opacity="0.34"/>
<rect x="548.9" y="282.5" width="1.5" height="2.5" fill="#0000ff" opacity="0.22"/>
<rect x="548.9" y="285.0" width="1.5" height="2.5" fill="#0000ff" opacity="0.19"/>
<rect x="548.9" y="287.5" width="1.5" height="2.5" fill="#0000ff" opacity="0.19"/>
<rect x="548.9" y="290.0" width="1.5" height="2.5" fill="#0000ff" opacity="0.19"/>
<rect x="548.9" y="292.5" width="1.5" height="2.5" fill="#0000ff" opacity="0.24"/>
<rect x="548.9" y="295.0" width="1.5" height="2.5" fill="#0000ff" opacity="0.26"/>
<rect x="548.9" y="297.5" width="1.5" height="2.5" fill="#0000ff" opacity="0.27"/>
<rect x="548.9" y="300.0" width="1.5" height="2.5" fill="#0000ff" opacity="0.16"/>
<rect x="548.9" y="302.5" width="1.5" height="2.5" fill="#0000ff" opacity="0.14"/>
<rect x="548.9" y="305.0" width="1.5" height="2.5" fill="#0000ff" opacity="0.24"/>
<rect x="548.9" y="307.5" width="1.5" height="2.5" fill="#0000ff" opacity="0.25"/>
<rect x="548.9" y="310.0" width="1.5" height="2.5" fill="#0000ff" opacity="0.43"/>
<rect x="548.9" y="312.5" width="1.5" height="2.5" fill="#0000ff" opacity="0.35"/>
<rect x="548.9" y="315.0" width="1.5" height="2.5" fill="#0000ff" opacity="0.31"/>
<rect x="548.9" y="317.5" width="1.5" height="2.5" fill="#0000ff" opacity="0.20"/>
<rect x="548.9" y="320.0" width="1.5" height="2.5" fill="#0000ff" opacity="0.25"/>
<rect x="548.9" y="322.5" width="1.5" height="2.5" fill="#0000ff" opacity="0.18"/>
<rect x="548.9" y="325.0" width="1.5" height="2.5" fill="#0000ff" opacity="0.18"/>
<rect x="548.9" y="327.5" width="1.5" height="2.5" fill="#0000ff" opacity="0.13"/>
<rect x="548.9" y="330.0" width="1.5" height="2.5" fill="#0000ff" opacity="0.13"/>
<rect x="548.9" y="332.5" width="1.5" height="2.5" fill="#0000ff" opacity="0.11"/>
<rect x="548.9" y="335.0" width="1.5" height="2.5" fill="#0000ff" opacity="0.07"/>
<rect x="548.9" y="337.5" width="1.5" height="2.5" fill="#0000ff" opacity="0.08"/>
<rect x="548.9" y="340.0" width="1.5" height="2.5" fill="#0000ff" opacity="0.11"/>
<rect x="548.9" y="342.5" width="1.5" height="2.5" fill="#0000ff" opacity="0.09"/>
<rect x="548.9" y="345.0" width="1.5" height="2.5" fill="#0000ff" opacity="0.07"/>
<rect x="548.9" y="347.5" width="1.5" height="2.5" fill="#0000ff" opacity="0.07"/>
<rect x="548.9" y="350.0" width="1.5" height="2.5" fill="#0000ff" opacity="0.07"/>
<rect x="548.9" y="352.5" width="1.5" height="2.5" fill="#0000ff" opacity="0.07"/>
<rect x="548.9" y="355.0" width="1.5" height="2.5" fill="#0000ff" opacity="0.08"/>
<rect x="548.9" y="357.5" width="1.5" height="2.5" fill="#0000ff" opacity="0.07"/>
<rect x="548.9" y="360.0" width="1.5" height="2.5" fill="#0000ff" opacity="0.11"/>
<rect x="548.9" y="362.5" width="1.5" height="2.5" fill="#0000ff" opacity="0.09"/>
<rect x="548.9" y="365.0" width="1.5" height="2.5" fill="#0000ff" opacity="0.09"/>
<rect x="548.9" y="367.5" width="1.5" height="2.5" fill="#0000ff" opacity="0.10"/>
<rect x="548.9" y="370.0" width="1.5" height="2.5" fill="#0000ff" opacity="0.13"/>
<rect x="548.9" y="372.5" width="1.5" height="2.5" fill="#0000ff" opacity="0.19"/>
<rect x="548.9" y="375.0" width="1.5" height="2.5" fill="#0000ff" opacity="0.20"/>
<rect x="548.9" y="377.5" width="1.5" height="2.5" fill="#0000ff" opacity="0.20"/>
<rect x="548.9" y="380.0" width="1.5" height="2.5" fill="#0000ff" opacity="0.17"/>
<rect x="548.9" y="382.5" width="1.5" height="2.5" fill="#0000ff" opacity="0.10"/>
<rect x="548.9" y="385.0" width="1.5" height="2.5" fill="#0000ff" opacity="0.15"/>
<rect x="548.9" y="387.5" width="1.5" height="2.5" fill="#0000ff" opacity="0.25"/>
<rect x="548.9" y="390.0" width="1.5" height="2.5" fill="#0000ff" opacity="0.34"/>
<rect x="548.9" y="392.5" width="1.5" height="2.5" fill="#0000ff" opacity="0.30"/>
<rect x="548.9" y="395.0" width="1.5" height="2.5" fill="#0000ff" opacity="0.22"/>
<rect x="548.9" y="397.5" width="1.5" height="2.5" fill="#0000ff" opacity="0.17"/>
<rect x="548.9" y="400.0" width="1.5" height="2.5" fill="#0000ff" opacity="0.12"/>
<rect x="548.9" y="402.5" width="1.5" height="2.5" fill="#0000ff" opacity="0.19"/>
<rect x="548.9" y="405.0" width="1.5" height="2.5" fill="#0000ff" opacity="0.25"/>
<rect x="548.9" y="407.5" width="1.5" height="2.5" fill="#0000ff" opacity="0.32"/>
<rect x="548.9" y="410.0" width="1.5" height="2.5" fill="#0000ff" opacity="0.21"/>
<rect x="548.9" y="412.5" width="1.5" height="2.5" fill="#0000ff" opacity="0.21"/>
<rect x="548.9" y="415.0" width="1.5" height="2.5" fill="#0000ff" opacity="0.22"/>
<rect x="548.9" y="417.5" width="1.5" height="2.5" fill="#0000ff" opacity="0.30"/>
<rect x="548.9" y="420.0" width="1.5" height="2.5" fill="#0000ff" opacity="0.38"/>
<rect x="548.9" y="422.5" width="1.5" height="2.5" fill="#0000ff" opacity="0.38"/>
<rect x="548.9" y="425.0" width="1.5" height="2.5" fill="#0000ff" opacity="0.28"/>
<rect x="548.9" y="427.5" width="1.5" height="2.5" fill="#0000ff" opacity="0.34"/>
<rect x="548.9" y="430.0" width="1.5" height="2.5" fill="#0000ff" opacity="0.28"/>
<rect x="548.9" y="432.5" width="1.5" height="2.5" fill="#0000ff" opacity="0.20"/>
<rect x="548.9" y="435.0" width="1.5" height="2.5" fill="#0000ff" opacity="0.19"/>
<rect x="548.9" y="437.5" width="1.5" height="2.5" fill="#0000ff" opacity="0.24"/>
<rect x="548.9" y="440.0" width="1.5" height="2.5" fill="#0000ff" opacity="0.20"/>
<rect x="548.9" y="442.5" width="1.5" height="2.5" fill="#0000ff" opacity="0.25"/>
<rect x="548.9" y="445.0" width="1.5" height="2.5" fill="#0000ff" opacity="0.21"/>
<rect x="548.9" y="447.5" width="1.5" height="2.5" fill="#0000ff" opacity="0.14"/>
<rect x="548.9" y="450.0" width="1.5" height="2.5" fill="#0000ff" opacity="0.16"/>
<rect x="548.9" y="452.5" width="1.5" height="2.5" fill="#0000ff" opacity="0.22"/>
<rect x="548.9" y="455.0" width="1.5" height="2.5" fill="#0000ff" opacity="0.18"/>
<rect x="548.9" y="457.5" width="1.5" height="2.5" fill="#0000ff" opacity="0.28"/>
<rect x="548.9" y="460.0" width="1.5" height="2.5" fill="#0000ff" opacity="0.19"/>
<rect x="548.9" y="462.5" width="1.5" height="2.5" fill="#0000ff" opacity="0.12"/>
<rect x="548.9" y="465.0" width="1.5" height="2.5" fill="#0000ff" opacity="0.12"/>
<rect x="548.9" y="467.5" width="1.5" height="2.5" fill="#0000ff" opacity="0.16"/>
<rect x="548.9" y="470.0" width="1.5" height="2.5" fill="#0000ff" opacity="0.20"/>
<rect x="548.9" y="472.5" width="1.5" height="2.5" fill="#0000ff" opacity="0.17"/>
<rect x="548.9" y="475.0" width="1.5" height="2.5" fill="#0000ff" opacity="0.11"/>
<rect x="548.9" y="477.5" width="1.5" height="2.5" fill="#0000ff" opacity="0.15"/>
<rect x="548.9" y="480.0" width="1.5" height="2.5" fill="#0000ff" opacity="0.15"/>
<rect x="548.9" y="482.5" width="1.5" height="2.5" fill="#0000ff" opacity="0.19"/>
<rect x="548.9" y="485.0" width="1.5" height="2.5" fill="#0000ff" opacity="0.14"/>
<rect x="548.9" y="487.5" width="1.5" height="2.5" fill="#0000ff" opacity="0.18"/>
<rect x="548.9" y="490.0" width="1.5" height="2.5" fill="#0000ff" opacity="0.08"/>
<rect x="548.9" y="492.5" width="1.5" height="2.5" fill="#0000ff" opacity="0.11"/>
<rect x="548.9" y="495.0" width="1.5" height="2.5" fill="#0000ff" opacity="0.09"/>
<rect x="548.9" y="497.5" width="1.5" height="2.5" fill="#0000ff" opacity="0.09"/>
<rect x="548.9" y="500.0" width="1.5" height="2.5" fill="#0000ff" opacity="0.09"/>
<rect x="548.9" y="502.5" width="1.5" height="2.5" fill="#0000ff" opacity="0.08"/>
<rect x="548.9" y="505.0" width="1.5" height="2.5" fill="#0000ff" opacity="0.12"/>
<rect x="548.9" y="507.5" width="1.5" height="2.5" fill="#0000ff" opacity="0.16"/>
<rect x="548.9" y="510.0" width="1.5" height="2.5" fill="#0000ff" opacity="0.18"/>
<rect x="548.9" y="512.5" width="1.5" height="2.5" fill="#0000ff" opacity="0.17"/>
<rect x="548.9" y="515.0" width="1.5" height="2.5" fill="#0000ff" opacity="0.11"/>
<rect x="548.9" y="517.5" width="1.5" height="2.5" fill="#0000ff" opacity="0.13"/>
<rect x="548.9" y="520.0" width="1.5" height="2.5" fill="#0000ff" opacity="0.08"/>
<rect x="548.9" y="522.5" width="1.5" height="2.5" fill="#0000ff" opacity="0.10"/>
<rect x="548.9" y="525.0" width="1.5" height="2.5" fill="#0000ff" opacity="0.07"/>
<rect x="548.9" y="527.5" width="1.5" height="2.5" fill="#0000ff" opacity="0.08"/>
<rect x="548.9" y="530.0" width="1.5" height="2.5" fill="#0000ff" opacity="0.11"/>
<rect x="548.9" y="532.5" width="1.5" height="2.5" fill="#0000ff" opacity="0.09"/>
<rect x="548.9" y="535.0" width="1.5" height="2.5" fill="#0000ff" opacity="0.13"/>
<rect x="548.9" y="537.5" width="1.5" height="2.5" fill="#0000ff" opacity="0.09"/>
<rect x="548.9" y="540.0" width="1.5" height="2.5" fill="#0000ff" opacity="0.07"/>
<rect x="548.9" y="542.5" width="1.5" height="2.5" fill="#0000ff" opacity="0.06"/>
<rect x="548.9" y="545.0" width="1.5" height="2.5" fill="#0000ff" opacity="0.09"/>
<rect x="548.9" y="547.5" width="1.5" height="2.5" fill="#0000ff" opacity="0.09"/>
<rect x="548.9" y="550.0" width="1.5" height="2.5" fill="#0000ff" opacity="0.07"/>
<rect x="548.9" y="552.5" width="1.5" height="2.5" fill="#0000ff" opacity="0.06"/>
<rect x="548.9" y="555.0" width="1.5" height="2.5" fill="#0000ff" opacity="0.08"/>
<rect x="548.9" y="557.5" width="1.5" height="2.5" fill="#0000ff" opacity="0.09"/>
<rect x="548.9" y="560.0" width="1.5" height="2.5" fill="#0000ff" opacity="0.08"/>
<rect x="548.9" y="562.5" width="1.5" height="2.5" fill="#0000ff" opacity="0.10"/>
<rect x="548.9" y="565.0" width="1.5" height="2.5" fill="#0000ff" opacity="0.11"/>
<rect x="548.9" y="567.5" width="1.5" height="2.5" fill="#0000ff" opacity="0.05"/>
<rect x="548.9" y="570.0" width="1.5" height="2.5" fill="#0000ff" opacity="0.05"/>
<rect x="548.9" y="572.5" width="1.5" height="2.5" fill="#0000ff" opacity="0.06"/>
<rect x="548.9" y="575.0" width="1.5" height="2.5" fill="#0000ff" opacity="0.04"/>
<rect x="548.9" y="577.5" width="1.5" height="2.5" fill="#0000ff" opacity="0.05"/>
<rect x="548.9" y="580.0" width="1.5" height="2.5" fill="#0000ff" opacity="0.06"/>
<rect x="548.9" y="582.5" width="1.5" height="2.5" fill="#0000ff" opacity="0.05"/>
<rect x="548.9" y="585.0" width="1.5" height="2.5" fill="#0000ff" opacity="0.06"/>
<rect x="548.9" y="587.5" width="1.5" height="2.5" fill="#0000ff" opacity="0.06"/>
<rect x="548.9" y="590.0" width="1.5" height="2.5" fill="#0000ff" opacity="0.07"/>
<rect x="548.9" y="592.5" width="1.5" height="2.5" fill="#0000ff" opacity="0.05"/>
<rect x="548.9" y="595.0" width="1.5" height="2.5" fill="#0000ff" opacity="0.05"/>
<rect x="548.9" y="597.5" width="1.5" height="2.5" fill="#0000ff" opacity="0.03"/>
<rect x="588.5" y="100.0" width="1.8" height="2.5" fill="#0000ff" opacity="0.06"/>
<rect x="588.5" y="102.5" width="1.8" height="2.5" fill="#0000ff" opacity="0.05"/>
<rect x="588.5" y="105.0" width="1.8" height="2.5" fill="#0000ff" opacity="0.08"/>
<rect x="588.5" y="107.5" width="1.8" height="2.5" fill="#0000ff" opacity="0.07"/>
<rect x="588.5" y="110.0" width="1.8" height="2.5" fill="#0000ff" opacity="0.08"/>
<rect x="588.5" y="112.5" width="1.8" height="2.5" fill="#0000ff" opacity="0.09"/>
<rect x="588.5" y="115.0" width="1.8" height="2.5" fill="#0000ff" opacity="0.10"/>
<rect x="588.5" y="117.5" width="1.8" height="2.5" fill="#0000ff" opacity="0.09"/>
<rect x="588.5" y="120.0" width="1.8" height="2.5" fill="#0000ff" opacity="0.09"/>
<rect x="588.5" y="122.5" width="1.8" height="2.5" fill="#0000ff" opacity="0.08"/>
<rect x="588.5" y="125.0" width="1.8" height="2.5" fill="#0000ff" opacity="0.07"/>
<rect x="588.5" y="127.5" width="1.8" height="2.5" fill="#0000ff" opacity="0.10"/>
<rect x="588.5" y="130.0" width="1.8" height="2.5" fill="#0000ff" opacity="0.09"/>
<rect x="588.5" y="132.5" width="1.8" height="2.5" fill="#0000ff" opacity="0.10"/>
<rect x="588.5" y="135.0" width="1.8" height="2.5" fill="#0000ff" opacity="0.09"/>
<rect x="588.5" y="137.5" width="1.8" height="2.5" fill="#0000ff" opacity="0.11"/>
<rect x="588.5" y="140.0" width="1.8" height="2.5" fill="#0000ff" opacity="0.13"/>
<rect x="588.5" y="142.5" width="1.8" height="2.5" fill="#0000ff" opacity="0.13"/>
<rect x="588.5" y="145.0" width="1.8" height="2.5" fill="#0000ff" opacity="0.09"/>
<rect x="588.5" y="147.5" width="1.8" height="2.5" fill="#0000ff" opacity="0.09"/>
<rect x="588.5" y="150.0" width="1.8" height="2.5" fill="#0000ff" opacity="0.08"/>
<rect x="588.5" y="152.5" width="1.8" height="2.5" fill="#0000ff" opacity="0.11"/>
<rect x="588.5" y="155.0" width="1.8" height="2.5" fill="#0000ff" opacity="0.08"/>
<rect x="588.5" y="157.5" width="1.8" height="2.5" fill="#0000ff" opacity="0.07"/>
<rect x="588.5" y="160.0" width="1.8" height="2.5" fill="#0000ff" opacity="0.12"/>
<rect x="588.5" y="162.5" width="1.8" height="2.5" fill="#0000ff" opacity="0.16"/>
<rect x="588.5" y="165.0" width="1.8" height="2.5" fill="#0000ff" opacity="0.19"/>
<rect x="588.5" y="167.5" width="1.8" height="2.5" fill="#0000ff" opacity="0.19"/>
<rect x="588.5" y="170.0" width="1.8" height="2.5" fill="#0000ff" opacity="0.16"/>
<rect x="588.5" y="172.5" width="1.8" height="2.5" fill="#0000ff" opacity="0.10"/>
<rect x="588.5" y="175.0" width="1.8" height="2.5" fill="#0000ff" opacity="0.11"/>
<rect x="588.5" y="177.5" width="1.8" height="2.5" fill="#0000ff" opacity="0.08"/>
<rect x="588.5" y="180.0" width="1.8" height="2.5" fill="#0000ff" opacity="0.08"/>
<rect x="588.5" y="182.5" width="1.8" height="2.5" fill="#0000ff" opacity="0.11"/>
<rect x="588.5" y="185.0" width="1.8" height="2.5" fill="#0000ff" opacity="0.14"/>
<rect x="588.5" y="187.5" width="1.8" height="2.5" fill="#0000ff" opacity="0.18"/>
<rect x="588.5" y="190.0" width="1.8" height="2.5" fill="#0000ff" opacity="0.17"/>
<rect x="588.5" y="192.5" width="1.8" height="2.5" fill="#0000ff" opacity="0.21"/>
<rect x="588.5" y="195.0" width="1.8" height="2.5" fill="#0000ff" opacity="0.14"/>
<rect x="588.5" y="197.5" width="1.8" height="2.5" fill="#0000ff" opacity="0.10"/>
<rect x="588.5" y="200.0" width="1.8" height="2.5" fill="#0000ff" opacity="0.10"/>
<rect x="588.5" y="202.5" width="1.8" height="2.5" fill="#0000ff" opacity="0.11"/>
<rect x="588.5" y="205.0" width="1.8" height="2.5" fill="#0000ff" opacity="0.10"/>
<rect x="588.5" y="207.5" width="1.8" height="2.5" fill="#0000ff" opacity="0.09"/>
<rect x="588.5" y="210.0" width="1.8" height="2.5" fill="#0000ff" opacity="0.17"/>
<rect x="588.5" y="212.5" width="1.8" height="2.5" fill="#0000ff" opacity="0.22"/>
<rect x="588.5" y="215.0" width="1.8" height="2.5" fill="#0000ff" opacity="0.25"/>
<rect x="588.5" y="217.5" width="1.8" height="2.5" fill="#0000ff" opacity="0.31"/>
<rect x="588.5" y="220.0" width="1.8" height="2.5" fill="#0000ff" opacity="0.21"/>
<rect x="588.5" y="222.5" width="1.8" height="2.5" fill="#0000ff" opacity="0.21"/>
<rect x="588.5" y="225.0" width="1.8" height="2.5" fill="#0000ff" opacity="0.15"/>
<rect x="588.5" y="227.5" width="1.8" height="2.5" fill="#0000ff" opacity="0.26"/>
<rect x="588.5" y="230.0" width="1.8" height="2.5" fill="#0000ff" opacity="0.26"/>
<rect x="588.5" y="232.5" width="1.8" height="2.5" fill="#0000ff" opacity="0.27"/>
<rect x="588.5" y="235.0" width="1.8" height="2.5" fill="#0000ff" opacity="0.13"/>
<rect x="588.5" y="237.5" width="1.8" height="2.5" fill="#0000ff" opacity="0.21"/>
<rect x="588.5" y="240.0" width="1.8" height="2.5" fill="#0000ff" opacity="0.17"/>
<rect x="588.5" y="242.5" width="1.8" height="2.5" fill="#0000ff" opacity="0.29"/>
<rect x="588.5" y="245.0" width="1.8" height="2.5" fill="#0000ff" opacity="0.38"/>
<rect x="588.5" y="247.5" width="1.8" height="2.5" fill="#0000ff" opacity="0.18"/>
<rect x="588.5" y="250.0" width="1.8" height="2.5" fill="#0000ff" opacity="0.18"/>
<rect x="588.5" y="252.5" width="1.8" height="2.5" fill="#0000ff" opacity="0.19"/>
<rect x="588.5" y="255.0" width="1.8" height="2.5" fill="#0000ff" opacity="0.24"/>
<rect x="588.5" y="257.5" width="1.8" height="2.5" fill="#0000ff" opacity="0.24"/>
<rect x="588.5" y="260.0" width="1.8" height="2.5" fill="#0000ff" opacity="0.40"/>
<rect x="588.5" y="262.5" width="1.8" height="2.5" fill="#0000ff" opacity="0.33"/>
<rect x="588.5" y="265.0" width="1.8" height="2.5" fill="#0000ff" opacity="0.22"/>
<rect x="588.5" y="267.5" width="1.8" height="2.5" fill="#0000ff" opacity="0.22"/>
<rect x="588.5" y="270.0" width="1.8" height="2.5" fill="#0000ff" opacity="0.31"/>
<rect x="588.5" y="272.5" width="1.8" height="2.5" fill="#0000ff" opacity="0.28"/>
<rect x="588.5" y="275.0" width="1.8" height="2.5" fill="#0000ff" opacity="0.34"/>
<rect x="588.5" y="277.5" width="1.8" height="2.5" fill="#0000ff" opacity="0.59"/>
<rect x="588.5" y="280.0" width="1.8" height="2.5" fill="#0000ff" opacity="0.38"/>
<rect x="588.5" y="282.5" width="1.8" height="2.5" fill="#0000ff" opacity="0.34"/>
<rect x="588.5" y="285.0" width="1.8" height="2.5" fill="#0000ff" opacity="0.34"/>
<rect x="588.5" y="287.5" width="1.8" height="2.5" fill="#0000ff" opacity="0.32"/>
<rect x="588.5" y="290.0" width="1.8" height="2.5" fill="#0000ff" opacity="0.28"/>
<rect x="588.5" y="292.5" width="1.8" height="2.5" fill="#0000ff" opacity="0.29"/>
<rect x="588.5" y="295.0" width="1.8" height="2.5" fill="#0000ff" opacity="0.33"/>
<rect x="588.5" y="297.5" width="1.8" height="2.5" fill="#0000ff" opacity="0.41"/>
<rect x="588.5" y="300.0" width="1.8" height="2.5" fill="#0000ff" opacity="0.32"/>
<rect x="588.5" y="302.5" width="1.8" height="2.5" fill="#0000ff" opacity="0.19"/>
<rect x="588.5" y="305.0" width="1.8" height="2.5" fill="#0000ff" opacity="0.33"/>
<rect x="588.5" y="307.5" width="1.8" height="2.5" fill="#0000ff" opacity="0.34"/>
<rect x="588.5" y="310.0" width="1.8" height="2.5" fill="#0000ff" opacity="0.44"/>
<rect x="588.5" y="312.5" width="1.8" height="2.5" fill="#0000ff" opacity="0.36"/>
<rect x="588.5" y="315.0" width="1.8" height="2.5" fill="#0000ff" opacity="0.45"/>
<rect x="588.5" y="317.5" width="1.8" height="2.5" fill="#0000ff" opacity="0.37"/>
<rect x="588.5" y="320.0" width="1.8" height="2.5" fill="#0000ff" opacity="0.23"/>
<rect x="588.5" y="322.5" width="1.8" height="2.5" fill="#0000ff" opacity="0.33"/>
<rect x="588.5" y="325.0" width="1.8" height="2.5" fill="#0000ff" opacity="0.24"/>
<rect x="588.5" y="327.5" width="1.8" height="2.5" fill="#0000ff" opacity="0.28"/>
<rect x="588.5" y="330.0" width="1.8" height="2.5" fill="#0000ff" opacity="0.12"/>
<rect x="588.5" y="332.5" width="1.8" height="2.5" fill="#0000ff" opacity="0.10"/>
<rect x="588.5" y="335.0" width="1.8" height="2.5" fill="#0000ff" opacity="0.14"/>
<rect x="588.5" y="337.5" width="1.8" height="2.5" fill="#0000ff" opacity="0.11"/>
<rect x="588.5" y="340.0" width="1.8" height="2.5" fill="#0000ff" opacity="0.15"/>
<rect x="588.5" y="342.5" width="1.8" height="2.5" fill="#0000ff" opacity="0.15"/>
<rect x="588.5" y="345.0" width="1.8" height="2.5" fill="#0000ff" opacity="0.13"/>
<rect x="588.5" y="347.5" width="1.8" height="2.5" fill="#0000ff" opacity="0.09"/>
<rect x="588.5" y="350.0" width="1.8" height="2.5" fill="#0000ff" opacity="0.13"/>
<rect x="588.5" y="352.5" width="1.8" height="2.5" fill="#0000ff" opacity="0.15"/>
<rect x="588.5" y="355.0" width="1.8" height="2.5" fill="#0000ff" opacity="0.12"/>
<rect x="588.5" y="357.5" width="1.8" height="2.5" fill="#0000ff" opacity="0.09"/>
<rect x="588.5" y="360.0" width="1.8" height="2.5" fill="#0000ff" opacity="0.10"/>
<rect x="588.5" y="362.5" width="1.8" height="2.5" fill="#0000ff" opacity="0.11"/>
<rect x="588.5" y="365.0" width="1.8" height="2.5" fill="#0000ff" opacity="0.14"/>
<rect x="588.5" y="367.5" width="1.8" height="2.5" fill="#0000ff" opacity="0.10"/>
<rect x="588.5" y="370.0" width="1.8" height="2.5" fill="#0000ff" opacity="0.12"/>
<rect x="588.5" y="372.5" width="1.8" height="2.5" fill="#0000ff" opacity="0.18"/>
<rect x="588.5" y="375.0" width="1.8" height="2.5" fill="#0000ff" opacity="0.32"/>
<rect x="588.5" y="377.5" width="1.8" height="2.5" fill="#0000ff" opacity="0.35"/>
<rect x="588.5" y="380.0" width="1.8" height="2.5" fill="#0000ff" opacity="0.22"/>
<rect x="588.5" y="382.5" width="1.8" height="2.5" fill="#0000ff" opacity="0.21"/>
<rect x="588.5" y="385.0" width="1.8" height="2.5" fill="#0000ff" opacity="0.27"/>
<rect x="588.5" y="387.5" width="1.8" height="2.5" fill="#0000ff" opacity="0.31"/>
<rect x="588.5" y="390.0" width="1.8" height="2.5" fill="#0000ff" opacity="0.30"/>
<rect x="588.5" y="392.5" width="1.8" height="2.5" fill="#0000ff" opacity="0.30"/>
<rect x="588.5" y="395.0" width="1.8" height="2.5" fill="#0000ff" opacity="0.34"/>
<rect x="588.5" y="397.5" width="1.8" height="2.5" fill="#0000ff" opacity="0.24"/>
<rect x="588.5" y="400.0" width="1.8" height="2.5" fill="#0000ff" opacity="0.19"/>
<rect x="588.5" y="402.5" width="1.8" height="2.5" fill="#0000ff" opacity="0.30"/>
<rect x="588.5" y="405.0" width="1.8" height="2.5" fill="#0000ff" opacity="0.27"/>
<rect x="588.5" y="407.5" width="1.8" height="2.5" fill="#0000ff" opacity="0.51"/>
<rect x="588.5" y="410.0" width="1.8" height="2.5" fill="#0000ff" opacity="0.34"/>
<rect x="588.5" y="412.5" width="1.8" height="2.5" fill="#0000ff" opacity="0.30"/>
<rect x="588.5" y="415.0" width="1.8" height="2.5" fill="#0000ff" opacity="0.29"/>
<rect x="588.5" y="417.5" width="1.8" height="2.5" fill="#0000ff" opacity="0.25"/>
<rect x="588.5" y="420.0" width="1.8" height="2.5" fill="#0000ff" opacity="0.45"/>
<rect x="588.5" y="422.5" width="1.8" height="2.5" fill="#0000ff" opacity="0.42"/>
<rect x="588.5" y="425.0" width="1.8" height="2.5" fill="#0000ff" opacity="0.40"/>
<rect x="588.5" y="427.5" width="1.8" height="2.5" fill="#0000ff" opacity="0.46"/>
<rect x="588.5" y="430.0" width="1.8" height="2.5" fill="#0000ff" opacity="0.23"/>
<rect x="588.5" y="432.5" width="1.8" height="2.5" fill="#0000ff" opacity="0.22"/>
<rect x="588.5" y="435.0" width="1.8" height="2.5" fill="#0000ff" opacity="0.31"/>
<rect x="588.5" y="437.5" width="1.8" height="2.5" fill="#0000ff" opacity="0.28"/>
<rect x="588.5" y="440.0" width="1.8" height="2.5" fill="#0000ff" opacity="0.30"/>
<rect x="588.5" y="442.5" width="1.8" height="2.5" fill="#0000ff" opacity="0.31"/>
<rect x="588.5" y="445.0" width="1.8" height="2.5" fill="#0000ff" opacity="0.18"/>
<rect x="588.5" y="447.5" width="1.8" height="2.5" fill="#0000ff" opacity="0.22"/>
<rect x="588.5" y="450.0" width="1.8" height="2.5" fill="#0000ff" opacity="0.25"/>
<rect x="588.5" y="452.5" width="1.8" height="2.5" fill="#0000ff" opacity="0.18"/>
<rect x="588.5" y="455.0" width="1.8" height="2.5" fill="#0000ff" opacity="0.29"/>
<rect x="588.5" y="457.5" width="1.8" height="2.5" fill="#0000ff" opacity="0.34"/>
<rect x="588.5" y="460.0" width="1.8" height="2.5" fill="#0000ff" opacity="0.22"/>
<rect x="588.5" y="462.5" width="1.8" height="2.5" fill="#0000ff" opacity="0.25"/>
<rect x="588.5" y="465.0" width="1.8" height="2.5" fill="#0000ff" opacity="0.22"/>
<rect x="588.5" y="467.5" width="1.8" height="2.5" fill="#0000ff" opacity="0.21"/>
<rect x="588.5" y="470.0" width="1.8" height="2.5" fill="#0000ff" opacity="0.26"/>
<rect x="588.5" y="472.5" width="1.8" height="2.5" fill="#0000ff" opacity="0.22"/>
<rect x="588.5" y="475.0" width="1.8" height="2.5" fill="#0000ff" opacity="0.14"/>
<rect x="588.5" y="477.5" width="1.8" height="2.5" fill="#0000ff" opacity="0.18"/>
<rect x="588.5" y="480.0" width="1.8" height="2.5" fill="#0000ff" opacity="0.25"/>
<rect x="588.5" y="482.5" width="1.8" height="2.5" fill="#0000ff" opacity="0.26"/>
<rect x="588.5" y="485.0" width="1.8" height="2.5" fill="#0000ff" opacity="0.25"/>
<rect x="588.5" y="487.5" width="1.8" height="2.5" fill="#0000ff" opacity="0.23"/>
<rect x="588.5" y="490.0" width="1.8" height="2.5" fill="#0000ff" opacity="0.16"/>
<rect x="588.5" y="492.5" width="1.8" height="2.5" fill="#0000ff" opacity="0.12"/>
<rect x="588.5" y="495.0" width="1.8" height="2.5" fill="#0000ff" opacity="0.15"/>
<rect x="588.5" y="497.5" width="1.8" height="2.5" fill="#0000ff" opacity="0.10"/>
<rect x="588.5" y="500.0" width="1.8" height="2.5" fill="#0000ff" opacity="0.14"/>
<rect x="588.5" y="502.5" width="1.8" height="2.5" fill="#0000ff" opacity="0.10"/>
<rect x="588.5" y="505.0" width="1.8" height="2.5" fill="#0000ff" opacity="0.14"/>
<rect x="588.5" y="507.5" width="1.8" height="2.5" fill="#0000ff" opacity="0.14"/>
<rect x="588.5" y="510.0" width="1.8" height="2.5" fill="#0000ff" opacity="0.20"/>
<rect x="588.5" y="512.5" width="1.8" height="2.5" fill="#0000ff" opacity="0.25"/>
<rect x="588.5" y="515.0" width="1.8" height="2.5" fill="#0000ff" opacity="0.22"/>
<rect x="588.5" y="517.5" width="1.8" height="2.5" fill="#0000ff" opacity="0.17"/>
<rect x="588.5" y="520.0" width="1.8" height="2.5" fill="#0000ff" opacity="0.10"/>
<rect x="588.5" y="522.5" width="1.8" height="2.5" fill="#0000ff" opacity="0.11"/>
<rect x="588.5" y="525.0" width="1.8" height="2.5" fill="#0000ff" opacity="0.09"/>
<rect x="588.5" y="527.5" width="1.8" height="2.5" fill="#0000ff" opacity="0.11"/>
<rect x="588.5" y="530.0" width="1.8" height="2.5" fill="#0000ff" opacity="0.12"/>
<rect x="588.5" y="532.5" width="1.8" height="2.5" fill="#0000ff" opacity="0.11"/>
<rect x="588.5" y="535.0" width="1.8" height="2.5" fill="#0000ff" opacity="0.18"/>
<rect x="588.5" y="537.5" width="1.8" height="2.5" fill="#0000ff" opacity="0.18"/>
<rect x="588.5" y="540.0" width="1.8" height="2.5" fill="#0000ff" opacity="0.14"/>
<rect x="588.5" y="542.5" width="1.8" height="2.5" fill="#0000ff" opacity="0.13"/>
<rect x="588.5" y="545.0" width="1.8" height="2.5" fill="#0000ff" opacity="0.08"/>
<rect x="588.5" y="547.5" width="1.8" height="2.5" fill="#0000ff" opacity="0.07"/>
<rect x="588.5" y="550.0" width="1.8" height="2.5" fill="#0000ff" opacity="0.06"/>
<rect x="588.5" y="552.5" width="1.8" height="2.5" fill="#0000ff" opacity="0.09"/>
<rect x="588.5" y="555.0" width="1.8" height="2.5" fill="#0000ff" opacity="0.09"/>
<rect x="588.5" y="557.5" width="1.8" height="2.5" fill="#0000ff" opacity="0.10"/>
<rect x="588.5" y="560.0" width="1.8" height="2.5" fill="#0000ff" opacity="0.10"/>
<rect x="588.5" y="562.5" width="1.8" height="2.5" fill="#0000ff" opacity="0.16"/>
<rect x="588.5" y="565.0" width="1.8" height="2.5" fill="#0000ff" opacity="0.09"/>
<rect x="588.5" y="567.5" width="1.8" height="2.5" fill="#0000ff" opacity="0.12"/>
<rect x="588.5" y="570.0" width="1.8" height="2.5" fill="#0000ff" opacity="0.09"/>
<rect x="588.5" y="572.5" width="1.8" height="2.5" fill="#0000ff" opacity="0.08"/>
<rect x="588.5" y="575.0" width="1.8" height="2.5" fill="#0000ff" opacity="0.09"/>
<rect x="588.5" y="577.5" width="1.8" height="2.5" fill="#0000ff" opacity="0.06"/>
<rect x="588.5" y="580.0" width="1.8" height="2.5" fill="#0000ff" opacity="0.06"/>
<rect x="588.5" y="582.5" width="1.8" height="2.5" fill="#0000ff" opacity="0.07"/>
<rect x="588.5" y="585.0" width="1.8" height="2.5" fill="#0000ff" opacity="0.06"/>
<rect x="588.5" y="587.5" width="1.8" height="2.5" fill="#0000ff" opacity="0.08"/>
<rect x="588.5" y="590.0" width="1.8" height="2.5" fill="#0000ff" opacity="0.10"/>
<rect x="588.5" y="592.5" width="1.8" height="2.5" fill="#0000ff" opacity="0.08"/>
<rect x="588.5" y="595.0" width="1.8" height="2.5" fill="#0000ff" opacity="0.06"/>
<rect x="588.5" y="597.5" width="1.8" height="2.5" fill="#0000ff" opacity="0.07"/>
<rect x="225.7" y="60" width="2.2" height="240" fill="#ffa500" opacity="0.18"/>
<rect x="225.7" y="480" width="2.2" height="170" fill="#ffa500" opacity="0.15"/>
<rect x="256.0" y="60" width="1.8" height="190" fill="#ffa500" opacity="0.15"/>
<rect x="256.0" y="520" width="1.8" height="130" fill="#ffa500" opacity="0.12"/>
<rect x="735.1" y="60" width="2.2" height="140" fill="#ffa500" opacity="0.3"/>
<rect x="735.1" y="560" width="2.2" height="90" fill="#ffa500" opacity="0.22"/>
<rect x="734.9" y="185" width="2.6" height="330" fill="url(#gVL)"/>
<path d="M120.2,339.5 L122.2,339.7 L124.2,339.7 L126.2,341.5 L128.2,339.5 L130.2,340.2 L132.2,341.8 L134.2,340.6 L136.2,341.9 L138.2,340.5 L140.2,339.4 L142.2,341.6 L144.2,340.3 L146.2,340.4 L148.2,339.4 L150.2,341.3 L152.2,339.9 L154.2,340.7 L156.2,340.5 L158.2,340.2 L160.2,341.9 L162.2,339.4 L164.2,341.0 L166.2,340.2 L168.2,341.5 L170.2,341.6 L172.2,340.3 L174.2,340.3 L176.2,339.9 L178.2,339.8 L180.2,339.7 L182.2,339.9 L184.2,340.1 L186.2,341.9 L188.2,341.5 L190.2,340.3 L192.2,341.1 L194.2,340.0 L196.2,339.8 L198.2,340.3 L200.2,341.2 L202.2,340.2 L204.2,341.7 L206.2,341.3 L208.2,341.7 L210.2,340.1 L212.2,339.5 L214.2,340.1 L216.2,340.7 L218.2,340.3 L220.2,339.4 L222.2,340.8 L224.2,340.1 L226.2,340.7 L228.2,341.1 L230.2,341.2 L232.2,339.7 L234.2,340.0 L236.2,340.4 L238.2,341.6 L240.2,340.1 L242.2,339.9 L244.2,339.4 L246.2,340.8 L248.2,341.8 L250.2,341.0 L252.2,339.9 L254.2,341.0 L256.2,341.6 L258.2,340.9 L260.2,340.4 L262.2,339.5 L264.2,340.2 L266.2,340.0 L268.2,340.3 L270.2,339.7 L272.2,339.9 L274.2,340.2 L276.2,339.7 L278.2,341.1 L280.2,341.1 L282.2,340.3 L284.2,339.5 L286.2,339.4 L288.2,340.8 L290.2,340.1 L292.2,339.4 L294.2,341.6 L296.2,340.0 L298.2,339.8 L300.2,340.9 L302.2,340.2 L304.2,341.8 L306.2,340.9 L308.2,340.4 L310.2,340.0 L312.2,341.6 L314.2,341.7 L316.2,339.7 L318.2,340.1 L320.2,341.8 L322.2,339.8 L324.2,341.1 L326.2,339.3 L328.2,340.3 L330.2,340.6 L332.2,340.7 L334.2,340.8 L336.2,341.8 L338.2,340.2 L340.2,340.1 L342.2,341.1 L344.2,341.8 L346.2,339.7 L348.2,340.6 L350.2,340.3 L352.2,341.2 L354.2,339.9 L356.2,340.1 L358.2,340.6 L360.2,339.5 L362.2,339.6 L364.2,339.6 L366.2,341.3 L368.2,339.7 L370.2,341.6 L372.2,340.0 L374.2,341.4 L376.2,341.2 L378.2,341.2 L380.2,340.2 L382.2,341.5 L384.2,340.8 L386.2,341.1 L388.2,341.5 L390.2,339.6 L392.2,341.0 L394.2,339.8 L396.2,340.8 L398.2,341.8 L400.2,341.1 L402.2,340.9 L404.2,341.7 L406.2,339.4 L408.2,339.6 L410.2,340.0 L412.2,341.9 L414.2,340.2 L416.2,340.7 L418.2,340.3 L420.2,341.4 L422.2,340.0 L424.2,340.9 L426.2,341.9 L428.2,341.1 L430.2,341.4 L432.2,339.8 L434.2,341.7 L436.2,340.6 L438.2,340.1 L440.2,340.8 L442.2,340.9 L444.2,339.9 L446.2,340.3 L448.2,339.4 L450.2,341.6 L452.2,339.5 L454.2,340.6 L456.2,339.8 L458.2,340.6 L460.2,341.4 L462.2,339.4 L464.2,341.0 L466.2,340.0 L468.2,341.5 L470.2,340.5 L472.2,341.2 L474.2,339.4 L476.2,339.6 L478.2,340.2 L480.2,340.1 L482.2,339.3 L484.2,341.8 L486.2,340.7 L488.2,341.4 L490.2,340.3 L492.2,341.5 L494.2,341.9 L496.2,341.8 L498.2,341.1 L500.2,341.7 L502.2,340.8 L504.2,340.3 L506.2,341.0 L508.2,340.2 L510.2,340.2 L512.2,341.7 L514.2,339.5 L516.2,341.2 L518.2,341.2 L520.2,341.1 L522.2,339.6 L524.2,340.2 L526.2,339.3 L528.2,340.3 L530.2,340.7 L532.2,339.8 L534.2,340.1 L536.2,339.6 L538.2,340.4 L540.2,339.9 L542.2,341.1 L544.2,340.0 L546.2,341.8 L548.2,339.8 L550.2,341.9 L552.2,341.0 L554.2,341.0 L556.2,340.9 L558.2,341.5 L560.2,340.6 L562.2,339.6 L564.2,341.1 L566.2,341.0 L568.2,340.3 L570.2,340.9 L572.2,340.6 L574.2,340.9 L576.2,340.8 L578.2,341.7 L580.2,340.5 L582.2,341.2 L584.2,341.2 L586.2,340.3 L588.2,339.6 L590.2,340.6 L592.2,341.5 L594.2,341.7 L596.2,341.4 L598.2,341.9 L600.2,341.6 L602.2,340.0 L604.2,340.5 L606.2,341.6 L608.2,340.0 L610.2,339.5 L612.2,341.3 L614.2,339.9 L616.2,341.5 L618.2,340.7 L620.2,341.4 L622.2,340.3 L624.2,339.4 L626.2,341.5 L628.2,339.6 L630.2,340.3 L632.2,340.9 L634.2,339.5 L636.2,339.8 L638.2,341.6 L640.2,339.8 L642.2,340.4 L644.2,340.2 L646.2,340.9 L648.2,340.9 L650.2,339.8 L652.2,341.1 L654.2,339.6 L656.2,341.7 L658.2,340.2 L660.2,341.9 L662.2,341.2 L664.2,340.1 L666.2,339.7 L668.2,340.4 L670.2,340.4 L672.2,340.6 L674.2,340.2 L676.2,339.9 L678.2,340.0 L680.2,340.0 L682.2,341.1 L684.2,341.7 L686.2,341.2 L688.2,340.5 L690.2,340.4 L692.2,340.4 L694.2,340.1 L696.2,341.0 L698.2,340.4 L700.2,341.6 L702.2,340.4 L704.2,341.4 L706.2,340.8 L708.2,339.6 L710.2,339.5 L712.2,340.3 L714.2,341.0 L716.2,341.6 L718.2,339.4 L720.2,340.5 L722.2,340.5 L724.2,341.0 L726.2,341.8 L728.2,341.9 L730.2,341.5 L732.2,341.1 L734.2,339.5 L736.2,340.3 L738.2,339.9 L740.2,339.8 L742.2,339.7 L744.2,341.2 L746.2,339.7 L748.2,340.9 L750.2,340.0 L752.2,341.2 L754.2,339.6 L756.2,339.3 L758.2,341.8 L760.2,339.4 L762.2,340.7 L764.2,339.6 L766.2,340.1 L768.2,339.6 L770.2,339.6 L772.2,340.6 L774.2,341.3 L776.2,340.4 L778.2,339.9 L780.2,340.8 L782.2,341.5 L782.2,347.0 L780.2,347.9 L778.2,347.9 L776.2,346.8 L774.2,347.3 L772.2,347.5 L770.2,346.9 L768.2,348.2 L766.2,348.0 L764.2,348.8 L762.2,348.1 L760.2,347.6 L758.2,349.0 L756.2,348.9 L754.2,347.9 L752.2,348.7 L750.2,348.8 L748.2,348.6 L746.2,348.4 L744.2,346.9 L742.2,347.7 L740.2,347.7 L738.2,349.3 L736.2,348.4 L734.2,347.9 L732.2,349.3 L730.2,348.4 L728.2,347.7 L726.2,349.2 L724.2,348.3 L722.2,347.5 L720.2,347.6 L718.2,348.3 L716.2,349.2 L714.2,347.6 L712.2,348.6 L710.2,347.6 L708.2,349.0 L706.2,348.1 L704.2,348.9 L702.2,347.6 L700.2,347.4 L698.2,347.0 L696.2,347.3 L694.2,348.5 L692.2,349.2 L690.2,347.4 L688.2,346.9 L686.2,348.3 L684.2,347.7 L682.2,347.9 L680.2,348.9 L678.2,349.0 L676.2,348.2 L674.2,348.5 L672.2,349.1 L670.2,347.9 L668.2,348.8 L666.2,348.3 L664.2,347.8 L662.2,347.6 L660.2,348.5 L658.2,347.2 L656.2,348.3 L654.2,347.0 L652.2,347.9 L650.2,347.0 L648.2,348.5 L646.2,347.4 L644.2,347.5 L642.2,346.7 L640.2,348.4 L638.2,348.6 L636.2,348.3 L634.2,349.3 L632.2,349.0 L630.2,348.9 L628.2,347.2 L626.2,348.9 L624.2,347.6 L622.2,347.0 L620.2,347.1 L618.2,349.1 L616.2,348.7 L614.2,348.8 L612.2,348.0 L610.2,348.1 L608.2,348.4 L606.2,347.2 L604.2,348.1 L602.2,348.8 L600.2,348.6 L598.2,346.9 L596.2,348.0 L594.2,348.9 L592.2,348.4 L590.2,347.3 L588.2,349.3 L586.2,349.0 L584.2,349.3 L582.2,347.5 L580.2,349.3 L578.2,347.1 L576.2,348.2 L574.2,347.9 L572.2,346.8 L570.2,348.2 L568.2,347.3 L566.2,347.8 L564.2,347.9 L562.2,348.9 L560.2,348.2 L558.2,348.3 L556.2,349.0 L554.2,347.3 L552.2,347.7 L550.2,347.1 L548.2,347.6 L546.2,347.5 L544.2,348.5 L542.2,347.2 L540.2,347.8 L538.2,349.2 L536.2,349.3 L534.2,348.7 L532.2,349.0 L530.2,349.2 L528.2,347.5 L526.2,348.0 L524.2,347.8 L522.2,347.1 L520.2,347.2 L518.2,348.1 L516.2,347.2 L514.2,347.6 L512.2,347.5 L510.2,347.4 L508.2,348.4 L506.2,348.8 L504.2,347.7 L502.2,347.3 L500.2,346.8 L498.2,347.4 L496.2,347.7 L494.2,347.0 L492.2,348.7 L490.2,348.8 L488.2,348.6 L486.2,348.8 L484.2,346.7 L482.2,347.2 L480.2,348.0 L478.2,348.7 L476.2,346.9 L474.2,347.1 L472.2,347.2 L470.2,348.9 L468.2,349.3 L466.2,349.1 L464.2,348.3 L462.2,348.1 L460.2,347.7 L458.2,347.8 L456.2,349.0 L454.2,349.3 L452.2,347.2 L450.2,347.5 L448.2,346.9 L446.2,347.4 L444.2,348.0 L442.2,347.4 L440.2,347.1 L438.2,346.8 L436.2,347.0 L434.2,347.4 L432.2,347.0 L430.2,347.1 L428.2,348.1 L426.2,347.7 L424.2,348.7 L422.2,347.7 L420.2,348.9 L418.2,347.5 L416.2,348.0 L414.2,346.8 L412.2,347.0 L410.2,348.6 L408.2,346.8 L406.2,348.6 L404.2,349.3 L402.2,347.7 L400.2,347.8 L398.2,347.0 L396.2,349.1 L394.2,346.7 L392.2,347.3 L390.2,347.7 L388.2,348.8 L386.2,348.3 L384.2,347.8 L382.2,348.9 L380.2,348.7 L378.2,347.5 L376.2,347.4 L374.2,347.7 L372.2,348.0 L370.2,346.8 L368.2,349.0 L366.2,347.9 L364.2,347.9 L362.2,348.5 L360.2,346.9 L358.2,347.0 L356.2,347.2 L354.2,347.3 L352.2,348.1 L350.2,347.4 L348.2,348.2 L346.2,348.3 L344.2,348.8 L342.2,348.5 L340.2,348.6 L338.2,349.0 L336.2,347.6 L334.2,348.9 L332.2,348.3 L330.2,348.4 L328.2,347.3 L326.2,348.1 L324.2,347.3 L322.2,347.3 L320.2,347.1 L318.2,347.6 L316.2,348.0 L314.2,346.8 L312.2,347.7 L310.2,348.9 L308.2,347.8 L306.2,348.3 L304.2,348.7 L302.2,348.2 L300.2,349.2 L298.2,347.9 L296.2,348.4 L294.2,348.2 L292.2,347.6 L290.2,347.4 L288.2,347.9 L286.2,348.0 L284.2,347.8 L282.2,347.6 L280.2,346.8 L278.2,348.1 L276.2,348.2 L274.2,347.8 L272.2,346.9 L270.2,348.4 L268.2,347.9 L266.2,347.1 L264.2,348.0 L262.2,347.7 L260.2,347.7 L258.2,346.9 L256.2,347.3 L254.2,349.2 L252.2,348.5 L250.2,349.1 L248.2,347.5 L246.2,348.8 L244.2,348.3 L242.2,346.8 L240.2,347.6 L238.2,347.3 L236.2,347.7 L234.2,348.6 L232.2,347.2 L230.2,348.4 L228.2,347.4 L226.2,347.1 L224.2,347.8 L222.2,346.8 L220.2,347.1 L218.2,347.3 L216.2,346.8 L214.2,348.7 L212.2,349.0 L210.2,347.7 L208.2,346.8 L206.2,348.6 L204.2,347.6 L202.2,347.1 L200.2,347.4 L198.2,349.1 L196.2,347.4 L194.2,346.7 L192.2,347.6 L190.2,346.9 L188.2,347.2 L186.2,348.5 L184.2,347.9 L182.2,347.9 L180.2,347.2 L178.2,348.1 L176.2,347.6 L174.2,348.7 L172.2,348.9 L170.2,347.9 L168.2,348.2 L166.2,348.5 L164.2,346.9 L162.2,347.7 L160.2,348.3 L158.2,347.6 L156.2,349.1 L154.2,347.3 L152.2,347.4 L150.2,348.6 L148.2,349.3 L146.2,346.9 L144.2,347.5 L142.2,347.1 L140.2,347.3 L138.2,348.6 L136.2,347.1 L134.2,348.7 L132.2,346.8 L130.2,347.3 L128.2,347.8 L126.2,348.7 L124.2,348.5 L122.2,347.4 L120.2,348.8Z" fill="#0000ff" opacity="0.4"/>
<path d="M120.2,355.9 L122.2,356.2 L124.2,354.8 L126.2,355.9 L128.2,354.8 L130.2,354.1 L132.2,355.6 L134.2,354.1 L136.2,353.8 L138.2,354.5 L140.2,355.4 L142.2,353.8 L144.2,353.9 L146.2,354.0 L148.2,354.6 L150.2,355.4 L152.2,356.2 L154.2,355.0 L156.2,354.7 L158.2,355.6 L160.2,354.7 L162.2,354.9 L164.2,354.8 L166.2,353.8 L168.2,353.9 L170.2,355.1 L172.2,354.3 L174.2,354.7 L176.2,355.0 L178.2,355.6 L180.2,353.7 L182.2,356.2 L184.2,355.2 L186.2,354.7 L188.2,354.7 L190.2,355.3 L192.2,354.5 L194.2,355.0 L196.2,353.8 L198.2,354.4 L200.2,355.8 L202.2,355.9 L204.2,354.4 L206.2,353.9 L208.2,355.9 L210.2,354.5 L212.2,355.7 L214.2,353.8 L216.2,353.8 L218.2,355.1 L220.2,355.4 L222.2,356.1 L224.2,355.2 L226.2,355.6 L228.2,355.5 L230.2,356.1 L232.2,355.7 L234.2,355.7 L236.2,354.9 L238.2,354.0 L240.2,355.6 L242.2,354.0 L244.2,355.4 L246.2,354.0 L248.2,354.5 L250.2,355.2 L252.2,354.2 L254.2,355.1 L256.2,354.0 L258.2,354.9 L260.2,354.8 L262.2,355.5 L264.2,355.0 L266.2,354.7 L268.2,354.0 L270.2,354.1 L272.2,354.2 L274.2,354.1 L276.2,355.2 L278.2,354.7 L280.2,355.9 L282.2,355.2 L284.2,356.2 L286.2,355.5 L288.2,354.4 L290.2,355.2 L292.2,353.9 L294.2,354.7 L296.2,354.8 L298.2,355.2 L300.2,356.1 L302.2,355.0 L304.2,355.7 L306.2,354.5 L308.2,353.8 L310.2,355.2 L312.2,354.6 L314.2,356.2 L316.2,355.8 L318.2,355.7 L320.2,354.2 L322.2,355.3 L324.2,355.7 L326.2,356.0 L328.2,355.5 L330.2,356.2 L332.2,354.5 L334.2,355.6 L336.2,354.3 L338.2,355.1 L340.2,354.5 L342.2,354.0 L344.2,354.4 L346.2,354.4 L348.2,356.0 L350.2,355.9 L352.2,355.3 L354.2,355.6 L356.2,355.4 L358.2,355.7 L360.2,353.8 L362.2,354.6 L364.2,354.3 L366.2,354.7 L368.2,356.2 L370.2,355.2 L372.2,354.3 L374.2,354.0 L376.2,355.4 L378.2,356.0 L380.2,355.2 L382.2,356.3 L384.2,356.0 L386.2,355.4 L388.2,353.8 L390.2,356.3 L392.2,355.9 L394.2,355.1 L396.2,355.1 L398.2,355.1 L400.2,355.0 L402.2,355.5 L404.2,355.0 L406.2,355.0 L408.2,356.2 L410.2,354.1 L412.2,354.6 L414.2,356.1 L416.2,356.2 L418.2,355.9 L420.2,353.8 L422.2,355.2 L424.2,355.3 L426.2,356.1 L428.2,355.1 L430.2,353.8 L432.2,356.0 L434.2,353.8 L436.2,355.9 L438.2,355.1 L440.2,355.7 L442.2,353.7 L444.2,355.8 L446.2,355.9 L448.2,354.6 L450.2,353.7 L452.2,354.4 L454.2,355.1 L456.2,355.5 L458.2,354.3 L460.2,354.2 L462.2,354.4 L464.2,355.7 L466.2,354.3 L468.2,354.4 L470.2,354.4 L472.2,354.2 L474.2,354.5 L476.2,355.6 L478.2,355.8 L480.2,353.9 L482.2,354.3 L484.2,354.8 L486.2,354.7 L488.2,356.1 L490.2,354.7 L492.2,355.8 L494.2,354.6 L496.2,354.7 L498.2,355.2 L500.2,354.9 L502.2,353.7 L504.2,354.7 L506.2,356.1 L508.2,354.2 L510.2,356.2 L512.2,354.6 L514.2,354.1 L516.2,356.2 L518.2,354.1 L520.2,356.0 L522.2,356.2 L524.2,354.7 L526.2,354.4 L528.2,353.9 L530.2,354.6 L532.2,354.5 L534.2,354.0 L536.2,355.1 L538.2,355.7 L540.2,356.2 L542.2,354.3 L544.2,354.5 L546.2,356.1 L548.2,354.1 L550.2,355.2 L552.2,355.8 L554.2,354.9 L556.2,355.9 L558.2,354.2 L560.2,356.2 L562.2,355.7 L564.2,353.8 L566.2,354.1 L568.2,354.3 L570.2,354.3 L572.2,355.0 L574.2,354.9 L576.2,353.7 L578.2,353.8 L580.2,355.3 L582.2,354.9 L584.2,354.5 L586.2,356.0 L588.2,354.8 L590.2,354.9 L592.2,356.1 L594.2,356.1 L596.2,356.0 L598.2,355.0 L600.2,354.5 L602.2,355.6 L604.2,355.2 L606.2,356.2 L608.2,354.0 L610.2,354.6 L612.2,355.0 L614.2,355.0 L616.2,353.7 L618.2,354.4 L620.2,355.3 L622.2,353.9 L624.2,355.0 L626.2,356.2 L628.2,354.9 L630.2,355.8 L632.2,355.9 L634.2,354.4 L636.2,355.0 L638.2,355.1 L640.2,355.0 L642.2,354.5 L644.2,355.0 L646.2,354.2 L648.2,355.9 L650.2,356.2 L652.2,355.5 L654.2,355.6 L656.2,355.8 L658.2,355.8 L660.2,354.3 L662.2,353.8 L664.2,354.6 L666.2,355.3 L668.2,356.1 L670.2,353.9 L672.2,354.0 L674.2,356.0 L676.2,354.2 L678.2,355.7 L680.2,355.3 L682.2,355.6 L684.2,356.0 L686.2,355.7 L688.2,355.2 L690.2,355.4 L692.2,354.7 L694.2,353.8 L696.2,355.8 L698.2,355.4 L700.2,355.5 L702.2,354.5 L704.2,354.2 L706.2,355.5 L708.2,354.6 L710.2,356.1 L712.2,356.2 L714.2,356.2 L716.2,354.6 L718.2,355.1 L720.2,353.8 L722.2,355.1 L724.2,355.6 L726.2,354.2 L728.2,354.3 L730.2,353.9 L732.2,354.6 L734.2,356.2 L736.2,354.8 L738.2,354.3 L740.2,356.2 L742.2,354.8 L744.2,355.7 L746.2,355.4 L748.2,356.0 L750.2,355.1 L752.2,355.1 L754.2,355.7 L756.2,354.1 L758.2,354.4 L760.2,355.6 L762.2,355.7 L764.2,355.5 L766.2,354.8 L768.2,354.9 L770.2,356.0 L772.2,353.9 L774.2,355.5 L776.2,354.0 L778.2,355.2 L780.2,354.7 L782.2,355.5 L782.2,362.7 L780.2,362.8 L778.2,363.0 L776.2,362.2 L774.2,362.2 L772.2,361.8 L770.2,361.2 L768.2,363.6 L766.2,361.4 L764.2,362.3 L762.2,362.8 L760.2,361.9 L758.2,363.0 L756.2,362.5 L754.2,361.2 L752.2,361.6 L750.2,363.7 L748.2,361.8 L746.2,363.5 L744.2,362.5 L742.2,362.9 L740.2,361.4 L738.2,362.3 L736.2,362.2 L734.2,362.8 L732.2,362.5 L730.2,361.2 L728.2,362.0 L726.2,362.6 L724.2,361.7 L722.2,362.3 L720.2,363.3 L718.2,362.4 L716.2,361.8 L714.2,363.1 L712.2,362.7 L710.2,361.9 L708.2,363.5 L706.2,363.5 L704.2,362.8 L702.2,361.8 L700.2,362.4 L698.2,363.1 L696.2,361.7 L694.2,361.5 L692.2,362.0 L690.2,362.4 L688.2,363.6 L686.2,363.4 L684.2,363.1 L682.2,361.3 L680.2,361.4 L678.2,363.7 L676.2,362.9 L674.2,361.9 L672.2,363.7 L670.2,362.8 L668.2,362.8 L666.2,363.5 L664.2,363.2 L662.2,362.4 L660.2,363.5 L658.2,361.9 L656.2,361.6 L654.2,363.2 L652.2,363.2 L650.2,363.5 L648.2,363.2 L646.2,361.7 L644.2,362.0 L642.2,363.3 L640.2,362.4 L638.2,363.6 L636.2,362.2 L634.2,363.4 L632.2,363.2 L630.2,361.7 L628.2,361.3 L626.2,361.8 L624.2,362.8 L622.2,362.4 L620.2,362.3 L618.2,362.6 L616.2,362.4 L614.2,362.1 L612.2,363.5 L610.2,362.6 L608.2,362.9 L606.2,361.8 L604.2,361.5 L602.2,361.7 L600.2,361.5 L598.2,363.7 L596.2,361.5 L594.2,363.3 L592.2,361.7 L590.2,362.0 L588.2,362.5 L586.2,362.6 L584.2,362.0 L582.2,362.7 L580.2,362.1 L578.2,361.8 L576.2,361.9 L574.2,361.6 L572.2,362.8 L570.2,363.2 L568.2,361.2 L566.2,363.0 L564.2,361.5 L562.2,362.1 L560.2,361.2 L558.2,363.6 L556.2,362.3 L554.2,362.7 L552.2,363.6 L550.2,361.9 L548.2,362.0 L546.2,362.4 L544.2,363.1 L542.2,361.3 L540.2,361.3 L538.2,362.5 L536.2,362.6 L534.2,362.5 L532.2,361.6 L530.2,361.2 L528.2,361.6 L526.2,363.5 L524.2,361.4 L522.2,362.3 L520.2,363.0 L518.2,362.9 L516.2,361.6 L514.2,363.0 L512.2,363.5 L510.2,363.5 L508.2,363.4 L506.2,361.5 L504.2,361.3 L502.2,362.4 L500.2,363.2 L498.2,363.0 L496.2,361.8 L494.2,363.2 L492.2,363.1 L490.2,361.5 L488.2,363.7 L486.2,362.0 L484.2,363.7 L482.2,361.7 L480.2,363.1 L478.2,362.5 L476.2,362.9 L474.2,362.0 L472.2,361.7 L470.2,363.4 L468.2,362.5 L466.2,362.8 L464.2,362.0 L462.2,362.3 L460.2,361.5 L458.2,363.4 L456.2,362.3 L454.2,362.0 L452.2,362.6 L450.2,363.1 L448.2,362.0 L446.2,362.2 L444.2,363.6 L442.2,361.3 L440.2,363.2 L438.2,362.6 L436.2,362.9 L434.2,361.2 L432.2,363.6 L430.2,361.4 L428.2,363.6 L426.2,361.3 L424.2,362.7 L422.2,362.9 L420.2,362.4 L418.2,363.5 L416.2,363.5 L414.2,363.6 L412.2,362.9 L410.2,361.9 L408.2,362.6 L406.2,362.5 L404.2,361.3 L402.2,362.2 L400.2,361.6 L398.2,362.0 L396.2,361.6 L394.2,361.3 L392.2,363.1 L390.2,362.9 L388.2,362.6 L386.2,361.3 L384.2,361.3 L382.2,361.9 L380.2,361.4 L378.2,361.4 L376.2,361.3 L374.2,363.5 L372.2,363.6 L370.2,362.0 L368.2,362.4 L366.2,363.0 L364.2,362.3 L362.2,363.1 L360.2,363.5 L358.2,361.8 L356.2,363.5 L354.2,362.5 L352.2,362.5 L350.2,363.3 L348.2,361.5 L346.2,362.4 L344.2,361.8 L342.2,362.4 L340.2,361.8 L338.2,361.8 L336.2,361.2 L334.2,361.8 L332.2,363.3 L330.2,363.0 L328.2,362.0 L326.2,363.5 L324.2,362.6 L322.2,361.4 L320.2,362.5 L318.2,361.7 L316.2,361.4 L314.2,363.1 L312.2,361.5 L310.2,362.5 L308.2,362.9 L306.2,363.3 L304.2,361.4 L302.2,361.7 L300.2,362.3 L298.2,363.6 L296.2,362.7 L294.2,363.0 L292.2,363.2 L290.2,361.8 L288.2,363.0 L286.2,361.7 L284.2,362.0 L282.2,362.3 L280.2,362.0 L278.2,362.6 L276.2,362.5 L274.2,362.0 L272.2,362.0 L270.2,362.6 L268.2,363.0 L266.2,363.1 L264.2,362.9 L262.2,363.5 L260.2,362.1 L258.2,361.2 L256.2,363.4 L254.2,363.3 L252.2,362.2 L250.2,363.5 L248.2,363.6 L246.2,361.4 L244.2,362.5 L242.2,363.3 L240.2,361.3 L238.2,361.9 L236.2,362.2 L234.2,362.1 L232.2,362.2 L230.2,361.3 L228.2,363.7 L226.2,362.2 L224.2,361.1 L222.2,363.1 L220.2,361.2 L218.2,363.5 L216.2,362.7 L214.2,363.1 L212.2,362.8 L210.2,363.2 L208.2,362.0 L206.2,363.7 L204.2,362.9 L202.2,362.1 L200.2,362.2 L198.2,361.8 L196.2,361.3 L194.2,363.1 L192.2,362.4 L190.2,362.6 L188.2,361.9 L186.2,362.7 L184.2,363.6 L182.2,361.1 L180.2,362.2 L178.2,362.4 L176.2,361.7 L174.2,361.9 L172.2,361.4 L170.2,362.1 L168.2,362.5 L166.2,363.3 L164.2,362.3 L162.2,362.0 L160.2,362.2 L158.2,361.8 L156.2,361.9 L154.2,363.5 L152.2,362.6 L150.2,363.4 L148.2,362.4 L146.2,363.5 L144.2,361.8 L142.2,362.2 L140.2,363.3 L138.2,363.6 L136.2,361.4 L134.2,362.5 L132.2,363.0 L130.2,363.2 L128.2,361.1 L126.2,363.6 L124.2,362.7 L122.2,362.5 L120.2,361.5Z" fill="#0000ff" opacity="0.4"/>
<path d="M120.2,341.7 L122.7,341.9 L125.2,342.5 L127.7,341.7 L130.2,342.5 L132.7,343.5 L135.2,342.6 L137.7,342.2 L140.2,341.8 L142.7,342.0 L145.2,342.6 L147.7,342.4 L150.2,342.1 L152.7,343.0 L155.2,342.3 L157.7,342.5 L160.2,342.8 L162.7,342.2 L165.2,342.5 L167.7,343.4 L170.2,342.4 L172.7,343.6 L175.2,342.4 L177.7,343.1 L180.2,343.0 L182.7,342.9 L185.2,342.5 L187.7,342.1 L190.2,342.7 L192.7,342.3 L195.2,341.6 L197.7,343.1 L200.2,342.8 L202.7,342.4 L205.2,342.0 L207.7,341.7 L210.2,343.2 L212.7,342.4 L215.2,343.0 L217.7,343.1 L220.2,342.1 L222.7,342.7 L225.2,343.6 L227.7,343.2 L230.2,343.1 L232.7,342.1 L235.2,342.7 L237.7,341.9 L240.2,343.4 L242.7,342.2 L245.2,342.4 L247.7,342.8 L250.2,342.7 L252.7,342.7 L255.2,342.3 L257.7,341.8 L260.2,343.0 L262.7,343.3 L265.2,342.1 L267.7,342.7 L270.2,342.3 L272.7,341.9 L275.2,343.3 L277.7,342.1 L280.2,341.8 L282.7,343.2 L285.2,342.1 L287.7,343.0 L290.2,343.2 L292.7,342.0 L295.2,343.0 L297.7,343.4 L300.2,342.5 L302.7,342.5 L305.2,342.7 L307.7,343.6 L310.2,342.0 L312.7,341.9 L315.2,342.3 L317.7,342.5 L320.2,343.4 L322.7,341.9 L325.2,343.0 L327.7,343.4 L330.2,342.1 L332.7,342.1 L335.2,341.7 L337.7,341.7 L340.2,342.7 L342.7,341.8 L345.2,342.3 L347.7,342.8 L350.2,341.7 L352.7,341.6 L355.2,342.0 L357.7,342.9 L360.2,342.2 L362.7,342.2 L365.2,342.3 L367.7,342.1 L370.2,342.1 L372.7,342.2 L375.2,342.1 L377.7,343.3 L380.2,342.6 L382.7,343.4 L385.2,342.8 L387.7,343.0 L390.2,342.4 L392.7,342.6 L395.2,342.7 L397.7,343.2 L400.2,342.0 L402.7,342.2 L405.2,343.2 L407.7,342.2 L410.2,343.3 L412.7,343.0 L415.2,343.1 L417.7,342.4 L420.2,343.4 L422.7,343.4 L425.2,341.7 L427.7,343.5 L430.2,342.6 L432.7,343.3 L435.2,343.6 L437.7,343.6 L440.2,341.9 L442.7,342.9 L445.2,342.7 L447.7,342.5 L450.2,342.8 L452.7,341.9 L455.2,343.4 L457.7,342.0 L460.2,342.7 L462.7,342.8 L465.2,341.6 L467.7,342.9 L470.2,341.7 L472.7,342.3 L475.2,342.7 L477.7,342.9 L480.2,343.2 L482.7,343.1 L485.2,341.7 L487.7,341.9 L490.2,341.7 L492.7,342.5 L495.2,342.2 L497.7,343.3 L500.2,342.9 L502.7,343.5 L505.2,342.7 L507.7,343.2 L510.2,343.0 L512.7,342.6 L515.2,342.1 L517.7,343.4 L520.2,341.7 L522.7,342.1 L525.2,343.3 L527.7,343.6 L530.2,342.9 L532.7,343.0 L535.2,341.7 L537.7,342.4 L540.2,341.7 L542.7,343.6 L545.2,342.3 L547.7,342.8 L550.2,342.0 L552.7,342.6 L555.2,342.7 L557.7,342.0 L560.2,341.8 L562.7,341.7 L565.2,342.5 L567.7,342.8 L570.2,343.1 L572.7,341.7 L575.2,341.9 L577.7,341.7 L580.2,343.4 L582.7,341.8 L585.2,343.3 L587.7,343.4 L590.2,341.8 L592.7,342.0 L595.2,342.0 L597.7,341.9 L600.2,342.7 L602.7,341.9 L605.2,342.6 L607.7,342.5 L610.2,342.8 L612.7,342.3 L615.2,343.4 L617.7,342.4 L620.2,343.5 L622.7,342.4 L625.2,342.3 L627.7,343.4 L630.2,342.2 L632.7,343.1 L635.2,343.0 L637.7,342.0 L640.2,343.3 L642.7,341.8 L645.2,343.1 L647.7,342.3 L650.2,343.5 L652.7,342.8 L655.2,343.6 L657.7,342.9 L660.2,341.9 L662.7,342.7 L665.2,343.2 L667.7,342.9 L670.2,342.2 L672.7,342.0 L675.2,343.3 L677.7,342.1 L680.2,343.0 L682.7,343.3 L685.2,342.7 L687.7,341.6 L690.2,341.6 L692.7,342.2 L695.2,342.9 L697.7,343.0 L700.2,342.6 L702.7,343.3 L705.2,342.4 L707.7,342.4 L710.2,343.1 L712.7,343.0 L715.2,343.2 L717.7,342.0 L720.2,341.9 L722.7,342.4 L725.2,343.1 L727.7,342.9 L730.2,341.7 L732.7,341.7 L735.2,343.2 L737.7,342.7 L740.2,342.3 L742.7,342.9 L745.2,342.1 L747.7,341.9 L750.2,342.7 L752.7,342.8 L755.2,342.3 L757.7,342.9 L760.2,343.4 L762.7,342.8 L765.2,343.0 L767.7,342.2 L770.2,342.9 L772.7,341.6 L775.2,342.1 L777.7,342.6 L780.2,341.7 L782.7,342.8 L782.7,348.3 L780.2,347.2 L777.7,347.9 L775.2,348.1 L772.7,347.9 L770.2,347.8 L767.7,348.4 L765.2,348.8 L762.7,348.6 L760.2,348.0 L757.7,348.4 L755.2,347.1 L752.7,348.5 L750.2,347.2 L747.7,347.0 L745.2,347.0 L742.7,347.0 L740.2,347.1 L737.7,348.6 L735.2,348.3 L732.7,347.8 L730.2,347.1 L727.7,348.8 L725.2,348.0 L722.7,347.3 L720.2,347.0 L717.7,348.1 L715.2,348.8 L712.7,347.2 L710.2,347.8 L707.7,347.5 L705.2,347.5 L702.7,348.8 L700.2,348.3 L697.7,347.4 L695.2,347.0 L692.7,348.9 L690.2,347.6 L687.7,346.9 L685.2,347.6 L682.7,347.3 L680.2,347.3 L677.7,347.6 L675.2,348.9 L672.7,347.8 L670.2,348.1 L667.7,347.5 L665.2,347.0 L662.7,347.2 L660.2,347.7 L657.7,348.8 L655.2,348.6 L652.7,348.7 L650.2,348.7 L647.7,348.1 L645.2,348.6 L642.7,348.9 L640.2,348.4 L637.7,347.7 L635.2,348.7 L632.7,348.5 L630.2,347.5 L627.7,347.0 L625.2,348.3 L622.7,348.3 L620.2,347.2 L617.7,348.0 L615.2,348.1 L612.7,346.9 L610.2,347.3 L607.7,347.0 L605.2,347.7 L602.7,348.0 L600.2,347.7 L597.7,347.2 L595.2,348.2 L592.7,347.1 L590.2,347.5 L587.7,347.0 L585.2,348.1 L582.7,347.0 L580.2,347.7 L577.7,347.0 L575.2,347.2 L572.7,348.6 L570.2,348.3 L567.7,348.4 L565.2,348.6 L562.7,347.3 L560.2,348.6 L557.7,348.3 L555.2,347.4 L552.7,348.4 L550.2,347.9 L547.7,348.7 L545.2,347.2 L542.7,347.6 L540.2,347.0 L537.7,348.0 L535.2,347.9 L532.7,347.9 L530.2,347.7 L527.7,348.2 L525.2,348.3 L522.7,347.5 L520.2,347.3 L517.7,348.2 L515.2,347.5 L512.7,348.8 L510.2,347.3 L507.7,347.4 L505.2,347.7 L502.7,347.0 L500.2,348.1 L497.7,347.3 L495.2,347.4 L492.7,348.8 L490.2,347.2 L487.7,347.3 L485.2,348.5 L482.7,347.0 L480.2,348.3 L477.7,347.4 L475.2,347.1 L472.7,348.8 L470.2,348.4 L467.7,347.3 L465.2,347.3 L462.7,348.2 L460.2,347.6 L457.7,347.8 L455.2,348.2 L452.7,347.8 L450.2,348.1 L447.7,348.4 L445.2,348.8 L442.7,347.1 L440.2,347.7 L437.7,346.9 L435.2,347.1 L432.7,347.9 L430.2,347.5 L427.7,348.0 L425.2,347.4 L422.7,348.6 L420.2,348.9 L417.7,348.0 L415.2,347.8 L412.7,348.3 L410.2,348.6 L407.7,347.3 L405.2,348.1 L402.7,347.0 L400.2,346.9 L397.7,348.7 L395.2,348.0 L392.7,347.8 L390.2,347.7 L387.7,347.9 L385.2,348.2 L382.7,348.4 L380.2,347.5 L377.7,347.8 L375.2,347.1 L372.7,348.1 L370.2,346.9 L367.7,347.5 L365.2,347.6 L362.7,348.0 L360.2,347.8 L357.7,348.3 L355.2,347.4 L352.7,348.3 L350.2,347.1 L347.7,348.6 L345.2,348.9 L342.7,347.0 L340.2,348.1 L337.7,348.6 L335.2,348.3 L332.7,348.3 L330.2,347.6 L327.7,348.6 L325.2,347.3 L322.7,347.6 L320.2,348.3 L317.7,348.6 L315.2,347.8 L312.7,348.8 L310.2,348.1 L307.7,347.3 L305.2,348.1 L302.7,348.5 L300.2,347.5 L297.7,347.3 L295.2,347.6 L292.7,348.3 L290.2,348.6 L287.7,347.0 L285.2,347.9 L282.7,348.4 L280.2,347.1 L277.7,347.3 L275.2,348.8 L272.7,347.5 L270.2,348.2 L267.7,346.9 L265.2,347.6 L262.7,347.7 L260.2,348.3 L257.7,347.5 L255.2,348.4 L252.7,348.8 L250.2,348.9 L247.7,347.8 L245.2,347.2 L242.7,348.5 L240.2,348.2 L237.7,348.2 L235.2,347.9 L232.7,348.0 L230.2,348.8 L227.7,347.5 L225.2,347.2 L222.7,348.0 L220.2,348.3 L217.7,348.1 L215.2,348.4 L212.7,348.1 L210.2,348.6 L207.7,348.1 L205.2,348.7 L202.7,348.9 L200.2,347.3 L197.7,347.4 L195.2,347.7 L192.7,348.3 L190.2,348.9 L187.7,348.4 L185.2,348.2 L182.7,348.2 L180.2,348.8 L177.7,347.5 L175.2,348.2 L172.7,348.5 L170.2,348.7 L167.7,347.8 L165.2,347.8 L162.7,348.4 L160.2,347.7 L157.7,347.5 L155.2,347.8 L152.7,347.8 L150.2,348.5 L147.7,348.7 L145.2,347.7 L142.7,348.6 L140.2,347.5 L137.7,348.9 L135.2,348.1 L132.7,348.6 L130.2,347.1 L127.7,347.7 L125.2,346.9 L122.7,347.0 L120.2,348.3Z" fill="#0000ff" opacity="0.95"/>
<path d="M120.2,356.1 L122.7,354.7 L125.2,355.1 L127.7,354.9 L130.2,355.1 L132.7,355.1 L135.2,356.1 L137.7,354.9 L140.2,355.5 L142.7,354.4 L145.2,355.3 L147.7,355.0 L150.2,354.8 L152.7,354.5 L155.2,355.9 L157.7,354.4 L160.2,355.9 L162.7,354.2 L165.2,354.5 L167.7,355.3 L170.2,356.0 L172.7,354.4 L175.2,354.3 L177.7,355.4 L180.2,355.9 L182.7,354.5 L185.2,355.3 L187.7,354.7 L190.2,354.5 L192.7,354.2 L195.2,356.0 L197.7,354.7 L200.2,355.9 L202.7,354.2 L205.2,354.4 L207.7,356.0 L210.2,354.6 L212.7,354.7 L215.2,355.6 L217.7,354.8 L220.2,355.5 L222.7,355.0 L225.2,354.3 L227.7,355.8 L230.2,355.4 L232.7,354.8 L235.2,356.0 L237.7,354.4 L240.2,355.3 L242.7,355.6 L245.2,355.9 L247.7,354.9 L250.2,354.8 L252.7,354.8 L255.2,354.8 L257.7,355.8 L260.2,355.5 L262.7,354.9 L265.2,354.6 L267.7,354.3 L270.2,355.9 L272.7,354.9 L275.2,354.4 L277.7,355.9 L280.2,354.6 L282.7,354.6 L285.2,354.8 L287.7,354.5 L290.2,354.9 L292.7,355.6 L295.2,355.4 L297.7,354.8 L300.2,354.3 L302.7,355.7 L305.2,354.1 L307.7,355.3 L310.2,354.2 L312.7,354.8 L315.2,354.8 L317.7,355.8 L320.2,354.4 L322.7,354.3 L325.2,354.3 L327.7,354.9 L330.2,356.1 L332.7,355.9 L335.2,355.6 L337.7,355.0 L340.2,355.4 L342.7,355.2 L345.2,355.1 L347.7,355.5 L350.2,355.7 L352.7,354.3 L355.2,354.2 L357.7,356.0 L360.2,355.0 L362.7,355.2 L365.2,355.7 L367.7,355.8 L370.2,354.1 L372.7,354.3 L375.2,354.2 L377.7,355.6 L380.2,355.4 L382.7,355.1 L385.2,355.0 L387.7,355.5 L390.2,354.4 L392.7,355.2 L395.2,354.1 L397.7,355.8 L400.2,354.4 L402.7,356.1 L405.2,355.6 L407.7,356.0 L410.2,354.3 L412.7,354.6 L415.2,355.9 L417.7,354.4 L420.2,354.6 L422.7,355.5 L425.2,355.0 L427.7,355.0 L430.2,355.0 L432.7,355.5 L435.2,355.2 L437.7,354.2 L440.2,354.8 L442.7,354.3 L445.2,356.0 L447.7,354.2 L450.2,354.8 L452.7,354.4 L455.2,355.8 L457.7,354.5 L460.2,354.1 L462.7,354.6 L465.2,355.7 L467.7,354.5 L470.2,355.6 L472.7,354.7 L475.2,354.8 L477.7,355.7 L480.2,355.7 L482.7,355.3 L485.2,356.0 L487.7,356.1 L490.2,355.7 L492.7,354.7 L495.2,355.8 L497.7,354.5 L500.2,355.8 L502.7,354.2 L505.2,354.7 L507.7,356.0 L510.2,355.7 L512.7,354.6 L515.2,354.8 L517.7,354.2 L520.2,354.9 L522.7,354.9 L525.2,354.7 L527.7,355.4 L530.2,355.1 L532.7,354.6 L535.2,354.7 L537.7,354.3 L540.2,355.1 L542.7,355.9 L545.2,355.0 L547.7,354.1 L550.2,355.7 L552.7,355.1 L555.2,355.6 L557.7,355.7 L560.2,355.9 L562.7,355.4 L565.2,355.2 L567.7,355.2 L570.2,355.8 L572.7,355.6 L575.2,355.3 L577.7,354.2 L580.2,354.9 L582.7,354.4 L585.2,354.4 L587.7,355.1 L590.2,354.7 L592.7,354.1 L595.2,355.6 L597.7,355.7 L600.2,354.3 L602.7,355.6 L605.2,356.0 L607.7,354.2 L610.2,354.8 L612.7,355.9 L615.2,354.3 L617.7,354.6 L620.2,354.3 L622.7,354.9 L625.2,355.0 L627.7,356.0 L630.2,355.9 L632.7,354.6 L635.2,355.0 L637.7,355.3 L640.2,356.1 L642.7,354.1 L645.2,354.5 L647.7,355.8 L650.2,354.6 L652.7,355.7 L655.2,354.6 L657.7,356.0 L660.2,355.5 L662.7,355.6 L665.2,355.1 L667.7,355.2 L670.2,354.7 L672.7,354.4 L675.2,354.5 L677.7,356.0 L680.2,356.0 L682.7,355.8 L685.2,355.2 L687.7,355.6 L690.2,355.8 L692.7,354.2 L695.2,355.1 L697.7,356.1 L700.2,355.5 L702.7,355.5 L705.2,355.4 L707.7,355.9 L710.2,355.7 L712.7,354.5 L715.2,355.5 L717.7,354.3 L720.2,354.9 L722.7,354.6 L725.2,354.9 L727.7,355.9 L730.2,354.1 L732.7,355.3 L735.2,355.3 L737.7,354.8 L740.2,355.4 L742.7,355.5 L745.2,355.4 L747.7,355.7 L750.2,355.7 L752.7,355.0 L755.2,355.3 L757.7,355.8 L760.2,354.8 L762.7,355.8 L765.2,356.1 L767.7,355.8 L770.2,356.1 L772.7,355.9 L775.2,354.1 L777.7,354.8 L780.2,354.9 L782.7,355.5 L782.7,359.6 L780.2,359.9 L777.7,361.4 L775.2,360.1 L772.7,360.2 L770.2,360.3 L767.7,360.9 L765.2,360.6 L762.7,360.6 L760.2,359.4 L757.7,360.6 L755.2,360.7 L752.7,359.4 L750.2,361.4 L747.7,361.3 L745.2,360.6 L742.7,361.2 L740.2,359.5 L737.7,359.5 L735.2,360.1 L732.7,360.9 L730.2,361.1 L727.7,360.8 L725.2,360.8 L722.7,359.8 L720.2,359.9 L717.7,359.4 L715.2,360.5 L712.7,360.3 L710.2,360.3 L707.7,360.8 L705.2,359.5 L702.7,360.1 L700.2,360.7 L697.7,360.3 L695.2,361.2 L692.7,360.9 L690.2,359.5 L687.7,361.1 L685.2,359.5 L682.7,361.0 L680.2,361.1 L677.7,361.3 L675.2,359.9 L672.7,361.3 L670.2,360.7 L667.7,360.7 L665.2,359.9 L662.7,360.9 L660.2,360.3 L657.7,361.3 L655.2,359.6 L652.7,361.2 L650.2,359.9 L647.7,359.5 L645.2,360.9 L642.7,359.6 L640.2,360.0 L637.7,360.1 L635.2,360.7 L632.7,359.9 L630.2,361.1 L627.7,361.3 L625.2,360.6 L622.7,360.3 L620.2,360.1 L617.7,360.7 L615.2,360.3 L612.7,361.3 L610.2,359.6 L607.7,360.4 L605.2,360.5 L602.7,359.5 L600.2,360.8 L597.7,360.0 L595.2,361.2 L592.7,359.8 L590.2,361.2 L587.7,360.9 L585.2,360.9 L582.7,360.5 L580.2,361.3 L577.7,360.4 L575.2,361.2 L572.7,360.6 L570.2,359.5 L567.7,361.0 L565.2,360.6 L562.7,360.3 L560.2,360.9 L557.7,361.1 L555.2,360.4 L552.7,360.1 L550.2,360.5 L547.7,359.6 L545.2,360.5 L542.7,360.1 L540.2,359.4 L537.7,359.5 L535.2,360.0 L532.7,359.5 L530.2,360.2 L527.7,360.1 L525.2,359.4 L522.7,360.5 L520.2,360.5 L517.7,359.5 L515.2,359.9 L512.7,360.9 L510.2,359.5 L507.7,360.6 L505.2,360.2 L502.7,360.0 L500.2,360.4 L497.7,361.2 L495.2,360.8 L492.7,360.3 L490.2,359.6 L487.7,359.8 L485.2,359.7 L482.7,361.3 L480.2,361.2 L477.7,359.9 L475.2,360.3 L472.7,360.3 L470.2,360.9 L467.7,360.0 L465.2,359.6 L462.7,360.8 L460.2,360.9 L457.7,359.6 L455.2,360.2 L452.7,360.6 L450.2,360.0 L447.7,360.0 L445.2,361.1 L442.7,360.3 L440.2,359.5 L437.7,360.2 L435.2,359.7 L432.7,360.1 L430.2,360.8 L427.7,360.1 L425.2,360.3 L422.7,361.0 L420.2,360.7 L417.7,360.1 L415.2,360.3 L412.7,361.2 L410.2,359.7 L407.7,359.8 L405.2,361.0 L402.7,359.8 L400.2,361.1 L397.7,360.2 L395.2,361.4 L392.7,360.6 L390.2,359.8 L387.7,359.6 L385.2,359.9 L382.7,359.8 L380.2,360.2 L377.7,360.6 L375.2,359.9 L372.7,361.2 L370.2,360.5 L367.7,361.0 L365.2,360.1 L362.7,360.0 L360.2,360.3 L357.7,360.0 L355.2,359.7 L352.7,359.7 L350.2,361.1 L347.7,360.5 L345.2,360.8 L342.7,360.2 L340.2,359.7 L337.7,361.0 L335.2,360.7 L332.7,361.3 L330.2,360.6 L327.7,359.7 L325.2,359.6 L322.7,360.5 L320.2,361.0 L317.7,360.5 L315.2,361.2 L312.7,361.3 L310.2,360.2 L307.7,360.0 L305.2,360.3 L302.7,360.6 L300.2,359.6 L297.7,359.8 L295.2,361.0 L292.7,359.5 L290.2,360.0 L287.7,360.0 L285.2,360.3 L282.7,361.2 L280.2,360.9 L277.7,359.6 L275.2,360.7 L272.7,359.6 L270.2,360.0 L267.7,361.0 L265.2,360.0 L262.7,360.7 L260.2,361.1 L257.7,361.0 L255.2,360.1 L252.7,360.7 L250.2,360.2 L247.7,360.7 L245.2,361.3 L242.7,360.6 L240.2,360.6 L237.7,360.8 L235.2,360.6 L232.7,359.8 L230.2,360.1 L227.7,360.4 L225.2,359.7 L222.7,359.6 L220.2,360.9 L217.7,360.2 L215.2,360.9 L212.7,359.7 L210.2,360.5 L207.7,361.1 L205.2,360.5 L202.7,360.4 L200.2,361.0 L197.7,360.8 L195.2,360.6 L192.7,361.2 L190.2,360.7 L187.7,361.2 L185.2,360.3 L182.7,359.5 L180.2,361.0 L177.7,360.3 L175.2,359.5 L172.7,361.0 L170.2,360.1 L167.7,359.5 L165.2,360.3 L162.7,360.8 L160.2,360.9 L157.7,359.7 L155.2,360.4 L152.7,359.4 L150.2,361.2 L147.7,360.0 L145.2,360.9 L142.7,360.2 L140.2,359.7 L137.7,359.6 L135.2,359.5 L132.7,360.1 L130.2,360.2 L127.7,361.2 L125.2,361.0 L122.7,360.3 L120.2,361.0Z" fill="#0000ff" opacity="0.95"/>
<rect x="120.2" y="347.8" width="662.90" height="7.4" fill="#ffa500"/>
<rect x="225.8" y="338" width="2" height="28" fill="#ffa500" opacity="0.9"/>
<rect x="256.5" y="338" width="2" height="28" fill="#ffa500" opacity="0.9"/>
<rect x="305.0" y="338" width="2" height="28" fill="#ffa500" opacity="0.9"/>
<rect x="355.0" y="338" width="2" height="28" fill="#ffa500" opacity="0.9"/>
<rect x="549.0" y="338" width="2" height="28" fill="#ffa500" opacity="0.9"/>
<rect x="734.8" y="326" width="2.8" height="52" fill="#ffa500" opacity="0.8"/>
<rect x="302.0" y="52.3" width="1.6" height="599.9" fill="#ffffff"/>
<rect x="120.2" y="652.2" width="662.90" height="2.6" fill="#fff"/>
<rect x="809.6" y="52.3" width="17.3" height="602.5" fill="url(#gCbA)" stroke="#000" stroke-width="2.6"/>
<line x1="826.9" y1="52.30" x2="840.4" y2="52.30" stroke="#000" stroke-width="2.9"/>
<text transform="translate(887.50,50.50) rotate(-90)" font-size="34" text-anchor="middle">0.04</text>
<line x1="826.9" y1="202.93" x2="840.4" y2="202.93" stroke="#000" stroke-width="2.9"/>
<text transform="translate(887.50,201.12) rotate(-90)" font-size="34" text-anchor="middle">0.02</text>
<line x1="826.9" y1="353.55" x2="840.4" y2="353.55" stroke="#000" stroke-width="2.9"/>
<text transform="translate(887.50,351.75) rotate(-90)" font-size="34" text-anchor="middle">0.00</text>
<line x1="826.9" y1="504.18" x2="840.4" y2="504.18" stroke="#000" stroke-width="2.9"/>
<text transform="translate(887.50,502.38) rotate(-90)" font-size="34" text-anchor="middle" textLength="92.0" lengthAdjust="spacingAndGlyphs">-0.02</text>
<line x1="826.9" y1="654.80" x2="840.4" y2="654.80" stroke="#000" stroke-width="2.9"/>
<text transform="translate(887.50,653.00) rotate(-90)" font-size="34" text-anchor="middle" textLength="92.0" lengthAdjust="spacingAndGlyphs">-0.04</text>
<text transform="translate(937.60,349.30) rotate(-90)" font-size="33" text-anchor="middle" textLength="362" lengthAdjust="spacingAndGlyphs">Correlation coefficient</text>
<rect x="120.2" y="52.3" width="662.90" height="602.50" fill="none" stroke="#000" stroke-width="3.1"/>
<line x1="249.30" y1="654.8" x2="249.30" y2="666.3" stroke="#000" stroke-width="2.9"/>
<text x="249.80" y="704.80" font-size="34" text-anchor="middle" textLength="112.5" lengthAdjust="spacingAndGlyphs">04 Jun</text>
<line x1="394.70" y1="654.8" x2="394.70" y2="666.3" stroke="#000" stroke-width="2.9"/>
<text x="395.20" y="704.80" font-size="34" text-anchor="middle" textLength="112.5" lengthAdjust="spacingAndGlyphs">07 Jun</text>
<line x1="540.10" y1="654.8" x2="540.10" y2="666.3" stroke="#000" stroke-width="2.9"/>
<text x="540.60" y="704.80" font-size="34" text-anchor="middle" textLength="112.5" lengthAdjust="spacingAndGlyphs">10 Jun</text>
<line x1="685.50" y1="654.8" x2="685.50" y2="666.3" stroke="#000" stroke-width="2.9"/>
<text x="686.00" y="704.80" font-size="34" text-anchor="middle" textLength="112.5" lengthAdjust="spacingAndGlyphs">13 Jun</text>
<line x1="120.2" y1="115.25" x2="108.2" y2="115.25" stroke="#000" stroke-width="2.9"/>
<text transform="translate(90.80,115.25) rotate(-90)" font-size="34" text-anchor="middle">4</text>
<line x1="120.2" y1="234.35" x2="108.2" y2="234.35" stroke="#000" stroke-width="2.9"/>
<text transform="translate(90.80,234.35) rotate(-90)" font-size="34" text-anchor="middle">2</text>
<line x1="120.2" y1="353.45" x2="108.2" y2="353.45" stroke="#000" stroke-width="2.9"/>
<text transform="translate(90.80,353.45) rotate(-90)" font-size="34" text-anchor="middle">0</text>
<line x1="120.2" y1="472.55" x2="108.2" y2="472.55" stroke="#000" stroke-width="2.9"/>
<text transform="translate(90.80,472.55) rotate(-90)" font-size="34" text-anchor="middle">-2</text>
<line x1="120.2" y1="591.65" x2="108.2" y2="591.65" stroke="#000" stroke-width="2.9"/>
<text transform="translate(90.80,591.65) rotate(-90)" font-size="34" text-anchor="middle">-4</text>
<text transform="translate(31.60,343.20) rotate(-90)" font-size="42" text-anchor="middle" textLength="253" lengthAdjust="spacingAndGlyphs">Time lag (s)</text>
<circle cx="27.5" cy="59.0" r="27.2" fill="#000"/><text x="26.90" y="71.60" font-size="48" text-anchor="middle" font-weight="bold" fill="#fff">a</text>
<g clip-path="url(#clipB)"><path d="M121.0,1187.4 L122.0,946.9 L123.0,1407.6 L124.0,975.0 L125.0,1089.7 L126.1,1407.6 L127.1,776.4 L128.1,877.3 L129.1,1122.1 L130.1,965.2 L131.1,714.6 L132.1,1014.9 L133.1,972.3 L134.1,1275.4 L135.1,714.6 L136.2,870.7 L137.2,1407.6 L138.2,1407.6 L139.2,714.6 L140.2,1304.2 L141.2,799.8 L142.2,833.9 L143.2,824.8 L144.2,967.3 L145.2,1407.6 L146.3,1338.2 L147.3,1139.1 L148.3,1010.5 L149.3,1127.7 L150.3,1101.5 L151.3,1390.0 L152.3,954.8 L153.3,1150.1 L154.3,1113.5 L155.3,1121.7 L156.4,1208.7 L157.4,1179.6 L158.4,1407.6 L159.4,1062.8 L160.4,1407.6 L161.4,974.3 L162.4,920.1 L163.4,1099.6 L164.4,1178.2 L165.4,1152.3 L166.5,1407.6 L167.5,1407.6 L168.5,1234.6 L169.5,979.9 L170.5,1058.2 L171.5,1407.6 L172.5,1168.0 L173.5,714.6 L174.5,886.4 L175.5,918.0 L176.6,1407.6 L177.6,1058.5 L178.6,1407.6 L179.6,1299.0 L180.6,1138.2 L181.6,965.0 L182.6,1391.4 L183.6,1019.3 L184.6,847.0 L185.6,1279.4 L186.7,1122.8 L187.7,1407.6 L188.7,1095.6 L189.7,714.6 L190.7,1355.5 L191.7,714.6 L192.7,1407.6 L193.7,1407.6 L194.7,987.2 L195.7,781.4 L196.8,722.5 L197.8,1369.3 L198.8,1045.7 L199.8,917.1 L200.8,1003.3 L201.8,1407.6 L202.8,1177.6 L203.8,1293.9 L204.8,1312.2 L205.8,1388.5 L206.9,1407.6 L207.9,930.7 L208.9,1074.7 L209.9,931.2 L210.9,946.5 L211.9,1407.6 L212.9,1006.4 L213.9,1120.5 L214.9,959.1 L215.9,984.2 L217.0,1345.2 L218.0,1019.7 L219.0,1005.2 L220.0,1252.7 L221.0,1248.4 L222.0,1325.0 L223.0,1171.5 L224.0,714.6 L225.0,1299.2 L226.0,1276.8 L227.1,1407.6 L228.1,962.5 L229.1,1407.6 L230.1,880.1 L231.1,1368.2 L232.1,1209.8 L233.1,1089.0 L234.1,1405.1 L235.1,1136.9 L236.1,714.6 L237.2,921.3 L238.2,1305.1 L239.2,1407.6 L240.2,845.2 L241.2,1183.8 L242.2,1407.6 L243.2,1323.1 L244.2,1096.8 L245.2,858.4 L246.2,778.1 L247.3,1020.0 L248.3,1114.3 L249.3,714.6 L250.3,835.3 L251.3,1282.5 L252.3,1130.0 L253.3,1053.5 L254.3,1127.9 L255.3,1039.5 L256.3,1407.6 L257.4,1407.6 L258.4,1407.6 L259.4,1353.8 L260.4,1357.4 L261.4,1407.6 L262.4,1407.6 L263.4,1407.6 L264.4,1407.6 L265.4,1081.1 L266.4,891.6 L267.5,1394.1 L268.5,1198.7 L269.5,1202.4 L270.5,1034.7 L271.5,959.6 L272.5,1407.6 L273.5,1313.9 L274.5,1014.2 L275.5,1286.7 L276.5,1265.8 L277.6,1306.3 L278.6,1407.6 L279.6,1199.7 L280.6,963.5 L281.6,1198.9 L282.6,1076.7 L283.6,1301.2 L284.6,1247.9 L285.6,1279.8 L286.6,1121.6 L287.7,1289.2 L288.7,1119.9 L289.7,1295.8 L290.7,1145.7 L291.7,995.4 L292.7,1279.1 L293.7,1062.9 L294.7,1407.6 L295.7,1262.9 L296.7,1263.2 L297.8,1191.1 L298.8,1155.6 L299.8,732.2 L300.8,1371.8 L301.8,999.9 L302.8,1318.9 L303.8,1035.4 L304.8,1127.6 L305.8,1116.1 L306.8,973.1 L307.9,1134.3 L308.9,1256.4 L309.9,1097.3 L310.9,943.8 L311.9,1069.9 L312.9,1220.2 L313.9,1384.5 L314.9,1328.9 L315.9,1232.2 L316.9,1001.1 L318.0,1352.1 L319.0,1193.9 L320.0,1140.7 L321.0,1345.6 L322.0,1285.9 L323.0,1264.1 L324.0,959.8 L325.0,1059.2 L326.0,857.0 L327.0,1210.3 L328.1,1183.4 L329.1,1354.8 L330.1,1225.2 L331.1,1113.5 L332.1,1407.6 L333.1,964.8 L334.1,894.7 L335.1,1024.7 L336.1,1233.1 L337.1,1066.3 L338.2,1045.6 L339.2,912.5 L340.2,1392.1 L341.2,991.5 L342.2,898.2 L343.2,1073.7 L344.2,943.3 L345.2,1050.6 L346.2,1345.6 L347.2,1007.7 L348.3,1081.7 L349.3,1020.2 L350.3,1052.6 L351.3,1247.3 L352.3,1196.3 L353.3,1033.7 L354.3,924.8 L355.3,1073.4 L356.3,1254.9 L357.3,734.6 L358.4,1064.7 L359.4,734.6 L360.4,1270.5 L361.4,734.6 L362.4,960.0 L363.4,734.6 L364.4,1069.8 L365.4,734.6 L366.4,960.0 L367.4,734.6 L368.5,960.0 L369.5,734.6 L370.5,1032.3 L371.5,954.6 L372.5,1175.4 L373.5,1062.1 L374.5,1274.8 L375.5,1219.3 L376.5,1254.9 L377.5,1311.1 L378.6,1206.1 L379.6,1032.8 L380.6,1325.8 L381.6,872.3 L382.6,1048.5 L383.6,1234.9 L384.6,1019.0 L385.6,1227.0 L386.6,934.4 L387.6,993.2 L388.7,1216.8 L389.7,1266.4 L390.7,1379.6 L391.7,1142.5 L392.7,1224.2 L393.7,1295.4 L394.7,1263.3 L395.7,909.6 L396.7,1055.1 L397.7,1407.6 L398.8,919.7 L399.8,1291.4 L400.8,1081.2 L401.8,1364.0 L402.8,1013.1 L403.8,1177.4 L404.8,770.6 L405.8,1155.9 L406.8,1369.8 L407.8,867.8 L408.9,1394.9 L409.9,1028.3 L410.9,1160.6 L411.9,714.6 L412.9,1378.6 L413.9,1000.7 L414.9,1065.0 L415.9,918.3 L416.9,968.0 L417.9,1370.7 L419.0,1050.0 L420.0,1311.9 L421.0,1109.3 L422.0,1208.9 L423.0,1048.7 L424.0,1225.5 L425.0,1407.6 L426.0,1268.5 L427.0,1241.2 L428.0,1058.3 L429.1,1337.9 L430.1,1406.6 L431.1,843.4 L432.1,908.1 L433.1,1407.6 L434.1,1246.6 L435.1,1192.8 L436.1,1260.6 L437.1,1346.2 L438.1,1280.2 L439.2,1082.5 L440.2,1407.6 L441.2,1103.1 L442.2,939.5 L443.2,994.9 L444.2,1069.3 L445.2,1022.9 L446.2,1052.9 L447.2,1136.9 L448.2,714.6 L449.3,931.3 L450.3,1232.5 L451.3,1158.5 L452.3,933.9 L453.3,942.4 L454.3,1252.9 L455.3,1010.4 L456.3,962.0 L457.3,1378.6 L458.3,993.2 L459.4,1177.7 L460.4,1053.1 L461.4,1069.1 L462.4,895.7 L463.4,914.8 L464.4,1269.0 L465.4,854.7 L466.4,1091.3 L467.4,836.5 L468.4,993.6 L469.5,1023.5 L470.5,750.8 L471.5,1211.3 L472.5,985.3 L473.5,1220.3 L474.5,864.4 L475.5,1174.5 L476.5,1407.6 L477.5,1053.0 L478.5,903.8 L479.6,1074.2 L480.6,1003.3 L481.6,942.7 L482.6,956.1 L483.6,882.1 L484.6,1063.7 L485.6,948.3 L486.6,869.5 L487.6,1136.1 L488.6,977.6 L489.7,1407.6 L490.7,980.1 L491.7,913.5 L492.7,948.3 L493.7,1098.5 L494.7,933.4 L495.7,847.6 L496.7,1304.5 L497.7,852.6 L498.7,1283.8 L499.8,1069.3 L500.8,882.3 L501.8,1306.0 L502.8,1016.4 L503.8,892.6 L504.8,1056.9 L505.8,1242.3 L506.8,1147.9 L507.8,1173.2 L508.8,1321.3 L509.9,1085.7 L510.9,1110.9 L511.9,1015.4 L512.9,818.0 L513.9,1027.0 L514.9,1315.0 L515.9,771.3 L516.9,1279.0 L517.9,1103.3 L518.9,909.7 L520.0,1075.5 L521.0,1368.7 L522.0,969.9 L523.0,1200.7 L524.0,1257.1 L525.0,900.0 L526.0,1173.1 L527.0,1169.7 L528.0,1003.1 L529.0,1217.9 L530.1,1034.0 L531.1,998.7 L532.1,874.1 L533.1,1167.6 L534.1,1011.8 L535.1,980.0 L536.1,860.3 L537.1,804.3 L538.1,899.0 L539.1,1184.1 L540.2,881.7 L541.2,1316.1 L542.2,1110.2 L543.2,1055.0 L544.2,777.2 L545.2,1398.5 L546.2,717.5 L547.2,1116.7 L548.2,1354.9 L549.2,971.0 L550.3,868.7 L551.3,1000.1 L552.3,1189.4 L553.3,1278.0 L554.3,1115.1 L555.3,754.8 L556.3,831.8 L557.3,1014.1 L558.3,714.6 L559.3,913.3 L560.4,1407.6 L561.4,728.2 L562.4,1218.7 L563.4,757.3 L564.4,890.2 L565.4,947.6 L566.4,714.6 L567.4,934.5 L568.4,1253.9 L569.4,1122.0 L570.5,1117.9 L571.5,769.5 L572.5,917.5 L573.5,994.0 L574.5,1101.3 L575.5,1252.1 L576.5,714.6 L577.5,1326.2 L578.5,843.0 L579.5,844.2 L580.6,714.6 L581.6,877.1 L582.6,844.1 L583.6,714.6 L584.6,844.1 L585.6,956.9 L586.6,826.1 L587.6,1127.2 L588.6,714.6 L589.6,1163.8 L590.7,904.5 L591.7,1062.3 L592.7,714.6 L593.7,1016.8 L594.7,967.4 L595.7,1228.7 L596.7,714.6 L597.7,1345.8 L598.7,714.6 L599.7,1341.1 L600.8,1151.1 L601.8,800.2 L602.8,1407.6 L603.8,714.6 L604.8,966.0 L605.8,1070.9 L606.8,1159.1 L607.8,1079.6 L608.8,1240.8 L609.8,1148.6 L610.9,1025.2 L611.9,749.4 L612.9,909.4 L613.9,1267.9 L614.9,714.6 L615.9,1052.2 L616.9,714.6 L617.9,827.3 L618.9,714.6 L619.9,1390.4 L621.0,714.6 L622.0,969.7 L623.0,1248.4 L624.0,1218.9 L625.0,1270.1 L626.0,1354.0 L627.0,1185.0 L628.0,1285.0 L629.0,1032.0 L630.0,1034.3 L631.1,714.6 L632.1,1074.5 L633.1,1376.5 L634.1,810.2 L635.1,714.6 L636.1,1040.4 L637.1,1327.5 L638.1,1343.8 L639.1,714.6 L640.1,1120.7 L641.2,806.2 L642.2,1061.3 L643.2,714.6 L644.2,1234.5 L645.2,873.7 L646.2,1039.6 L647.2,934.2 L648.2,714.6 L649.2,1115.3 L650.2,835.5 L651.3,777.4 L652.3,1141.8 L653.3,943.5 L654.3,783.4 L655.3,1231.6 L656.3,818.8 L657.3,965.4 L658.3,1166.8 L659.3,1218.7 L660.3,1288.3 L661.4,1407.6 L662.4,996.5 L663.4,772.7 L664.4,1407.6 L665.4,1345.6 L666.4,899.1 L667.4,1165.3 L668.4,883.1 L669.4,714.6 L670.4,1258.5 L671.5,1077.7 L672.5,1019.9 L673.5,1407.6 L674.5,1364.3 L675.5,829.8 L676.5,714.6 L677.5,714.6 L678.5,1032.4 L679.5,936.3 L680.5,1134.5 L681.6,1048.4 L682.6,877.7 L683.6,943.3 L684.6,714.6 L685.6,1361.8 L686.6,909.1 L687.6,1196.3 L688.6,872.6 L689.6,1064.9 L690.6,1213.7 L691.7,990.7 L692.7,855.4 L693.7,1407.6 L694.7,1030.8 L695.7,1249.8 L696.7,1088.6 L697.7,917.3 L698.7,1407.6 L699.7,1212.1 L700.7,1202.6 L701.8,714.6 L702.8,1180.6 L703.8,1309.5 L704.8,1166.8 L705.8,1073.9 L706.8,1407.6 L707.8,1196.5 L708.8,1283.1 L709.8,1387.8 L710.8,1372.6 L711.9,806.8 L712.9,1203.3 L713.9,934.7 L714.9,714.6 L715.9,1180.5 L716.9,714.6 L717.9,1005.4 L718.9,714.6 L719.9,880.5 L720.9,1017.3 L722.0,1132.4 L723.0,1010.5 L724.0,921.5 L725.0,929.3 L726.0,1407.6 L727.0,1045.9 L728.0,1153.7 L729.0,1407.6 L730.0,774.8 L731.0,714.6 L732.1,944.2 L733.1,1093.0 L734.1,919.6 L735.1,1182.6 L736.1,1175.1 L737.1,833.9 L738.1,1235.6 L739.1,859.3 L740.1,1360.4 L741.1,1240.0 L742.2,1407.6 L743.2,1353.7 L744.2,1101.3 L745.2,1222.4 L746.2,1168.2 L747.2,965.1 L748.2,804.4 L749.2,1407.6 L750.2,1407.6 L751.2,1065.1 L752.3,1125.3 L753.3,1082.8 L754.3,1407.6 L755.3,1407.6 L756.3,973.2 L757.3,1096.0 L758.3,1054.0 L759.3,1234.5 L760.3,1368.9 L761.3,1407.6 L762.4,1132.6 L763.4,971.3 L764.4,1334.5 L765.4,1352.6 L766.4,1134.8 L767.4,1251.8 L768.4,1291.5 L769.4,1407.6 L770.4,1212.9 L771.4,1304.1 L772.5,1225.2 L773.5,951.4 L774.5,1345.2 L775.5,1204.2 L776.5,1407.6 L777.5,868.9 L778.5,962.5 L779.5,1195.6 L780.5,715.5 L781.5,1087.5 L782.6,1013.7" fill="none" stroke="#d9d9d9" stroke-width="3.7" stroke-linejoin="round"/>
<path d="M122.3,1185.0 L123.3,1185.8 L124.3,1187.2 L125.3,1190.0 L126.3,1192.2 L127.4,1193.0 L128.4,1194.2 L129.4,1197.2 L130.4,1203.3 L131.4,1209.2 L132.4,1217.0 L133.4,1224.0 L134.4,1224.9 L135.4,1226.0 L136.4,1227.6 L137.5,1227.8 L138.5,1229.8 L139.5,1233.6 L140.5,1240.1 L141.5,1241.3 L142.5,1236.6 L143.5,1231.4 L144.5,1238.1 L145.5,1246.8 L146.5,1254.4 L147.6,1256.6 L148.6,1259.8 L149.6,1263.7 L150.6,1269.9 L151.6,1276.8 L152.6,1289.1 L153.6,1286.6 L154.6,1275.2 L155.6,1267.5 L156.6,1262.2 L157.7,1250.0 L158.7,1237.5 L159.7,1224.2 L160.7,1210.5 L161.7,1206.9 L162.7,1203.7 L163.7,1202.0 L164.7,1201.8 L165.7,1204.5 L166.7,1207.7 L167.8,1212.4 L168.8,1218.8 L169.8,1221.8 L170.8,1225.4 L171.8,1230.5 L172.8,1233.9 L173.8,1236.4 L174.8,1232.3 L175.8,1226.4 L176.8,1223.0 L177.9,1222.6 L178.9,1225.4 L179.9,1228.0 L180.9,1230.3 L181.9,1226.6 L182.9,1222.5 L183.9,1214.3 L184.9,1218.8 L185.9,1233.5 L186.9,1242.8 L188.0,1241.5 L189.0,1237.3 L190.0,1237.3 L191.0,1242.7 L192.0,1246.5 L193.0,1236.4 L194.0,1226.2 L195.0,1224.3 L196.0,1228.2 L197.0,1233.9 L198.1,1222.4 L199.1,1204.2 L200.1,1187.5 L201.1,1179.2 L202.1,1181.8 L203.1,1183.2 L204.1,1189.0 L205.1,1199.5 L206.1,1209.7 L207.1,1217.7 L208.2,1225.1 L209.2,1230.2 L210.2,1229.3 L211.2,1230.1 L212.2,1230.2 L213.2,1230.1 L214.2,1230.6 L215.2,1230.0 L216.2,1225.9 L217.2,1220.6 L218.3,1215.6 L219.3,1211.0 L220.3,1204.2 L221.3,1197.0 L222.3,1203.1 L223.3,1207.7 L224.3,1211.6 L225.3,1217.8 L226.3,1226.7 L227.3,1234.8 L228.4,1242.2 L229.4,1249.4 L230.4,1254.9 L231.4,1260.2 L232.4,1267.2 L233.4,1275.3 L234.4,1271.8 L235.4,1266.3 L236.4,1261.7 L237.4,1257.9 L238.5,1253.7 L239.5,1249.9 L240.5,1242.1 L241.5,1235.9 L242.5,1234.7 L243.5,1235.0 L244.5,1233.3 L245.5,1229.9 L246.5,1229.1 L247.5,1236.5 L248.6,1242.6 L249.6,1249.6 L250.6,1255.8 L251.6,1260.1 L252.6,1260.6 L253.6,1255.3 L254.6,1249.4 L255.6,1247.6 L256.6,1246.6 L257.6,1242.7 L258.7,1238.8 L259.7,1236.4 L260.7,1230.7 L261.7,1223.2 L262.7,1224.0 L263.7,1228.8 L264.7,1231.2 L265.7,1234.3 L266.7,1236.2 L267.7,1237.6 L268.8,1233.5 L269.8,1228.7 L270.8,1224.8 L271.8,1229.0 L272.8,1233.9 L273.8,1235.3 L274.8,1227.6 L275.8,1218.8 L276.8,1215.7 L277.8,1217.4 L278.9,1217.4 L279.9,1211.3 L280.9,1201.5 L281.9,1191.7 L282.9,1197.3 L283.9,1204.9 L284.9,1211.5 L285.9,1217.7 L286.9,1216.1 L287.9,1210.3 L289.0,1203.2 L290.0,1195.8 L291.0,1191.2 L292.0,1187.8 L293.0,1184.3 L294.0,1180.4 L295.0,1180.4 L296.0,1183.3 L297.0,1178.4 L298.0,1166.9 L299.1,1157.6 L300.1,1151.9 L301.1,1146.4 L302.1,1141.6 L303.1,1145.3 L304.1,1147.9 L305.1,1151.9 L306.1,1156.6 L307.1,1161.7 L308.1,1165.9 L309.2,1169.8 L310.2,1171.6 L311.2,1172.7 L312.2,1173.0 L313.2,1174.9 L314.2,1176.5 L315.2,1177.3 L316.2,1179.3 L317.2,1183.3 L318.2,1188.1 L319.3,1191.0 L320.3,1183.8 L321.3,1177.0 L322.3,1173.5 L323.3,1172.2 L324.3,1170.5 L325.3,1170.6 L326.3,1171.0 L327.3,1175.3 L328.3,1180.7 L329.4,1187.3 L330.4,1192.8 L331.4,1185.2 L332.4,1172.9 L333.4,1158.4 L334.4,1143.9 L335.4,1139.0 L336.4,1136.4 L337.4,1135.4 L338.4,1133.0 L339.5,1126.4 L340.5,1121.4 L341.5,1114.8 L342.5,1105.1 L343.5,1101.0 L344.5,1099.9 L345.5,1097.7 L346.5,1096.1 L347.5,1096.5 L348.5,1095.6 L349.6,1093.6 L350.6,1096.1 L351.6,1103.2 L352.6,1107.4 L353.6,1109.2 L354.6,1106.9 L355.6,1104.0 L356.6,1104.3 L357.6,1102.1 L358.6,1098.4 L359.7,1093.1 L360.7,1087.0 L361.7,1080.5 L362.7,1076.4 L363.7,1073.7 L364.7,1073.1 L365.7,1072.5 L366.7,1072.0 L367.7,1069.4 L368.7,1075.2 L369.8,1083.9 L370.8,1094.4 L371.8,1103.4 L372.8,1103.7 L373.8,1100.9 L374.8,1098.8 L375.8,1096.2 L376.8,1092.0 L377.8,1086.8 L378.8,1081.5 L379.9,1075.9 L380.9,1071.9 L381.9,1066.1 L382.9,1067.8 L383.9,1076.9 L384.9,1089.4 L385.9,1102.4 L386.9,1113.2 L387.9,1119.8 L388.9,1127.9 L390.0,1144.5 L391.0,1161.1 L392.0,1171.6 L393.0,1179.3 L394.0,1183.9 L395.0,1184.5 L396.0,1184.1 L397.0,1184.5 L398.0,1185.2 L399.0,1185.8 L400.1,1184.6 L401.1,1182.5 L402.1,1182.2 L403.1,1183.4 L404.1,1185.1 L405.1,1184.3 L406.1,1180.2 L407.1,1175.9 L408.1,1180.4 L409.1,1185.9 L410.2,1188.8 L411.2,1190.5 L412.2,1188.8 L413.2,1187.9 L414.2,1187.0 L415.2,1183.9 L416.2,1178.5 L417.2,1175.6 L418.2,1171.0 L419.2,1163.8 L420.3,1160.2 L421.3,1161.8 L422.3,1163.8 L423.3,1164.2 L424.3,1162.7 L425.3,1163.5 L426.3,1166.5 L427.3,1168.1 L428.3,1169.0 L429.3,1173.5 L430.4,1179.7 L431.4,1185.5 L432.4,1188.0 L433.4,1188.3 L434.4,1191.5 L435.4,1190.7 L436.4,1178.6 L437.4,1164.0 L438.4,1150.7 L439.4,1140.9 L440.5,1132.9 L441.5,1124.5 L442.5,1119.7 L443.5,1114.4 L444.5,1112.9 L445.5,1113.6 L446.5,1109.1 L447.5,1103.1 L448.5,1096.9 L449.5,1091.8 L450.6,1087.4 L451.6,1081.2 L452.6,1074.3 L453.6,1075.8 L454.6,1078.4 L455.6,1079.8 L456.6,1082.6 L457.6,1084.3 L458.6,1085.8 L459.6,1089.6 L460.7,1089.7 L461.7,1086.5 L462.7,1084.6 L463.7,1081.6 L464.7,1078.9 L465.7,1074.8 L466.7,1069.8 L467.7,1065.2 L468.7,1060.3 L469.7,1055.1 L470.8,1050.4 L471.8,1048.3 L472.8,1047.3 L473.8,1049.9 L474.8,1050.8 L475.8,1053.2 L476.8,1051.1 L477.8,1045.4 L478.8,1034.0 L479.8,1018.9 L480.9,1008.7 L481.9,1008.2 L482.9,1005.3 L483.9,1012.2 L484.9,1031.9 L485.9,1041.4 L486.9,1036.7 L487.9,1033.7 L488.9,1038.2 L489.9,1045.7 L491.0,1052.9 L492.0,1061.1 L493.0,1069.8 L494.0,1075.6 L495.0,1078.4 L496.0,1079.0 L497.0,1079.7 L498.0,1079.8 L499.0,1079.2 L500.0,1080.9 L501.1,1081.8 L502.1,1081.9 L503.1,1083.2 L504.1,1083.7 L505.1,1081.3 L506.1,1078.7 L507.1,1078.1 L508.1,1083.2 L509.1,1087.9 L510.1,1089.1 L511.2,1086.4 L512.2,1082.7 L513.2,1081.7 L514.2,1083.5 L515.2,1086.9 L516.2,1089.9 L517.2,1091.6 L518.2,1093.4 L519.2,1095.9 L520.2,1095.8 L521.3,1097.2 L522.3,1099.3 L523.3,1096.2 L524.3,1091.4 L525.3,1086.7 L526.3,1095.8 L527.3,1109.8 L528.3,1123.8 L529.3,1127.0 L530.3,1129.9 L531.4,1134.5 L532.4,1130.6 L533.4,1126.0 L534.4,1119.5 L535.4,1110.4 L536.4,1101.6 L537.4,1089.6 L538.4,1077.7 L539.4,1073.6 L540.4,1067.8 L541.5,1061.9 L542.5,1057.1 L543.5,1048.6 L544.5,1040.6 L545.5,1033.8 L546.5,1035.8 L547.5,1037.3 L548.5,1039.1 L549.5,1040.4 L550.5,1035.7 L551.6,1030.7 L552.6,1023.3 L553.6,1014.7 L554.6,1008.7 L555.6,1004.0 L556.6,998.7 L557.6,995.0 L558.6,992.7 L559.6,990.2 L560.6,988.5 L561.7,985.9 L562.7,985.6 L563.7,987.9 L564.7,989.2 L565.7,988.4 L566.7,985.4 L567.7,980.9 L568.7,981.7 L569.7,983.1 L570.7,980.5 L571.8,976.5 L572.8,970.3 L573.8,966.0 L574.8,960.2 L575.8,951.2 L576.8,944.6 L577.8,939.5 L578.8,933.4 L579.8,926.3 L580.8,917.5 L581.9,916.7 L582.9,926.4 L583.9,934.7 L584.9,943.2 L585.9,950.4 L586.9,951.4 L587.9,953.8 L588.9,957.4 L589.9,964.3 L590.9,976.8 L592.0,991.7 L593.0,1003.2 L594.0,1002.8 L595.0,1002.6 L596.0,1002.0 L597.0,1004.4 L598.0,1007.5 L599.0,1005.5 L600.0,1005.8 L601.0,1014.1 L602.1,1023.0 L603.1,1029.1 L604.1,1030.2 L605.1,1031.7 L606.1,1031.6 L607.1,1033.9 L608.1,1038.6 L609.1,1040.1 L610.1,1038.2 L611.1,1031.6 L612.2,1025.6 L613.2,1024.4 L614.2,1030.0 L615.2,1032.9 L616.2,1035.8 L617.2,1039.3 L618.2,1042.2 L619.2,1045.0 L620.2,1048.0 L621.2,1050.7 L622.3,1054.0 L623.3,1057.4 L624.3,1060.8 L625.3,1063.0 L626.3,1061.5 L627.3,1061.1 L628.3,1059.6 L629.3,1058.1 L630.3,1052.2 L631.3,1044.3 L632.4,1037.8 L633.4,1035.7 L634.4,1033.1 L635.4,1028.9 L636.4,1024.9 L637.4,1019.6 L638.4,1015.1 L639.4,1012.2 L640.4,1006.0 L641.4,999.2 L642.5,997.3 L643.5,996.0 L644.5,995.9 L645.5,995.2 L646.5,994.7 L647.5,994.0 L648.5,989.8 L649.5,980.1 L650.5,970.3 L651.5,970.6 L652.6,971.8 L653.6,977.3 L654.6,982.1 L655.6,986.1 L656.6,982.0 L657.6,979.6 L658.6,978.0 L659.6,976.1 L660.6,980.3 L661.6,985.5 L662.7,992.6 L663.7,987.9 L664.7,983.3 L665.7,981.7 L666.7,983.9 L667.7,984.9 L668.7,986.8 L669.7,989.9 L670.7,991.3 L671.7,991.6 L672.8,993.0 L673.8,994.4 L674.8,997.7 L675.8,1001.4 L676.8,1006.5 L677.8,1022.6 L678.8,1033.5 L679.8,1037.7 L680.8,1045.1 L681.8,1049.3 L682.9,1049.1 L683.9,1049.2 L684.9,1051.5 L685.9,1051.6 L686.9,1047.2 L687.9,1041.5 L688.9,1039.9 L689.9,1046.7 L690.9,1054.6 L691.9,1057.8 L693.0,1059.9 L694.0,1063.2 L695.0,1093.3 L696.0,1110.4 L697.0,1110.4 L698.0,1112.0 L699.0,1114.6 L700.0,1115.0 L701.0,1116.7 L702.0,1115.2 L703.1,1109.8 L704.1,1100.6 L705.1,1100.5 L706.1,1114.1 L707.1,1124.4 L708.1,1135.0 L709.1,1132.8 L710.1,1125.9 L711.1,1120.6 L712.1,1117.4 L713.2,1116.3 L714.2,1115.4 L715.2,1110.5 L716.2,1107.5 L717.2,1112.8 L718.2,1116.7 L719.2,1120.7 L720.2,1124.0 L721.2,1128.6 L722.2,1135.0 L723.3,1136.7 L724.3,1134.8 L725.3,1137.2 L726.3,1141.5 L727.3,1158.7 L728.3,1178.5 L729.3,1181.4 L730.3,1182.3 L731.3,1180.5 L732.3,1176.4 L733.4,1179.3 L734.4,1186.0 L735.4,1190.5 L736.4,1191.9 L737.4,1192.5 L738.4,1192.7 L739.4,1192.0 L740.4,1192.9 L741.4,1183.5 L742.4,1168.4 L743.5,1150.0 L744.5,1140.3 L745.5,1135.0 L746.5,1132.2 L747.5,1139.1 L748.5,1144.1 L749.5,1151.0 L750.5,1161.9 L751.5,1174.7 L752.5,1187.9 L753.6,1193.0 L754.6,1186.6 L755.6,1180.7 L756.6,1173.6 L757.6,1174.7 L758.6,1178.3 L759.6,1180.2 L760.6,1186.6 L761.6,1193.8 L762.6,1198.1 L763.7,1203.3 L764.7,1209.4 L765.7,1213.2 L766.7,1212.0 L767.7,1208.9 L768.7,1205.1 L769.7,1196.8 L770.7,1188.9 L771.7,1182.1 L772.7,1175.4 L773.8,1173.6 L774.8,1173.8 L775.8,1173.1 L776.8,1156.9 L777.8,1138.6 L778.8,1114.0 L779.3,1114.0" fill="none" stroke="#ff6600" stroke-width="7" stroke-linejoin="round" stroke-linecap="round"/>
<line x1="728.6" y1="752.3" x2="728.6" y2="1377.6" stroke="#000" stroke-width="4.6" stroke-dasharray="5 14.3" stroke-linecap="round"/></g>
<rect x="119.6" y="744.6" width="663.30" height="633.00" fill="none" stroke="#000" stroke-width="3.1"/>
<line x1="249.30" y1="1377.6" x2="249.30" y2="1389.1" stroke="#000" stroke-width="2.9"/>
<text x="249.80" y="1430.00" font-size="34" text-anchor="middle" textLength="112.5" lengthAdjust="spacingAndGlyphs">04 Jun</text>
<line x1="394.70" y1="1377.6" x2="394.70" y2="1389.1" stroke="#000" stroke-width="2.9"/>
<text x="395.20" y="1430.00" font-size="34" text-anchor="middle" textLength="112.5" lengthAdjust="spacingAndGlyphs">07 Jun</text>
<line x1="540.10" y1="1377.6" x2="540.10" y2="1389.1" stroke="#000" stroke-width="2.9"/>
<text x="540.60" y="1430.00" font-size="34" text-anchor="middle" textLength="112.5" lengthAdjust="spacingAndGlyphs">10 Jun</text>
<line x1="685.50" y1="1377.6" x2="685.50" y2="1389.1" stroke="#000" stroke-width="2.9"/>
<text x="686.00" y="1430.00" font-size="34" text-anchor="middle" textLength="112.5" lengthAdjust="spacingAndGlyphs">13 Jun</text>
<line x1="119.6" y1="826.42" x2="107.6" y2="826.42" stroke="#000" stroke-width="2.9"/>
<text transform="translate(90.80,827.92) rotate(-90)" font-size="34" text-anchor="middle">0.04</text>
<line x1="119.6" y1="943.96" x2="107.6" y2="943.96" stroke="#000" stroke-width="2.9"/>
<text transform="translate(90.80,945.46) rotate(-90)" font-size="34" text-anchor="middle">0.02</text>
<line x1="119.6" y1="1061.50" x2="107.6" y2="1061.50" stroke="#000" stroke-width="2.9"/>
<text transform="translate(90.80,1063.00) rotate(-90)" font-size="34" text-anchor="middle">0.00</text>
<line x1="119.6" y1="1179.04" x2="107.6" y2="1179.04" stroke="#000" stroke-width="2.9"/>
<text transform="translate(90.80,1180.54) rotate(-90)" font-size="34" text-anchor="middle" textLength="92.048" lengthAdjust="spacingAndGlyphs">-0.02</text>
<line x1="119.6" y1="1296.58" x2="107.6" y2="1296.58" stroke="#000" stroke-width="2.9"/>
<text transform="translate(90.80,1298.08) rotate(-90)" font-size="34" text-anchor="middle" textLength="92.048" lengthAdjust="spacingAndGlyphs">-0.04</text>
<text transform="translate(31.80,1062.50) rotate(-90)" font-size="42" text-anchor="middle" textLength="95" lengthAdjust="spacingAndGlyphs">dv/v</text>
<circle cx="27.3" cy="751.5" r="27.2" fill="#000"/><text x="27.80" y="768.10" font-size="46" text-anchor="middle" font-weight="bold" fill="#fff">b</text>
<g clip-path="url(#clipC)"><g filter="url(#fInf)"><rect x="121.0" y="1468.3" width="660.6" height="640.9" fill="#000"/>
<rect x="121.00" y="1044.1" width="1.11" height="1238.2" fill="url(#gG)" opacity="0.001"/>
<rect x="121.00" y="1474.2" width="1.11" height="498.0" fill="url(#gG)" opacity="0.512"/>
<rect x="122.01" y="1113.1" width="1.11" height="1296.1" fill="url(#gG)" opacity="0.028"/>
<rect x="122.01" y="1596.3" width="1.11" height="449.7" fill="url(#gG)" opacity="0.483"/>
<rect x="123.02" y="1172.0" width="1.11" height="1116.7" fill="url(#gG)" opacity="0.117"/>
<rect x="123.02" y="1558.9" width="1.11" height="462.6" fill="url(#gG)" opacity="0.636"/>
<rect x="124.03" y="1183.0" width="1.11" height="1111.6" fill="url(#gG)" opacity="0.582"/>
<rect x="124.03" y="1594.8" width="1.11" height="407.7" fill="url(#gG)" opacity="0.000"/>
<rect x="125.04" y="1130.1" width="1.11" height="1206.3" fill="url(#gG)" opacity="0.151"/>
<rect x="125.04" y="1582.3" width="1.11" height="421.4" fill="url(#gG)" opacity="0.514"/>
<rect x="126.05" y="1185.4" width="1.11" height="1002.6" fill="url(#gG)" opacity="0.307"/>
<rect x="126.05" y="1550.3" width="1.11" height="392.2" fill="url(#gG)" opacity="0.000"/>
<rect x="127.06" y="1139.8" width="1.11" height="1197.6" fill="url(#gG)" opacity="0.190"/>
<rect x="127.06" y="1605.9" width="1.11" height="384.9" fill="url(#gG)" opacity="0.193"/>
<rect x="128.07" y="1219.8" width="1.11" height="1033.1" fill="url(#gG)" opacity="0.014"/>
<rect x="128.07" y="1517.5" width="1.11" height="556.9" fill="url(#gG)" opacity="0.383"/>
<rect x="129.08" y="1194.1" width="1.11" height="967.4" fill="url(#gG)" opacity="0.000"/>
<rect x="129.08" y="1483.8" width="1.11" height="507.3" fill="url(#gG)" opacity="0.606"/>
<rect x="130.09" y="1195.5" width="1.11" height="1065.8" fill="url(#gG)" opacity="0.000"/>
<rect x="130.09" y="1590.4" width="1.11" height="395.2" fill="url(#gG)" opacity="0.540"/>
<rect x="131.10" y="1030.5" width="1.11" height="1409.4" fill="url(#gG)" opacity="0.000"/>
<rect x="131.10" y="1550.0" width="1.11" height="489.5" fill="url(#gG)" opacity="0.408"/>
<rect x="132.11" y="1080.9" width="1.11" height="1302.0" fill="url(#gG)" opacity="0.000"/>
<rect x="132.11" y="1592.8" width="1.11" height="397.3" fill="url(#gG)" opacity="0.622"/>
<rect x="133.12" y="1068.8" width="1.11" height="1283.1" fill="url(#gG)" opacity="0.062"/>
<rect x="133.12" y="1485.7" width="1.11" height="568.2" fill="url(#gG)" opacity="0.597"/>
<rect x="134.13" y="954.8" width="1.11" height="1484.7" fill="url(#gG)" opacity="0.000"/>
<rect x="134.13" y="1541.6" width="1.11" height="430.1" fill="url(#gG)" opacity="0.546"/>
<rect x="135.14" y="1239.8" width="1.11" height="996.2" fill="url(#gG)" opacity="0.127"/>
<rect x="135.14" y="1522.3" width="1.11" height="550.0" fill="url(#gG)" opacity="0.567"/>
<rect x="136.15" y="1183.8" width="1.11" height="1138.8" fill="url(#gG)" opacity="0.097"/>
<rect x="136.15" y="1535.8" width="1.11" height="553.6" fill="url(#gG)" opacity="0.422"/>
<rect x="137.16" y="1122.2" width="1.11" height="1094.1" fill="url(#gG)" opacity="0.055"/>
<rect x="137.16" y="1518.9" width="1.11" height="419.4" fill="url(#gG)" opacity="0.477"/>
<rect x="138.17" y="1124.4" width="1.11" height="1198.9" fill="url(#gG)" opacity="0.000"/>
<rect x="138.17" y="1514.2" width="1.11" height="537.8" fill="url(#gG)" opacity="0.535"/>
<rect x="139.18" y="1217.5" width="1.11" height="999.5" fill="url(#gG)" opacity="0.000"/>
<rect x="139.18" y="1536.9" width="1.11" height="479.3" fill="url(#gG)" opacity="0.295"/>
<rect x="140.19" y="1148.5" width="1.11" height="1193.6" fill="url(#gG)" opacity="0.082"/>
<rect x="140.19" y="1548.2" width="1.11" height="512.8" fill="url(#gG)" opacity="0.344"/>
<rect x="141.20" y="1159.3" width="1.11" height="1160.6" fill="url(#gG)" opacity="0.151"/>
<rect x="141.20" y="1534.5" width="1.11" height="528.7" fill="url(#gG)" opacity="0.131"/>
<rect x="142.21" y="1028.3" width="1.11" height="1416.2" fill="url(#gG)" opacity="0.050"/>
<rect x="142.21" y="1509.9" width="1.11" height="571.4" fill="url(#gG)" opacity="0.164"/>
<rect x="143.22" y="1242.7" width="1.11" height="973.9" fill="url(#gG)" opacity="0.233"/>
<rect x="143.22" y="1569.7" width="1.11" height="438.2" fill="url(#gG)" opacity="0.043"/>
<rect x="144.23" y="1230.1" width="1.11" height="979.8" fill="url(#gG)" opacity="0.227"/>
<rect x="144.23" y="1489.4" width="1.11" height="579.3" fill="url(#gG)" opacity="0.000"/>
<rect x="145.24" y="990.2" width="1.11" height="1399.5" fill="url(#gG)" opacity="0.000"/>
<rect x="145.24" y="1546.3" width="1.11" height="405.6" fill="url(#gG)" opacity="0.038"/>
<rect x="146.25" y="1204.9" width="1.11" height="1038.7" fill="url(#gG)" opacity="0.272"/>
<rect x="146.25" y="1486.2" width="1.11" height="594.1" fill="url(#gG)" opacity="0.019"/>
<rect x="147.26" y="1070.4" width="1.11" height="1291.8" fill="url(#gG)" opacity="0.126"/>
<rect x="147.26" y="1523.8" width="1.11" height="503.0" fill="url(#gG)" opacity="0.415"/>
<rect x="148.27" y="1057.1" width="1.11" height="1324.3" fill="url(#gG)" opacity="0.635"/>
<rect x="148.27" y="1494.7" width="1.11" height="567.1" fill="url(#gG)" opacity="0.000"/>
<rect x="149.28" y="1016.5" width="1.11" height="1354.6" fill="url(#gG)" opacity="0.097"/>
<rect x="149.28" y="1479.5" width="1.11" height="546.5" fill="url(#gG)" opacity="0.705"/>
<rect x="150.29" y="960.0" width="1.11" height="1497.1" fill="url(#gG)" opacity="0.000"/>
<rect x="150.29" y="1535.5" width="1.11" height="463.8" fill="url(#gG)" opacity="0.915"/>
<rect x="151.30" y="1170.0" width="1.11" height="1111.4" fill="url(#gG)" opacity="0.026"/>
<rect x="151.30" y="1564.3" width="1.11" height="440.5" fill="url(#gG)" opacity="0.960"/>
<rect x="152.31" y="1099.8" width="1.11" height="1309.8" fill="url(#gG)" opacity="0.478"/>
<rect x="152.31" y="1603.5" width="1.11" height="419.9" fill="url(#gG)" opacity="0.926"/>
<rect x="153.32" y="1025.0" width="1.11" height="1398.1" fill="url(#gG)" opacity="0.175"/>
<rect x="153.32" y="1506.1" width="1.11" height="553.6" fill="url(#gG)" opacity="0.586"/>
<rect x="154.33" y="1107.2" width="1.11" height="1242.4" fill="url(#gG)" opacity="0.162"/>
<rect x="154.33" y="1572.4" width="1.11" height="429.5" fill="url(#gG)" opacity="0.106"/>
<rect x="155.34" y="1107.2" width="1.11" height="1299.9" fill="url(#gG)" opacity="0.700"/>
<rect x="155.34" y="1572.1" width="1.11" height="487.4" fill="url(#gG)" opacity="0.000"/>
<rect x="156.35" y="1125.6" width="1.11" height="1210.7" fill="url(#gG)" opacity="0.633"/>
<rect x="156.35" y="1593.7" width="1.11" height="391.9" fill="url(#gG)" opacity="0.895"/>
<rect x="157.36" y="1227.8" width="1.11" height="981.1" fill="url(#gG)" opacity="0.515"/>
<rect x="157.36" y="1487.7" width="1.11" height="578.5" fill="url(#gG)" opacity="0.706"/>
<rect x="158.37" y="1250.8" width="1.11" height="969.6" fill="url(#gG)" opacity="0.140"/>
<rect x="158.37" y="1496.1" width="1.11" height="596.3" fill="url(#gG)" opacity="0.955"/>
<rect x="159.38" y="1001.3" width="1.11" height="1419.6" fill="url(#gG)" opacity="0.007"/>
<rect x="159.38" y="1542.5" width="1.11" height="454.4" fill="url(#gG)" opacity="0.953"/>
<rect x="160.39" y="1045.5" width="1.11" height="1362.2" fill="url(#gG)" opacity="0.000"/>
<rect x="160.39" y="1529.5" width="1.11" height="511.3" fill="url(#gG)" opacity="0.425"/>
<rect x="161.40" y="1202.3" width="1.11" height="1076.0" fill="url(#gG)" opacity="0.000"/>
<rect x="161.40" y="1604.6" width="1.11" height="388.4" fill="url(#gG)" opacity="0.422"/>
<rect x="162.41" y="1205.2" width="1.11" height="1010.0" fill="url(#gG)" opacity="0.000"/>
<rect x="162.41" y="1474.9" width="1.11" height="587.5" fill="url(#gG)" opacity="0.412"/>
<rect x="163.42" y="1035.9" width="1.11" height="1385.0" fill="url(#gG)" opacity="0.108"/>
<rect x="163.42" y="1558.1" width="1.11" height="457.5" fill="url(#gG)" opacity="0.248"/>
<rect x="164.43" y="1142.2" width="1.11" height="1171.3" fill="url(#gG)" opacity="0.598"/>
<rect x="164.43" y="1590.4" width="1.11" height="391.7" fill="url(#gG)" opacity="0.000"/>
<rect x="165.44" y="1048.8" width="1.11" height="1350.5" fill="url(#gG)" opacity="0.700"/>
<rect x="165.44" y="1539.4" width="1.11" height="486.1" fill="url(#gG)" opacity="0.000"/>
<rect x="166.45" y="1098.2" width="1.11" height="1151.1" fill="url(#gG)" opacity="0.428"/>
<rect x="166.45" y="1443.4" width="1.11" height="577.2" fill="url(#gG)" opacity="0.000"/>
<rect x="167.46" y="1091.3" width="1.11" height="1195.9" fill="url(#gG)" opacity="0.279"/>
<rect x="167.46" y="1476.4" width="1.11" height="542.3" fill="url(#gG)" opacity="0.077"/>
<rect x="168.47" y="1166.5" width="1.11" height="1102.0" fill="url(#gG)" opacity="0.283"/>
<rect x="168.47" y="1547.1" width="1.11" height="457.3" fill="url(#gG)" opacity="0.000"/>
<rect x="169.48" y="1137.7" width="1.11" height="1174.5" fill="url(#gG)" opacity="0.147"/>
<rect x="169.48" y="1496.4" width="1.11" height="573.5" fill="url(#gG)" opacity="0.226"/>
<rect x="170.49" y="1171.5" width="1.11" height="1095.3" fill="url(#gG)" opacity="0.533"/>
<rect x="170.49" y="1501.9" width="1.11" height="550.8" fill="url(#gG)" opacity="0.000"/>
<rect x="171.50" y="1162.1" width="1.11" height="1212.5" fill="url(#gG)" opacity="0.117"/>
<rect x="171.50" y="1633.4" width="1.11" height="386.3" fill="url(#gG)" opacity="0.116"/>
<rect x="172.51" y="1285.0" width="1.11" height="969.6" fill="url(#gG)" opacity="0.052"/>
<rect x="172.51" y="1611.4" width="1.11" height="433.0" fill="url(#gG)" opacity="0.340"/>
<rect x="173.52" y="1128.2" width="1.11" height="1273.1" fill="url(#gG)" opacity="0.000"/>
<rect x="173.52" y="1536.6" width="1.11" height="572.4" fill="url(#gG)" opacity="0.429"/>
<rect x="174.53" y="1118.6" width="1.11" height="1239.1" fill="url(#gG)" opacity="0.000"/>
<rect x="174.53" y="1596.8" width="1.11" height="398.8" fill="url(#gG)" opacity="0.452"/>
<rect x="175.54" y="1122.8" width="1.11" height="1270.7" fill="url(#gG)" opacity="0.016"/>
<rect x="175.54" y="1544.8" width="1.11" height="542.7" fill="url(#gG)" opacity="0.248"/>
<rect x="176.55" y="1106.5" width="1.11" height="1361.1" fill="url(#gG)" opacity="0.272"/>
<rect x="176.55" y="1574.2" width="1.11" height="541.6" fill="url(#gG)" opacity="0.307"/>
<rect x="177.56" y="1146.3" width="1.11" height="1233.6" fill="url(#gG)" opacity="0.403"/>
<rect x="177.56" y="1551.8" width="1.11" height="538.4" fill="url(#gG)" opacity="0.071"/>
<rect x="178.57" y="1042.3" width="1.11" height="1395.8" fill="url(#gG)" opacity="0.480"/>
<rect x="178.57" y="1524.0" width="1.11" height="548.1" fill="url(#gG)" opacity="0.165"/>
<rect x="179.58" y="1004.4" width="1.11" height="1435.5" fill="url(#gG)" opacity="0.048"/>
<rect x="179.58" y="1516.1" width="1.11" height="527.9" fill="url(#gG)" opacity="0.470"/>
<rect x="180.59" y="1044.1" width="1.11" height="1378.7" fill="url(#gG)" opacity="0.545"/>
<rect x="180.59" y="1591.9" width="1.11" height="398.8" fill="url(#gG)" opacity="0.044"/>
<rect x="181.60" y="1123.6" width="1.11" height="1192.6" fill="url(#gG)" opacity="0.422"/>
<rect x="181.60" y="1512.7" width="1.11" height="530.2" fill="url(#gG)" opacity="0.249"/>
<rect x="182.61" y="1044.3" width="1.11" height="1325.5" fill="url(#gG)" opacity="0.148"/>
<rect x="182.61" y="1577.6" width="1.11" height="374.4" fill="url(#gG)" opacity="0.490"/>
<rect x="183.62" y="1256.5" width="1.11" height="991.7" fill="url(#gG)" opacity="0.121"/>
<rect x="183.62" y="1567.6" width="1.11" height="484.8" fill="url(#gG)" opacity="0.412"/>
<rect x="184.63" y="1194.7" width="1.11" height="1042.0" fill="url(#gG)" opacity="0.000"/>
<rect x="184.63" y="1577.2" width="1.11" height="392.2" fill="url(#gG)" opacity="0.398"/>
<rect x="185.64" y="1165.5" width="1.11" height="1089.1" fill="url(#gG)" opacity="0.000"/>
<rect x="185.64" y="1520.1" width="1.11" height="495.1" fill="url(#gG)" opacity="0.358"/>
<rect x="186.65" y="1185.3" width="1.11" height="1063.3" fill="url(#gG)" opacity="0.055"/>
<rect x="186.65" y="1493.0" width="1.11" height="563.1" fill="url(#gG)" opacity="0.521"/>
<rect x="187.66" y="1073.7" width="1.11" height="1247.8" fill="url(#gG)" opacity="0.019"/>
<rect x="187.66" y="1556.6" width="1.11" height="397.2" fill="url(#gG)" opacity="0.413"/>
<rect x="188.67" y="1150.5" width="1.11" height="1089.6" fill="url(#gG)" opacity="0.089"/>
<rect x="188.67" y="1466.5" width="1.11" height="572.8" fill="url(#gG)" opacity="0.490"/>
<rect x="189.68" y="1133.8" width="1.11" height="1122.2" fill="url(#gG)" opacity="0.132"/>
<rect x="189.68" y="1476.4" width="1.11" height="552.2" fill="url(#gG)" opacity="0.695"/>
<rect x="190.69" y="1160.1" width="1.11" height="1102.2" fill="url(#gG)" opacity="0.000"/>
<rect x="190.69" y="1549.3" width="1.11" height="438.8" fill="url(#gG)" opacity="0.735"/>
<rect x="191.70" y="1094.4" width="1.11" height="1375.6" fill="url(#gG)" opacity="0.231"/>
<rect x="191.70" y="1627.1" width="1.11" height="424.9" fill="url(#gG)" opacity="0.505"/>
<rect x="192.71" y="1112.6" width="1.11" height="1253.8" fill="url(#gG)" opacity="0.700"/>
<rect x="192.71" y="1587.6" width="1.11" height="418.5" fill="url(#gG)" opacity="0.000"/>
<rect x="193.72" y="1140.1" width="1.11" height="1129.3" fill="url(#gG)" opacity="0.171"/>
<rect x="193.72" y="1521.0" width="1.11" height="482.3" fill="url(#gG)" opacity="0.193"/>
<rect x="194.73" y="1021.9" width="1.11" height="1278.0" fill="url(#gG)" opacity="0.236"/>
<rect x="194.73" y="1438.7" width="1.11" height="558.9" fill="url(#gG)" opacity="0.000"/>
<rect x="195.74" y="1185.6" width="1.11" height="1082.8" fill="url(#gG)" opacity="0.410"/>
<rect x="195.74" y="1586.3" width="1.11" height="395.9" fill="url(#gG)" opacity="0.058"/>
<rect x="196.75" y="978.4" width="1.11" height="1464.9" fill="url(#gG)" opacity="0.229"/>
<rect x="196.75" y="1532.4" width="1.11" height="471.3" fill="url(#gG)" opacity="0.656"/>
<rect x="197.76" y="1181.1" width="1.11" height="1126.9" fill="url(#gG)" opacity="0.202"/>
<rect x="197.76" y="1570.1" width="1.11" height="463.4" fill="url(#gG)" opacity="0.668"/>
<rect x="198.77" y="1086.1" width="1.11" height="1286.0" fill="url(#gG)" opacity="0.024"/>
<rect x="198.77" y="1553.5" width="1.11" height="465.5" fill="url(#gG)" opacity="0.729"/>
<rect x="199.78" y="1125.9" width="1.11" height="1225.1" fill="url(#gG)" opacity="0.002"/>
<rect x="199.78" y="1598.7" width="1.11" height="393.8" fill="url(#gG)" opacity="0.735"/>
<rect x="200.79" y="1008.8" width="1.11" height="1486.6" fill="url(#gG)" opacity="0.096"/>
<rect x="200.79" y="1563.8" width="1.11" height="490.9" fill="url(#gG)" opacity="0.691"/>
<rect x="201.80" y="1099.5" width="1.11" height="1205.4" fill="url(#gG)" opacity="0.415"/>
<rect x="201.80" y="1536.8" width="1.11" height="445.0" fill="url(#gG)" opacity="0.548"/>
<rect x="202.81" y="1188.7" width="1.11" height="1080.9" fill="url(#gG)" opacity="0.266"/>
<rect x="202.81" y="1502.3" width="1.11" height="567.8" fill="url(#gG)" opacity="0.284"/>
<rect x="203.82" y="1197.0" width="1.11" height="1052.8" fill="url(#gG)" opacity="0.434"/>
<rect x="203.82" y="1492.7" width="1.11" height="575.4" fill="url(#gG)" opacity="0.000"/>
<rect x="204.83" y="1207.5" width="1.11" height="1017.7" fill="url(#gG)" opacity="0.318"/>
<rect x="204.83" y="1569.1" width="1.11" height="408.3" fill="url(#gG)" opacity="0.041"/>
<rect x="205.84" y="1051.7" width="1.11" height="1410.1" fill="url(#gG)" opacity="0.164"/>
<rect x="205.84" y="1615.0" width="1.11" height="397.3" fill="url(#gG)" opacity="0.591"/>
<rect x="206.85" y="1117.1" width="1.11" height="1237.2" fill="url(#gG)" opacity="0.332"/>
<rect x="206.85" y="1591.3" width="1.11" height="402.7" fill="url(#gG)" opacity="0.604"/>
<rect x="207.86" y="1234.7" width="1.11" height="1037.2" fill="url(#gG)" opacity="0.331"/>
<rect x="207.86" y="1583.0" width="1.11" height="454.3" fill="url(#gG)" opacity="0.604"/>
<rect x="208.87" y="1203.9" width="1.11" height="1063.8" fill="url(#gG)" opacity="0.521"/>
<rect x="208.87" y="1507.9" width="1.11" height="569.6" fill="url(#gG)" opacity="0.447"/>
<rect x="209.88" y="1203.6" width="1.11" height="1065.2" fill="url(#gG)" opacity="0.700"/>
<rect x="209.88" y="1569.5" width="1.11" height="446.8" fill="url(#gG)" opacity="0.117"/>
<rect x="210.89" y="1060.4" width="1.11" height="1318.5" fill="url(#gG)" opacity="0.493"/>
<rect x="210.89" y="1533.2" width="1.11" height="486.4" fill="url(#gG)" opacity="0.000"/>
<rect x="211.90" y="1023.4" width="1.11" height="1409.3" fill="url(#gG)" opacity="0.399"/>
<rect x="211.90" y="1523.0" width="1.11" height="523.6" fill="url(#gG)" opacity="0.164"/>
<rect x="212.91" y="972.5" width="1.11" height="1482.1" fill="url(#gG)" opacity="0.512"/>
<rect x="212.91" y="1503.3" width="1.11" height="534.0" fill="url(#gG)" opacity="0.000"/>
<rect x="213.92" y="1118.3" width="1.11" height="1195.6" fill="url(#gG)" opacity="0.166"/>
<rect x="213.92" y="1504.9" width="1.11" height="535.7" fill="url(#gG)" opacity="0.100"/>
<rect x="214.93" y="1159.0" width="1.11" height="1214.7" fill="url(#gG)" opacity="0.090"/>
<rect x="214.93" y="1545.2" width="1.11" height="555.3" fill="url(#gG)" opacity="0.460"/>
<rect x="215.94" y="974.4" width="1.11" height="1479.2" fill="url(#gG)" opacity="0.311"/>
<rect x="215.94" y="1553.5" width="1.11" height="433.9" fill="url(#gG)" opacity="0.288"/>
<rect x="216.95" y="1135.2" width="1.11" height="1250.0" fill="url(#gG)" opacity="0.001"/>
<rect x="216.95" y="1558.6" width="1.11" height="516.1" fill="url(#gG)" opacity="0.503"/>
<rect x="217.96" y="1212.2" width="1.11" height="994.3" fill="url(#gG)" opacity="0.000"/>
<rect x="217.96" y="1470.6" width="1.11" height="590.4" fill="url(#gG)" opacity="0.353"/>
<rect x="218.97" y="1036.6" width="1.11" height="1442.1" fill="url(#gG)" opacity="0.000"/>
<rect x="218.97" y="1543.5" width="1.11" height="541.2" fill="url(#gG)" opacity="0.509"/>
<rect x="219.98" y="1205.2" width="1.11" height="1080.8" fill="url(#gG)" opacity="0.071"/>
<rect x="219.98" y="1512.8" width="1.11" height="578.4" fill="url(#gG)" opacity="0.235"/>
<rect x="220.99" y="1109.8" width="1.11" height="1155.0" fill="url(#gG)" opacity="0.141"/>
<rect x="220.99" y="1514.0" width="1.11" height="459.2" fill="url(#gG)" opacity="0.086"/>
<rect x="222.00" y="1114.2" width="1.11" height="1116.7" fill="url(#gG)" opacity="0.104"/>
<rect x="222.00" y="1520.5" width="1.11" height="416.6" fill="url(#gG)" opacity="0.366"/>
<rect x="223.01" y="1139.6" width="1.11" height="1120.0" fill="url(#gG)" opacity="0.099"/>
<rect x="223.01" y="1485.4" width="1.11" height="541.1" fill="url(#gG)" opacity="0.234"/>
<rect x="224.02" y="1198.6" width="1.11" height="1064.7" fill="url(#gG)" opacity="0.000"/>
<rect x="224.02" y="1568.9" width="1.11" height="436.7" fill="url(#gG)" opacity="0.243"/>
<rect x="225.03" y="999.2" width="1.11" height="1416.4" fill="url(#gG)" opacity="0.024"/>
<rect x="225.03" y="1502.5" width="1.11" height="522.1" fill="url(#gG)" opacity="0.371"/>
<rect x="226.04" y="1063.2" width="1.11" height="1354.4" fill="url(#gG)" opacity="0.000"/>
<rect x="226.04" y="1590.1" width="1.11" height="412.9" fill="url(#gG)" opacity="0.490"/>
<rect x="227.05" y="1195.9" width="1.11" height="1114.6" fill="url(#gG)" opacity="0.222"/>
<rect x="227.05" y="1560.0" width="1.11" height="498.6" fill="url(#gG)" opacity="0.369"/>
<rect x="228.06" y="1122.1" width="1.11" height="1213.7" fill="url(#gG)" opacity="0.148"/>
<rect x="228.06" y="1522.1" width="1.11" height="526.0" fill="url(#gG)" opacity="0.233"/>
<rect x="229.07" y="1113.3" width="1.11" height="1295.0" fill="url(#gG)" opacity="0.278"/>
<rect x="229.07" y="1599.3" width="1.11" height="435.2" fill="url(#gG)" opacity="0.557"/>
<rect x="230.08" y="1043.1" width="1.11" height="1374.3" fill="url(#gG)" opacity="0.289"/>
<rect x="230.08" y="1551.0" width="1.11" height="470.5" fill="url(#gG)" opacity="0.136"/>
<rect x="231.09" y="1195.8" width="1.11" height="1077.2" fill="url(#gG)" opacity="0.154"/>
<rect x="231.09" y="1494.8" width="1.11" height="591.2" fill="url(#gG)" opacity="0.168"/>
<rect x="232.10" y="1161.2" width="1.11" height="1147.0" fill="url(#gG)" opacity="0.048"/>
<rect x="232.10" y="1578.0" width="1.11" height="425.5" fill="url(#gG)" opacity="0.064"/>
<rect x="233.11" y="1241.1" width="1.11" height="1064.3" fill="url(#gG)" opacity="0.000"/>
<rect x="233.11" y="1632.3" width="1.11" height="393.7" fill="url(#gG)" opacity="0.214"/>
<rect x="234.12" y="1242.2" width="1.11" height="1001.9" fill="url(#gG)" opacity="0.155"/>
<rect x="234.12" y="1566.1" width="1.11" height="466.0" fill="url(#gG)" opacity="0.061"/>
<rect x="235.13" y="1103.0" width="1.11" height="1272.9" fill="url(#gG)" opacity="0.268"/>
<rect x="235.13" y="1527.0" width="1.11" height="536.6" fill="url(#gG)" opacity="0.000"/>
<rect x="236.14" y="1181.4" width="1.11" height="1136.0" fill="url(#gG)" opacity="0.007"/>
<rect x="236.14" y="1571.3" width="1.11" height="468.0" fill="url(#gG)" opacity="0.201"/>
<rect x="237.15" y="996.2" width="1.11" height="1448.1" fill="url(#gG)" opacity="0.006"/>
<rect x="237.15" y="1580.0" width="1.11" height="392.0" fill="url(#gG)" opacity="0.136"/>
<rect x="238.16" y="1017.9" width="1.11" height="1454.7" fill="url(#gG)" opacity="0.098"/>
<rect x="238.16" y="1597.2" width="1.11" height="407.6" fill="url(#gG)" opacity="0.064"/>
<rect x="239.17" y="1014.7" width="1.11" height="1428.4" fill="url(#gG)" opacity="0.109"/>
<rect x="239.17" y="1533.1" width="1.11" height="503.0" fill="url(#gG)" opacity="0.080"/>
<rect x="240.18" y="1003.7" width="1.11" height="1439.9" fill="url(#gG)" opacity="0.326"/>
<rect x="240.18" y="1500.3" width="1.11" height="558.2" fill="url(#gG)" opacity="0.228"/>
<rect x="241.19" y="1233.9" width="1.11" height="982.9" fill="url(#gG)" opacity="0.231"/>
<rect x="241.19" y="1580.4" width="1.11" height="401.2" fill="url(#gG)" opacity="0.157"/>
<rect x="242.20" y="1150.4" width="1.11" height="1158.3" fill="url(#gG)" opacity="0.506"/>
<rect x="242.20" y="1581.8" width="1.11" height="406.6" fill="url(#gG)" opacity="0.000"/>
<rect x="243.21" y="1046.0" width="1.11" height="1420.9" fill="url(#gG)" opacity="0.110"/>
<rect x="243.21" y="1572.4" width="1.11" height="479.3" fill="url(#gG)" opacity="0.735"/>
<rect x="244.22" y="934.3" width="1.11" height="1484.1" fill="url(#gG)" opacity="0.219"/>
<rect x="244.22" y="1518.7" width="1.11" height="426.5" fill="url(#gG)" opacity="0.003"/>
<rect x="245.23" y="1038.9" width="1.11" height="1368.8" fill="url(#gG)" opacity="0.090"/>
<rect x="245.23" y="1581.5" width="1.11" height="394.6" fill="url(#gG)" opacity="0.513"/>
<rect x="246.24" y="1193.3" width="1.11" height="1040.1" fill="url(#gG)" opacity="0.000"/>
<rect x="246.24" y="1543.2" width="1.11" height="451.3" fill="url(#gG)" opacity="0.286"/>
<rect x="247.25" y="1039.8" width="1.11" height="1405.2" fill="url(#gG)" opacity="0.000"/>
<rect x="247.25" y="1533.2" width="1.11" height="529.2" fill="url(#gG)" opacity="0.265"/>
<rect x="248.26" y="1160.6" width="1.11" height="1142.3" fill="url(#gG)" opacity="0.000"/>
<rect x="248.26" y="1567.4" width="1.11" height="439.4" fill="url(#gG)" opacity="0.076"/>
<rect x="249.27" y="1213.4" width="1.11" height="1030.3" fill="url(#gG)" opacity="0.000"/>
<rect x="249.27" y="1584.4" width="1.11" height="399.0" fill="url(#gG)" opacity="0.272"/>
<rect x="250.28" y="972.1" width="1.11" height="1489.2" fill="url(#gG)" opacity="0.099"/>
<rect x="250.28" y="1566.9" width="1.11" height="410.3" fill="url(#gG)" opacity="0.204"/>
<rect x="251.29" y="947.7" width="1.11" height="1490.9" fill="url(#gG)" opacity="0.364"/>
<rect x="251.29" y="1557.2" width="1.11" height="382.6" fill="url(#gG)" opacity="0.302"/>
<rect x="252.30" y="1000.3" width="1.11" height="1447.3" fill="url(#gG)" opacity="0.280"/>
<rect x="252.30" y="1490.6" width="1.11" height="577.1" fill="url(#gG)" opacity="0.200"/>
<rect x="253.31" y="1178.9" width="1.11" height="1049.6" fill="url(#gG)" opacity="0.104"/>
<rect x="253.31" y="1533.5" width="1.11" height="450.9" fill="url(#gG)" opacity="0.186"/>
<rect x="254.32" y="1223.2" width="1.11" height="1039.3" fill="url(#gG)" opacity="0.000"/>
<rect x="254.32" y="1524.0" width="1.11" height="548.0" fill="url(#gG)" opacity="0.175"/>
<rect x="255.33" y="1144.6" width="1.11" height="1196.0" fill="url(#gG)" opacity="0.000"/>
<rect x="255.33" y="1500.1" width="1.11" height="595.2" fill="url(#gG)" opacity="0.486"/>
<rect x="256.34" y="1174.1" width="1.11" height="1081.5" fill="url(#gG)" opacity="0.067"/>
<rect x="256.34" y="1581.9" width="1.11" height="376.1" fill="url(#gG)" opacity="0.546"/>
<rect x="257.35" y="1087.7" width="1.11" height="1332.4" fill="url(#gG)" opacity="0.000"/>
<rect x="257.35" y="1516.3" width="1.11" height="585.2" fill="url(#gG)" opacity="0.469"/>
<rect x="258.36" y="1142.5" width="1.11" height="1162.4" fill="url(#gG)" opacity="0.000"/>
<rect x="258.36" y="1578.7" width="1.11" height="400.0" fill="url(#gG)" opacity="0.622"/>
<rect x="259.37" y="986.3" width="1.11" height="1448.2" fill="url(#gG)" opacity="0.000"/>
<rect x="259.37" y="1532.5" width="1.11" height="465.9" fill="url(#gG)" opacity="0.622"/>
<rect x="260.38" y="1037.4" width="1.11" height="1385.0" fill="url(#gG)" opacity="0.292"/>
<rect x="260.38" y="1501.4" width="1.11" height="567.1" fill="url(#gG)" opacity="0.321"/>
<rect x="261.39" y="1189.9" width="1.11" height="1134.5" fill="url(#gG)" opacity="0.191"/>
<rect x="261.39" y="1607.3" width="1.11" height="409.4" fill="url(#gG)" opacity="0.487"/>
<rect x="262.40" y="1047.6" width="1.11" height="1310.0" fill="url(#gG)" opacity="0.309"/>
<rect x="262.40" y="1527.3" width="1.11" height="460.5" fill="url(#gG)" opacity="0.058"/>
<rect x="263.41" y="1003.9" width="1.11" height="1438.5" fill="url(#gG)" opacity="0.114"/>
<rect x="263.41" y="1526.4" width="1.11" height="503.1" fill="url(#gG)" opacity="0.048"/>
<rect x="264.42" y="1201.8" width="1.11" height="1103.2" fill="url(#gG)" opacity="0.000"/>
<rect x="264.42" y="1508.3" width="1.11" height="599.8" fill="url(#gG)" opacity="0.097"/>
<rect x="265.43" y="1049.7" width="1.11" height="1295.4" fill="url(#gG)" opacity="0.000"/>
<rect x="265.43" y="1474.9" width="1.11" height="554.5" fill="url(#gG)" opacity="0.170"/>
<rect x="266.44" y="1281.6" width="1.11" height="965.9" fill="url(#gG)" opacity="0.092"/>
<rect x="266.44" y="1590.6" width="1.11" height="457.5" fill="url(#gG)" opacity="0.131"/>
<rect x="267.45" y="1037.0" width="1.11" height="1373.2" fill="url(#gG)" opacity="0.007"/>
<rect x="267.45" y="1518.4" width="1.11" height="519.8" fill="url(#gG)" opacity="0.180"/>
<rect x="268.46" y="1114.1" width="1.11" height="1209.3" fill="url(#gG)" opacity="0.040"/>
<rect x="268.46" y="1508.4" width="1.11" height="530.1" fill="url(#gG)" opacity="0.194"/>
<rect x="269.47" y="1102.5" width="1.11" height="1219.0" fill="url(#gG)" opacity="0.101"/>
<rect x="269.47" y="1515.0" width="1.11" height="503.3" fill="url(#gG)" opacity="0.677"/>
<rect x="270.48" y="1203.9" width="1.11" height="992.5" fill="url(#gG)" opacity="0.600"/>
<rect x="270.48" y="1514.8" width="1.11" height="480.0" fill="url(#gG)" opacity="0.657"/>
<rect x="271.49" y="1182.7" width="1.11" height="1127.0" fill="url(#gG)" opacity="0.692"/>
<rect x="271.49" y="1553.4" width="1.11" height="494.9" fill="url(#gG)" opacity="0.251"/>
<rect x="272.50" y="1029.0" width="1.11" height="1486.3" fill="url(#gG)" opacity="0.000"/>
<rect x="272.50" y="1603.8" width="1.11" height="445.7" fill="url(#gG)" opacity="0.458"/>
<rect x="273.51" y="1127.1" width="1.11" height="1174.9" fill="url(#gG)" opacity="0.000"/>
<rect x="273.51" y="1535.2" width="1.11" height="467.5" fill="url(#gG)" opacity="0.775"/>
<rect x="274.52" y="1097.2" width="1.11" height="1262.8" fill="url(#gG)" opacity="0.076"/>
<rect x="274.52" y="1592.5" width="1.11" height="381.0" fill="url(#gG)" opacity="0.958"/>
<rect x="275.53" y="1261.6" width="1.11" height="1017.4" fill="url(#gG)" opacity="0.063"/>
<rect x="275.53" y="1617.4" width="1.11" height="414.6" fill="url(#gG)" opacity="0.959"/>
<rect x="276.54" y="1205.6" width="1.11" height="1107.5" fill="url(#gG)" opacity="0.165"/>
<rect x="276.54" y="1554.6" width="1.11" height="518.2" fill="url(#gG)" opacity="0.954"/>
<rect x="277.55" y="1183.8" width="1.11" height="1059.5" fill="url(#gG)" opacity="0.265"/>
<rect x="277.55" y="1553.2" width="1.11" height="429.4" fill="url(#gG)" opacity="0.947"/>
<rect x="278.56" y="1115.4" width="1.11" height="1145.5" fill="url(#gG)" opacity="0.444"/>
<rect x="278.56" y="1443.8" width="1.11" height="597.4" fill="url(#gG)" opacity="0.930"/>
<rect x="279.57" y="1228.9" width="1.11" height="1111.9" fill="url(#gG)" opacity="0.000"/>
<rect x="279.57" y="1644.3" width="1.11" height="389.6" fill="url(#gG)" opacity="0.787"/>
<rect x="280.58" y="1028.6" width="1.11" height="1377.0" fill="url(#gG)" opacity="0.000"/>
<rect x="280.58" y="1500.1" width="1.11" height="542.6" fill="url(#gG)" opacity="0.961"/>
<rect x="281.59" y="1033.9" width="1.11" height="1399.8" fill="url(#gG)" opacity="0.000"/>
<rect x="281.59" y="1495.8" width="1.11" height="584.4" fill="url(#gG)" opacity="0.520"/>
<rect x="282.60" y="1175.9" width="1.11" height="1141.2" fill="url(#gG)" opacity="0.086"/>
<rect x="282.60" y="1545.4" width="1.11" height="510.6" fill="url(#gG)" opacity="0.271"/>
<rect x="283.61" y="1253.1" width="1.11" height="980.6" fill="url(#gG)" opacity="0.090"/>
<rect x="283.61" y="1594.5" width="1.11" height="406.0" fill="url(#gG)" opacity="0.428"/>
<rect x="284.62" y="1151.7" width="1.11" height="1155.8" fill="url(#gG)" opacity="0.018"/>
<rect x="284.62" y="1564.9" width="1.11" height="437.6" fill="url(#gG)" opacity="0.533"/>
<rect x="285.63" y="1127.5" width="1.11" height="1238.9" fill="url(#gG)" opacity="0.048"/>
<rect x="285.63" y="1565.6" width="1.11" height="470.7" fill="url(#gG)" opacity="0.921"/>
<rect x="286.64" y="1173.8" width="1.11" height="1079.3" fill="url(#gG)" opacity="0.230"/>
<rect x="286.64" y="1514.1" width="1.11" height="506.8" fill="url(#gG)" opacity="0.434"/>
<rect x="287.65" y="1129.4" width="1.11" height="1186.4" fill="url(#gG)" opacity="0.178"/>
<rect x="287.65" y="1478.6" width="1.11" height="595.9" fill="url(#gG)" opacity="0.561"/>
<rect x="288.66" y="991.5" width="1.11" height="1480.4" fill="url(#gG)" opacity="0.000"/>
<rect x="288.66" y="1586.8" width="1.11" height="397.7" fill="url(#gG)" opacity="0.616"/>
<rect x="289.67" y="1071.1" width="1.11" height="1365.9" fill="url(#gG)" opacity="0.063"/>
<rect x="289.67" y="1566.5" width="1.11" height="483.1" fill="url(#gG)" opacity="0.727"/>
<rect x="290.68" y="1155.3" width="1.11" height="1169.7" fill="url(#gG)" opacity="0.333"/>
<rect x="290.68" y="1548.9" width="1.11" height="490.4" fill="url(#gG)" opacity="0.895"/>
<rect x="291.69" y="1144.7" width="1.11" height="1212.1" fill="url(#gG)" opacity="0.092"/>
<rect x="291.69" y="1547.1" width="1.11" height="515.0" fill="url(#gG)" opacity="0.967"/>
<rect x="292.70" y="1012.2" width="1.11" height="1407.9" fill="url(#gG)" opacity="0.131"/>
<rect x="292.70" y="1527.7" width="1.11" height="484.6" fill="url(#gG)" opacity="0.965"/>
<rect x="293.71" y="1013.8" width="1.11" height="1421.6" fill="url(#gG)" opacity="0.000"/>
<rect x="293.71" y="1548.7" width="1.11" height="459.4" fill="url(#gG)" opacity="0.970"/>
<rect x="294.72" y="998.3" width="1.11" height="1372.2" fill="url(#gG)" opacity="0.369"/>
<rect x="294.72" y="1491.1" width="1.11" height="494.3" fill="url(#gG)" opacity="0.859"/>
<rect x="295.73" y="1118.7" width="1.11" height="1227.8" fill="url(#gG)" opacity="0.001"/>
<rect x="295.73" y="1535.0" width="1.11" height="502.6" fill="url(#gG)" opacity="0.423"/>
<rect x="296.74" y="1164.0" width="1.11" height="1073.0" fill="url(#gG)" opacity="0.000"/>
<rect x="296.74" y="1520.9" width="1.11" height="466.6" fill="url(#gG)" opacity="0.108"/>
<rect x="297.75" y="1264.3" width="1.11" height="973.9" fill="url(#gG)" opacity="0.037"/>
<rect x="297.75" y="1584.2" width="1.11" height="441.3" fill="url(#gG)" opacity="0.525"/>
<rect x="298.76" y="956.0" width="1.11" height="1473.9" fill="url(#gG)" opacity="0.090"/>
<rect x="298.76" y="1486.9" width="1.11" height="519.4" fill="url(#gG)" opacity="0.216"/>
<rect x="299.77" y="1050.5" width="1.11" height="1305.5" fill="url(#gG)" opacity="0.172"/>
<rect x="299.77" y="1462.6" width="1.11" height="588.5" fill="url(#gG)" opacity="0.180"/>
<rect x="300.78" y="1107.8" width="1.11" height="1258.1" fill="url(#gG)" opacity="0.000"/>
<rect x="300.78" y="1531.7" width="1.11" height="517.3" fill="url(#gG)" opacity="0.611"/>
<rect x="301.79" y="1047.5" width="1.11" height="1339.2" fill="url(#gG)" opacity="0.073"/>
<rect x="301.79" y="1516.2" width="1.11" height="508.7" fill="url(#gG)" opacity="0.498"/>
<rect x="302.80" y="1015.5" width="1.11" height="1450.1" fill="url(#gG)" opacity="0.000"/>
<rect x="302.80" y="1518.6" width="1.11" height="550.8" fill="url(#gG)" opacity="0.423"/>
<rect x="303.81" y="1196.7" width="1.11" height="1026.7" fill="url(#gG)" opacity="0.021"/>
<rect x="303.81" y="1522.7" width="1.11" height="481.4" fill="url(#gG)" opacity="0.327"/>
<rect x="304.82" y="1154.7" width="1.11" height="1033.6" fill="url(#gG)" opacity="0.105"/>
<rect x="304.82" y="1494.3" width="1.11" height="461.1" fill="url(#gG)" opacity="0.473"/>
<rect x="305.83" y="1170.5" width="1.11" height="1106.9" fill="url(#gG)" opacity="0.000"/>
<rect x="305.83" y="1526.0" width="1.11" height="502.4" fill="url(#gG)" opacity="0.905"/>
<rect x="306.84" y="1179.6" width="1.11" height="1081.8" fill="url(#gG)" opacity="0.000"/>
<rect x="306.84" y="1524.6" width="1.11" height="498.4" fill="url(#gG)" opacity="0.422"/>
<rect x="307.85" y="1083.2" width="1.11" height="1379.6" fill="url(#gG)" opacity="0.077"/>
<rect x="307.85" y="1630.5" width="1.11" height="391.6" fill="url(#gG)" opacity="0.458"/>
<rect x="308.86" y="1126.2" width="1.11" height="1185.6" fill="url(#gG)" opacity="0.044"/>
<rect x="308.86" y="1492.2" width="1.11" height="560.2" fill="url(#gG)" opacity="0.822"/>
<rect x="309.87" y="1087.4" width="1.11" height="1248.8" fill="url(#gG)" opacity="0.000"/>
<rect x="309.87" y="1496.7" width="1.11" height="536.5" fill="url(#gG)" opacity="0.826"/>
<rect x="310.88" y="1134.5" width="1.11" height="1143.3" fill="url(#gG)" opacity="0.292"/>
<rect x="310.88" y="1547.0" width="1.11" height="424.6" fill="url(#gG)" opacity="0.459"/>
<rect x="311.89" y="1006.9" width="1.11" height="1390.0" fill="url(#gG)" opacity="0.536"/>
<rect x="311.89" y="1522.6" width="1.11" height="464.9" fill="url(#gG)" opacity="0.276"/>
<rect x="312.90" y="1116.7" width="1.11" height="1171.9" fill="url(#gG)" opacity="0.295"/>
<rect x="312.90" y="1537.7" width="1.11" height="436.1" fill="url(#gG)" opacity="0.686"/>
<rect x="313.91" y="1154.1" width="1.11" height="1194.9" fill="url(#gG)" opacity="0.580"/>
<rect x="313.91" y="1531.9" width="1.11" height="545.4" fill="url(#gG)" opacity="0.774"/>
<rect x="314.92" y="1104.2" width="1.11" height="1261.6" fill="url(#gG)" opacity="0.383"/>
<rect x="314.92" y="1506.1" width="1.11" height="563.8" fill="url(#gG)" opacity="0.114"/>
<rect x="315.93" y="1224.6" width="1.11" height="960.2" fill="url(#gG)" opacity="0.101"/>
<rect x="315.93" y="1555.8" width="1.11" height="403.7" fill="url(#gG)" opacity="0.296"/>
<rect x="316.94" y="988.7" width="1.11" height="1470.6" fill="url(#gG)" opacity="0.021"/>
<rect x="316.94" y="1541.2" width="1.11" height="471.5" fill="url(#gG)" opacity="0.590"/>
<rect x="317.95" y="1117.5" width="1.11" height="1336.3" fill="url(#gG)" opacity="0.263"/>
<rect x="317.95" y="1603.1" width="1.11" height="470.9" fill="url(#gG)" opacity="0.663"/>
<rect x="318.96" y="1191.7" width="1.11" height="1016.7" fill="url(#gG)" opacity="0.152"/>
<rect x="318.96" y="1466.8" width="1.11" height="572.2" fill="url(#gG)" opacity="0.744"/>
<rect x="319.97" y="1012.6" width="1.11" height="1391.3" fill="url(#gG)" opacity="0.000"/>
<rect x="319.97" y="1501.6" width="1.11" height="519.1" fill="url(#gG)" opacity="0.839"/>
<rect x="320.98" y="1031.0" width="1.11" height="1426.5" fill="url(#gG)" opacity="0.065"/>
<rect x="320.98" y="1584.3" width="1.11" height="425.6" fill="url(#gG)" opacity="0.898"/>
<rect x="321.99" y="1202.1" width="1.11" height="1088.2" fill="url(#gG)" opacity="0.176"/>
<rect x="321.99" y="1575.3" width="1.11" height="447.5" fill="url(#gG)" opacity="0.884"/>
<rect x="323.00" y="1100.0" width="1.11" height="1208.6" fill="url(#gG)" opacity="0.073"/>
<rect x="323.00" y="1481.8" width="1.11" height="550.5" fill="url(#gG)" opacity="0.897"/>
<rect x="324.01" y="1230.4" width="1.11" height="1043.9" fill="url(#gG)" opacity="0.160"/>
<rect x="324.01" y="1605.0" width="1.11" height="400.2" fill="url(#gG)" opacity="0.887"/>
<rect x="325.02" y="1151.0" width="1.11" height="1040.8" fill="url(#gG)" opacity="0.449"/>
<rect x="325.02" y="1530.6" width="1.11" height="387.0" fill="url(#gG)" opacity="0.239"/>
<rect x="326.03" y="1093.3" width="1.11" height="1260.9" fill="url(#gG)" opacity="0.239"/>
<rect x="326.03" y="1520.7" width="1.11" height="511.3" fill="url(#gG)" opacity="0.066"/>
<rect x="327.04" y="1008.1" width="1.11" height="1432.6" fill="url(#gG)" opacity="0.472"/>
<rect x="327.04" y="1540.5" width="1.11" height="473.0" fill="url(#gG)" opacity="0.136"/>
<rect x="328.05" y="1089.6" width="1.11" height="1288.8" fill="url(#gG)" opacity="0.279"/>
<rect x="328.05" y="1543.1" width="1.11" height="486.8" fill="url(#gG)" opacity="0.448"/>
<rect x="329.06" y="1057.6" width="1.11" height="1340.1" fill="url(#gG)" opacity="0.362"/>
<rect x="329.06" y="1492.6" width="1.11" height="575.0" fill="url(#gG)" opacity="0.299"/>
<rect x="330.07" y="996.1" width="1.11" height="1441.3" fill="url(#gG)" opacity="0.179"/>
<rect x="330.07" y="1506.2" width="1.11" height="526.0" fill="url(#gG)" opacity="0.189"/>
<rect x="331.08" y="1161.3" width="1.11" height="1154.6" fill="url(#gG)" opacity="0.125"/>
<rect x="331.08" y="1559.6" width="1.11" height="463.0" fill="url(#gG)" opacity="0.697"/>
<rect x="332.09" y="1175.8" width="1.11" height="1077.2" fill="url(#gG)" opacity="0.000"/>
<rect x="332.09" y="1562.1" width="1.11" height="409.3" fill="url(#gG)" opacity="0.735"/>
<rect x="333.10" y="1032.4" width="1.11" height="1366.8" fill="url(#gG)" opacity="0.036"/>
<rect x="333.10" y="1517.1" width="1.11" height="502.1" fill="url(#gG)" opacity="0.725"/>
<rect x="334.11" y="994.9" width="1.11" height="1446.4" fill="url(#gG)" opacity="0.000"/>
<rect x="334.11" y="1538.6" width="1.11" height="463.7" fill="url(#gG)" opacity="0.437"/>
<rect x="335.12" y="1137.5" width="1.11" height="1233.9" fill="url(#gG)" opacity="0.000"/>
<rect x="335.12" y="1593.1" width="1.11" height="427.4" fill="url(#gG)" opacity="0.567"/>
<rect x="336.13" y="1169.8" width="1.11" height="1140.2" fill="url(#gG)" opacity="0.000"/>
<rect x="336.13" y="1563.6" width="1.11" height="457.2" fill="url(#gG)" opacity="0.664"/>
<rect x="337.14" y="1196.4" width="1.11" height="1069.8" fill="url(#gG)" opacity="0.000"/>
<rect x="337.14" y="1551.8" width="1.11" height="463.5" fill="url(#gG)" opacity="0.735"/>
<rect x="338.15" y="1113.5" width="1.11" height="1216.1" fill="url(#gG)" opacity="0.145"/>
<rect x="338.15" y="1584.4" width="1.11" height="378.7" fill="url(#gG)" opacity="0.690"/>
<rect x="339.16" y="1193.5" width="1.11" height="1115.5" fill="url(#gG)" opacity="0.000"/>
<rect x="339.16" y="1584.1" width="1.11" height="438.7" fill="url(#gG)" opacity="0.735"/>
<rect x="340.17" y="1013.7" width="1.11" height="1441.7" fill="url(#gG)" opacity="0.010"/>
<rect x="340.17" y="1591.8" width="1.11" height="389.6" fill="url(#gG)" opacity="0.438"/>
<rect x="341.18" y="1286.8" width="1.11" height="989.0" fill="url(#gG)" opacity="0.096"/>
<rect x="341.18" y="1631.5" width="1.11" height="403.7" fill="url(#gG)" opacity="0.407"/>
<rect x="342.19" y="1060.7" width="1.11" height="1357.0" fill="url(#gG)" opacity="0.254"/>
<rect x="342.19" y="1571.7" width="1.11" height="438.9" fill="url(#gG)" opacity="0.372"/>
<rect x="343.20" y="1131.3" width="1.11" height="1202.9" fill="url(#gG)" opacity="0.264"/>
<rect x="343.20" y="1543.4" width="1.11" height="482.7" fill="url(#gG)" opacity="0.361"/>
<rect x="344.21" y="1210.3" width="1.11" height="1030.9" fill="url(#gG)" opacity="0.231"/>
<rect x="344.21" y="1548.7" width="1.11" height="458.0" fill="url(#gG)" opacity="0.339"/>
<rect x="345.22" y="1207.7" width="1.11" height="1016.4" fill="url(#gG)" opacity="0.246"/>
<rect x="345.22" y="1503.2" width="1.11" height="529.2" fill="url(#gG)" opacity="0.293"/>
<rect x="346.23" y="1206.8" width="1.11" height="1091.9" fill="url(#gG)" opacity="0.630"/>
<rect x="346.23" y="1583.7" width="1.11" height="441.7" fill="url(#gG)" opacity="0.285"/>
<rect x="347.24" y="1138.4" width="1.11" height="1221.7" fill="url(#gG)" opacity="0.016"/>
<rect x="347.24" y="1593.8" width="1.11" height="414.8" fill="url(#gG)" opacity="0.579"/>
<rect x="348.25" y="1071.1" width="1.11" height="1418.3" fill="url(#gG)" opacity="0.000"/>
<rect x="348.25" y="1544.5" width="1.11" height="575.2" fill="url(#gG)" opacity="0.610"/>
<rect x="349.26" y="1047.0" width="1.11" height="1420.1" fill="url(#gG)" opacity="0.000"/>
<rect x="349.26" y="1580.0" width="1.11" height="457.6" fill="url(#gG)" opacity="0.622"/>
<rect x="350.27" y="979.3" width="1.11" height="1426.9" fill="url(#gG)" opacity="0.037"/>
<rect x="350.27" y="1555.3" width="1.11" height="378.5" fill="url(#gG)" opacity="0.491"/>
<rect x="351.28" y="1041.0" width="1.11" height="1462.0" fill="url(#gG)" opacity="0.237"/>
<rect x="351.28" y="1589.9" width="1.11" height="467.7" fill="url(#gG)" opacity="0.368"/>
<rect x="352.29" y="1027.4" width="1.11" height="1451.3" fill="url(#gG)" opacity="0.141"/>
<rect x="352.29" y="1549.0" width="1.11" height="511.5" fill="url(#gG)" opacity="0.000"/>
<rect x="353.30" y="1075.9" width="1.11" height="1251.6" fill="url(#gG)" opacity="0.352"/>
<rect x="353.30" y="1482.2" width="1.11" height="542.5" fill="url(#gG)" opacity="0.000"/>
<rect x="354.31" y="1094.6" width="1.11" height="1210.8" fill="url(#gG)" opacity="0.000"/>
<rect x="354.31" y="1481.1" width="1.11" height="541.0" fill="url(#gG)" opacity="0.516"/>
<rect x="355.32" y="1090.4" width="1.11" height="1331.7" fill="url(#gG)" opacity="0.000"/>
<rect x="355.32" y="1572.0" width="1.11" height="471.7" fill="url(#gG)" opacity="0.393"/>
<rect x="356.33" y="1235.0" width="1.11" height="1033.8" fill="url(#gG)" opacity="0.063"/>
<rect x="356.33" y="1611.3" width="1.11" height="384.3" fill="url(#gG)" opacity="0.034"/>
<rect x="357.34" y="1091.9" width="1.11" height="1256.9" fill="url(#gG)" opacity="0.016"/>
<rect x="357.34" y="1524.2" width="1.11" height="495.3" fill="url(#gG)" opacity="0.439"/>
<rect x="358.35" y="1145.7" width="1.11" height="1159.8" fill="url(#gG)" opacity="0.172"/>
<rect x="358.35" y="1580.9" width="1.11" height="392.4" fill="url(#gG)" opacity="0.092"/>
<rect x="359.36" y="1196.3" width="1.11" height="960.4" fill="url(#gG)" opacity="0.041"/>
<rect x="359.36" y="1516.7" width="1.11" height="422.4" fill="url(#gG)" opacity="0.569"/>
<rect x="360.37" y="1164.5" width="1.11" height="1072.5" fill="url(#gG)" opacity="0.002"/>
<rect x="360.37" y="1558.7" width="1.11" height="386.8" fill="url(#gG)" opacity="0.526"/>
<rect x="361.38" y="1117.8" width="1.11" height="1295.8" fill="url(#gG)" opacity="0.186"/>
<rect x="361.38" y="1623.5" width="1.11" height="387.1" fill="url(#gG)" opacity="0.125"/>
<rect x="362.39" y="1254.9" width="1.11" height="989.7" fill="url(#gG)" opacity="0.287"/>
<rect x="362.39" y="1550.0" width="1.11" height="502.2" fill="url(#gG)" opacity="0.000"/>
<rect x="363.40" y="1107.1" width="1.11" height="1331.9" fill="url(#gG)" opacity="0.118"/>
<rect x="363.40" y="1606.4" width="1.11" height="435.9" fill="url(#gG)" opacity="0.572"/>
<rect x="364.41" y="1226.2" width="1.11" height="1026.8" fill="url(#gG)" opacity="0.449"/>
<rect x="364.41" y="1532.4" width="1.11" height="516.9" fill="url(#gG)" opacity="0.248"/>
<rect x="365.42" y="1210.6" width="1.11" height="998.5" fill="url(#gG)" opacity="0.130"/>
<rect x="365.42" y="1499.5" width="1.11" height="523.1" fill="url(#gG)" opacity="0.825"/>
<rect x="366.43" y="1008.6" width="1.11" height="1431.9" fill="url(#gG)" opacity="0.167"/>
<rect x="366.43" y="1579.1" width="1.11" height="393.3" fill="url(#gG)" opacity="0.829"/>
<rect x="367.44" y="1199.6" width="1.11" height="1117.7" fill="url(#gG)" opacity="0.000"/>
<rect x="367.44" y="1570.7" width="1.11" height="477.9" fill="url(#gG)" opacity="0.773"/>
<rect x="368.45" y="1239.6" width="1.11" height="1043.9" fill="url(#gG)" opacity="0.034"/>
<rect x="368.45" y="1599.4" width="1.11" height="426.5" fill="url(#gG)" opacity="0.589"/>
<rect x="369.46" y="1064.5" width="1.11" height="1413.0" fill="url(#gG)" opacity="0.385"/>
<rect x="369.46" y="1630.9" width="1.11" height="382.5" fill="url(#gG)" opacity="0.775"/>
<rect x="370.47" y="1151.4" width="1.11" height="1186.3" fill="url(#gG)" opacity="0.346"/>
<rect x="370.47" y="1509.9" width="1.11" height="571.4" fill="url(#gG)" opacity="0.954"/>
<rect x="371.48" y="1030.1" width="1.11" height="1459.5" fill="url(#gG)" opacity="0.046"/>
<rect x="371.48" y="1583.4" width="1.11" height="454.8" fill="url(#gG)" opacity="0.969"/>
<rect x="372.49" y="1052.5" width="1.11" height="1370.6" fill="url(#gG)" opacity="0.278"/>
<rect x="372.49" y="1564.7" width="1.11" height="448.0" fill="url(#gG)" opacity="0.958"/>
<rect x="373.50" y="1108.6" width="1.11" height="1200.7" fill="url(#gG)" opacity="0.204"/>
<rect x="373.50" y="1547.9" width="1.11" height="424.1" fill="url(#gG)" opacity="0.962"/>
<rect x="374.51" y="1243.8" width="1.11" height="992.9" fill="url(#gG)" opacity="0.005"/>
<rect x="374.51" y="1585.1" width="1.11" height="412.2" fill="url(#gG)" opacity="0.657"/>
<rect x="375.52" y="1215.5" width="1.11" height="1023.0" fill="url(#gG)" opacity="0.000"/>
<rect x="375.52" y="1571.7" width="1.11" height="412.5" fill="url(#gG)" opacity="0.911"/>
<rect x="376.53" y="1099.3" width="1.11" height="1221.1" fill="url(#gG)" opacity="0.066"/>
<rect x="376.53" y="1506.7" width="1.11" height="507.9" fill="url(#gG)" opacity="0.968"/>
<rect x="377.54" y="1278.4" width="1.11" height="963.6" fill="url(#gG)" opacity="0.000"/>
<rect x="377.54" y="1536.0" width="1.11" height="549.9" fill="url(#gG)" opacity="0.449"/>
<rect x="378.55" y="1187.1" width="1.11" height="1024.3" fill="url(#gG)" opacity="0.000"/>
<rect x="378.55" y="1495.5" width="1.11" height="509.1" fill="url(#gG)" opacity="0.282"/>
<rect x="379.56" y="1061.8" width="1.11" height="1397.1" fill="url(#gG)" opacity="0.196"/>
<rect x="379.56" y="1545.6" width="1.11" height="531.1" fill="url(#gG)" opacity="0.323"/>
<rect x="380.57" y="1125.0" width="1.11" height="1264.9" fill="url(#gG)" opacity="0.310"/>
<rect x="380.57" y="1603.8" width="1.11" height="408.7" fill="url(#gG)" opacity="0.013"/>
<rect x="381.58" y="1017.6" width="1.11" height="1449.9" fill="url(#gG)" opacity="0.477"/>
<rect x="381.58" y="1507.6" width="1.11" height="571.1" fill="url(#gG)" opacity="0.000"/>
<rect x="382.59" y="1114.5" width="1.11" height="1258.4" fill="url(#gG)" opacity="0.121"/>
<rect x="382.59" y="1549.0" width="1.11" height="490.5" fill="url(#gG)" opacity="0.293"/>
<rect x="383.60" y="1038.3" width="1.11" height="1367.4" fill="url(#gG)" opacity="0.196"/>
<rect x="383.60" y="1488.8" width="1.11" height="567.5" fill="url(#gG)" opacity="0.084"/>
<rect x="384.61" y="1085.9" width="1.11" height="1330.0" fill="url(#gG)" opacity="0.694"/>
<rect x="384.61" y="1585.0" width="1.11" height="432.9" fill="url(#gG)" opacity="0.000"/>
<rect x="385.62" y="1088.5" width="1.11" height="1350.7" fill="url(#gG)" opacity="0.256"/>
<rect x="385.62" y="1623.8" width="1.11" height="381.3" fill="url(#gG)" opacity="0.091"/>
<rect x="386.63" y="1229.0" width="1.11" height="1026.7" fill="url(#gG)" opacity="0.045"/>
<rect x="386.63" y="1504.8" width="1.11" height="576.2" fill="url(#gG)" opacity="0.346"/>
<rect x="387.64" y="1273.0" width="1.11" height="964.0" fill="url(#gG)" opacity="0.213"/>
<rect x="387.64" y="1575.3" width="1.11" height="460.2" fill="url(#gG)" opacity="0.243"/>
<rect x="388.65" y="1204.9" width="1.11" height="1064.5" fill="url(#gG)" opacity="0.281"/>
<rect x="388.65" y="1532.6" width="1.11" height="509.9" fill="url(#gG)" opacity="0.038"/>
<rect x="389.66" y="1238.0" width="1.11" height="985.4" fill="url(#gG)" opacity="0.000"/>
<rect x="389.66" y="1518.2" width="1.11" height="525.7" fill="url(#gG)" opacity="0.240"/>
<rect x="390.67" y="1124.7" width="1.11" height="1284.4" fill="url(#gG)" opacity="0.101"/>
<rect x="390.67" y="1551.7" width="1.11" height="531.1" fill="url(#gG)" opacity="0.151"/>
<rect x="391.68" y="1182.9" width="1.11" height="1067.3" fill="url(#gG)" opacity="0.294"/>
<rect x="391.68" y="1473.8" width="1.11" height="586.1" fill="url(#gG)" opacity="0.176"/>
<rect x="392.69" y="1136.5" width="1.11" height="1164.6" fill="url(#gG)" opacity="0.000"/>
<rect x="392.69" y="1474.0" width="1.11" height="590.1" fill="url(#gG)" opacity="0.258"/>
<rect x="393.70" y="997.3" width="1.11" height="1476.6" fill="url(#gG)" opacity="0.000"/>
<rect x="393.70" y="1594.9" width="1.11" height="381.8" fill="url(#gG)" opacity="0.570"/>
<rect x="394.71" y="1099.4" width="1.11" height="1336.4" fill="url(#gG)" opacity="0.000"/>
<rect x="394.71" y="1593.2" width="1.11" height="449.1" fill="url(#gG)" opacity="0.355"/>
<rect x="395.72" y="1171.8" width="1.11" height="1109.7" fill="url(#gG)" opacity="0.000"/>
<rect x="395.72" y="1494.5" width="1.11" height="564.5" fill="url(#gG)" opacity="0.622"/>
<rect x="396.73" y="1079.7" width="1.11" height="1272.5" fill="url(#gG)" opacity="0.046"/>
<rect x="396.73" y="1530.5" width="1.11" height="471.0" fill="url(#gG)" opacity="0.511"/>
<rect x="397.74" y="1062.2" width="1.11" height="1364.2" fill="url(#gG)" opacity="0.178"/>
<rect x="397.74" y="1546.5" width="1.11" height="495.7" fill="url(#gG)" opacity="0.280"/>
<rect x="398.75" y="1177.3" width="1.11" height="1111.2" fill="url(#gG)" opacity="0.000"/>
<rect x="398.75" y="1511.3" width="1.11" height="543.3" fill="url(#gG)" opacity="0.274"/>
<rect x="399.76" y="1094.1" width="1.11" height="1174.1" fill="url(#gG)" opacity="0.359"/>
<rect x="399.76" y="1486.7" width="1.11" height="488.4" fill="url(#gG)" opacity="0.034"/>
<rect x="400.77" y="1146.6" width="1.11" height="1245.2" fill="url(#gG)" opacity="0.700"/>
<rect x="400.77" y="1604.6" width="1.11" height="427.0" fill="url(#gG)" opacity="0.000"/>
<rect x="401.78" y="1013.9" width="1.11" height="1410.4" fill="url(#gG)" opacity="0.474"/>
<rect x="401.78" y="1478.4" width="1.11" height="577.8" fill="url(#gG)" opacity="0.000"/>
<rect x="402.79" y="1043.4" width="1.11" height="1408.3" fill="url(#gG)" opacity="0.147"/>
<rect x="402.79" y="1587.0" width="1.11" height="415.9" fill="url(#gG)" opacity="0.218"/>
<rect x="403.80" y="1067.1" width="1.11" height="1348.6" fill="url(#gG)" opacity="0.031"/>
<rect x="403.80" y="1545.9" width="1.11" height="484.1" fill="url(#gG)" opacity="0.395"/>
<rect x="404.81" y="1211.5" width="1.11" height="1061.2" fill="url(#gG)" opacity="0.127"/>
<rect x="404.81" y="1532.6" width="1.11" height="510.4" fill="url(#gG)" opacity="0.331"/>
<rect x="405.82" y="1212.5" width="1.11" height="1108.7" fill="url(#gG)" opacity="0.129"/>
<rect x="405.82" y="1599.8" width="1.11" height="424.0" fill="url(#gG)" opacity="0.436"/>
<rect x="406.83" y="1090.3" width="1.11" height="1299.2" fill="url(#gG)" opacity="0.144"/>
<rect x="406.83" y="1514.0" width="1.11" height="540.1" fill="url(#gG)" opacity="0.000"/>
<rect x="407.84" y="1189.4" width="1.11" height="1088.0" fill="url(#gG)" opacity="0.011"/>
<rect x="407.84" y="1548.8" width="1.11" height="455.9" fill="url(#gG)" opacity="0.212"/>
<rect x="408.85" y="1071.8" width="1.11" height="1376.3" fill="url(#gG)" opacity="0.051"/>
<rect x="408.85" y="1524.8" width="1.11" height="555.5" fill="url(#gG)" opacity="0.168"/>
<rect x="409.86" y="991.3" width="1.11" height="1429.3" fill="url(#gG)" opacity="0.000"/>
<rect x="409.86" y="1458.4" width="1.11" height="578.6" fill="url(#gG)" opacity="0.354"/>
<rect x="410.87" y="992.9" width="1.11" height="1436.7" fill="url(#gG)" opacity="0.000"/>
<rect x="410.87" y="1564.9" width="1.11" height="374.4" fill="url(#gG)" opacity="0.509"/>
<rect x="411.88" y="1134.8" width="1.11" height="1221.4" fill="url(#gG)" opacity="0.000"/>
<rect x="411.88" y="1593.3" width="1.11" height="384.5" fill="url(#gG)" opacity="0.313"/>
<rect x="412.89" y="1127.0" width="1.11" height="1315.2" fill="url(#gG)" opacity="0.000"/>
<rect x="412.89" y="1595.8" width="1.11" height="456.2" fill="url(#gG)" opacity="0.231"/>
<rect x="413.90" y="994.5" width="1.11" height="1484.5" fill="url(#gG)" opacity="0.049"/>
<rect x="413.90" y="1528.7" width="1.11" height="493.1" fill="url(#gG)" opacity="0.235"/>
<rect x="414.91" y="1036.8" width="1.11" height="1442.6" fill="url(#gG)" opacity="0.000"/>
<rect x="414.91" y="1598.0" width="1.11" height="395.6" fill="url(#gG)" opacity="0.455"/>
<rect x="415.92" y="1129.5" width="1.11" height="1282.4" fill="url(#gG)" opacity="0.000"/>
<rect x="415.92" y="1585.7" width="1.11" height="443.7" fill="url(#gG)" opacity="0.509"/>
<rect x="416.93" y="1062.3" width="1.11" height="1314.7" fill="url(#gG)" opacity="0.022"/>
<rect x="416.93" y="1532.3" width="1.11" height="446.8" fill="url(#gG)" opacity="0.360"/>
<rect x="417.94" y="1151.3" width="1.11" height="1255.4" fill="url(#gG)" opacity="0.147"/>
<rect x="417.94" y="1562.6" width="1.11" height="503.4" fill="url(#gG)" opacity="0.409"/>
<rect x="418.95" y="1019.3" width="1.11" height="1381.3" fill="url(#gG)" opacity="0.039"/>
<rect x="418.95" y="1531.1" width="1.11" height="426.6" fill="url(#gG)" opacity="0.761"/>
<rect x="419.96" y="1101.7" width="1.11" height="1345.7" fill="url(#gG)" opacity="0.217"/>
<rect x="419.96" y="1536.1" width="1.11" height="544.0" fill="url(#gG)" opacity="0.878"/>
<rect x="420.97" y="1234.4" width="1.11" height="983.1" fill="url(#gG)" opacity="0.065"/>
<rect x="420.97" y="1516.2" width="1.11" height="485.1" fill="url(#gG)" opacity="0.845"/>
<rect x="421.98" y="1089.3" width="1.11" height="1275.0" fill="url(#gG)" opacity="0.021"/>
<rect x="421.98" y="1480.3" width="1.11" height="556.9" fill="url(#gG)" opacity="0.903"/>
<rect x="422.99" y="1005.6" width="1.11" height="1483.5" fill="url(#gG)" opacity="0.000"/>
<rect x="422.99" y="1500.4" width="1.11" height="556.3" fill="url(#gG)" opacity="0.807"/>
<rect x="424.00" y="1117.8" width="1.11" height="1279.2" fill="url(#gG)" opacity="0.000"/>
<rect x="424.00" y="1590.6" width="1.11" height="394.4" fill="url(#gG)" opacity="0.541"/>
<rect x="425.01" y="1120.0" width="1.11" height="1208.9" fill="url(#gG)" opacity="0.000"/>
<rect x="425.01" y="1534.9" width="1.11" height="438.2" fill="url(#gG)" opacity="0.394"/>
<rect x="426.02" y="1136.3" width="1.11" height="1282.5" fill="url(#gG)" opacity="0.000"/>
<rect x="426.02" y="1586.7" width="1.11" height="439.2" fill="url(#gG)" opacity="0.664"/>
<rect x="427.03" y="1186.8" width="1.11" height="1132.4" fill="url(#gG)" opacity="0.036"/>
<rect x="427.03" y="1525.4" width="1.11" height="511.2" fill="url(#gG)" opacity="0.491"/>
<rect x="428.04" y="1109.5" width="1.11" height="1258.8" fill="url(#gG)" opacity="0.459"/>
<rect x="428.04" y="1498.1" width="1.11" height="535.9" fill="url(#gG)" opacity="0.000"/>
<rect x="429.05" y="1264.3" width="1.11" height="976.5" fill="url(#gG)" opacity="0.000"/>
<rect x="429.05" y="1547.3" width="1.11" height="463.3" fill="url(#gG)" opacity="0.479"/>
<rect x="430.06" y="992.1" width="1.11" height="1485.6" fill="url(#gG)" opacity="0.000"/>
<rect x="430.06" y="1567.4" width="1.11" height="386.1" fill="url(#gG)" opacity="0.701"/>
<rect x="431.07" y="1298.6" width="1.11" height="1039.1" fill="url(#gG)" opacity="0.000"/>
<rect x="431.07" y="1639.0" width="1.11" height="407.9" fill="url(#gG)" opacity="0.855"/>
<rect x="432.08" y="1061.5" width="1.11" height="1467.5" fill="url(#gG)" opacity="0.086"/>
<rect x="432.08" y="1565.8" width="1.11" height="506.8" fill="url(#gG)" opacity="0.571"/>
<rect x="433.09" y="1102.3" width="1.11" height="1378.0" fill="url(#gG)" opacity="0.280"/>
<rect x="433.09" y="1586.8" width="1.11" height="455.0" fill="url(#gG)" opacity="0.467"/>
<rect x="434.10" y="1147.0" width="1.11" height="1232.3" fill="url(#gG)" opacity="0.082"/>
<rect x="434.10" y="1515.0" width="1.11" height="541.0" fill="url(#gG)" opacity="0.666"/>
<rect x="435.11" y="1212.0" width="1.11" height="1082.4" fill="url(#gG)" opacity="0.000"/>
<rect x="435.11" y="1521.4" width="1.11" height="506.6" fill="url(#gG)" opacity="0.516"/>
<rect x="436.12" y="1247.6" width="1.11" height="1108.0" fill="url(#gG)" opacity="0.184"/>
<rect x="436.12" y="1583.1" width="1.11" height="478.5" fill="url(#gG)" opacity="0.714"/>
<rect x="437.13" y="1246.0" width="1.11" height="1079.8" fill="url(#gG)" opacity="0.129"/>
<rect x="437.13" y="1619.2" width="1.11" height="373.3" fill="url(#gG)" opacity="0.681"/>
<rect x="438.14" y="1098.5" width="1.11" height="1326.4" fill="url(#gG)" opacity="0.000"/>
<rect x="438.14" y="1496.7" width="1.11" height="568.1" fill="url(#gG)" opacity="0.456"/>
<rect x="439.15" y="1176.0" width="1.11" height="1246.5" fill="url(#gG)" opacity="0.000"/>
<rect x="439.15" y="1558.4" width="1.11" height="518.3" fill="url(#gG)" opacity="0.667"/>
<rect x="440.16" y="1240.6" width="1.11" height="1117.5" fill="url(#gG)" opacity="0.004"/>
<rect x="440.16" y="1627.1" width="1.11" height="379.5" fill="url(#gG)" opacity="0.577"/>
<rect x="441.17" y="1267.3" width="1.11" height="1029.2" fill="url(#gG)" opacity="0.000"/>
<rect x="441.17" y="1500.7" width="1.11" height="595.7" fill="url(#gG)" opacity="0.792"/>
<rect x="442.18" y="1276.4" width="1.11" height="1017.9" fill="url(#gG)" opacity="0.619"/>
<rect x="442.18" y="1587.1" width="1.11" height="428.0" fill="url(#gG)" opacity="0.309"/>
<rect x="443.19" y="1108.3" width="1.11" height="1332.8" fill="url(#gG)" opacity="0.071"/>
<rect x="443.19" y="1519.5" width="1.11" height="540.5" fill="url(#gG)" opacity="0.776"/>
<rect x="444.20" y="1170.3" width="1.11" height="1208.2" fill="url(#gG)" opacity="0.042"/>
<rect x="444.20" y="1558.6" width="1.11" height="460.1" fill="url(#gG)" opacity="0.783"/>
<rect x="445.21" y="1183.5" width="1.11" height="1215.2" fill="url(#gG)" opacity="0.083"/>
<rect x="445.21" y="1617.6" width="1.11" height="373.8" fill="url(#gG)" opacity="0.773"/>
<rect x="446.22" y="1235.2" width="1.11" height="1072.2" fill="url(#gG)" opacity="0.111"/>
<rect x="446.22" y="1554.3" width="1.11" height="459.3" fill="url(#gG)" opacity="0.766"/>
<rect x="447.23" y="1212.1" width="1.11" height="1191.2" fill="url(#gG)" opacity="0.000"/>
<rect x="447.23" y="1539.0" width="1.11" height="561.1" fill="url(#gG)" opacity="0.713"/>
<rect x="448.24" y="1109.3" width="1.11" height="1241.7" fill="url(#gG)" opacity="0.000"/>
<rect x="448.24" y="1482.4" width="1.11" height="517.5" fill="url(#gG)" opacity="0.693"/>
<rect x="449.25" y="1025.6" width="1.11" height="1496.5" fill="url(#gG)" opacity="0.050"/>
<rect x="449.25" y="1597.5" width="1.11" height="373.0" fill="url(#gG)" opacity="0.781"/>
<rect x="450.26" y="1309.6" width="1.11" height="1009.9" fill="url(#gG)" opacity="0.189"/>
<rect x="450.26" y="1566.3" width="1.11" height="515.3" fill="url(#gG)" opacity="0.883"/>
<rect x="451.27" y="1142.3" width="1.11" height="1285.3" fill="url(#gG)" opacity="0.270"/>
<rect x="451.27" y="1526.4" width="1.11" height="534.3" fill="url(#gG)" opacity="0.870"/>
<rect x="452.28" y="1147.0" width="1.11" height="1250.0" fill="url(#gG)" opacity="0.167"/>
<rect x="452.28" y="1515.5" width="1.11" height="528.5" fill="url(#gG)" opacity="0.782"/>
<rect x="453.29" y="1094.3" width="1.11" height="1401.5" fill="url(#gG)" opacity="0.065"/>
<rect x="453.29" y="1615.5" width="1.11" height="373.1" fill="url(#gG)" opacity="0.898"/>
<rect x="454.30" y="1243.5" width="1.11" height="1078.3" fill="url(#gG)" opacity="0.095"/>
<rect x="454.30" y="1576.0" width="1.11" height="425.6" fill="url(#gG)" opacity="0.698"/>
<rect x="455.31" y="1160.9" width="1.11" height="1214.2" fill="url(#gG)" opacity="0.025"/>
<rect x="455.31" y="1543.3" width="1.11" height="460.2" fill="url(#gG)" opacity="0.902"/>
<rect x="456.32" y="1080.6" width="1.11" height="1412.7" fill="url(#gG)" opacity="0.000"/>
<rect x="456.32" y="1571.2" width="1.11" height="440.5" fill="url(#gG)" opacity="0.905"/>
<rect x="457.33" y="1218.0" width="1.11" height="1057.8" fill="url(#gG)" opacity="0.000"/>
<rect x="457.33" y="1507.1" width="1.11" height="487.0" fill="url(#gG)" opacity="0.905"/>
<rect x="458.34" y="1249.1" width="1.11" height="1177.3" fill="url(#gG)" opacity="0.037"/>
<rect x="458.34" y="1564.6" width="1.11" height="552.3" fill="url(#gG)" opacity="0.595"/>
<rect x="459.35" y="1059.6" width="1.11" height="1469.5" fill="url(#gG)" opacity="0.000"/>
<rect x="459.35" y="1537.2" width="1.11" height="518.6" fill="url(#gG)" opacity="0.967"/>
<rect x="460.36" y="1069.0" width="1.11" height="1456.9" fill="url(#gG)" opacity="0.000"/>
<rect x="460.36" y="1509.0" width="1.11" height="579.4" fill="url(#gG)" opacity="0.714"/>
<rect x="461.37" y="1262.5" width="1.11" height="1044.3" fill="url(#gG)" opacity="0.156"/>
<rect x="461.37" y="1535.3" width="1.11" height="499.6" fill="url(#gG)" opacity="0.485"/>
<rect x="462.38" y="1280.0" width="1.11" height="975.5" fill="url(#gG)" opacity="0.040"/>
<rect x="462.38" y="1501.5" width="1.11" height="531.9" fill="url(#gG)" opacity="0.655"/>
<rect x="463.39" y="1170.9" width="1.11" height="1310.1" fill="url(#gG)" opacity="0.000"/>
<rect x="463.39" y="1625.7" width="1.11" height="398.4" fill="url(#gG)" opacity="0.290"/>
<rect x="464.40" y="1206.7" width="1.11" height="1067.2" fill="url(#gG)" opacity="0.260"/>
<rect x="464.40" y="1472.2" width="1.11" height="532.5" fill="url(#gG)" opacity="0.438"/>
<rect x="465.41" y="1257.2" width="1.11" height="1010.3" fill="url(#gG)" opacity="0.047"/>
<rect x="465.41" y="1491.7" width="1.11" height="535.8" fill="url(#gG)" opacity="0.805"/>
<rect x="466.42" y="1243.7" width="1.11" height="1068.2" fill="url(#gG)" opacity="0.000"/>
<rect x="466.42" y="1534.3" width="1.11" height="479.8" fill="url(#gG)" opacity="0.970"/>
<rect x="467.43" y="1028.3" width="1.11" height="1468.4" fill="url(#gG)" opacity="0.000"/>
<rect x="467.43" y="1500.0" width="1.11" height="516.2" fill="url(#gG)" opacity="0.657"/>
<rect x="468.44" y="1281.0" width="1.11" height="1214.8" fill="url(#gG)" opacity="0.003"/>
<rect x="468.44" y="1626.2" width="1.11" height="514.2" fill="url(#gG)" opacity="0.559"/>
<rect x="469.45" y="1148.0" width="1.11" height="1213.2" fill="url(#gG)" opacity="0.396"/>
<rect x="469.45" y="1457.9" width="1.11" height="581.5" fill="url(#gG)" opacity="0.842"/>
<rect x="470.46" y="1076.9" width="1.11" height="1434.9" fill="url(#gG)" opacity="0.235"/>
<rect x="470.46" y="1587.9" width="1.11" height="399.3" fill="url(#gG)" opacity="0.875"/>
<rect x="471.47" y="1084.2" width="1.11" height="1465.6" fill="url(#gG)" opacity="0.321"/>
<rect x="471.47" y="1620.3" width="1.11" height="378.3" fill="url(#gG)" opacity="0.273"/>
<rect x="472.48" y="984.2" width="1.11" height="1473.7" fill="url(#gG)" opacity="0.000"/>
<rect x="472.48" y="1496.1" width="1.11" height="433.0" fill="url(#gG)" opacity="0.736"/>
<rect x="473.49" y="1047.7" width="1.11" height="1490.7" fill="url(#gG)" opacity="0.166"/>
<rect x="473.49" y="1486.8" width="1.11" height="594.0" fill="url(#gG)" opacity="0.886"/>
<rect x="474.50" y="1078.5" width="1.11" height="1370.4" fill="url(#gG)" opacity="0.000"/>
<rect x="474.50" y="1500.5" width="1.11" height="506.3" fill="url(#gG)" opacity="0.660"/>
<rect x="475.51" y="1089.3" width="1.11" height="1431.9" fill="url(#gG)" opacity="0.110"/>
<rect x="475.51" y="1523.1" width="1.11" height="542.6" fill="url(#gG)" opacity="0.893"/>
<rect x="476.52" y="1272.4" width="1.11" height="1006.9" fill="url(#gG)" opacity="0.233"/>
<rect x="476.52" y="1530.5" width="1.11" height="467.5" fill="url(#gG)" opacity="0.669"/>
<rect x="477.53" y="1073.7" width="1.11" height="1492.2" fill="url(#gG)" opacity="0.700"/>
<rect x="477.53" y="1609.1" width="1.11" height="396.5" fill="url(#gG)" opacity="0.000"/>
<rect x="478.54" y="1061.7" width="1.11" height="1440.3" fill="url(#gG)" opacity="0.405"/>
<rect x="478.54" y="1500.6" width="1.11" height="536.0" fill="url(#gG)" opacity="0.000"/>
<rect x="479.55" y="1098.8" width="1.11" height="1398.5" fill="url(#gG)" opacity="0.378"/>
<rect x="479.55" y="1522.3" width="1.11" height="523.3" fill="url(#gG)" opacity="0.769"/>
<rect x="480.56" y="1086.0" width="1.11" height="1441.3" fill="url(#gG)" opacity="0.155"/>
<rect x="480.56" y="1528.5" width="1.11" height="526.5" fill="url(#gG)" opacity="0.448"/>
<rect x="481.57" y="1168.3" width="1.11" height="1226.0" fill="url(#gG)" opacity="0.004"/>
<rect x="481.57" y="1502.9" width="1.11" height="525.5" fill="url(#gG)" opacity="0.052"/>
<rect x="482.58" y="1308.3" width="1.11" height="1007.6" fill="url(#gG)" opacity="0.073"/>
<rect x="482.58" y="1557.1" width="1.11" height="477.0" fill="url(#gG)" opacity="0.000"/>
<rect x="483.59" y="1100.5" width="1.11" height="1400.7" fill="url(#gG)" opacity="0.318"/>
<rect x="483.59" y="1558.7" width="1.11" height="449.7" fill="url(#gG)" opacity="0.000"/>
<rect x="484.60" y="1295.0" width="1.11" height="1006.3" fill="url(#gG)" opacity="0.000"/>
<rect x="484.60" y="1582.3" width="1.11" height="395.7" fill="url(#gG)" opacity="0.049"/>
<rect x="485.61" y="1109.9" width="1.11" height="1317.5" fill="url(#gG)" opacity="0.125"/>
<rect x="485.61" y="1465.3" width="1.11" height="568.8" fill="url(#gG)" opacity="0.562"/>
<rect x="486.62" y="1179.7" width="1.11" height="1244.4" fill="url(#gG)" opacity="0.540"/>
<rect x="486.62" y="1493.4" width="1.11" height="577.7" fill="url(#gG)" opacity="0.000"/>
<rect x="487.63" y="1142.2" width="1.11" height="1297.6" fill="url(#gG)" opacity="0.005"/>
<rect x="487.63" y="1512.6" width="1.11" height="515.6" fill="url(#gG)" opacity="0.365"/>
<rect x="488.64" y="1280.1" width="1.11" height="1134.6" fill="url(#gG)" opacity="0.000"/>
<rect x="488.64" y="1545.2" width="1.11" height="562.0" fill="url(#gG)" opacity="0.473"/>
<rect x="489.65" y="1131.8" width="1.11" height="1329.4" fill="url(#gG)" opacity="0.000"/>
<rect x="489.65" y="1510.0" width="1.11" height="528.8" fill="url(#gG)" opacity="0.648"/>
<rect x="490.66" y="1347.0" width="1.11" height="1000.2" fill="url(#gG)" opacity="0.000"/>
<rect x="490.66" y="1539.4" width="1.11" height="569.7" fill="url(#gG)" opacity="0.302"/>
<rect x="491.67" y="1092.9" width="1.11" height="1457.1" fill="url(#gG)" opacity="0.030"/>
<rect x="491.67" y="1566.2" width="1.11" height="463.0" fill="url(#gG)" opacity="0.019"/>
<rect x="492.68" y="1285.7" width="1.11" height="1048.2" fill="url(#gG)" opacity="0.015"/>
<rect x="492.68" y="1545.6" width="1.11" height="479.3" fill="url(#gG)" opacity="0.043"/>
<rect x="493.69" y="1252.0" width="1.11" height="1115.4" fill="url(#gG)" opacity="0.000"/>
<rect x="493.69" y="1532.0" width="1.11" height="504.6" fill="url(#gG)" opacity="0.281"/>
<rect x="494.70" y="1233.3" width="1.11" height="1231.0" fill="url(#gG)" opacity="0.000"/>
<rect x="494.70" y="1630.4" width="1.11" height="384.5" fill="url(#gG)" opacity="0.276"/>
<rect x="495.71" y="1144.5" width="1.11" height="1329.4" fill="url(#gG)" opacity="0.038"/>
<rect x="495.71" y="1499.1" width="1.11" height="566.4" fill="url(#gG)" opacity="0.373"/>
<rect x="496.72" y="1111.8" width="1.11" height="1286.7" fill="url(#gG)" opacity="0.000"/>
<rect x="496.72" y="1525.4" width="1.11" height="403.9" fill="url(#gG)" opacity="0.271"/>
<rect x="497.73" y="1140.6" width="1.11" height="1290.5" fill="url(#gG)" opacity="0.036"/>
<rect x="497.73" y="1459.8" width="1.11" height="594.9" fill="url(#gG)" opacity="0.426"/>
<rect x="498.74" y="1310.8" width="1.11" height="1116.0" fill="url(#gG)" opacity="0.099"/>
<rect x="498.74" y="1555.4" width="1.11" height="567.9" fill="url(#gG)" opacity="0.381"/>
<rect x="499.75" y="1194.9" width="1.11" height="1256.0" fill="url(#gG)" opacity="0.528"/>
<rect x="499.75" y="1509.4" width="1.11" height="566.6" fill="url(#gG)" opacity="0.000"/>
<rect x="500.76" y="1170.0" width="1.11" height="1347.3" fill="url(#gG)" opacity="0.122"/>
<rect x="500.76" y="1616.3" width="1.11" height="392.5" fill="url(#gG)" opacity="0.382"/>
<rect x="501.77" y="1258.6" width="1.11" height="1077.1" fill="url(#gG)" opacity="0.387"/>
<rect x="501.77" y="1544.2" width="1.11" height="442.3" fill="url(#gG)" opacity="0.115"/>
<rect x="502.78" y="1123.5" width="1.11" height="1491.8" fill="url(#gG)" opacity="0.535"/>
<rect x="502.78" y="1639.2" width="1.11" height="395.0" fill="url(#gG)" opacity="0.000"/>
<rect x="503.79" y="1275.4" width="1.11" height="1123.6" fill="url(#gG)" opacity="0.326"/>
<rect x="503.79" y="1594.0" width="1.11" height="419.3" fill="url(#gG)" opacity="0.000"/>
<rect x="504.80" y="1127.0" width="1.11" height="1407.7" fill="url(#gG)" opacity="0.637"/>
<rect x="504.80" y="1528.1" width="1.11" height="537.0" fill="url(#gG)" opacity="0.000"/>
<rect x="505.81" y="1308.6" width="1.11" height="1007.2" fill="url(#gG)" opacity="0.045"/>
<rect x="505.81" y="1568.1" width="1.11" height="418.0" fill="url(#gG)" opacity="0.304"/>
<rect x="506.82" y="1113.8" width="1.11" height="1335.4" fill="url(#gG)" opacity="0.128"/>
<rect x="506.82" y="1451.0" width="1.11" height="589.1" fill="url(#gG)" opacity="0.545"/>
<rect x="507.83" y="1029.5" width="1.11" height="1495.0" fill="url(#gG)" opacity="0.461"/>
<rect x="507.83" y="1475.8" width="1.11" height="528.9" fill="url(#gG)" opacity="0.305"/>
<rect x="508.84" y="1101.2" width="1.11" height="1415.1" fill="url(#gG)" opacity="0.700"/>
<rect x="508.84" y="1572.5" width="1.11" height="397.3" fill="url(#gG)" opacity="0.000"/>
<rect x="509.85" y="1245.7" width="1.11" height="1120.0" fill="url(#gG)" opacity="0.623"/>
<rect x="509.85" y="1528.1" width="1.11" height="478.4" fill="url(#gG)" opacity="0.000"/>
<rect x="510.86" y="1336.2" width="1.11" height="1040.9" fill="url(#gG)" opacity="0.615"/>
<rect x="510.86" y="1549.9" width="1.11" height="534.9" fill="url(#gG)" opacity="0.312"/>
<rect x="511.87" y="1199.3" width="1.11" height="1270.3" fill="url(#gG)" opacity="0.000"/>
<rect x="511.87" y="1608.2" width="1.11" height="372.3" fill="url(#gG)" opacity="0.735"/>
<rect x="512.88" y="1340.9" width="1.11" height="1039.9" fill="url(#gG)" opacity="0.065"/>
<rect x="512.88" y="1543.2" width="1.11" height="553.6" fill="url(#gG)" opacity="0.689"/>
<rect x="513.89" y="1166.3" width="1.11" height="1299.8" fill="url(#gG)" opacity="0.130"/>
<rect x="513.89" y="1526.0" width="1.11" height="497.0" fill="url(#gG)" opacity="0.617"/>
<rect x="514.90" y="1179.0" width="1.11" height="1239.5" fill="url(#gG)" opacity="0.042"/>
<rect x="514.90" y="1521.1" width="1.11" height="470.2" fill="url(#gG)" opacity="0.724"/>
<rect x="515.91" y="1277.6" width="1.11" height="1082.8" fill="url(#gG)" opacity="0.000"/>
<rect x="515.91" y="1527.0" width="1.11" height="497.3" fill="url(#gG)" opacity="0.566"/>
<rect x="516.92" y="1228.3" width="1.11" height="1182.9" fill="url(#gG)" opacity="0.000"/>
<rect x="516.92" y="1487.7" width="1.11" height="575.9" fill="url(#gG)" opacity="0.573"/>
<rect x="517.93" y="1245.6" width="1.11" height="1170.5" fill="url(#gG)" opacity="0.377"/>
<rect x="517.93" y="1570.9" width="1.11" height="430.0" fill="url(#gG)" opacity="0.200"/>
<rect x="518.94" y="1231.2" width="1.11" height="1217.9" fill="url(#gG)" opacity="0.152"/>
<rect x="518.94" y="1577.3" width="1.11" height="434.2" fill="url(#gG)" opacity="0.117"/>
<rect x="519.95" y="1277.4" width="1.11" height="1130.3" fill="url(#gG)" opacity="0.019"/>
<rect x="519.95" y="1545.3" width="1.11" height="501.2" fill="url(#gG)" opacity="0.552"/>
<rect x="520.96" y="1159.7" width="1.11" height="1375.3" fill="url(#gG)" opacity="0.527"/>
<rect x="520.96" y="1586.7" width="1.11" height="426.4" fill="url(#gG)" opacity="0.440"/>
<rect x="521.97" y="1206.4" width="1.11" height="1248.0" fill="url(#gG)" opacity="0.527"/>
<rect x="521.97" y="1484.5" width="1.11" height="595.2" fill="url(#gG)" opacity="0.157"/>
<rect x="522.98" y="1114.8" width="1.11" height="1445.3" fill="url(#gG)" opacity="0.266"/>
<rect x="522.98" y="1536.4" width="1.11" height="504.0" fill="url(#gG)" opacity="0.400"/>
<rect x="523.99" y="1216.5" width="1.11" height="1198.3" fill="url(#gG)" opacity="0.330"/>
<rect x="523.99" y="1536.1" width="1.11" height="459.3" fill="url(#gG)" opacity="0.297"/>
<rect x="525.00" y="1117.8" width="1.11" height="1497.7" fill="url(#gG)" opacity="0.000"/>
<rect x="525.00" y="1552.2" width="1.11" height="527.5" fill="url(#gG)" opacity="0.566"/>
<rect x="526.01" y="1289.5" width="1.11" height="1068.3" fill="url(#gG)" opacity="0.000"/>
<rect x="526.01" y="1547.0" width="1.11" height="450.1" fill="url(#gG)" opacity="0.566"/>
<rect x="527.02" y="1105.1" width="1.11" height="1440.3" fill="url(#gG)" opacity="0.299"/>
<rect x="527.02" y="1559.8" width="1.11" height="426.2" fill="url(#gG)" opacity="0.380"/>
<rect x="528.03" y="1317.7" width="1.11" height="1078.3" fill="url(#gG)" opacity="0.022"/>
<rect x="528.03" y="1583.8" width="1.11" height="439.9" fill="url(#gG)" opacity="0.556"/>
<rect x="529.04" y="1132.0" width="1.11" height="1442.5" fill="url(#gG)" opacity="0.036"/>
<rect x="529.04" y="1568.5" width="1.11" height="461.4" fill="url(#gG)" opacity="0.341"/>
<rect x="530.05" y="1124.2" width="1.11" height="1439.1" fill="url(#gG)" opacity="0.412"/>
<rect x="530.05" y="1585.4" width="1.11" height="406.9" fill="url(#gG)" opacity="0.000"/>
<rect x="531.06" y="1319.4" width="1.11" height="1017.2" fill="url(#gG)" opacity="0.406"/>
<rect x="531.06" y="1522.7" width="1.11" height="499.2" fill="url(#gG)" opacity="0.151"/>
<rect x="532.07" y="1289.5" width="1.11" height="1039.9" fill="url(#gG)" opacity="0.117"/>
<rect x="532.07" y="1511.1" width="1.11" height="483.7" fill="url(#gG)" opacity="0.361"/>
<rect x="533.08" y="1205.9" width="1.11" height="1345.9" fill="url(#gG)" opacity="0.003"/>
<rect x="533.08" y="1534.4" width="1.11" height="574.4" fill="url(#gG)" opacity="0.564"/>
<rect x="534.09" y="1156.3" width="1.11" height="1408.8" fill="url(#gG)" opacity="0.004"/>
<rect x="534.09" y="1603.5" width="1.11" height="398.1" fill="url(#gG)" opacity="0.564"/>
<rect x="535.10" y="1132.9" width="1.11" height="1421.9" fill="url(#gG)" opacity="0.201"/>
<rect x="535.10" y="1520.8" width="1.11" height="528.3" fill="url(#gG)" opacity="0.456"/>
<rect x="536.11" y="1222.3" width="1.11" height="1201.0" fill="url(#gG)" opacity="0.000"/>
<rect x="536.11" y="1495.9" width="1.11" height="534.3" fill="url(#gG)" opacity="0.488"/>
<rect x="537.12" y="1226.3" width="1.11" height="1344.6" fill="url(#gG)" opacity="0.078"/>
<rect x="537.12" y="1616.3" width="1.11" height="443.5" fill="url(#gG)" opacity="0.136"/>
<rect x="538.13" y="1066.7" width="1.11" height="1491.2" fill="url(#gG)" opacity="0.259"/>
<rect x="538.13" y="1458.1" width="1.11" height="585.7" fill="url(#gG)" opacity="0.163"/>
<rect x="539.14" y="1128.0" width="1.11" height="1421.9" fill="url(#gG)" opacity="0.281"/>
<rect x="539.14" y="1486.7" width="1.11" height="580.0" fill="url(#gG)" opacity="0.000"/>
<rect x="540.15" y="1377.8" width="1.11" height="961.5" fill="url(#gG)" opacity="0.187"/>
<rect x="540.15" y="1609.3" width="1.11" height="372.4" fill="url(#gG)" opacity="0.349"/>
<rect x="541.16" y="1197.2" width="1.11" height="1263.8" fill="url(#gG)" opacity="0.000"/>
<rect x="541.16" y="1466.4" width="1.11" height="597.9" fill="url(#gG)" opacity="0.492"/>
<rect x="542.17" y="1105.6" width="1.11" height="1482.3" fill="url(#gG)" opacity="0.103"/>
<rect x="542.17" y="1567.3" width="1.11" height="429.5" fill="url(#gG)" opacity="0.516"/>
<rect x="543.18" y="1313.0" width="1.11" height="1022.4" fill="url(#gG)" opacity="0.450"/>
<rect x="543.18" y="1546.8" width="1.11" height="424.0" fill="url(#gG)" opacity="0.210"/>
<rect x="544.19" y="1257.6" width="1.11" height="1228.0" fill="url(#gG)" opacity="0.524"/>
<rect x="544.19" y="1507.8" width="1.11" height="594.9" fill="url(#gG)" opacity="0.000"/>
<rect x="545.20" y="1268.3" width="1.11" height="1115.8" fill="url(#gG)" opacity="0.252"/>
<rect x="545.20" y="1558.6" width="1.11" height="400.9" fill="url(#gG)" opacity="0.419"/>
<rect x="546.21" y="1102.5" width="1.11" height="1483.6" fill="url(#gG)" opacity="0.037"/>
<rect x="546.21" y="1521.7" width="1.11" height="509.3" fill="url(#gG)" opacity="0.549"/>
<rect x="547.22" y="1351.1" width="1.11" height="1034.4" fill="url(#gG)" opacity="0.000"/>
<rect x="547.22" y="1536.1" width="1.11" height="526.7" fill="url(#gG)" opacity="0.566"/>
<rect x="548.23" y="1319.6" width="1.11" height="1088.9" fill="url(#gG)" opacity="0.000"/>
<rect x="548.23" y="1521.8" width="1.11" height="545.4" fill="url(#gG)" opacity="0.566"/>
<rect x="549.24" y="1359.5" width="1.11" height="1031.5" fill="url(#gG)" opacity="0.000"/>
<rect x="549.24" y="1506.9" width="1.11" height="595.8" fill="url(#gG)" opacity="0.488"/>
<rect x="550.25" y="1211.2" width="1.11" height="1295.7" fill="url(#gG)" opacity="0.000"/>
<rect x="550.25" y="1562.8" width="1.11" height="450.0" fill="url(#gG)" opacity="0.318"/>
<rect x="551.26" y="1346.7" width="1.11" height="1018.0" fill="url(#gG)" opacity="0.000"/>
<rect x="551.26" y="1503.6" width="1.11" height="560.1" fill="url(#gG)" opacity="0.506"/>
<rect x="552.27" y="1315.3" width="1.11" height="1028.4" fill="url(#gG)" opacity="0.000"/>
<rect x="552.27" y="1520.0" width="1.11" height="473.2" fill="url(#gG)" opacity="0.318"/>
<rect x="553.28" y="1176.7" width="1.11" height="1445.7" fill="url(#gG)" opacity="0.000"/>
<rect x="553.28" y="1627.6" width="1.11" height="396.7" fill="url(#gG)" opacity="0.206"/>
<rect x="554.29" y="1379.3" width="1.11" height="994.7" fill="url(#gG)" opacity="0.167"/>
<rect x="554.29" y="1538.3" width="1.11" height="527.6" fill="url(#gG)" opacity="0.199"/>
<rect x="555.30" y="1351.5" width="1.11" height="1040.9" fill="url(#gG)" opacity="0.657"/>
<rect x="555.30" y="1569.5" width="1.11" height="454.3" fill="url(#gG)" opacity="0.000"/>
<rect x="556.31" y="1297.7" width="1.11" height="1158.6" fill="url(#gG)" opacity="0.500"/>
<rect x="556.31" y="1501.1" width="1.11" height="599.3" fill="url(#gG)" opacity="0.744"/>
<rect x="557.32" y="1344.3" width="1.11" height="1044.2" fill="url(#gG)" opacity="0.420"/>
<rect x="557.32" y="1490.3" width="1.11" height="598.3" fill="url(#gG)" opacity="0.518"/>
<rect x="558.33" y="1221.5" width="1.11" height="1195.2" fill="url(#gG)" opacity="0.700"/>
<rect x="558.33" y="1530.5" width="1.11" height="421.7" fill="url(#gG)" opacity="0.000"/>
<rect x="559.34" y="1266.2" width="1.11" height="1211.3" fill="url(#gG)" opacity="0.264"/>
<rect x="559.34" y="1562.6" width="1.11" height="461.4" fill="url(#gG)" opacity="0.765"/>
<rect x="560.35" y="1255.4" width="1.11" height="1299.3" fill="url(#gG)" opacity="0.656"/>
<rect x="560.35" y="1608.5" width="1.11" height="434.1" fill="url(#gG)" opacity="0.616"/>
<rect x="561.36" y="1326.3" width="1.11" height="1048.2" fill="url(#gG)" opacity="0.700"/>
<rect x="561.36" y="1507.2" width="1.11" height="525.8" fill="url(#gG)" opacity="0.900"/>
<rect x="562.37" y="1211.9" width="1.11" height="1315.4" fill="url(#gG)" opacity="0.301"/>
<rect x="562.37" y="1533.7" width="1.11" height="509.5" fill="url(#gG)" opacity="0.425"/>
<rect x="563.38" y="1197.6" width="1.11" height="1337.1" fill="url(#gG)" opacity="0.305"/>
<rect x="563.38" y="1510.1" width="1.11" height="548.2" fill="url(#gG)" opacity="0.957"/>
<rect x="564.39" y="1162.6" width="1.11" height="1461.7" fill="url(#gG)" opacity="0.224"/>
<rect x="564.39" y="1579.2" width="1.11" height="463.1" fill="url(#gG)" opacity="0.668"/>
<rect x="565.40" y="1291.4" width="1.11" height="1178.9" fill="url(#gG)" opacity="0.140"/>
<rect x="565.40" y="1518.4" width="1.11" height="557.7" fill="url(#gG)" opacity="0.965"/>
<rect x="566.41" y="1241.7" width="1.11" height="1231.7" fill="url(#gG)" opacity="0.328"/>
<rect x="566.41" y="1521.6" width="1.11" height="503.3" fill="url(#gG)" opacity="0.955"/>
<rect x="567.42" y="1117.6" width="1.11" height="1403.6" fill="url(#gG)" opacity="0.227"/>
<rect x="567.42" y="1465.8" width="1.11" height="536.7" fill="url(#gG)" opacity="0.768"/>
<rect x="568.43" y="1128.9" width="1.11" height="1453.7" fill="url(#gG)" opacity="0.294"/>
<rect x="568.43" y="1577.0" width="1.11" height="385.4" fill="url(#gG)" opacity="0.730"/>
<rect x="569.44" y="1203.0" width="1.11" height="1404.9" fill="url(#gG)" opacity="0.237"/>
<rect x="569.44" y="1619.6" width="1.11" height="397.9" fill="url(#gG)" opacity="0.578"/>
<rect x="570.45" y="1380.4" width="1.11" height="988.5" fill="url(#gG)" opacity="0.151"/>
<rect x="570.45" y="1598.3" width="1.11" height="377.3" fill="url(#gG)" opacity="0.938"/>
<rect x="571.46" y="1196.7" width="1.11" height="1340.5" fill="url(#gG)" opacity="0.000"/>
<rect x="571.46" y="1537.2" width="1.11" height="482.4" fill="url(#gG)" opacity="0.970"/>
<rect x="572.47" y="1256.7" width="1.11" height="1226.3" fill="url(#gG)" opacity="0.280"/>
<rect x="572.47" y="1509.3" width="1.11" height="542.5" fill="url(#gG)" opacity="0.958"/>
<rect x="573.48" y="1226.3" width="1.11" height="1349.4" fill="url(#gG)" opacity="0.310"/>
<rect x="573.48" y="1563.2" width="1.11" height="495.4" fill="url(#gG)" opacity="0.383"/>
<rect x="574.49" y="1271.4" width="1.11" height="1202.9" fill="url(#gG)" opacity="0.356"/>
<rect x="574.49" y="1516.2" width="1.11" height="531.4" fill="url(#gG)" opacity="0.100"/>
<rect x="575.50" y="1155.2" width="1.11" height="1420.6" fill="url(#gG)" opacity="0.026"/>
<rect x="575.50" y="1497.5" width="1.11" height="552.5" fill="url(#gG)" opacity="0.565"/>
<rect x="576.51" y="1320.8" width="1.11" height="1129.8" fill="url(#gG)" opacity="0.246"/>
<rect x="576.51" y="1578.9" width="1.11" height="428.4" fill="url(#gG)" opacity="0.499"/>
<rect x="577.52" y="1297.2" width="1.11" height="1148.8" fill="url(#gG)" opacity="0.354"/>
<rect x="577.52" y="1525.3" width="1.11" height="505.6" fill="url(#gG)" opacity="0.278"/>
<rect x="578.53" y="1328.1" width="1.11" height="1049.2" fill="url(#gG)" opacity="0.700"/>
<rect x="578.53" y="1507.2" width="1.11" height="502.6" fill="url(#gG)" opacity="0.000"/>
<rect x="579.54" y="1234.1" width="1.11" height="1279.7" fill="url(#gG)" opacity="0.493"/>
<rect x="579.54" y="1568.4" width="1.11" height="421.1" fill="url(#gG)" opacity="0.200"/>
<rect x="580.55" y="1171.9" width="1.11" height="1420.7" fill="url(#gG)" opacity="0.032"/>
<rect x="580.55" y="1518.4" width="1.11" height="537.6" fill="url(#gG)" opacity="0.373"/>
<rect x="581.56" y="1299.2" width="1.11" height="1182.1" fill="url(#gG)" opacity="0.211"/>
<rect x="581.56" y="1592.3" width="1.11" height="405.8" fill="url(#gG)" opacity="0.187"/>
<rect x="582.57" y="1087.8" width="1.11" height="1636.5" fill="url(#gG)" opacity="0.000"/>
<rect x="582.57" y="1597.1" width="1.11" height="427.9" fill="url(#gG)" opacity="0.302"/>
<rect x="583.58" y="1155.5" width="1.11" height="1471.7" fill="url(#gG)" opacity="0.105"/>
<rect x="583.58" y="1509.2" width="1.11" height="574.2" fill="url(#gG)" opacity="0.381"/>
<rect x="584.59" y="1063.2" width="1.11" height="1695.3" fill="url(#gG)" opacity="0.567"/>
<rect x="584.59" y="1576.7" width="1.11" height="478.2" fill="url(#gG)" opacity="0.000"/>
<rect x="585.60" y="1329.5" width="1.11" height="1127.8" fill="url(#gG)" opacity="0.350"/>
<rect x="585.60" y="1557.7" width="1.11" height="481.4" fill="url(#gG)" opacity="0.000"/>
<rect x="586.61" y="1162.2" width="1.11" height="1460.6" fill="url(#gG)" opacity="0.007"/>
<rect x="586.61" y="1532.2" width="1.11" height="530.6" fill="url(#gG)" opacity="0.376"/>
<rect x="587.62" y="1087.3" width="1.11" height="1583.9" fill="url(#gG)" opacity="0.154"/>
<rect x="587.62" y="1547.1" width="1.11" height="474.2" fill="url(#gG)" opacity="0.266"/>
<rect x="588.63" y="1255.1" width="1.11" height="1367.1" fill="url(#gG)" opacity="0.006"/>
<rect x="588.63" y="1594.5" width="1.11" height="498.3" fill="url(#gG)" opacity="0.694"/>
<rect x="589.64" y="1329.2" width="1.11" height="1130.5" fill="url(#gG)" opacity="0.000"/>
<rect x="589.64" y="1590.4" width="1.11" height="418.0" fill="url(#gG)" opacity="0.792"/>
<rect x="590.65" y="1131.7" width="1.11" height="1409.5" fill="url(#gG)" opacity="0.000"/>
<rect x="590.65" y="1491.3" width="1.11" height="500.3" fill="url(#gG)" opacity="0.792"/>
<rect x="591.66" y="1178.2" width="1.11" height="1445.7" fill="url(#gG)" opacity="0.000"/>
<rect x="591.66" y="1541.1" width="1.11" height="529.8" fill="url(#gG)" opacity="0.792"/>
<rect x="592.67" y="1169.1" width="1.11" height="1411.7" fill="url(#gG)" opacity="0.047"/>
<rect x="592.67" y="1515.2" width="1.11" height="529.6" fill="url(#gG)" opacity="0.781"/>
<rect x="593.68" y="1288.1" width="1.11" height="1159.5" fill="url(#gG)" opacity="0.261"/>
<rect x="593.68" y="1527.2" width="1.11" height="491.3" fill="url(#gG)" opacity="0.718"/>
<rect x="594.69" y="1121.1" width="1.11" height="1601.9" fill="url(#gG)" opacity="0.336"/>
<rect x="594.69" y="1568.2" width="1.11" height="517.7" fill="url(#gG)" opacity="0.524"/>
<rect x="595.70" y="1212.9" width="1.11" height="1344.4" fill="url(#gG)" opacity="0.192"/>
<rect x="595.70" y="1493.8" width="1.11" height="592.6" fill="url(#gG)" opacity="0.279"/>
<rect x="596.71" y="1073.2" width="1.11" height="1609.0" fill="url(#gG)" opacity="0.250"/>
<rect x="596.71" y="1497.2" width="1.11" height="571.0" fill="url(#gG)" opacity="0.664"/>
<rect x="597.72" y="1061.1" width="1.11" height="1645.1" fill="url(#gG)" opacity="0.396"/>
<rect x="597.72" y="1514.5" width="1.11" height="548.3" fill="url(#gG)" opacity="0.586"/>
<rect x="598.73" y="1310.8" width="1.11" height="1163.3" fill="url(#gG)" opacity="0.195"/>
<rect x="598.73" y="1501.6" width="1.11" height="591.6" fill="url(#gG)" opacity="0.389"/>
<rect x="599.74" y="1139.1" width="1.11" height="1488.5" fill="url(#gG)" opacity="0.065"/>
<rect x="599.74" y="1520.1" width="1.11" height="536.5" fill="url(#gG)" opacity="0.666"/>
<rect x="600.75" y="1270.7" width="1.11" height="1213.6" fill="url(#gG)" opacity="0.063"/>
<rect x="600.75" y="1486.8" width="1.11" height="591.3" fill="url(#gG)" opacity="0.640"/>
<rect x="601.76" y="1163.0" width="1.11" height="1438.1" fill="url(#gG)" opacity="0.000"/>
<rect x="601.76" y="1524.8" width="1.11" height="524.5" fill="url(#gG)" opacity="0.792"/>
<rect x="602.77" y="1107.7" width="1.11" height="1545.5" fill="url(#gG)" opacity="0.107"/>
<rect x="602.77" y="1585.4" width="1.11" height="400.0" fill="url(#gG)" opacity="0.674"/>
<rect x="603.78" y="1147.7" width="1.11" height="1525.7" fill="url(#gG)" opacity="0.549"/>
<rect x="603.78" y="1546.0" width="1.11" height="539.0" fill="url(#gG)" opacity="0.010"/>
<rect x="604.79" y="1089.7" width="1.11" height="1506.7" fill="url(#gG)" opacity="0.118"/>
<rect x="604.79" y="1448.9" width="1.11" height="598.3" fill="url(#gG)" opacity="0.550"/>
<rect x="605.80" y="1059.5" width="1.11" height="1629.4" fill="url(#gG)" opacity="0.157"/>
<rect x="605.80" y="1480.8" width="1.11" height="596.9" fill="url(#gG)" opacity="0.534"/>
<rect x="606.81" y="1257.8" width="1.11" height="1246.7" fill="url(#gG)" opacity="0.146"/>
<rect x="606.81" y="1537.9" width="1.11" height="496.4" fill="url(#gG)" opacity="0.756"/>
<rect x="607.82" y="1277.2" width="1.11" height="1213.9" fill="url(#gG)" opacity="0.000"/>
<rect x="607.82" y="1503.4" width="1.11" height="571.4" fill="url(#gG)" opacity="0.666"/>
<rect x="608.83" y="1332.9" width="1.11" height="1144.5" fill="url(#gG)" opacity="0.187"/>
<rect x="608.83" y="1552.7" width="1.11" height="515.1" fill="url(#gG)" opacity="0.465"/>
<rect x="609.84" y="1076.5" width="1.11" height="1558.2" fill="url(#gG)" opacity="0.098"/>
<rect x="609.84" y="1507.2" width="1.11" height="506.8" fill="url(#gG)" opacity="0.593"/>
<rect x="610.85" y="1302.9" width="1.11" height="1206.7" fill="url(#gG)" opacity="0.187"/>
<rect x="610.85" y="1575.7" width="1.11" height="471.1" fill="url(#gG)" opacity="0.238"/>
<rect x="611.86" y="1133.6" width="1.11" height="1456.4" fill="url(#gG)" opacity="0.074"/>
<rect x="611.86" y="1510.2" width="1.11" height="513.2" fill="url(#gG)" opacity="0.354"/>
<rect x="612.87" y="1132.5" width="1.11" height="1453.3" fill="url(#gG)" opacity="0.043"/>
<rect x="612.87" y="1553.2" width="1.11" height="421.7" fill="url(#gG)" opacity="0.657"/>
<rect x="613.88" y="1052.2" width="1.11" height="1660.1" fill="url(#gG)" opacity="0.006"/>
<rect x="613.88" y="1573.6" width="1.11" height="427.3" fill="url(#gG)" opacity="0.457"/>
<rect x="614.89" y="1046.1" width="1.11" height="1624.9" fill="url(#gG)" opacity="0.344"/>
<rect x="614.89" y="1466.0" width="1.11" height="595.1" fill="url(#gG)" opacity="0.893"/>
<rect x="615.90" y="1290.0" width="1.11" height="1205.5" fill="url(#gG)" opacity="0.211"/>
<rect x="615.90" y="1518.5" width="1.11" height="558.5" fill="url(#gG)" opacity="0.612"/>
<rect x="616.91" y="1070.9" width="1.11" height="1605.0" fill="url(#gG)" opacity="0.043"/>
<rect x="616.91" y="1580.1" width="1.11" height="396.6" fill="url(#gG)" opacity="0.649"/>
<rect x="617.92" y="1284.5" width="1.11" height="1223.5" fill="url(#gG)" opacity="0.100"/>
<rect x="617.92" y="1575.5" width="1.11" height="451.6" fill="url(#gG)" opacity="0.824"/>
<rect x="618.93" y="1094.0" width="1.11" height="1619.2" fill="url(#gG)" opacity="0.152"/>
<rect x="618.93" y="1594.3" width="1.11" height="428.6" fill="url(#gG)" opacity="0.797"/>
<rect x="619.94" y="1256.9" width="1.11" height="1299.1" fill="url(#gG)" opacity="0.224"/>
<rect x="619.94" y="1533.8" width="1.11" height="555.4" fill="url(#gG)" opacity="0.318"/>
<rect x="620.95" y="1077.0" width="1.11" height="1546.3" fill="url(#gG)" opacity="0.125"/>
<rect x="620.95" y="1547.9" width="1.11" height="414.4" fill="url(#gG)" opacity="0.088"/>
<rect x="621.96" y="1205.7" width="1.11" height="1380.1" fill="url(#gG)" opacity="0.081"/>
<rect x="621.96" y="1541.6" width="1.11" height="518.4" fill="url(#gG)" opacity="0.488"/>
<rect x="622.97" y="1226.8" width="1.11" height="1359.0" fill="url(#gG)" opacity="0.000"/>
<rect x="622.97" y="1534.9" width="1.11" height="552.8" fill="url(#gG)" opacity="0.389"/>
<rect x="623.98" y="1134.2" width="1.11" height="1490.7" fill="url(#gG)" opacity="0.000"/>
<rect x="623.98" y="1524.9" width="1.11" height="519.3" fill="url(#gG)" opacity="0.484"/>
<rect x="624.99" y="1337.3" width="1.11" height="1135.2" fill="url(#gG)" opacity="0.000"/>
<rect x="624.99" y="1532.1" width="1.11" height="555.6" fill="url(#gG)" opacity="0.766"/>
<rect x="626.00" y="1295.5" width="1.11" height="1217.7" fill="url(#gG)" opacity="0.000"/>
<rect x="626.00" y="1571.3" width="1.11" height="476.2" fill="url(#gG)" opacity="0.082"/>
<rect x="627.01" y="1025.8" width="1.11" height="1710.2" fill="url(#gG)" opacity="0.118"/>
<rect x="627.01" y="1491.4" width="1.11" height="589.0" fill="url(#gG)" opacity="0.000"/>
<rect x="628.02" y="1104.3" width="1.11" height="1575.8" fill="url(#gG)" opacity="0.468"/>
<rect x="628.02" y="1556.2" width="1.11" height="481.9" fill="url(#gG)" opacity="0.000"/>
<rect x="629.03" y="1236.4" width="1.11" height="1217.9" fill="url(#gG)" opacity="0.026"/>
<rect x="629.03" y="1464.0" width="1.11" height="572.6" fill="url(#gG)" opacity="0.044"/>
<rect x="630.04" y="1191.2" width="1.11" height="1397.3" fill="url(#gG)" opacity="0.000"/>
<rect x="630.04" y="1577.3" width="1.11" height="435.0" fill="url(#gG)" opacity="0.113"/>
<rect x="631.05" y="1156.7" width="1.11" height="1448.2" fill="url(#gG)" opacity="0.341"/>
<rect x="631.05" y="1573.8" width="1.11" height="424.0" fill="url(#gG)" opacity="0.000"/>
<rect x="632.06" y="1208.8" width="1.11" height="1328.5" fill="url(#gG)" opacity="0.115"/>
<rect x="632.06" y="1539.2" width="1.11" height="477.7" fill="url(#gG)" opacity="0.271"/>
<rect x="633.07" y="1282.2" width="1.11" height="1138.8" fill="url(#gG)" opacity="0.154"/>
<rect x="633.07" y="1536.2" width="1.11" height="440.6" fill="url(#gG)" opacity="0.325"/>
<rect x="634.08" y="1126.2" width="1.11" height="1526.7" fill="url(#gG)" opacity="0.131"/>
<rect x="634.08" y="1550.6" width="1.11" height="488.0" fill="url(#gG)" opacity="0.828"/>
<rect x="635.09" y="1264.2" width="1.11" height="1177.7" fill="url(#gG)" opacity="0.000"/>
<rect x="635.09" y="1544.2" width="1.11" height="427.7" fill="url(#gG)" opacity="0.704"/>
<rect x="636.10" y="1133.8" width="1.11" height="1504.0" fill="url(#gG)" opacity="0.000"/>
<rect x="636.10" y="1548.5" width="1.11" height="484.5" fill="url(#gG)" opacity="0.670"/>
<rect x="637.11" y="1234.9" width="1.11" height="1328.3" fill="url(#gG)" opacity="0.332"/>
<rect x="637.11" y="1517.5" width="1.11" height="573.1" fill="url(#gG)" opacity="0.498"/>
<rect x="638.12" y="1333.8" width="1.11" height="1131.5" fill="url(#gG)" opacity="0.345"/>
<rect x="638.12" y="1617.6" width="1.11" height="373.8" fill="url(#gG)" opacity="0.570"/>
<rect x="639.13" y="1057.0" width="1.11" height="1682.8" fill="url(#gG)" opacity="0.630"/>
<rect x="639.13" y="1576.0" width="1.11" height="455.0" fill="url(#gG)" opacity="0.000"/>
<rect x="640.14" y="1284.4" width="1.11" height="1163.3" fill="url(#gG)" opacity="0.384"/>
<rect x="640.14" y="1583.5" width="1.11" height="375.1" fill="url(#gG)" opacity="0.000"/>
<rect x="641.15" y="1191.1" width="1.11" height="1423.8" fill="url(#gG)" opacity="0.043"/>
<rect x="641.15" y="1585.3" width="1.11" height="445.4" fill="url(#gG)" opacity="0.459"/>
<rect x="642.16" y="1230.4" width="1.11" height="1311.9" fill="url(#gG)" opacity="0.135"/>
<rect x="642.16" y="1568.6" width="1.11" height="445.3" fill="url(#gG)" opacity="0.890"/>
<rect x="643.17" y="1095.4" width="1.11" height="1504.6" fill="url(#gG)" opacity="0.064"/>
<rect x="643.17" y="1488.8" width="1.11" height="527.6" fill="url(#gG)" opacity="0.427"/>
<rect x="644.18" y="1293.5" width="1.11" height="1135.3" fill="url(#gG)" opacity="0.110"/>
<rect x="644.18" y="1502.2" width="1.11" height="528.0" fill="url(#gG)" opacity="0.457"/>
<rect x="645.19" y="1236.8" width="1.11" height="1326.6" fill="url(#gG)" opacity="0.362"/>
<rect x="645.19" y="1605.8" width="1.11" height="398.6" fill="url(#gG)" opacity="0.279"/>
<rect x="646.20" y="1156.8" width="1.11" height="1451.2" fill="url(#gG)" opacity="0.630"/>
<rect x="646.20" y="1519.1" width="1.11" height="536.5" fill="url(#gG)" opacity="0.000"/>
<rect x="647.21" y="1096.0" width="1.11" height="1539.4" fill="url(#gG)" opacity="0.440"/>
<rect x="647.21" y="1538.3" width="1.11" height="464.8" fill="url(#gG)" opacity="0.349"/>
<rect x="648.22" y="1023.2" width="1.11" height="1659.6" fill="url(#gG)" opacity="0.116"/>
<rect x="648.22" y="1462.0" width="1.11" height="592.1" fill="url(#gG)" opacity="0.439"/>
<rect x="649.23" y="1261.5" width="1.11" height="1193.4" fill="url(#gG)" opacity="0.208"/>
<rect x="649.23" y="1468.8" width="1.11" height="588.7" fill="url(#gG)" opacity="0.741"/>
<rect x="650.24" y="1182.7" width="1.11" height="1301.3" fill="url(#gG)" opacity="0.192"/>
<rect x="650.24" y="1474.4" width="1.11" height="527.9" fill="url(#gG)" opacity="0.444"/>
<rect x="651.25" y="1020.6" width="1.11" height="1718.4" fill="url(#gG)" opacity="0.110"/>
<rect x="651.25" y="1489.0" width="1.11" height="591.6" fill="url(#gG)" opacity="0.192"/>
<rect x="652.26" y="1289.6" width="1.11" height="1167.3" fill="url(#gG)" opacity="0.026"/>
<rect x="652.26" y="1588.7" width="1.11" height="379.1" fill="url(#gG)" opacity="0.425"/>
<rect x="653.27" y="1288.6" width="1.11" height="1150.1" fill="url(#gG)" opacity="0.008"/>
<rect x="653.27" y="1490.6" width="1.11" height="556.0" fill="url(#gG)" opacity="0.707"/>
<rect x="654.28" y="1227.6" width="1.11" height="1306.7" fill="url(#gG)" opacity="0.002"/>
<rect x="654.28" y="1573.0" width="1.11" height="425.8" fill="url(#gG)" opacity="0.905"/>
<rect x="655.29" y="1092.0" width="1.11" height="1549.5" fill="url(#gG)" opacity="0.000"/>
<rect x="655.29" y="1553.9" width="1.11" height="435.8" fill="url(#gG)" opacity="0.905"/>
<rect x="656.30" y="1083.7" width="1.11" height="1623.6" fill="url(#gG)" opacity="0.076"/>
<rect x="656.30" y="1607.3" width="1.11" height="386.3" fill="url(#gG)" opacity="0.897"/>
<rect x="657.31" y="1281.4" width="1.11" height="1153.5" fill="url(#gG)" opacity="0.146"/>
<rect x="657.31" y="1481.9" width="1.11" height="562.5" fill="url(#gG)" opacity="0.534"/>
<rect x="658.32" y="1310.4" width="1.11" height="1180.6" fill="url(#gG)" opacity="0.135"/>
<rect x="658.32" y="1511.0" width="1.11" height="589.2" fill="url(#gG)" opacity="0.851"/>
<rect x="659.33" y="1258.2" width="1.11" height="1188.9" fill="url(#gG)" opacity="0.000"/>
<rect x="659.33" y="1465.8" width="1.11" height="583.6" fill="url(#gG)" opacity="0.905"/>
<rect x="660.34" y="1293.0" width="1.11" height="1150.8" fill="url(#gG)" opacity="0.000"/>
<rect x="660.34" y="1578.1" width="1.11" height="390.6" fill="url(#gG)" opacity="0.900"/>
<rect x="661.35" y="1048.9" width="1.11" height="1614.6" fill="url(#gG)" opacity="0.198"/>
<rect x="661.35" y="1477.1" width="1.11" height="568.3" fill="url(#gG)" opacity="0.811"/>
<rect x="662.36" y="1000.2" width="1.11" height="1720.6" fill="url(#gG)" opacity="0.245"/>
<rect x="662.36" y="1493.3" width="1.11" height="544.4" fill="url(#gG)" opacity="0.660"/>
<rect x="663.37" y="1078.8" width="1.11" height="1604.4" fill="url(#gG)" opacity="0.011"/>
<rect x="663.37" y="1541.7" width="1.11" height="488.7" fill="url(#gG)" opacity="0.587"/>
<rect x="664.38" y="1128.8" width="1.11" height="1453.0" fill="url(#gG)" opacity="0.013"/>
<rect x="664.38" y="1509.7" width="1.11" height="501.3" fill="url(#gG)" opacity="0.582"/>
<rect x="665.39" y="1052.0" width="1.11" height="1667.5" fill="url(#gG)" opacity="0.150"/>
<rect x="665.39" y="1496.1" width="1.11" height="589.4" fill="url(#gG)" opacity="0.743"/>
<rect x="666.40" y="1224.4" width="1.11" height="1255.1" fill="url(#gG)" opacity="0.047"/>
<rect x="666.40" y="1501.9" width="1.11" height="510.2" fill="url(#gG)" opacity="0.271"/>
<rect x="667.41" y="1193.9" width="1.11" height="1318.9" fill="url(#gG)" opacity="0.175"/>
<rect x="667.41" y="1551.5" width="1.11" height="413.7" fill="url(#gG)" opacity="0.761"/>
<rect x="668.42" y="1335.9" width="1.11" height="1120.9" fill="url(#gG)" opacity="0.000"/>
<rect x="668.42" y="1546.8" width="1.11" height="508.9" fill="url(#gG)" opacity="0.682"/>
<rect x="669.43" y="1000.9" width="1.11" height="1689.8" fill="url(#gG)" opacity="0.018"/>
<rect x="669.43" y="1452.5" width="1.11" height="596.5" fill="url(#gG)" opacity="0.534"/>
<rect x="670.44" y="1382.0" width="1.11" height="1114.5" fill="url(#gG)" opacity="0.175"/>
<rect x="670.44" y="1648.2" width="1.11" height="392.1" fill="url(#gG)" opacity="0.816"/>
<rect x="671.45" y="1113.4" width="1.11" height="1564.8" fill="url(#gG)" opacity="0.000"/>
<rect x="671.45" y="1570.6" width="1.11" height="460.3" fill="url(#gG)" opacity="0.815"/>
<rect x="672.46" y="1098.6" width="1.11" height="1508.9" fill="url(#gG)" opacity="0.068"/>
<rect x="672.46" y="1482.1" width="1.11" height="552.0" fill="url(#gG)" opacity="0.837"/>
<rect x="673.47" y="1249.6" width="1.11" height="1233.7" fill="url(#gG)" opacity="0.000"/>
<rect x="673.47" y="1503.6" width="1.11" height="535.8" fill="url(#gG)" opacity="0.743"/>
<rect x="674.48" y="1237.9" width="1.11" height="1203.6" fill="url(#gG)" opacity="0.000"/>
<rect x="674.48" y="1554.3" width="1.11" height="380.8" fill="url(#gG)" opacity="0.659"/>
<rect x="675.49" y="1079.3" width="1.11" height="1629.8" fill="url(#gG)" opacity="0.000"/>
<rect x="675.49" y="1579.2" width="1.11" height="440.0" fill="url(#gG)" opacity="0.557"/>
<rect x="676.50" y="1295.9" width="1.11" height="1155.3" fill="url(#gG)" opacity="0.000"/>
<rect x="676.50" y="1561.4" width="1.11" height="434.4" fill="url(#gG)" opacity="0.848"/>
<rect x="677.51" y="1222.7" width="1.11" height="1336.3" fill="url(#gG)" opacity="0.105"/>
<rect x="677.51" y="1520.1" width="1.11" height="551.4" fill="url(#gG)" opacity="0.574"/>
<rect x="678.52" y="1135.2" width="1.11" height="1582.8" fill="url(#gG)" opacity="0.023"/>
<rect x="678.52" y="1639.9" width="1.11" height="383.5" fill="url(#gG)" opacity="0.298"/>
<rect x="679.53" y="1237.5" width="1.11" height="1336.0" fill="url(#gG)" opacity="0.000"/>
<rect x="679.53" y="1582.7" width="1.11" height="455.7" fill="url(#gG)" opacity="0.052"/>
<rect x="680.54" y="1127.4" width="1.11" height="1454.3" fill="url(#gG)" opacity="0.024"/>
<rect x="680.54" y="1522.8" width="1.11" height="473.4" fill="url(#gG)" opacity="0.029"/>
<rect x="681.55" y="1120.4" width="1.11" height="1482.9" fill="url(#gG)" opacity="0.057"/>
<rect x="681.55" y="1532.6" width="1.11" height="468.6" fill="url(#gG)" opacity="0.252"/>
<rect x="682.56" y="1368.4" width="1.11" height="1133.1" fill="url(#gG)" opacity="0.071"/>
<rect x="682.56" y="1580.6" width="1.11" height="518.6" fill="url(#gG)" opacity="0.231"/>
<rect x="683.57" y="1143.8" width="1.11" height="1517.9" fill="url(#gG)" opacity="0.000"/>
<rect x="683.57" y="1550.0" width="1.11" height="515.6" fill="url(#gG)" opacity="0.687"/>
<rect x="684.58" y="1109.8" width="1.11" height="1622.3" fill="url(#gG)" opacity="0.042"/>
<rect x="684.58" y="1557.4" width="1.11" height="537.2" fill="url(#gG)" opacity="0.281"/>
<rect x="685.59" y="1306.4" width="1.11" height="1233.3" fill="url(#gG)" opacity="0.141"/>
<rect x="685.59" y="1615.3" width="1.11" height="425.4" fill="url(#gG)" opacity="0.328"/>
<rect x="686.60" y="1132.9" width="1.11" height="1411.4" fill="url(#gG)" opacity="0.037"/>
<rect x="686.60" y="1513.9" width="1.11" height="459.2" fill="url(#gG)" opacity="0.169"/>
<rect x="687.61" y="1156.2" width="1.11" height="1464.9" fill="url(#gG)" opacity="0.087"/>
<rect x="687.61" y="1497.3" width="1.11" height="592.8" fill="url(#gG)" opacity="0.287"/>
<rect x="688.62" y="1120.7" width="1.11" height="1544.1" fill="url(#gG)" opacity="0.478"/>
<rect x="688.62" y="1606.0" width="1.11" height="383.6" fill="url(#gG)" opacity="0.000"/>
<rect x="689.63" y="1120.7" width="1.11" height="1485.1" fill="url(#gG)" opacity="0.087"/>
<rect x="689.63" y="1530.5" width="1.11" height="475.5" fill="url(#gG)" opacity="0.263"/>
<rect x="690.64" y="1023.3" width="1.11" height="1644.5" fill="url(#gG)" opacity="0.054"/>
<rect x="690.64" y="1530.9" width="1.11" height="439.3" fill="url(#gG)" opacity="0.000"/>
<rect x="691.65" y="1268.5" width="1.11" height="1208.3" fill="url(#gG)" opacity="0.198"/>
<rect x="691.65" y="1567.1" width="1.11" height="421.3" fill="url(#gG)" opacity="0.237"/>
<rect x="692.66" y="1175.1" width="1.11" height="1431.3" fill="url(#gG)" opacity="0.017"/>
<rect x="692.66" y="1535.8" width="1.11" height="519.8" fill="url(#gG)" opacity="0.284"/>
<rect x="693.67" y="1001.7" width="1.11" height="1675.0" fill="url(#gG)" opacity="0.148"/>
<rect x="693.67" y="1452.0" width="1.11" height="584.3" fill="url(#gG)" opacity="0.156"/>
<rect x="694.68" y="1156.3" width="1.11" height="1379.6" fill="url(#gG)" opacity="0.000"/>
<rect x="694.68" y="1560.1" width="1.11" height="381.9" fill="url(#gG)" opacity="0.261"/>
<rect x="695.69" y="1066.0" width="1.11" height="1619.1" fill="url(#gG)" opacity="0.076"/>
<rect x="695.69" y="1509.4" width="1.11" height="542.4" fill="url(#gG)" opacity="0.199"/>
<rect x="696.70" y="1202.1" width="1.11" height="1248.7" fill="url(#gG)" opacity="0.000"/>
<rect x="696.70" y="1495.6" width="1.11" height="471.8" fill="url(#gG)" opacity="0.552"/>
<rect x="697.71" y="1172.1" width="1.11" height="1445.0" fill="url(#gG)" opacity="0.000"/>
<rect x="697.71" y="1508.0" width="1.11" height="583.3" fill="url(#gG)" opacity="0.622"/>
<rect x="698.72" y="1192.3" width="1.11" height="1330.2" fill="url(#gG)" opacity="0.000"/>
<rect x="698.72" y="1516.6" width="1.11" height="491.6" fill="url(#gG)" opacity="0.583"/>
<rect x="699.73" y="1281.9" width="1.11" height="1219.5" fill="url(#gG)" opacity="0.000"/>
<rect x="699.73" y="1532.2" width="1.11" height="529.0" fill="url(#gG)" opacity="0.331"/>
<rect x="700.74" y="1106.8" width="1.11" height="1569.7" fill="url(#gG)" opacity="0.000"/>
<rect x="700.74" y="1547.7" width="1.11" height="498.0" fill="url(#gG)" opacity="0.405"/>
<rect x="701.75" y="1314.5" width="1.11" height="1134.3" fill="url(#gG)" opacity="0.001"/>
<rect x="701.75" y="1563.4" width="1.11" height="446.7" fill="url(#gG)" opacity="0.340"/>
<rect x="702.76" y="1143.3" width="1.11" height="1418.1" fill="url(#gG)" opacity="0.000"/>
<rect x="702.76" y="1464.9" width="1.11" height="584.9" fill="url(#gG)" opacity="0.038"/>
<rect x="703.77" y="1170.2" width="1.11" height="1453.1" fill="url(#gG)" opacity="0.372"/>
<rect x="703.77" y="1574.5" width="1.11" height="454.4" fill="url(#gG)" opacity="0.000"/>
<rect x="704.78" y="1174.6" width="1.11" height="1409.9" fill="url(#gG)" opacity="0.109"/>
<rect x="704.78" y="1594.5" width="1.11" height="380.0" fill="url(#gG)" opacity="0.200"/>
<rect x="705.79" y="1014.5" width="1.11" height="1693.5" fill="url(#gG)" opacity="0.142"/>
<rect x="705.79" y="1520.9" width="1.11" height="490.7" fill="url(#gG)" opacity="0.106"/>
<rect x="706.80" y="1113.9" width="1.11" height="1565.1" fill="url(#gG)" opacity="0.164"/>
<rect x="706.80" y="1552.9" width="1.11" height="497.1" fill="url(#gG)" opacity="0.123"/>
<rect x="707.81" y="1259.1" width="1.11" height="1229.2" fill="url(#gG)" opacity="0.000"/>
<rect x="707.81" y="1539.4" width="1.11" height="478.6" fill="url(#gG)" opacity="0.502"/>
<rect x="708.82" y="1261.6" width="1.11" height="1337.8" fill="url(#gG)" opacity="0.136"/>
<rect x="708.82" y="1605.2" width="1.11" height="460.5" fill="url(#gG)" opacity="0.562"/>
<rect x="709.83" y="1175.8" width="1.11" height="1345.7" fill="url(#gG)" opacity="0.342"/>
<rect x="709.83" y="1509.3" width="1.11" height="488.8" fill="url(#gG)" opacity="0.000"/>
<rect x="710.84" y="1242.7" width="1.11" height="1309.9" fill="url(#gG)" opacity="0.199"/>
<rect x="710.84" y="1614.0" width="1.11" height="377.3" fill="url(#gG)" opacity="0.234"/>
<rect x="711.85" y="1246.2" width="1.11" height="1286.2" fill="url(#gG)" opacity="0.333"/>
<rect x="711.85" y="1553.3" width="1.11" height="482.0" fill="url(#gG)" opacity="0.000"/>
<rect x="712.86" y="1416.6" width="1.11" height="980.8" fill="url(#gG)" opacity="0.265"/>
<rect x="712.86" y="1547.3" width="1.11" height="529.4" fill="url(#gG)" opacity="0.000"/>
<rect x="713.87" y="1364.9" width="1.11" height="1033.9" fill="url(#gG)" opacity="0.000"/>
<rect x="713.87" y="1574.2" width="1.11" height="425.3" fill="url(#gG)" opacity="0.136"/>
<rect x="714.88" y="1173.7" width="1.11" height="1458.2" fill="url(#gG)" opacity="0.113"/>
<rect x="714.88" y="1580.3" width="1.11" height="455.1" fill="url(#gG)" opacity="0.052"/>
<rect x="715.89" y="1261.8" width="1.11" height="1212.4" fill="url(#gG)" opacity="0.000"/>
<rect x="715.89" y="1518.2" width="1.11" height="509.6" fill="url(#gG)" opacity="0.029"/>
<rect x="716.90" y="1160.2" width="1.11" height="1376.6" fill="url(#gG)" opacity="0.000"/>
<rect x="716.90" y="1538.0" width="1.11" height="431.0" fill="url(#gG)" opacity="0.070"/>
<rect x="717.91" y="1402.1" width="1.11" height="967.4" fill="url(#gG)" opacity="0.000"/>
<rect x="717.91" y="1514.4" width="1.11" height="552.8" fill="url(#gG)" opacity="0.429"/>
<rect x="718.92" y="1360.2" width="1.11" height="1057.7" fill="url(#gG)" opacity="0.000"/>
<rect x="718.92" y="1572.3" width="1.11" height="443.6" fill="url(#gG)" opacity="0.213"/>
<rect x="719.93" y="1397.6" width="1.11" height="1025.8" fill="url(#gG)" opacity="0.000"/>
<rect x="719.93" y="1622.3" width="1.11" height="387.2" fill="url(#gG)" opacity="0.231"/>
<rect x="720.94" y="1399.3" width="1.11" height="969.9" fill="url(#gG)" opacity="0.000"/>
<rect x="720.94" y="1523.2" width="1.11" height="534.6" fill="url(#gG)" opacity="0.202"/>
<rect x="721.95" y="1178.4" width="1.11" height="1413.1" fill="url(#gG)" opacity="0.000"/>
<rect x="721.95" y="1511.7" width="1.11" height="560.9" fill="url(#gG)" opacity="0.343"/>
<rect x="722.96" y="1344.4" width="1.11" height="1187.3" fill="url(#gG)" opacity="0.000"/>
<rect x="722.96" y="1551.0" width="1.11" height="590.0" fill="url(#gG)" opacity="0.569"/>
<rect x="723.97" y="1151.2" width="1.11" height="1436.6" fill="url(#gG)" opacity="0.000"/>
<rect x="723.97" y="1504.0" width="1.11" height="548.8" fill="url(#gG)" opacity="0.418"/>
<rect x="724.98" y="1254.6" width="1.11" height="1221.4" fill="url(#gG)" opacity="0.000"/>
<rect x="724.98" y="1495.0" width="1.11" height="560.2" fill="url(#gG)" opacity="0.622"/>
<rect x="725.99" y="1286.6" width="1.11" height="1152.7" fill="url(#gG)" opacity="0.000"/>
<rect x="725.99" y="1537.8" width="1.11" height="471.6" fill="url(#gG)" opacity="0.494"/>
<rect x="727.00" y="1247.7" width="1.11" height="1207.8" fill="url(#gG)" opacity="0.172"/>
<rect x="727.00" y="1470.3" width="1.11" height="585.8" fill="url(#gG)" opacity="0.517"/>
<rect x="728.01" y="1081.5" width="1.11" height="1483.2" fill="url(#gG)" opacity="0.059"/>
<rect x="728.01" y="1462.0" width="1.11" height="547.0" fill="url(#gG)" opacity="0.579"/>
<rect x="729.02" y="1262.6" width="1.11" height="1275.3" fill="url(#gG)" opacity="0.218"/>
<rect x="729.02" y="1522.5" width="1.11" height="582.1" fill="url(#gG)" opacity="0.000"/>
<rect x="730.03" y="1350.8" width="1.11" height="1035.6" fill="url(#gG)" opacity="0.414"/>
<rect x="730.03" y="1551.2" width="1.11" height="463.4" fill="url(#gG)" opacity="0.000"/>
<rect x="731.04" y="1370.9" width="1.11" height="972.8" fill="url(#gG)" opacity="0.272"/>
<rect x="731.04" y="1517.8" width="1.11" height="509.1" fill="url(#gG)" opacity="0.000"/>
<rect x="732.05" y="1248.4" width="1.11" height="1234.3" fill="url(#gG)" opacity="0.103"/>
<rect x="732.05" y="1500.5" width="1.11" height="562.0" fill="url(#gG)" opacity="0.258"/>
<rect x="733.06" y="1196.3" width="1.11" height="1327.4" fill="url(#gG)" opacity="0.197"/>
<rect x="733.06" y="1507.4" width="1.11" height="538.8" fill="url(#gG)" opacity="0.000"/>
<rect x="734.07" y="1360.2" width="1.11" height="989.2" fill="url(#gG)" opacity="0.366"/>
<rect x="734.07" y="1570.0" width="1.11" height="405.0" fill="url(#gG)" opacity="0.000"/>
<rect x="735.08" y="1231.6" width="1.11" height="1276.2" fill="url(#gG)" opacity="0.430"/>
<rect x="735.08" y="1592.2" width="1.11" height="392.4" fill="url(#gG)" opacity="0.000"/>
<rect x="736.09" y="1102.5" width="1.11" height="1480.4" fill="url(#gG)" opacity="0.000"/>
<rect x="736.09" y="1480.4" width="1.11" height="563.5" fill="url(#gG)" opacity="0.369"/>
<rect x="737.10" y="1189.6" width="1.11" height="1369.0" fill="url(#gG)" opacity="0.000"/>
<rect x="737.10" y="1510.6" width="1.11" height="567.7" fill="url(#gG)" opacity="0.409"/>
<rect x="738.11" y="1344.1" width="1.11" height="1024.6" fill="url(#gG)" opacity="0.000"/>
<rect x="738.11" y="1554.2" width="1.11" height="446.9" fill="url(#gG)" opacity="0.718"/>
<rect x="739.12" y="1250.9" width="1.11" height="1198.9" fill="url(#gG)" opacity="0.330"/>
<rect x="739.12" y="1512.5" width="1.11" height="519.9" fill="url(#gG)" opacity="0.955"/>
<rect x="740.13" y="1326.7" width="1.11" height="1119.5" fill="url(#gG)" opacity="0.319"/>
<rect x="740.13" y="1594.7" width="1.11" height="429.6" fill="url(#gG)" opacity="0.077"/>
<rect x="741.14" y="1291.8" width="1.11" height="1208.9" fill="url(#gG)" opacity="0.006"/>
<rect x="741.14" y="1572.7" width="1.11" height="494.8" fill="url(#gG)" opacity="0.297"/>
<rect x="742.15" y="1206.3" width="1.11" height="1339.6" fill="url(#gG)" opacity="0.060"/>
<rect x="742.15" y="1580.1" width="1.11" height="441.4" fill="url(#gG)" opacity="0.516"/>
<rect x="743.16" y="1308.8" width="1.11" height="1028.1" fill="url(#gG)" opacity="0.224"/>
<rect x="743.16" y="1482.1" width="1.11" height="532.9" fill="url(#gG)" opacity="0.659"/>
<rect x="744.17" y="1353.8" width="1.11" height="1037.0" fill="url(#gG)" opacity="0.223"/>
<rect x="744.17" y="1523.6" width="1.11" height="550.5" fill="url(#gG)" opacity="0.659"/>
<rect x="745.18" y="1121.8" width="1.11" height="1467.6" fill="url(#gG)" opacity="0.275"/>
<rect x="745.18" y="1580.5" width="1.11" height="405.1" fill="url(#gG)" opacity="0.549"/>
<rect x="746.19" y="1186.0" width="1.11" height="1346.8" fill="url(#gG)" opacity="0.219"/>
<rect x="746.19" y="1547.3" width="1.11" height="480.8" fill="url(#gG)" opacity="0.312"/>
<rect x="747.20" y="1330.1" width="1.11" height="1080.5" fill="url(#gG)" opacity="0.225"/>
<rect x="747.20" y="1609.7" width="1.11" height="379.6" fill="url(#gG)" opacity="0.658"/>
<rect x="748.21" y="1163.8" width="1.11" height="1437.7" fill="url(#gG)" opacity="0.000"/>
<rect x="748.21" y="1592.6" width="1.11" height="440.2" fill="url(#gG)" opacity="0.645"/>
<rect x="749.22" y="1100.8" width="1.11" height="1498.7" fill="url(#gG)" opacity="0.184"/>
<rect x="749.22" y="1502.0" width="1.11" height="558.3" fill="url(#gG)" opacity="0.598"/>
<rect x="750.23" y="1142.2" width="1.11" height="1401.9" fill="url(#gG)" opacity="0.179"/>
<rect x="750.23" y="1555.6" width="1.11" height="438.7" fill="url(#gG)" opacity="0.677"/>
<rect x="751.24" y="1332.7" width="1.11" height="1071.9" fill="url(#gG)" opacity="0.238"/>
<rect x="751.24" y="1594.9" width="1.11" height="413.0" fill="url(#gG)" opacity="0.165"/>
<rect x="752.25" y="1138.7" width="1.11" height="1366.9" fill="url(#gG)" opacity="0.296"/>
<rect x="752.25" y="1516.1" width="1.11" height="479.2" fill="url(#gG)" opacity="0.000"/>
<rect x="753.26" y="1343.7" width="1.11" height="1057.5" fill="url(#gG)" opacity="0.404"/>
<rect x="753.26" y="1591.7" width="1.11" height="430.4" fill="url(#gG)" opacity="0.000"/>
<rect x="754.27" y="1282.7" width="1.11" height="1123.5" fill="url(#gG)" opacity="0.525"/>
<rect x="754.27" y="1521.3" width="1.11" height="517.1" fill="url(#gG)" opacity="0.000"/>
<rect x="755.28" y="1167.3" width="1.11" height="1265.4" fill="url(#gG)" opacity="0.000"/>
<rect x="755.28" y="1465.9" width="1.11" height="540.8" fill="url(#gG)" opacity="0.525"/>
<rect x="756.29" y="1321.6" width="1.11" height="1119.1" fill="url(#gG)" opacity="0.371"/>
<rect x="756.29" y="1563.9" width="1.11" height="508.6" fill="url(#gG)" opacity="0.000"/>
<rect x="757.30" y="1274.7" width="1.11" height="998.4" fill="url(#gG)" opacity="0.000"/>
<rect x="757.30" y="1420.1" width="1.11" height="583.5" fill="url(#gG)" opacity="0.735"/>
<rect x="758.31" y="1137.4" width="1.11" height="1400.5" fill="url(#gG)" opacity="0.000"/>
<rect x="758.31" y="1498.2" width="1.11" height="556.6" fill="url(#gG)" opacity="0.488"/>
<rect x="759.32" y="1140.3" width="1.11" height="1447.8" fill="url(#gG)" opacity="0.233"/>
<rect x="759.32" y="1563.3" width="1.11" height="481.5" fill="url(#gG)" opacity="0.402"/>
<rect x="760.33" y="1206.6" width="1.11" height="1260.1" fill="url(#gG)" opacity="0.261"/>
<rect x="760.33" y="1517.1" width="1.11" height="520.3" fill="url(#gG)" opacity="0.280"/>
<rect x="761.34" y="1245.0" width="1.11" height="1240.9" fill="url(#gG)" opacity="0.442"/>
<rect x="761.34" y="1600.0" width="1.11" height="414.0" fill="url(#gG)" opacity="0.000"/>
<rect x="762.35" y="1366.0" width="1.11" height="994.3" fill="url(#gG)" opacity="0.630"/>
<rect x="762.35" y="1532.2" width="1.11" height="546.7" fill="url(#gG)" opacity="0.000"/>
<rect x="763.36" y="1167.0" width="1.11" height="1284.7" fill="url(#gG)" opacity="0.189"/>
<rect x="763.36" y="1531.8" width="1.11" height="441.7" fill="url(#gG)" opacity="0.201"/>
<rect x="764.37" y="1104.1" width="1.11" height="1405.2" fill="url(#gG)" opacity="0.547"/>
<rect x="764.37" y="1519.2" width="1.11" height="463.3" fill="url(#gG)" opacity="0.000"/>
<rect x="765.38" y="1217.6" width="1.11" height="1269.8" fill="url(#gG)" opacity="0.173"/>
<rect x="765.38" y="1584.6" width="1.11" height="425.9" fill="url(#gG)" opacity="0.126"/>
<rect x="766.39" y="1221.6" width="1.11" height="1193.6" fill="url(#gG)" opacity="0.031"/>
<rect x="766.39" y="1503.0" width="1.11" height="522.9" fill="url(#gG)" opacity="0.144"/>
<rect x="767.40" y="1121.8" width="1.11" height="1348.2" fill="url(#gG)" opacity="0.018"/>
<rect x="767.40" y="1486.9" width="1.11" height="511.7" fill="url(#gG)" opacity="0.496"/>
<rect x="768.41" y="1293.8" width="1.11" height="1189.8" fill="url(#gG)" opacity="0.000"/>
<rect x="768.41" y="1590.4" width="1.11" height="492.0" fill="url(#gG)" opacity="0.261"/>
<rect x="769.42" y="1256.7" width="1.11" height="1165.2" fill="url(#gG)" opacity="0.000"/>
<rect x="769.42" y="1547.4" width="1.11" height="481.0" fill="url(#gG)" opacity="0.134"/>
<rect x="770.43" y="1170.8" width="1.11" height="1257.9" fill="url(#gG)" opacity="0.000"/>
<rect x="770.43" y="1551.7" width="1.11" height="395.0" fill="url(#gG)" opacity="0.119"/>
<rect x="771.44" y="1288.4" width="1.11" height="1014.1" fill="url(#gG)" opacity="0.000"/>
<rect x="771.44" y="1506.0" width="1.11" height="479.6" fill="url(#gG)" opacity="0.386"/>
<rect x="772.45" y="1345.5" width="1.11" height="1014.4" fill="url(#gG)" opacity="0.000"/>
<rect x="772.45" y="1576.6" width="1.11" height="454.6" fill="url(#gG)" opacity="0.721"/>
<rect x="773.46" y="1264.6" width="1.11" height="1080.4" fill="url(#gG)" opacity="0.000"/>
<rect x="773.46" y="1461.6" width="1.11" height="590.6" fill="url(#gG)" opacity="0.351"/>
<rect x="774.47" y="1243.9" width="1.11" height="1158.0" fill="url(#gG)" opacity="0.087"/>
<rect x="774.47" y="1585.6" width="1.11" height="380.6" fill="url(#gG)" opacity="0.518"/>
<rect x="775.48" y="1163.5" width="1.11" height="1379.2" fill="url(#gG)" opacity="0.126"/>
<rect x="775.48" y="1529.9" width="1.11" height="554.0" fill="url(#gG)" opacity="0.644"/>
<rect x="776.49" y="1089.9" width="1.11" height="1498.8" fill="url(#gG)" opacity="0.000"/>
<rect x="776.49" y="1571.6" width="1.11" height="444.9" fill="url(#gG)" opacity="0.517"/>
<rect x="777.50" y="1218.4" width="1.11" height="1228.8" fill="url(#gG)" opacity="0.583"/>
<rect x="777.50" y="1528.9" width="1.11" height="519.0" fill="url(#gG)" opacity="0.175"/>
<rect x="778.51" y="1155.2" width="1.11" height="1356.4" fill="url(#gG)" opacity="0.166"/>
<rect x="778.51" y="1511.6" width="1.11" height="556.7" fill="url(#gG)" opacity="0.644"/>
<rect x="779.52" y="1236.5" width="1.11" height="1125.6" fill="url(#gG)" opacity="0.215"/>
<rect x="779.52" y="1559.5" width="1.11" height="394.4" fill="url(#gG)" opacity="0.359"/>
<rect x="780.53" y="1332.8" width="1.11" height="1044.7" fill="url(#gG)" opacity="0.552"/>
<rect x="780.53" y="1594.0" width="1.11" height="439.0" fill="url(#gG)" opacity="0.000"/>
<rect x="781.54" y="1086.2" width="0.16" height="1488.6" fill="url(#gG)" opacity="0.149"/>
<rect x="781.54" y="1582.1" width="0.16" height="414.3" fill="url(#gG)" opacity="0.189"/>
<rect x="229.5" y="1468.3" width="1.5" height="640.9" fill="#fff" opacity="0.6"/>
<rect x="439" y="1470" width="1.3" height="420" fill="url(#gG)" opacity="0.9"/>
<rect x="736.4" y="1330" width="2.0" height="780" fill="url(#gG)" opacity="0.95"/>
<rect x="486.8" y="1300" width="1.6" height="900" fill="url(#gG)" opacity="0.75"/>
<rect x="686" y="1780" width="1.8" height="360" fill="url(#gG)" opacity="0.75"/>
<rect x="538" y="1840" width="1.6" height="330" fill="url(#gG)" opacity="0.6"/>
<rect x="591" y="1380" width="1.3" height="260" fill="url(#gG)" opacity="0.6"/>
</g></g>
<rect x="809.5" y="1466.4" width="17.3" height="647.8" fill="url(#gCbC)" stroke="#000" stroke-width="1.2"/>
<line x1="826.8" y1="1532.13" x2="840.3" y2="1532.13" stroke="#000" stroke-width="2.9"/>
<text transform="translate(887.80,1532.13) rotate(-90)" font-size="34" text-anchor="middle">0.8</text>
<line x1="826.8" y1="1678.19" x2="840.3" y2="1678.19" stroke="#000" stroke-width="2.9"/>
<text transform="translate(887.80,1678.19) rotate(-90)" font-size="34" text-anchor="middle">0.6</text>
<line x1="826.8" y1="1824.26" x2="840.3" y2="1824.26" stroke="#000" stroke-width="2.9"/>
<text transform="translate(887.80,1824.26) rotate(-90)" font-size="34" text-anchor="middle">0.4</text>
<line x1="826.8" y1="1970.33" x2="840.3" y2="1970.33" stroke="#000" stroke-width="2.9"/>
<text transform="translate(887.80,1970.33) rotate(-90)" font-size="34" text-anchor="middle">0.2</text>
<text transform="translate(937.70,1790.20) rotate(-90)" font-size="33" text-anchor="middle" textLength="176" lengthAdjust="spacingAndGlyphs">Coherence</text>
<rect x="119.6" y="1466.8" width="663.50" height="643.80" fill="none" stroke="#000" stroke-width="3.1"/>
<line x1="249.30" y1="2110.6" x2="249.30" y2="2122.1" stroke="#000" stroke-width="2.9"/>
<text x="249.80" y="2165.30" font-size="34" text-anchor="middle" textLength="112.5" lengthAdjust="spacingAndGlyphs">04 Jun</text>
<line x1="394.70" y1="2110.6" x2="394.70" y2="2122.1" stroke="#000" stroke-width="2.9"/>
<text x="395.20" y="2165.30" font-size="34" text-anchor="middle" textLength="112.5" lengthAdjust="spacingAndGlyphs">07 Jun</text>
<line x1="540.10" y1="2110.6" x2="540.10" y2="2122.1" stroke="#000" stroke-width="2.9"/>
<text x="540.60" y="2165.30" font-size="34" text-anchor="middle" textLength="112.5" lengthAdjust="spacingAndGlyphs">10 Jun</text>
<line x1="685.50" y1="2110.6" x2="685.50" y2="2122.1" stroke="#000" stroke-width="2.9"/>
<text x="686.00" y="2165.30" font-size="34" text-anchor="middle" textLength="112.5" lengthAdjust="spacingAndGlyphs">13 Jun</text>
<line x1="119.6" y1="1467.30" x2="107.6" y2="1467.30" stroke="#000" stroke-width="2.9"/>
<text transform="translate(91.50,1467.30) rotate(-90)" font-size="34" text-anchor="middle">0.1</text>
<line x1="119.6" y1="1628.12" x2="107.6" y2="1628.12" stroke="#000" stroke-width="2.9"/>
<text transform="translate(91.50,1628.12) rotate(-90)" font-size="34" text-anchor="middle">0.05</text>
<line x1="119.6" y1="1788.95" x2="107.6" y2="1788.95" stroke="#000" stroke-width="2.9"/>
<text transform="translate(91.50,1788.95) rotate(-90)" font-size="34" text-anchor="middle">0.00</text>
<line x1="119.6" y1="1949.78" x2="107.6" y2="1949.78" stroke="#000" stroke-width="2.9"/>
<text transform="translate(91.50,1949.78) rotate(-90)" font-size="34" text-anchor="middle" textLength="92.048" lengthAdjust="spacingAndGlyphs">-0.05</text>
<line x1="119.6" y1="2110.60" x2="107.6" y2="2110.60" stroke="#000" stroke-width="2.9"/>
<text transform="translate(91.50,2110.60) rotate(-90)" font-size="34" text-anchor="middle" textLength="69.615" lengthAdjust="spacingAndGlyphs">-0.1</text>
<text transform="translate(31.80,1790.50) rotate(-90)" font-size="42" text-anchor="middle" textLength="95" lengthAdjust="spacingAndGlyphs">dv/v</text>
<circle cx="27.7" cy="1474.0" r="27.2" fill="#000"/><text x="25.80" y="1487.20" font-size="48" text-anchor="middle" textLength="28.5" lengthAdjust="spacingAndGlyphs" font-weight="bold" fill="#fff">c</text>
<text x="451.50" y="2235.70" font-size="42" text-anchor="middle" textLength="311" lengthAdjust="spacingAndGlyphs">Date (in 2023)</text>
</svg>
</body></html>
